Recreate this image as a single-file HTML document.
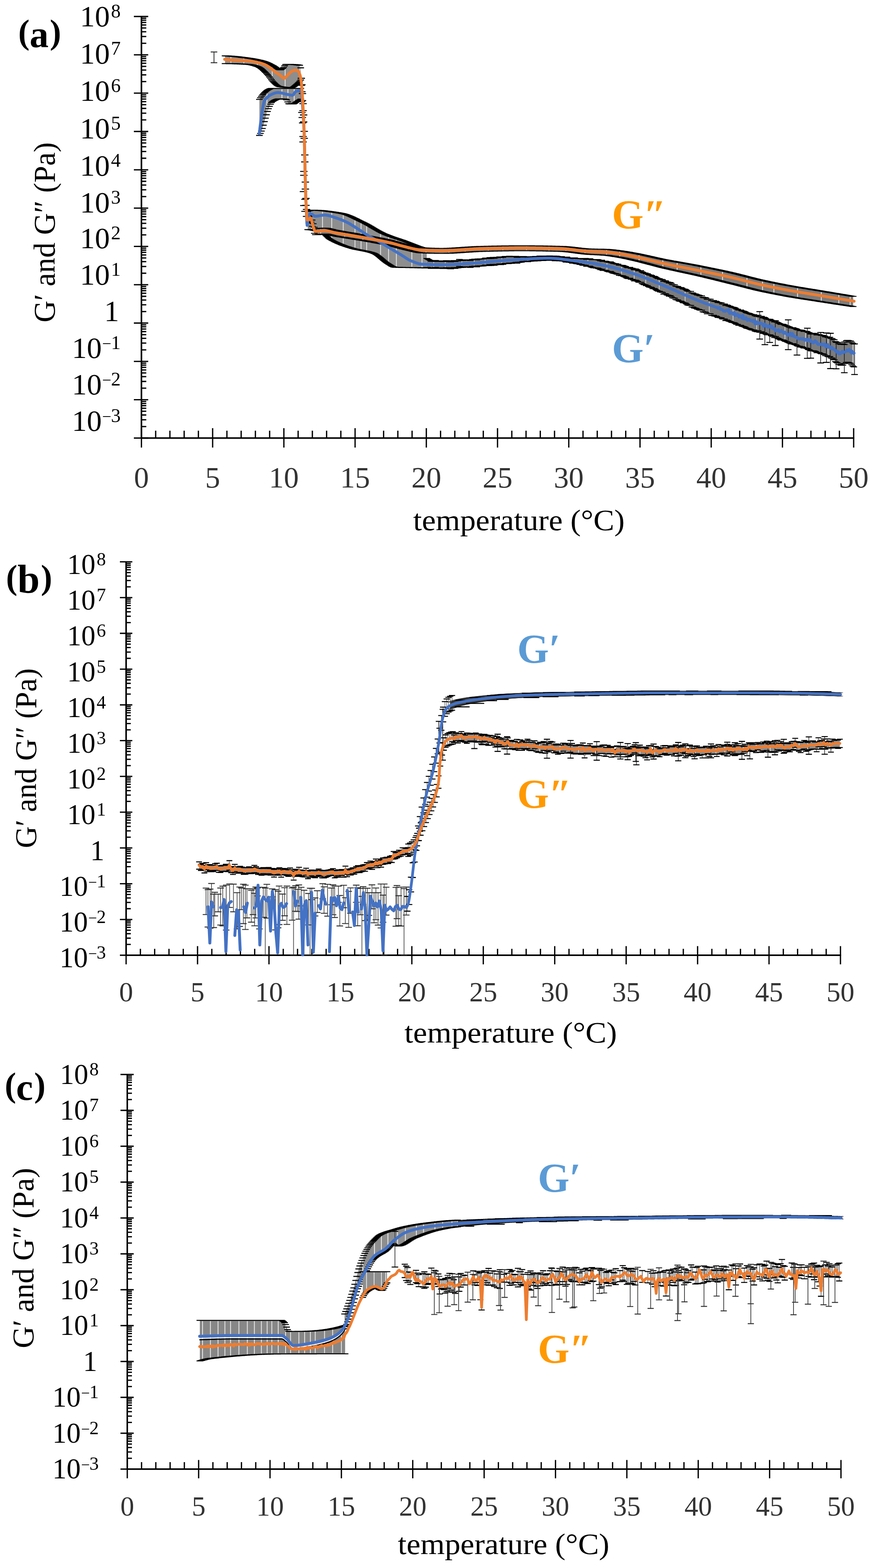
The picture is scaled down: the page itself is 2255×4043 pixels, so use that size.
<!DOCTYPE html>
<html><head><meta charset="utf-8"><title>G' and G'' vs temperature</title>
<style>
html,body{margin:0;padding:0;background:#fff;}
body{width:2255px;height:4043px;overflow:hidden;}
svg{display:block;}
text{font-family:'Liberation Serif', 'DejaVu Serif', serif;}
</style></head><body>
<svg width="2255" height="4043" viewBox="0 0 2255 4043">
<rect width="2255" height="4043" fill="#fff"/>
<path d="M364.5 41V1131 M363 1129.5H2201.5" stroke="#000" stroke-width="4.0" fill="none"/>
<path d="M345 42.5H382M364.5 111.6H377M364.5 94.2H377M364.5 81.8H377M364.5 72.2H377M364.5 64.4H377M364.5 57.8H377M364.5 52.1H377M364.5 47H377M345 141.3H382M364.5 210.4H377M364.5 193H377M364.5 180.6H377M364.5 171.1H377M364.5 163.2H377M364.5 156.6H377M364.5 150.9H377M364.5 145.8H377M345 240.1H382M364.5 309.2H377M364.5 291.8H377M364.5 279.5H377M364.5 269.9H377M364.5 262.1H377M364.5 255.4H377M364.5 249.7H377M364.5 244.7H377M345 339H382M364.5 408H377M364.5 390.6H377M364.5 378.3H377M364.5 368.7H377M364.5 360.9H377M364.5 354.3H377M364.5 348.5H377M364.5 343.5H377M345 437.8H382M364.5 506.8H377M364.5 489.4H377M364.5 477.1H377M364.5 467.5H377M364.5 459.7H377M364.5 453.1H377M364.5 447.3H377M364.5 442.3H377M345 536.6H382M364.5 605.7H377M364.5 588.3H377M364.5 575.9H377M364.5 566.3H377M364.5 558.5H377M364.5 551.9H377M364.5 546.2H377M364.5 541.1H377M345 635.4H382M364.5 704.5H377M364.5 687.1H377M364.5 674.7H377M364.5 665.2H377M364.5 657.3H377M364.5 650.7H377M364.5 645H377M364.5 639.9H377M345 734.2H382M364.5 803.3H377M364.5 785.9H377M364.5 773.6H377M364.5 764H377M364.5 756.1H377M364.5 749.5H377M364.5 743.8H377M364.5 738.7H377M345 833H382M364.5 902.1H377M364.5 884.7H377M364.5 872.4H377M364.5 862.8H377M364.5 855H377M364.5 848.4H377M364.5 842.6H377M364.5 837.6H377M345 931.9H382M364.5 1000.9H377M364.5 983.5H377M364.5 971.2H377M364.5 961.6H377M364.5 953.8H377M364.5 947.2H377M364.5 941.4H377M364.5 936.4H377M345 1030.7H382M364.5 1099.8H377M364.5 1082.4H377M364.5 1070H377M364.5 1060.4H377M364.5 1052.6H377M364.5 1046H377M364.5 1040.3H377M364.5 1035.2H377M345 1129.5H382M364.5 1104V1154M401.2 1110.5V1129.5M437.9 1110.5V1129.5M474.6 1110.5V1129.5M511.3 1110.5V1129.5M548 1104V1154M584.8 1110.5V1129.5M621.5 1110.5V1129.5M658.2 1110.5V1129.5M694.9 1110.5V1129.5M731.6 1104V1154M768.3 1110.5V1129.5M805 1110.5V1129.5M841.7 1110.5V1129.5M878.4 1110.5V1129.5M915.1 1104V1154M951.9 1110.5V1129.5M988.6 1110.5V1129.5M1025.3 1110.5V1129.5M1062 1110.5V1129.5M1098.7 1104V1154M1135.4 1110.5V1129.5M1172.1 1110.5V1129.5M1208.8 1110.5V1129.5M1245.5 1110.5V1129.5M1282.2 1104V1154M1319 1110.5V1129.5M1355.7 1110.5V1129.5M1392.4 1110.5V1129.5M1429.1 1110.5V1129.5M1465.8 1104V1154M1502.5 1110.5V1129.5M1539.2 1110.5V1129.5M1575.9 1110.5V1129.5M1612.6 1110.5V1129.5M1649.4 1104V1154M1686.1 1110.5V1129.5M1722.8 1110.5V1129.5M1759.5 1110.5V1129.5M1796.2 1110.5V1129.5M1832.9 1104V1154M1869.6 1110.5V1129.5M1906.3 1110.5V1129.5M1943 1110.5V1129.5M1979.7 1110.5V1129.5M2016.5 1104V1154M2053.2 1110.5V1129.5M2089.9 1110.5V1129.5M2126.6 1110.5V1129.5M2163.3 1110.5V1129.5M2200 1104V1154" stroke="#000" stroke-width="3.3" fill="none"/>
<text x="311" y="67.8" font-size="77" text-anchor="end">10<tspan dx="3" dy="-23" font-size="50">8</tspan></text>
<text x="311" y="164.3" font-size="77" text-anchor="end">10<tspan dx="3" dy="-23" font-size="50">7</tspan></text>
<text x="311" y="260.4" font-size="77" text-anchor="end">10<tspan dx="3" dy="-23" font-size="50">6</tspan></text>
<text x="311" y="357" font-size="77" text-anchor="end">10<tspan dx="3" dy="-23" font-size="50">5</tspan></text>
<text x="311" y="453.1" font-size="77" text-anchor="end">10<tspan dx="3" dy="-23" font-size="50">4</tspan></text>
<text x="311" y="547.8" font-size="77" text-anchor="end">10<tspan dx="3" dy="-23" font-size="50">3</tspan></text>
<text x="311" y="640" font-size="77" text-anchor="end">10<tspan dx="3" dy="-23" font-size="50">2</tspan></text>
<text x="311" y="734.3" font-size="77" text-anchor="end">10<tspan dx="3" dy="-23" font-size="50">1</tspan></text>
<text x="307" y="828.3" font-size="77" text-anchor="end">1</text>
<text x="311" y="922.6" font-size="77" text-anchor="end">10<tspan dx="1" dy="-23" font-size="42">−</tspan><tspan dx="-1" font-size="50">1</tspan></text>
<text x="311" y="1016.6" font-size="77" text-anchor="end">10<tspan dx="1" dy="-23" font-size="42">−</tspan><tspan dx="-1" font-size="50">2</tspan></text>
<text x="311" y="1110.6" font-size="77" text-anchor="end">10<tspan dx="1" dy="-23" font-size="42">−</tspan><tspan dx="-1" font-size="50">3</tspan></text>
<text x="364.5" y="1257" font-size="77" text-anchor="middle" fill="#333">0</text>
<text x="548" y="1257" font-size="77" text-anchor="middle" fill="#333">5</text>
<text x="731.6" y="1257" font-size="77" text-anchor="middle" fill="#333">10</text>
<text x="915.1" y="1257" font-size="77" text-anchor="middle" fill="#333">15</text>
<text x="1098.7" y="1257" font-size="77" text-anchor="middle" fill="#333">20</text>
<text x="1282.2" y="1257" font-size="77" text-anchor="middle" fill="#333">25</text>
<text x="1465.8" y="1257" font-size="77" text-anchor="middle" fill="#333">30</text>
<text x="1649.4" y="1257" font-size="77" text-anchor="middle" fill="#333">35</text>
<text x="1832.9" y="1257" font-size="77" text-anchor="middle" fill="#333">40</text>
<text x="2016.5" y="1257" font-size="77" text-anchor="middle" fill="#333">45</text>
<text x="2200" y="1257" font-size="77" text-anchor="middle" fill="#333">50</text>
<text x="1064.8" y="1366.7" font-size="76" textLength="545.1" lengthAdjust="spacingAndGlyphs">temperature (°C)</text>
<text transform="translate(141 831.6) rotate(-90)" x="0" y="0" font-size="78" textLength="464.8" lengthAdjust="spacingAndGlyphs">G′ and G″ (Pa)</text>
<text x="47" y="112" font-size="88" font-weight="bold">(<tspan font-size="98" dy="8.9">a</tspan><tspan dx="3" dy="-8.9">)</tspan></text>
<path d="M325 1447.1V2464.5 M323.5 2463H2167.5" stroke="#000" stroke-width="4.0" fill="none"/>
<path d="M309 1448.6H341M325 1513.1H337M325 1496.8H337M325 1485.3H337M325 1476.4H337M325 1469.1H337M325 1462.9H337M325 1457.5H337M325 1452.8H337M309 1540.8H341M325 1605.3H337M325 1589H337M325 1577.5H337M325 1568.6H337M325 1561.3H337M325 1555.1H337M325 1549.8H337M325 1545H337M309 1633H341M325 1697.5H337M325 1681.3H337M325 1669.7H337M325 1660.8H337M325 1653.5H337M325 1647.3H337M325 1642H337M325 1637.3H337M309 1725.3H341M325 1789.7H337M325 1773.5H337M325 1762H337M325 1753H337M325 1745.7H337M325 1739.5H337M325 1734.2H337M325 1729.5H337M309 1817.5H341M325 1881.9H337M325 1865.7H337M325 1854.2H337M325 1845.2H337M325 1837.9H337M325 1831.8H337M325 1826.4H337M325 1821.7H337M309 1909.7H341M325 1974.1H337M325 1957.9H337M325 1946.4H337M325 1937.5H337M325 1930.1H337M325 1924H337M325 1918.6H337M325 1913.9H337M309 2001.9H341M325 2066.4H337M325 2050.1H337M325 2038.6H337M325 2029.7H337M325 2022.4H337M325 2016.2H337M325 2010.8H337M325 2006.1H337M309 2094.1H341M325 2158.6H337M325 2142.3H337M325 2130.8H337M325 2121.9H337M325 2114.6H337M325 2108.4H337M325 2103.1H337M325 2098.3H337M309 2186.3H341M325 2250.8H337M325 2234.6H337M325 2223H337M325 2214.1H337M325 2206.8H337M325 2200.6H337M325 2195.3H337M325 2190.6H337M309 2278.6H341M325 2343H337M325 2326.8H337M325 2315.3H337M325 2306.3H337M325 2299H337M325 2292.8H337M325 2287.5H337M325 2282.8H337M309 2370.8H341M325 2435.2H337M325 2419H337M325 2407.5H337M325 2398.5H337M325 2391.2H337M325 2385.1H337M325 2379.7H337M325 2375H337M309 2463H341M325 2439.6V2486.6M361.8 2446.6V2463M398.6 2446.6V2463M435.5 2446.6V2463M472.3 2446.6V2463M509.1 2439.6V2486.6M545.9 2446.6V2463M582.7 2446.6V2463M619.6 2446.6V2463M656.4 2446.6V2463M693.2 2439.6V2486.6M730 2446.6V2463M766.8 2446.6V2463M803.7 2446.6V2463M840.5 2446.6V2463M877.3 2439.6V2486.6M914.1 2446.6V2463M950.9 2446.6V2463M987.8 2446.6V2463M1024.6 2446.6V2463M1061.4 2439.6V2486.6M1098.2 2446.6V2463M1135 2446.6V2463M1171.9 2446.6V2463M1208.7 2446.6V2463M1245.5 2439.6V2486.6M1282.3 2446.6V2463M1319.1 2446.6V2463M1356 2446.6V2463M1392.8 2446.6V2463M1429.6 2439.6V2486.6M1466.4 2446.6V2463M1503.2 2446.6V2463M1540.1 2446.6V2463M1576.9 2446.6V2463M1613.7 2439.6V2486.6M1650.5 2446.6V2463M1687.3 2446.6V2463M1724.2 2446.6V2463M1761 2446.6V2463M1797.8 2439.6V2486.6M1834.6 2446.6V2463M1871.4 2446.6V2463M1908.3 2446.6V2463M1945.1 2446.6V2463M1981.9 2439.6V2486.6M2018.7 2446.6V2463M2055.5 2446.6V2463M2092.4 2446.6V2463M2129.2 2446.6V2463M2166 2439.6V2486.6" stroke="#000" stroke-width="3.3" fill="none"/>
<text x="273" y="1479.9" font-size="73" text-anchor="end">10<tspan dx="3" dy="-22" font-size="48">8</tspan></text>
<text x="273" y="1572.1" font-size="73" text-anchor="end">10<tspan dx="3" dy="-22" font-size="48">7</tspan></text>
<text x="273" y="1664.3" font-size="73" text-anchor="end">10<tspan dx="3" dy="-22" font-size="48">6</tspan></text>
<text x="273" y="1756.5" font-size="73" text-anchor="end">10<tspan dx="3" dy="-22" font-size="48">5</tspan></text>
<text x="273" y="1848.7" font-size="73" text-anchor="end">10<tspan dx="3" dy="-22" font-size="48">4</tspan></text>
<text x="273" y="1941" font-size="73" text-anchor="end">10<tspan dx="3" dy="-22" font-size="48">3</tspan></text>
<text x="273" y="2033.2" font-size="73" text-anchor="end">10<tspan dx="3" dy="-22" font-size="48">2</tspan></text>
<text x="273" y="2125.4" font-size="73" text-anchor="end">10<tspan dx="3" dy="-22" font-size="48">1</tspan></text>
<text x="269" y="2217.6" font-size="73" text-anchor="end">1</text>
<text x="273" y="2309.8" font-size="73" text-anchor="end">10<tspan dx="1" dy="-22" font-size="40">−</tspan><tspan dx="-1" font-size="48">1</tspan></text>
<text x="273" y="2402.1" font-size="73" text-anchor="end">10<tspan dx="1" dy="-22" font-size="40">−</tspan><tspan dx="-1" font-size="48">2</tspan></text>
<text x="273" y="2494.3" font-size="73" text-anchor="end">10<tspan dx="1" dy="-22" font-size="40">−</tspan><tspan dx="-1" font-size="48">3</tspan></text>
<text x="325" y="2582" font-size="72" text-anchor="middle" fill="#333">0</text>
<text x="509.1" y="2582" font-size="72" text-anchor="middle" fill="#333">5</text>
<text x="693.2" y="2582" font-size="72" text-anchor="middle" fill="#333">10</text>
<text x="877.3" y="2582" font-size="72" text-anchor="middle" fill="#333">15</text>
<text x="1061.4" y="2582" font-size="72" text-anchor="middle" fill="#333">20</text>
<text x="1245.5" y="2582" font-size="72" text-anchor="middle" fill="#333">25</text>
<text x="1429.6" y="2582" font-size="72" text-anchor="middle" fill="#333">30</text>
<text x="1613.7" y="2582" font-size="72" text-anchor="middle" fill="#333">35</text>
<text x="1797.8" y="2582" font-size="72" text-anchor="middle" fill="#333">40</text>
<text x="1981.9" y="2582" font-size="72" text-anchor="middle" fill="#333">45</text>
<text x="2166" y="2582" font-size="72" text-anchor="middle" fill="#333">50</text>
<text x="1042.3" y="2687.5" font-size="76" textLength="547.6" lengthAdjust="spacingAndGlyphs">temperature (°C)</text>
<text transform="translate(93 2187) rotate(-90)" x="0" y="0" font-size="78" textLength="464" lengthAdjust="spacingAndGlyphs">G′ and G″ (Pa)</text>
<text x="15.6" y="1517.7" font-size="88" font-weight="bold">(<tspan font-size="103" dy="10.2">b</tspan><tspan dx="3" dy="-10.2">)</tspan></text>
<path d="M328 2769V3789.5 M326.5 3788H2168.8" stroke="#000" stroke-width="4.0" fill="none"/>
<path d="M310.5 2770.5H344.6M328 2835.2H340M328 2818.9H340M328 2807.3H340M328 2798.3H340M328 2791H340M328 2784.8H340M328 2779.5H340M328 2774.7H340M310.5 2863H344.6M328 2927.7H340M328 2911.4H340M328 2899.8H340M328 2890.8H340M328 2883.5H340M328 2877.3H340M328 2872H340M328 2867.2H340M310.5 2955.5H344.6M328 3020.2H340M328 3003.9H340M328 2992.3H340M328 2983.3H340M328 2976H340M328 2969.8H340M328 2964.5H340M328 2959.7H340M310.5 3048H344.6M328 3112.7H340M328 3096.4H340M328 3084.8H340M328 3075.8H340M328 3068.5H340M328 3062.3H340M328 3057H340M328 3052.2H340M310.5 3140.5H344.6M328 3205.2H340M328 3188.9H340M328 3177.3H340M328 3168.3H340M328 3161H340M328 3154.8H340M328 3149.5H340M328 3144.7H340M310.5 3233H344.6M328 3297.7H340M328 3281.4H340M328 3269.8H340M328 3260.8H340M328 3253.5H340M328 3247.3H340M328 3242H340M328 3237.2H340M310.5 3325.5H344.6M328 3390.2H340M328 3373.9H340M328 3362.3H340M328 3353.3H340M328 3346H340M328 3339.8H340M328 3334.5H340M328 3329.7H340M310.5 3418H344.6M328 3482.7H340M328 3466.4H340M328 3454.8H340M328 3445.8H340M328 3438.5H340M328 3432.3H340M328 3427H340M328 3422.2H340M310.5 3510.5H344.6M328 3575.2H340M328 3558.9H340M328 3547.3H340M328 3538.3H340M328 3531H340M328 3524.8H340M328 3519.5H340M328 3514.7H340M310.5 3603H344.6M328 3667.7H340M328 3651.4H340M328 3639.8H340M328 3630.8H340M328 3623.5H340M328 3617.3H340M328 3612H340M328 3607.2H340M310.5 3695.5H344.6M328 3760.2H340M328 3743.9H340M328 3732.3H340M328 3723.3H340M328 3716H340M328 3709.8H340M328 3704.5H340M328 3699.7H340M310.5 3788H344.6M328 3764.4V3811.8M364.8 3770V3788M401.6 3770V3788M438.4 3770V3788M475.1 3770V3788M511.9 3764.4V3811.8M548.7 3770V3788M585.5 3770V3788M622.3 3770V3788M659.1 3770V3788M695.9 3764.4V3811.8M732.6 3770V3788M769.4 3770V3788M806.2 3770V3788M843 3770V3788M879.8 3764.4V3811.8M916.6 3770V3788M953.4 3770V3788M990.1 3770V3788M1026.9 3770V3788M1063.7 3764.4V3811.8M1100.5 3770V3788M1137.3 3770V3788M1174.1 3770V3788M1210.9 3770V3788M1247.7 3764.4V3811.8M1284.4 3770V3788M1321.2 3770V3788M1358 3770V3788M1394.8 3770V3788M1431.6 3764.4V3811.8M1468.4 3770V3788M1505.2 3770V3788M1541.9 3770V3788M1578.7 3770V3788M1615.5 3764.4V3811.8M1652.3 3770V3788M1689.1 3770V3788M1725.9 3770V3788M1762.7 3770V3788M1799.4 3764.4V3811.8M1836.2 3770V3788M1873 3770V3788M1909.8 3770V3788M1946.6 3770V3788M1983.4 3764.4V3811.8M2020.2 3770V3788M2056.9 3770V3788M2093.7 3770V3788M2130.5 3770V3788M2167.3 3764.4V3811.8" stroke="#000" stroke-width="3.3" fill="none"/>
<text x="254.5" y="2794.8" font-size="73" text-anchor="end">10<tspan dx="3" dy="-22" font-size="48">8</tspan></text>
<text x="254.5" y="2887.3" font-size="73" text-anchor="end">10<tspan dx="3" dy="-22" font-size="48">7</tspan></text>
<text x="254.5" y="2979.8" font-size="73" text-anchor="end">10<tspan dx="3" dy="-22" font-size="48">6</tspan></text>
<text x="254.5" y="3072.3" font-size="73" text-anchor="end">10<tspan dx="3" dy="-22" font-size="48">5</tspan></text>
<text x="254.5" y="3164.8" font-size="73" text-anchor="end">10<tspan dx="3" dy="-22" font-size="48">4</tspan></text>
<text x="254.5" y="3257.3" font-size="73" text-anchor="end">10<tspan dx="3" dy="-22" font-size="48">3</tspan></text>
<text x="254.5" y="3349.8" font-size="73" text-anchor="end">10<tspan dx="3" dy="-22" font-size="48">2</tspan></text>
<text x="254.5" y="3442.3" font-size="73" text-anchor="end">10<tspan dx="3" dy="-22" font-size="48">1</tspan></text>
<text x="250.5" y="3534.8" font-size="73" text-anchor="end">1</text>
<text x="254.5" y="3627.3" font-size="73" text-anchor="end">10<tspan dx="1" dy="-22" font-size="40">−</tspan><tspan dx="-1" font-size="48">1</tspan></text>
<text x="254.5" y="3719.8" font-size="73" text-anchor="end">10<tspan dx="1" dy="-22" font-size="40">−</tspan><tspan dx="-1" font-size="48">2</tspan></text>
<text x="254.5" y="3812.3" font-size="73" text-anchor="end">10<tspan dx="1" dy="-22" font-size="40">−</tspan><tspan dx="-1" font-size="48">3</tspan></text>
<text x="328" y="3908" font-size="71" text-anchor="middle" fill="#333">0</text>
<text x="511.9" y="3908" font-size="71" text-anchor="middle" fill="#333">5</text>
<text x="695.9" y="3908" font-size="71" text-anchor="middle" fill="#333">10</text>
<text x="879.8" y="3908" font-size="71" text-anchor="middle" fill="#333">15</text>
<text x="1063.7" y="3908" font-size="71" text-anchor="middle" fill="#333">20</text>
<text x="1247.7" y="3908" font-size="71" text-anchor="middle" fill="#333">25</text>
<text x="1431.6" y="3908" font-size="71" text-anchor="middle" fill="#333">30</text>
<text x="1615.5" y="3908" font-size="71" text-anchor="middle" fill="#333">35</text>
<text x="1799.4" y="3908" font-size="71" text-anchor="middle" fill="#333">40</text>
<text x="1983.4" y="3908" font-size="71" text-anchor="middle" fill="#333">45</text>
<text x="2167.3" y="3908" font-size="71" text-anchor="middle" fill="#333">50</text>
<text x="1025.3" y="4007" font-size="76" textLength="545.1" lengthAdjust="spacingAndGlyphs">temperature (°C)</text>
<text transform="translate(86 3476.5) rotate(-90)" x="0" y="0" font-size="78" textLength="465" lengthAdjust="spacingAndGlyphs">G′ and G″ (Pa)</text>
<text x="12.2" y="2826.5" font-size="88" font-weight="bold">(<tspan font-size="98" dy="9.6">c</tspan><tspan dx="3" dy="-9.6">)</tspan></text>
<polygon points="668.5,256.2 671.1,252 673.7,248.2 676.3,244.8 678.9,241.9 681.5,239 684.1,236.5 686.7,234.2 689.3,232.4 691.9,230.9 694.5,229.6 697.1,228.5 699.7,228 702.3,228 704.9,228 707.5,228 710.1,228 712.7,228 715.3,228 717.9,228 720.5,228 723.1,228 725.7,228 728.3,228 730.9,228 733.5,228 736.1,228 738.7,228 741.3,228 743.9,228 746.5,228 749.1,228 751.7,228 754.3,228 756.9,228 759.5,228 762.1,228 764.7,228 767.3,228 769.9,228 772.5,228 775.1,228 775.1,255.6 772.5,257.3 769.9,258.9 767.3,260.6 764.7,262.2 762.1,264.1 759.5,266.1 756.9,267.6 754.3,268 751.7,268 749.1,268 746.5,268 743.9,267.4 741.3,262.8 738.7,257.5 736.1,255.9 733.5,255.6 730.9,255.4 728.3,255.2 725.7,255.1 723.1,255 720.5,255 717.9,255.1 715.3,255.6 712.7,256.3 710.1,257.4 707.5,258.6 704.9,260.1 702.3,261.8 699.7,264.4 697.1,268.8 694.5,274.3 691.9,280.2 689.3,287.4 686.7,295.9 684.1,304.7 681.5,313.6 678.9,322.9 676.3,331.2 673.7,338 671.1,344 668.5,349.1" fill="#8e8e8e"/>
<path d="M687.9 236.2V293.9M726.6 230V253.1M742 230V260.8M758.2 230V264.1" stroke="#fff" stroke-opacity="0.85" stroke-width="2.1" fill="none"/>
<path d="M660 256.2h17M660 349.1h17M662.6 252h17M662.6 344h17M665.2 248.2h17M665.2 338h17M667.8 244.8h17M667.8 331.2h17M670.4 241.9h17M670.4 322.9h17M673 239h17M673 313.6h17M675.6 236.5h17M675.6 304.7h17M678.2 234.2h17M678.2 295.9h17M680.8 232.4h17M680.8 287.4h17M683.4 230.9h17M683.4 280.2h17M686 229.6h17M686 274.3h17M688.6 228.5h17M688.6 268.8h17M691.2 228h17M691.2 264.4h17M693.8 228h17M693.8 261.8h17M696.4 228h17M696.4 260.1h17M699 228h17M699 258.6h17M701.6 228h17M701.6 257.4h17M704.2 228h17M704.2 256.3h17M706.8 228h17M706.8 255.6h17M709.4 228h17M709.4 255.1h17M712 228h17M712 255h17M714.6 228h17M714.6 255h17M717.2 228h17M717.2 255.1h17M719.8 228h17M719.8 255.2h17M722.4 228h17M722.4 255.4h17M725 228h17M725 255.6h17M727.6 228h17M727.6 255.9h17M730.2 228h17M730.2 257.5h17M732.8 228h17M732.8 262.8h17M735.4 228h17M735.4 267.4h17M738 228h17M738 268h17M740.6 228h17M740.6 268h17M743.2 228h17M743.2 268h17M745.8 228h17M745.8 268h17M748.4 228h17M748.4 267.6h17M751 228h17M751 266.1h17M753.6 228h17M753.6 264.1h17M756.2 228h17M756.2 262.2h17M758.8 228h17M758.8 260.6h17M761.4 228h17M761.4 258.9h17M764 228h17M764 257.3h17M766.6 228h17M766.6 255.6h17" stroke="#000" stroke-width="2.6" fill="none"/>
<polygon points="793,545 795.6,544.1 798.2,543.2 800.8,542.4 803.4,542 806,542 808.6,542 811.2,542.1 813.8,542.2 816.4,542.3 819,542.4 821.6,542.6 824.2,542.7 826.8,542.9 829.4,543.1 832,543.4 834.6,543.6 837.2,543.9 839.8,544.2 842.4,544.5 845,544.8 847.6,545.1 850.2,545.5 852.8,545.8 855.4,546.2 858,546.6 860.6,547 863.2,547.4 865.8,547.8 868.4,548.2 871,548.6 873.6,549.1 876.2,549.5 878.8,550 881.4,550.5 884,551 886.6,551.7 889.2,552.5 891.8,553.3 894.4,554.2 897,555.2 899.6,556.2 902.2,557.3 904.8,558.5 907.4,559.6 910,560.8 912.6,562.1 915.2,563.3 917.8,564.6 920.4,565.9 923,567.2 925.6,568.5 928.2,569.7 930.8,571 933.4,572.2 936,573.5 938.6,574.7 941.2,576.1 943.8,577.5 946.4,578.9 949,580.3 951.6,581.8 954.2,583.3 956.8,584.9 959.4,586.4 962,588 964.6,589.5 967.2,591 969.8,592.5 972.4,594 975,595.5 977.6,596.9 980.2,598.3 982.8,599.6 985.4,600.9 988,602.1 990.6,603.3 993.2,604.4 995.8,605.4 998.4,606.4 1001,607.4 1003.6,608.4 1006.2,609.4 1008.8,610.3 1011.4,611.2 1014,612.1 1016.6,613 1019.2,613.8 1021.8,614.7 1024.4,615.6 1027,616.4 1029.6,617.3 1032.2,618.2 1034.8,619 1037.4,619.9 1040,620.8 1042.6,621.8 1045.2,622.7 1047.8,623.7 1050.4,624.7 1053,625.7 1055.6,626.7 1058.2,627.7 1060.8,628.8 1063.4,629.8 1066,630.8 1068.6,631.9 1071.2,632.9 1073.8,633.8 1076.4,634.8 1079,635.7 1081.6,636.5 1084.2,637.4 1086.8,638.2 1089.4,639 1092,639.8 1094.6,640.5 1097.2,641.2 1099.8,641.9 1099.8,691 1097.2,690.9 1094.6,690.9 1092,690.8 1089.4,690.7 1086.8,690.7 1084.2,690.6 1081.6,690.5 1079,690.5 1076.4,690.4 1073.8,690.3 1071.2,690.3 1068.6,690.2 1066,690.1 1063.4,690.1 1060.8,690 1058.2,690 1055.6,689.9 1053,689.9 1050.4,689.8 1047.8,689.8 1045.2,689.7 1042.6,689.7 1040,689.7 1037.4,689.6 1034.8,689.6 1032.2,689.5 1029.6,689.4 1027,689.4 1024.4,689.3 1021.8,689.2 1019.2,689.1 1016.6,688.8 1014,688.1 1011.4,687 1008.8,685.6 1006.2,683.9 1003.6,682.2 1001,680.6 998.4,679 995.8,677.3 993.2,675.3 990.6,673.3 988,671.1 985.4,668.9 982.8,666.6 980.2,664.4 977.6,662.2 975,660.2 972.4,658.2 969.8,656.5 967.2,654.9 964.6,653.6 962,652.6 959.4,651.8 956.8,650.9 954.2,650.2 951.6,649.5 949,648.9 946.4,648.3 943.8,647.7 941.2,647.2 938.6,646.7 936,646.2 933.4,645.7 930.8,645.3 928.2,644.8 925.6,644.3 923,643.8 920.4,643.3 917.8,642.7 915.2,642.2 912.6,641.5 910,640.8 907.4,640.1 904.8,639.3 902.2,638.5 899.6,637.7 897,636.9 894.4,636 891.8,635.2 889.2,634.3 886.6,633.3 884,632.4 881.4,631.4 878.8,630.4 876.2,629.3 873.6,628.2 871,627.1 868.4,625.9 865.8,624.7 863.2,623.5 860.6,622.2 858,620.8 855.4,619.5 852.8,618 850.2,616.5 847.6,614.6 845,612.3 842.4,609.8 839.8,607.3 837.2,604.8 834.6,602.6 832,600.9 829.4,599.8 826.8,598.9 824.2,598 821.6,597.1 819,596.3 816.4,595.6 813.8,594.9 811.2,594.3 808.6,593.7 806,593.2 803.4,592.8 800.8,592.4 798.2,592.2 795.6,592.1 793,592" fill="#8e8e8e"/>
<path d="M803.1 544V590.8M831.2 545.4V598.9M854.9 548.2V617.5M884.6 553V630.4M914.8 565.3V640.2M930.5 573V643.3M944.9 579.5V645.7M980.7 600.3V662.4M1001.4 609.4V678.6M1021.5 616.7V687.2M1061.4 630.8V688M1087.6 640.2V688.7" stroke="#fff" stroke-opacity="0.85" stroke-width="1.9" fill="none"/>
<path d="M784.5 545h17M784.5 592h17M787.1 544.1h17M787.1 592.1h17M789.7 543.2h17M789.7 592.2h17M792.3 542.4h17M792.3 592.4h17M794.9 542h17M794.9 592.8h17M797.5 542h17M797.5 593.2h17M800.1 542h17M800.1 593.7h17M802.7 542.1h17M802.7 594.3h17M805.3 542.2h17M805.3 594.9h17M807.9 542.3h17M807.9 595.6h17M810.5 542.4h17M810.5 596.3h17M813.1 542.6h17M813.1 597.1h17M815.7 542.7h17M815.7 598h17M818.3 542.9h17M818.3 598.9h17M820.9 543.1h17M820.9 599.8h17M823.5 543.4h17M823.5 600.9h17M826.1 543.6h17M826.1 602.6h17M828.7 543.9h17M828.7 604.8h17M831.3 544.2h17M831.3 607.3h17M833.9 544.5h17M833.9 609.8h17M836.5 544.8h17M836.5 612.3h17M839.1 545.1h17M839.1 614.6h17M841.7 545.5h17M841.7 616.5h17M844.3 545.8h17M844.3 618h17M846.9 546.2h17M846.9 619.5h17M849.5 546.6h17M849.5 620.8h17M852.1 547h17M852.1 622.2h17M854.7 547.4h17M854.7 623.5h17M857.3 547.8h17M857.3 624.7h17M859.9 548.2h17M859.9 625.9h17M862.5 548.6h17M862.5 627.1h17M865.1 549.1h17M865.1 628.2h17M867.7 549.5h17M867.7 629.3h17M870.3 550h17M870.3 630.4h17M872.9 550.5h17M872.9 631.4h17M875.5 551h17M875.5 632.4h17M878.1 551.7h17M878.1 633.3h17M880.7 552.5h17M880.7 634.3h17M883.3 553.3h17M883.3 635.2h17M885.9 554.2h17M885.9 636h17M888.5 555.2h17M888.5 636.9h17M891.1 556.2h17M891.1 637.7h17M893.7 557.3h17M893.7 638.5h17M896.3 558.5h17M896.3 639.3h17M898.9 559.6h17M898.9 640.1h17M901.5 560.8h17M901.5 640.8h17M904.1 562.1h17M904.1 641.5h17M906.7 563.3h17M906.7 642.2h17M909.3 564.6h17M909.3 642.7h17M911.9 565.9h17M911.9 643.3h17M914.5 567.2h17M914.5 643.8h17M917.1 568.5h17M917.1 644.3h17M919.7 569.7h17M919.7 644.8h17M922.3 571h17M922.3 645.3h17M924.9 572.2h17M924.9 645.7h17M927.5 573.5h17M927.5 646.2h17M930.1 574.7h17M930.1 646.7h17M932.7 576.1h17M932.7 647.2h17M935.3 577.5h17M935.3 647.7h17M937.9 578.9h17M937.9 648.3h17M940.5 580.3h17M940.5 648.9h17M943.1 581.8h17M943.1 649.5h17M945.7 583.3h17M945.7 650.2h17M948.3 584.9h17M948.3 650.9h17M950.9 586.4h17M950.9 651.8h17M953.5 588h17M953.5 652.6h17M956.1 589.5h17M956.1 653.6h17M958.7 591h17M958.7 654.9h17M961.3 592.5h17M961.3 656.5h17M963.9 594h17M963.9 658.2h17M966.5 595.5h17M966.5 660.2h17M969.1 596.9h17M969.1 662.2h17M971.7 598.3h17M971.7 664.4h17M974.3 599.6h17M974.3 666.6h17M976.9 600.9h17M976.9 668.9h17M979.5 602.1h17M979.5 671.1h17M982.1 603.3h17M982.1 673.3h17M984.7 604.4h17M984.7 675.3h17M987.3 605.4h17M987.3 677.3h17M989.9 606.4h17M989.9 679h17M992.5 607.4h17M992.5 680.6h17M995.1 608.4h17M995.1 682.2h17M997.7 609.4h17M997.7 683.9h17M1000.3 610.3h17M1000.3 685.6h17M1002.9 611.2h17M1002.9 687h17M1005.5 612.1h17M1005.5 688.1h17M1008.1 613h17M1008.1 688.8h17M1010.7 613.8h17M1010.7 689.1h17M1013.3 614.7h17M1013.3 689.2h17M1015.9 615.6h17M1015.9 689.3h17M1018.5 616.4h17M1018.5 689.4h17M1021.1 617.3h17M1021.1 689.4h17M1023.7 618.2h17M1023.7 689.5h17M1026.3 619h17M1026.3 689.6h17M1028.9 619.9h17M1028.9 689.6h17M1031.5 620.8h17M1031.5 689.7h17M1034.1 621.8h17M1034.1 689.7h17M1036.7 622.7h17M1036.7 689.7h17M1039.3 623.7h17M1039.3 689.8h17M1041.9 624.7h17M1041.9 689.8h17M1044.5 625.7h17M1044.5 689.9h17M1047.1 626.7h17M1047.1 689.9h17M1049.7 627.7h17M1049.7 690h17M1052.3 628.8h17M1052.3 690h17M1054.9 629.8h17M1054.9 690.1h17M1057.5 630.8h17M1057.5 690.1h17M1060.1 631.9h17M1060.1 690.2h17M1062.7 632.9h17M1062.7 690.3h17M1065.3 633.8h17M1065.3 690.3h17M1067.9 634.8h17M1067.9 690.4h17M1070.5 635.7h17M1070.5 690.5h17M1073.1 636.5h17M1073.1 690.5h17M1075.7 637.4h17M1075.7 690.6h17M1078.3 638.2h17M1078.3 690.7h17M1080.9 639h17M1080.9 690.7h17M1083.5 639.8h17M1083.5 690.8h17M1086.1 640.5h17M1086.1 690.9h17M1088.7 641.2h17M1088.7 690.9h17M1091.3 641.9h17M1091.3 691h17" stroke="#000" stroke-width="2.6" fill="none"/>
<polygon points="1100,666.5 1102.8,668.1 1105.6,669.7 1108.4,671.4 1111.2,673.5 1114,673.8 1116.8,673.6 1119.6,674.1 1122.4,671.6 1125.2,673 1128,673.1 1130.8,672.7 1133.6,674 1136.4,673.1 1139.2,672.7 1142,674.4 1144.8,673 1147.6,673.3 1150.4,672.2 1153.2,674.2 1156,673.4 1158.8,674.5 1161.6,675 1164.4,673.6 1167.2,672.5 1170,672 1172.8,674 1175.6,672.2 1178.4,672.8 1181.2,672.3 1184,669 1186.8,671.8 1189.6,671.7 1192.4,671.5 1195.2,671.1 1198,671.2 1200.8,670 1203.6,671.2 1206.4,670.1 1209.2,670.5 1212,671.5 1214.8,670.1 1217.6,668.9 1220.4,669.9 1223.2,668.1 1226,669.2 1228.8,670.1 1231.6,667.7 1234.4,668.3 1237.2,667.4 1240,668.1 1242.8,667.9 1245.6,667.6 1248.4,666.9 1251.2,665.3 1254,665.9 1256.8,666 1259.6,666.8 1262.4,664.1 1265.2,666.5 1268,664.7 1270.8,663.6 1273.6,666 1276.4,664.8 1279.2,663.5 1282,664.3 1284.8,664.3 1287.6,662.4 1290.4,664.4 1293.2,662.4 1296,663.6 1298.8,662.2 1301.6,661.2 1304.4,661.8 1307.2,661.8 1310,662.2 1312.8,660.6 1315.6,661.1 1318.4,662.2 1321.2,661.6 1324,661.4 1326.8,662.2 1329.6,660.8 1332.4,663.6 1335.2,661.3 1338,662.2 1340.8,661.8 1343.6,662.8 1346.4,661.6 1349.2,661.3 1352,662.2 1354.8,662.5 1357.6,661.9 1360.4,663.7 1363.2,662.6 1366,663.1 1368.8,663 1371.6,662.7 1374.4,661.6 1377.2,663 1380,661.2 1382.8,661.5 1385.6,662.5 1388.4,662 1391.2,660.2 1394,660.8 1396.8,660.2 1399.6,661.8 1402.4,660.5 1405.2,660.8 1408,660.2 1410.8,660.3 1413.6,661.3 1416.4,659.9 1419.2,660.9 1422,660.5 1424.8,660.7 1427.6,660.1 1430.4,662.4 1433.2,660.3 1436,660.8 1438.8,661.8 1441.6,662.5 1444.4,662.1 1447.2,661.7 1450,663 1452.8,662.9 1455.6,663.5 1458.4,665.7 1461.2,663 1464,664.9 1466.8,665.5 1469.6,665.1 1472.4,665.4 1475.2,666.8 1478,665.9 1480.8,664.8 1483.6,666.1 1486.4,666.8 1489.2,666.4 1492,666.3 1494.8,667.1 1497.6,666.7 1500.4,667.3 1503.2,667.9 1506,667 1508.8,666.4 1511.6,668.9 1514.4,668.3 1517.2,667.6 1520,667.2 1522.8,668.7 1525.6,669.1 1528.4,669.6 1531.2,669.7 1534,669.4 1536.8,669.7 1539.6,669.2 1542.4,670.2 1545.2,670.8 1548,672.5 1550.8,671 1553.6,674.2 1556.4,673.9 1559.2,673.3 1562,673.8 1564.8,675 1567.6,675.7 1570.4,676.6 1573.2,675.2 1576,677 1578.8,678.4 1581.6,679.4 1584.4,679.7 1587.2,680 1590,681.1 1592.8,681.1 1595.6,683.7 1598.4,683.8 1601.2,684.2 1604,684.2 1606.8,685.4 1609.6,686.5 1612.4,687.1 1615.2,689.2 1618,690.4 1620.8,690.4 1623.6,689.5 1626.4,691.9 1629.2,691.7 1632,693 1634.8,695.5 1637.6,693.4 1640.4,694.6 1643.2,696.2 1646,698.3 1648.8,698.3 1651.6,698 1654.4,701 1657.2,702.3 1660,703.8 1662.8,704 1665.6,705.9 1668.4,705.6 1671.2,707.9 1674,709.3 1676.8,709.2 1679.6,710.3 1682.4,712.7 1685.2,712.3 1688,713.3 1690.8,715.3 1693.6,716.9 1696.4,718.3 1699.2,718.3 1702,720.3 1704.8,720.4 1707.6,721.3 1710.4,725.4 1713.2,724 1716,724.5 1718.8,727.1 1721.6,727.4 1724.4,729.8 1727.2,728.3 1730,730.6 1732.8,733.6 1735.6,734.2 1738.4,734.4 1741.2,737.6 1744,738.5 1746.8,738.6 1749.6,741 1752.4,741.8 1755.2,741.5 1758,743.1 1760.8,745.1 1763.6,745.3 1766.4,746.1 1769.2,748.2 1772,750.4 1774.8,751.2 1777.6,751.4 1780.4,751.4 1783.2,755.2 1786,755.6 1788.8,757.6 1791.6,758 1794.4,758.8 1797.2,760.5 1800,760.8 1802.8,762 1805.6,762.8 1808.4,762.8 1811.2,766.4 1814,767.5 1816.8,767.2 1819.6,768.3 1822.4,771.5 1825.2,771.1 1828,771.3 1830.8,771.6 1833.6,775 1836.4,775.6 1839.2,774.8 1842,777 1844.8,776.6 1847.6,778.1 1850.4,780.2 1853.2,780 1856,780.6 1858.8,780.9 1861.6,783.6 1864.4,783.9 1867.2,784 1870,787.6 1872.8,786.4 1875.6,787.5 1878.4,789.2 1881.2,789.6 1884,790.9 1886.8,792.2 1889.6,792.5 1892.4,793.2 1895.2,794.7 1898,796.9 1900.8,797.1 1903.6,799.4 1906.4,799.3 1909.2,799.5 1912,801.5 1914.8,802.2 1917.6,802.9 1920.4,804.2 1923.2,806.1 1926,807.1 1928.8,807.6 1931.6,808.5 1934.4,809.8 1937.2,810.7 1940,811.4 1942.8,811.3 1945.6,813.8 1948.4,814.6 1951.2,815.6 1954,812.9 1956.8,816.6 1959.6,817.2 1962.4,815.6 1965.2,819.7 1968,818 1970.8,820 1973.6,821.4 1976.4,823.1 1979.2,822.9 1982,823.5 1984.8,823.4 1987.6,825.7 1990.4,827.4 1993.2,826.8 1996,830.2 1998.8,827.7 2001.6,830.6 2004.4,831.8 2007.2,833.3 2010,834.6 2012.8,836.3 2015.6,836 2018.4,836.3 2021.2,837.7 2024,839.4 2026.8,839.9 2029.6,841.4 2032.4,842.5 2035.2,843.5 2038,845.1 2040.8,845.6 2043.6,845 2046.4,846.3 2049.2,847.2 2052,848 2054.8,849.8 2057.6,850.7 2060.4,850.9 2063.2,852.6 2066,851.3 2068.8,852.8 2071.6,854.5 2074.4,854.2 2077.2,854.4 2080,855 2082.8,857.2 2085.6,857.8 2088.4,859.5 2091.2,860.2 2094,859.5 2096.8,859.6 2099.6,860 2102.4,860.9 2105.2,863.5 2108,862.5 2110.8,862.7 2113.6,863.8 2116.4,864.9 2119.2,864.7 2122,865.4 2124.8,866.3 2127.6,868.7 2130.4,868.4 2133.2,869.8 2136,870.7 2138.8,869.7 2141.6,872.7 2144.4,872.8 2147.2,875.3 2150,876.2 2152.8,880.6 2155.6,882.3 2158.4,883.2 2161.2,886.6 2164,885.9 2166.8,888.2 2169.6,886.4 2172.4,887.1 2175.2,882.3 2178,881.8 2180.8,878.7 2183.6,877.6 2186.4,878 2189.2,878.8 2192,879.2 2194.8,882.1 2197.6,885.2 2200.4,887.1 2200.4,946 2197.6,943.7 2194.8,940.2 2192,936.8 2189.2,936 2186.4,934.7 2183.6,933.9 2180.8,934.5 2178,937.2 2175.2,937.3 2172.4,941.6 2169.6,940.6 2166.8,941.9 2164,939.3 2161.2,939.6 2158.4,935.8 2155.6,934.4 2152.8,932.4 2150,927.6 2147.2,926.3 2144.4,923.5 2141.6,922.9 2138.8,919.5 2136,920.2 2133.2,918.9 2130.4,917.2 2127.6,917.2 2124.8,914.4 2122,913.2 2119.2,912.2 2116.4,912.1 2113.6,910.6 2110.8,909.2 2108,908.7 2105.2,909.4 2102.4,906.6 2099.6,905.3 2096.8,904.7 2094,904.3 2091.2,904.8 2088.4,903.7 2085.6,901.8 2082.8,901 2080,898.5 2077.2,897.7 2074.4,897.3 2071.6,897.3 2068.8,895.5 2066,893.8 2063.2,894.9 2060.4,893 2057.6,892.6 2054.8,891.6 2052,889.6 2049.2,888.7 2046.4,887.6 2043.6,886.2 2040.8,886.8 2038,886.2 2035.2,884.5 2032.4,883.3 2029.6,882.2 2026.8,880.7 2024,880.1 2021.2,878.3 2018.4,876.8 2015.6,876.5 2012.8,876.8 2010,875 2007.2,873.6 2004.4,872.1 2001.6,870.8 1998.8,867.8 1996,870.3 1993.2,866.9 1990.4,867.4 1987.6,865.7 1984.8,863.4 1982,863.4 1979.2,862.8 1976.4,863 1973.6,861.3 1970.8,859.9 1968,857.8 1965.2,859.5 1962.4,855.4 1959.6,856.9 1956.8,856.4 1954,852.6 1951.2,855.3 1948.4,854.3 1945.6,853.5 1942.8,851 1940,851 1937.2,850.3 1934.4,849.4 1931.6,848 1928.8,847.2 1926,846.6 1923.2,845.7 1920.4,843.7 1917.6,842.4 1914.8,841.6 1912,840.9 1909.2,838.9 1906.4,838.6 1903.6,838.8 1900.8,836.4 1898,836.2 1895.2,834 1892.4,832.4 1889.6,831.7 1886.8,831.4 1884,830 1881.2,828.7 1878.4,828.2 1875.6,826.4 1872.8,825.2 1870,826.5 1867.2,822.7 1864.4,822.5 1861.6,822.2 1858.8,819.5 1856,819.1 1853.2,818.4 1850.4,818.5 1847.6,816.3 1844.8,814.8 1842,815.1 1839.2,812.8 1836.4,813.6 1833.6,812.9 1830.8,809.4 1828,809 1825.2,808.8 1822.4,809.1 1819.6,805.8 1816.8,804.6 1814,804.8 1811.2,803.7 1808.4,799.9 1805.6,799.8 1802.8,799 1800,797.6 1797.2,797.2 1794.4,795.4 1791.6,794.5 1788.8,794 1786,791.9 1783.2,791.5 1780.4,787.6 1777.6,787.5 1774.8,787.1 1772,786.3 1769.2,783.9 1766.4,781.7 1763.6,780.8 1760.8,780.5 1758,778.4 1755.2,776.6 1752.4,776.8 1749.6,775.9 1746.8,773.3 1744,773.1 1741.2,772.1 1738.4,768.8 1735.6,768.4 1732.8,767.7 1730,764.6 1727.2,762.2 1724.4,763.5 1721.6,761 1718.8,760.6 1716,757.8 1713.2,757.1 1710.4,758.4 1707.6,754.2 1704.8,753.1 1702,752.9 1699.2,750.8 1696.4,750.6 1693.6,749 1690.8,747.3 1688,745.2 1685.2,744 1682.4,744.3 1679.6,741.7 1676.8,740.5 1674,740.4 1671.2,738.8 1668.4,736.4 1665.6,736.5 1662.8,734.4 1660,734.1 1657.2,732.4 1654.4,731 1651.6,727.8 1648.8,727.9 1646,727.7 1643.2,725.4 1640.4,723.7 1637.6,722.3 1634.8,724.3 1632,721.6 1629.2,720.1 1626.4,720.1 1623.6,717.5 1620.8,718.3 1618,718.1 1615.2,716.8 1612.4,714.5 1609.6,713.7 1606.8,712.4 1604,710.9 1601.2,710.8 1598.4,710.2 1595.6,709.9 1592.8,707.1 1590,706.9 1587.2,705.7 1584.4,705.2 1581.6,704.7 1578.8,703.5 1576,701.9 1573.2,699.9 1570.4,701.1 1567.6,700 1564.8,699.1 1562,697.6 1559.2,696.9 1556.4,697.4 1553.6,697.4 1550.8,694.1 1548,695.4 1545.2,693.4 1542.4,692.5 1539.6,691.2 1536.8,691.4 1534,690.7 1531.2,690.6 1528.4,690 1525.6,689.1 1522.8,688.2 1520,686.4 1517.2,686.2 1514.4,686.5 1511.6,686.6 1508.8,683.5 1506,683.6 1503.2,684 1500.4,683 1497.6,681.8 1494.8,681.8 1492,680.5 1489.2,680.1 1486.4,680.1 1483.6,679 1480.8,677.3 1478,678 1475.2,678.5 1472.4,676.8 1469.6,676.2 1466.8,676.3 1464,675.5 1461.2,673.3 1458.4,675.9 1455.6,673.6 1452.8,672.9 1450,673 1447.2,671.7 1444.4,672.1 1441.6,672.5 1438.8,671.8 1436,670.8 1433.2,670.3 1430.4,672.4 1427.6,670.1 1424.8,670.7 1422,670.5 1419.2,670.9 1416.4,669.9 1413.6,671.3 1410.8,670.3 1408,670.2 1405.2,670.8 1402.4,670.5 1399.6,671.8 1396.8,670.2 1394,670.8 1391.2,670.2 1388.4,672 1385.6,672.5 1382.8,671.5 1380,671.2 1377.2,673 1374.4,671.7 1371.6,672.9 1368.8,673.4 1366,673.7 1363.2,673.5 1360.4,674.9 1357.6,673.4 1354.8,674.4 1352,674.4 1349.2,674 1346.4,674.6 1343.6,676.2 1340.8,675.7 1338,676.5 1335.2,676 1332.4,678.7 1329.6,676.3 1326.8,678.2 1324,677.7 1321.2,678.2 1318.4,679.1 1315.6,678.3 1312.8,678.1 1310,679.9 1307.2,679.6 1304.4,679.8 1301.6,679.2 1298.8,680.2 1296,681.6 1293.2,680.4 1290.4,682.4 1287.6,680.4 1284.8,682.3 1282,682.3 1279.2,681.5 1276.4,682.8 1273.6,684 1270.8,681.6 1268,682.7 1265.2,684.5 1262.4,682.1 1259.6,684.8 1256.8,684 1254,683.9 1251.2,683.3 1248.4,684.9 1245.6,685.6 1242.8,685.9 1240,686.1 1237.2,685.4 1234.4,686.3 1231.6,685.7 1228.8,688.1 1226,687.2 1223.2,686.1 1220.4,687.9 1217.6,686.9 1214.8,688.1 1212,689.5 1209.2,688.5 1206.4,688.1 1203.6,689.2 1200.8,688 1198,689.2 1195.2,689.1 1192.4,689.5 1189.6,689.7 1186.8,689.8 1184,687 1181.2,690.3 1178.4,690.8 1175.6,690.2 1172.8,692 1170,690 1167.2,690.5 1164.4,691.6 1161.6,693 1158.8,692.5 1156,691.4 1153.2,692.2 1150.4,690.2 1147.6,691.3 1144.8,691 1142,692.4 1139.2,690.7 1136.4,691.1 1133.6,692 1130.8,690.7 1128,691.1 1125.2,691 1122.4,689.6 1119.6,692.1 1116.8,691.6 1114,691.8 1111.2,692 1108.4,690.9 1105.6,690.3 1102.8,689.9 1100,689.5" fill="#7c7c7c"/>
<path d="M1117.8 675.6V689.6M1147.5 675.3V689.3M1190.3 673.7V687.7M1222.2 670.1V684.1M1250.2 667.3V681.3M1293.3 664.4V678.4M1359.6 665.7V672.9M1420.6 662.5V668.5M1480.1 666.8V675.3M1515.1 670.3V684.5M1564.2 677V697.1M1601.7 686.2V708.8M1634.4 697.5V722.3M1664.2 707.9V734.5M1698.9 720.3V748.8M1765.6 748.1V779.7M1827.9 773.3V807M1889.2 794.5V829.7M1950.2 817.6V853.3M1983.9 825.4V861.4M2022.9 841.4V878.1M2076.1 856.4V895.7M2134 871.8V916.9M2197.5 887.2V941.7" stroke="#fff" stroke-opacity="0.85" stroke-width="1.5" fill="none"/>
<path d="M1091.5 666.5h17M1091.5 689.5h17M1094.3 668.1h17M1094.3 689.9h17M1097.1 669.7h17M1097.1 690.3h17M1099.9 671.4h17M1099.9 690.9h17M1102.7 673.5h17M1102.7 692h17M1105.5 673.8h17M1105.5 691.8h17M1108.3 673.6h17M1108.3 691.6h17M1111.1 674.1h17M1111.1 692.1h17M1113.9 671.6h17M1113.9 689.6h17M1116.7 673h17M1116.7 691h17M1119.5 673.1h17M1119.5 691.1h17M1122.3 672.7h17M1122.3 690.7h17M1125.1 674h17M1125.1 692h17M1127.9 673.1h17M1127.9 691.1h17M1130.7 672.7h17M1130.7 690.7h17M1133.5 674.4h17M1133.5 692.4h17M1136.3 673h17M1136.3 691h17M1139.1 673.3h17M1139.1 691.3h17M1141.9 672.2h17M1141.9 690.2h17M1144.7 674.2h17M1144.7 692.2h17M1147.5 673.4h17M1147.5 691.4h17M1150.3 674.5h17M1150.3 692.5h17M1153.1 675h17M1153.1 693h17M1155.9 673.6h17M1155.9 691.6h17M1158.7 672.5h17M1158.7 690.5h17M1161.5 672h17M1161.5 690h17M1164.3 674h17M1164.3 692h17M1167.1 672.2h17M1167.1 690.2h17M1169.9 672.8h17M1169.9 690.8h17M1172.7 672.3h17M1172.7 690.3h17M1175.5 669h17M1175.5 687h17M1178.3 671.8h17M1178.3 689.8h17M1181.1 671.7h17M1181.1 689.7h17M1183.9 671.5h17M1183.9 689.5h17M1186.7 671.1h17M1186.7 689.1h17M1189.5 671.2h17M1189.5 689.2h17M1192.3 670h17M1192.3 688h17M1195.1 671.2h17M1195.1 689.2h17M1197.9 670.1h17M1197.9 688.1h17M1200.7 670.5h17M1200.7 688.5h17M1203.5 671.5h17M1203.5 689.5h17M1206.3 670.1h17M1206.3 688.1h17M1209.1 668.9h17M1209.1 686.9h17M1211.9 669.9h17M1211.9 687.9h17M1214.7 668.1h17M1214.7 686.1h17M1217.5 669.2h17M1217.5 687.2h17M1220.3 670.1h17M1220.3 688.1h17M1223.1 667.7h17M1223.1 685.7h17M1225.9 668.3h17M1225.9 686.3h17M1228.7 667.4h17M1228.7 685.4h17M1231.5 668.1h17M1231.5 686.1h17M1234.3 667.9h17M1234.3 685.9h17M1237.1 667.6h17M1237.1 685.6h17M1239.9 666.9h17M1239.9 684.9h17M1242.7 665.3h17M1242.7 683.3h17M1245.5 665.9h17M1245.5 683.9h17M1248.3 666h17M1248.3 684h17M1251.1 666.8h17M1251.1 684.8h17M1253.9 664.1h17M1253.9 682.1h17M1256.7 666.5h17M1256.7 684.5h17M1259.5 664.7h17M1259.5 682.7h17M1262.3 663.6h17M1262.3 681.6h17M1265.1 666h17M1265.1 684h17M1267.9 664.8h17M1267.9 682.8h17M1270.7 663.5h17M1270.7 681.5h17M1273.5 664.3h17M1273.5 682.3h17M1276.3 664.3h17M1276.3 682.3h17M1279.1 662.4h17M1279.1 680.4h17M1281.9 664.4h17M1281.9 682.4h17M1284.7 662.4h17M1284.7 680.4h17M1287.5 663.6h17M1287.5 681.6h17M1290.3 662.2h17M1290.3 680.2h17M1293.1 661.2h17M1293.1 679.2h17M1295.9 661.8h17M1295.9 679.8h17M1298.7 661.8h17M1298.7 679.6h17M1301.5 662.2h17M1301.5 679.9h17M1304.3 660.6h17M1304.3 678.1h17M1307.1 661.1h17M1307.1 678.3h17M1309.9 662.2h17M1309.9 679.1h17M1312.7 661.6h17M1312.7 678.2h17M1315.5 661.4h17M1315.5 677.7h17M1318.3 662.2h17M1318.3 678.2h17M1321.1 660.8h17M1321.1 676.3h17M1323.9 663.6h17M1323.9 678.7h17M1326.7 661.3h17M1326.7 676h17M1329.5 662.2h17M1329.5 676.5h17M1332.3 661.8h17M1332.3 675.7h17M1335.1 662.8h17M1335.1 676.2h17M1337.9 661.6h17M1337.9 674.6h17M1340.7 661.3h17M1340.7 674h17M1343.5 662.2h17M1343.5 674.4h17M1346.3 662.5h17M1346.3 674.4h17M1349.1 661.9h17M1349.1 673.4h17M1351.9 663.7h17M1351.9 674.9h17M1354.7 662.6h17M1354.7 673.5h17M1357.5 663.1h17M1357.5 673.7h17M1360.3 663h17M1360.3 673.4h17M1363.1 662.7h17M1363.1 672.9h17M1365.9 661.6h17M1365.9 671.7h17M1368.7 663h17M1368.7 673h17M1371.5 661.2h17M1371.5 671.2h17M1374.3 661.5h17M1374.3 671.5h17M1377.1 662.5h17M1377.1 672.5h17M1379.9 662h17M1379.9 672h17M1382.7 660.2h17M1382.7 670.2h17M1385.5 660.8h17M1385.5 670.8h17M1388.3 660.2h17M1388.3 670.2h17M1391.1 661.8h17M1391.1 671.8h17M1393.9 660.5h17M1393.9 670.5h17M1396.7 660.8h17M1396.7 670.8h17M1399.5 660.2h17M1399.5 670.2h17M1402.3 660.3h17M1402.3 670.3h17M1405.1 661.3h17M1405.1 671.3h17M1407.9 659.9h17M1407.9 669.9h17M1410.7 660.9h17M1410.7 670.9h17M1413.5 660.5h17M1413.5 670.5h17M1416.3 660.7h17M1416.3 670.7h17M1419.1 660.1h17M1419.1 670.1h17M1421.9 662.4h17M1421.9 672.4h17M1424.7 660.3h17M1424.7 670.3h17M1427.5 660.8h17M1427.5 670.8h17M1430.3 661.8h17M1430.3 671.8h17M1433.1 662.5h17M1433.1 672.5h17M1435.9 662.1h17M1435.9 672.1h17M1438.7 661.7h17M1438.7 671.7h17M1441.5 663h17M1441.5 673h17M1444.3 662.9h17M1444.3 672.9h17M1447.1 663.5h17M1447.1 673.6h17M1449.9 665.7h17M1449.9 675.9h17M1452.7 663h17M1452.7 673.3h17M1455.5 664.9h17M1455.5 675.5h17M1458.3 665.5h17M1458.3 676.3h17M1461.1 665.1h17M1461.1 676.2h17M1463.9 665.4h17M1463.9 676.8h17M1466.7 666.8h17M1466.7 678.5h17M1469.5 665.9h17M1469.5 678h17M1472.3 664.8h17M1472.3 677.3h17M1475.1 666.1h17M1475.1 679h17M1477.9 666.8h17M1477.9 680.1h17M1480.7 666.4h17M1480.7 680.1h17M1483.5 666.3h17M1483.5 680.5h17M1486.3 667.1h17M1486.3 681.8h17M1489.1 666.7h17M1489.1 681.8h17M1491.9 667.3h17M1491.9 683h17M1494.7 667.9h17M1494.7 684h17M1497.5 667h17M1497.5 683.6h17M1500.3 666.4h17M1500.3 683.5h17M1503.1 668.9h17M1503.1 686.6h17M1505.9 668.3h17M1505.9 686.5h17M1508.7 667.6h17M1508.7 686.2h17M1511.5 667.2h17M1511.5 686.4h17M1514.3 668.7h17M1514.3 688.2h17M1517.1 669.1h17M1517.1 689.1h17M1519.9 669.6h17M1519.9 690h17M1522.7 669.7h17M1522.7 690.6h17M1525.5 669.4h17M1525.5 690.7h17M1528.3 669.7h17M1528.3 691.4h17M1531.1 669.2h17M1531.1 691.2h17M1533.9 670.2h17M1533.9 692.5h17M1536.7 670.8h17M1536.7 693.4h17M1539.5 672.5h17M1539.5 695.4h17M1542.3 671h17M1542.3 694.1h17M1545.1 674.2h17M1545.1 697.4h17M1547.9 673.9h17M1547.9 697.4h17M1550.7 673.3h17M1550.7 696.9h17M1553.5 673.8h17M1553.5 697.6h17M1556.3 675h17M1556.3 699.1h17M1559.1 675.7h17M1559.1 700h17M1561.9 676.6h17M1561.9 701.1h17M1564.7 675.2h17M1564.7 699.9h17M1567.5 677h17M1567.5 701.9h17M1570.3 678.4h17M1570.3 703.5h17M1573.1 679.4h17M1573.1 704.7h17M1575.9 679.7h17M1575.9 705.2h17M1578.7 680h17M1578.7 705.7h17M1581.5 681.1h17M1581.5 706.9h17M1584.3 681.1h17M1584.3 707.1h17M1587.1 683.7h17M1587.1 709.9h17M1589.9 683.8h17M1589.9 710.2h17M1592.7 684.2h17M1592.7 710.8h17M1595.5 684.2h17M1595.5 710.9h17M1598.3 685.4h17M1598.3 712.4h17M1601.1 686.5h17M1601.1 713.7h17M1603.9 687.1h17M1603.9 714.5h17M1606.7 689.2h17M1606.7 716.8h17M1609.5 690.4h17M1609.5 718.1h17M1612.3 690.4h17M1612.3 718.3h17M1615.1 689.5h17M1615.1 717.5h17M1617.9 691.9h17M1617.9 720.1h17M1620.7 691.7h17M1620.7 720.1h17M1623.5 693h17M1623.5 721.6h17M1626.3 695.5h17M1626.3 724.3h17M1629.1 693.4h17M1629.1 722.3h17M1631.9 694.6h17M1631.9 723.7h17M1634.7 696.2h17M1634.7 725.4h17M1637.5 698.3h17M1637.5 727.7h17M1640.3 698.3h17M1640.3 727.9h17M1643.1 698h17M1643.1 727.8h17M1645.9 701h17M1645.9 731h17M1648.7 702.3h17M1648.7 732.4h17M1651.5 703.8h17M1651.5 734.1h17M1654.3 704h17M1654.3 734.4h17M1657.1 705.9h17M1657.1 736.5h17M1659.9 705.6h17M1659.9 736.4h17M1662.7 707.9h17M1662.7 738.8h17M1665.5 709.3h17M1665.5 740.4h17M1668.3 709.2h17M1668.3 740.5h17M1671.1 710.3h17M1671.1 741.7h17M1673.9 712.7h17M1673.9 744.3h17M1676.7 712.3h17M1676.7 744h17M1679.5 713.3h17M1679.5 745.2h17M1682.3 715.3h17M1682.3 747.3h17M1685.1 716.9h17M1685.1 749h17M1687.9 718.3h17M1687.9 750.6h17M1690.7 718.3h17M1690.7 750.8h17M1693.5 720.3h17M1693.5 752.9h17M1696.3 720.4h17M1696.3 753.1h17M1699.1 721.3h17M1699.1 754.2h17M1701.9 725.4h17M1701.9 758.4h17M1704.7 724h17M1704.7 757.1h17M1707.5 724.5h17M1707.5 757.8h17M1710.3 727.1h17M1710.3 760.6h17M1713.1 727.4h17M1713.1 761h17M1715.9 729.8h17M1715.9 763.5h17M1718.7 728.3h17M1718.7 762.2h17M1721.5 730.6h17M1721.5 764.6h17M1724.3 733.6h17M1724.3 767.7h17M1727.1 734.2h17M1727.1 768.4h17M1729.9 734.4h17M1729.9 768.8h17M1732.7 737.6h17M1732.7 772.1h17M1735.5 738.5h17M1735.5 773.1h17M1738.3 738.6h17M1738.3 773.3h17M1741.1 741h17M1741.1 775.9h17M1743.9 741.8h17M1743.9 776.8h17M1746.7 741.5h17M1746.7 776.6h17M1749.5 743.1h17M1749.5 778.4h17M1752.3 745.1h17M1752.3 780.5h17M1755.1 745.3h17M1755.1 780.8h17M1757.9 746.1h17M1757.9 781.7h17M1760.7 748.2h17M1760.7 783.9h17M1763.5 750.4h17M1763.5 786.3h17M1766.3 751.2h17M1766.3 787.1h17M1769.1 751.4h17M1769.1 787.5h17M1771.9 751.4h17M1771.9 787.6h17M1774.7 755.2h17M1774.7 791.5h17M1777.5 755.6h17M1777.5 791.9h17M1780.3 757.6h17M1780.3 794h17M1783.1 758h17M1783.1 794.5h17M1785.9 758.8h17M1785.9 795.4h17M1788.7 760.5h17M1788.7 797.2h17M1791.5 760.8h17M1791.5 797.6h17M1794.3 762h17M1794.3 799h17M1797.1 762.8h17M1797.1 799.8h17M1799.9 762.8h17M1799.9 799.9h17M1802.7 766.4h17M1802.7 803.7h17M1805.5 767.5h17M1805.5 804.8h17M1808.3 767.2h17M1808.3 804.6h17M1811.1 768.3h17M1811.1 805.8h17M1813.9 771.5h17M1813.9 809.1h17M1816.7 771.1h17M1816.7 808.8h17M1819.5 771.3h17M1819.5 809h17M1822.3 771.6h17M1822.3 809.4h17M1825.1 775h17M1825.1 812.9h17M1827.9 775.6h17M1827.9 813.6h17M1830.7 774.8h17M1830.7 812.8h17M1833.5 777h17M1833.5 815.1h17M1836.3 776.6h17M1836.3 814.8h17M1839.1 778.1h17M1839.1 816.3h17M1841.9 780.2h17M1841.9 818.5h17M1844.7 780h17M1844.7 818.4h17M1847.5 780.6h17M1847.5 819.1h17M1850.3 780.9h17M1850.3 819.5h17M1853.1 783.6h17M1853.1 822.2h17M1855.9 783.9h17M1855.9 822.5h17M1858.7 784h17M1858.7 822.7h17M1861.5 787.6h17M1861.5 826.5h17M1864.3 786.4h17M1864.3 825.2h17M1867.1 787.5h17M1867.1 826.4h17M1869.9 789.2h17M1869.9 828.2h17M1872.7 789.6h17M1872.7 828.7h17M1875.5 790.9h17M1875.5 830h17M1878.3 792.2h17M1878.3 831.4h17M1881.1 792.5h17M1881.1 831.7h17M1883.9 793.2h17M1883.9 832.4h17M1886.7 794.7h17M1886.7 834h17M1889.5 796.9h17M1889.5 836.2h17M1892.3 797.1h17M1892.3 836.4h17M1895.1 799.4h17M1895.1 838.8h17M1897.9 799.3h17M1897.9 838.6h17M1900.7 799.5h17M1900.7 838.9h17M1903.5 801.5h17M1903.5 840.9h17M1906.3 802.2h17M1906.3 841.6h17M1909.1 802.9h17M1909.1 842.4h17M1911.9 804.2h17M1911.9 843.7h17M1914.7 806.1h17M1914.7 845.7h17M1917.5 807.1h17M1917.5 846.6h17M1920.3 807.6h17M1920.3 847.2h17M1923.1 808.5h17M1923.1 848h17M1925.9 809.8h17M1925.9 849.4h17M1928.7 810.7h17M1928.7 850.3h17M1931.5 811.4h17M1931.5 851h17M1934.3 811.3h17M1934.3 851h17M1937.1 813.8h17M1937.1 853.5h17M1939.9 814.6h17M1939.9 854.3h17M1942.7 815.6h17M1942.7 855.3h17M1945.5 812.9h17M1945.5 852.6h17M1948.3 816.6h17M1948.3 856.4h17M1951.1 817.2h17M1951.1 856.9h17M1953.9 815.6h17M1953.9 855.4h17M1956.7 819.7h17M1956.7 859.5h17M1959.5 818h17M1959.5 857.8h17M1962.3 820h17M1962.3 859.9h17M1965.1 821.4h17M1965.1 861.3h17M1967.9 823.1h17M1967.9 863h17M1970.7 822.9h17M1970.7 862.8h17M1973.5 823.5h17M1973.5 863.4h17M1976.3 823.4h17M1976.3 863.4h17M1979.1 825.7h17M1979.1 865.7h17M1981.9 827.4h17M1981.9 867.4h17M1984.7 826.8h17M1984.7 866.9h17M1987.5 830.2h17M1987.5 870.3h17M1990.3 827.7h17M1990.3 867.8h17M1993.1 830.6h17M1993.1 870.8h17M1995.9 831.8h17M1995.9 872.1h17M1998.7 833.3h17M1998.7 873.6h17M2001.5 834.6h17M2001.5 875h17M2004.3 836.3h17M2004.3 876.8h17M2007.1 836h17M2007.1 876.5h17M2009.9 836.3h17M2009.9 876.8h17M2012.7 837.7h17M2012.7 878.3h17M2015.5 839.4h17M2015.5 880.1h17M2018.3 839.9h17M2018.3 880.7h17M2021.1 841.4h17M2021.1 882.2h17M2023.9 842.5h17M2023.9 883.3h17M2026.7 843.5h17M2026.7 884.5h17M2029.5 845.1h17M2029.5 886.2h17M2032.3 845.6h17M2032.3 886.8h17M2035.1 845h17M2035.1 886.2h17M2037.9 846.3h17M2037.9 887.6h17M2040.7 847.2h17M2040.7 888.7h17M2043.5 848h17M2043.5 889.6h17M2046.3 849.8h17M2046.3 891.6h17M2049.1 850.7h17M2049.1 892.6h17M2051.9 850.9h17M2051.9 893h17M2054.7 852.6h17M2054.7 894.9h17M2057.5 851.3h17M2057.5 893.8h17M2060.3 852.8h17M2060.3 895.5h17M2063.1 854.5h17M2063.1 897.3h17M2065.9 854.2h17M2065.9 897.3h17M2068.7 854.4h17M2068.7 897.7h17M2071.5 855h17M2071.5 898.5h17M2074.3 857.2h17M2074.3 901h17M2077.1 857.8h17M2077.1 901.8h17M2079.9 859.5h17M2079.9 903.7h17M2082.7 860.2h17M2082.7 904.8h17M2085.5 859.5h17M2085.5 904.3h17M2088.3 859.6h17M2088.3 904.7h17M2091.1 860h17M2091.1 905.3h17M2093.9 860.9h17M2093.9 906.6h17M2096.7 863.5h17M2096.7 909.4h17M2099.5 862.5h17M2099.5 908.7h17M2102.3 862.7h17M2102.3 909.2h17M2105.1 863.8h17M2105.1 910.6h17M2107.9 864.9h17M2107.9 912.1h17M2110.7 864.7h17M2110.7 912.2h17M2113.5 865.4h17M2113.5 913.2h17M2116.3 866.3h17M2116.3 914.4h17M2119.1 868.7h17M2119.1 917.2h17M2121.9 868.4h17M2121.9 917.2h17M2124.7 869.8h17M2124.7 918.9h17M2127.5 870.7h17M2127.5 920.2h17M2130.3 869.7h17M2130.3 919.5h17M2133.1 872.7h17M2133.1 922.9h17M2135.9 872.8h17M2135.9 923.5h17M2138.7 875.3h17M2138.7 926.3h17M2141.5 876.2h17M2141.5 927.6h17M2144.3 880.6h17M2144.3 932.4h17M2147.1 882.3h17M2147.1 934.4h17M2149.9 883.2h17M2149.9 935.8h17M2152.7 886.6h17M2152.7 939.6h17M2155.5 885.9h17M2155.5 939.3h17M2158.3 888.2h17M2158.3 941.9h17M2161.1 886.4h17M2161.1 940.6h17M2163.9 887.1h17M2163.9 941.6h17M2166.7 882.3h17M2166.7 937.3h17M2169.5 881.8h17M2169.5 937.2h17M2172.3 878.7h17M2172.3 934.5h17M2175.1 877.6h17M2175.1 933.9h17M2177.9 878h17M2177.9 934.7h17M2180.7 878.8h17M2180.7 936h17M2183.5 879.2h17M2183.5 936.8h17M2186.3 882.1h17M2186.3 940.2h17M2189.1 885.2h17M2189.1 943.7h17M2191.9 887.1h17M2191.9 946h17" stroke="#000" stroke-width="2.3" fill="none"/>
<path d="M1957.9 803.5V874.2M1971.2 819.4V888.7M1983.6 823.5V883M1998 827.1V890.9M2031.4 824.8V901.5M2053.9 849.8V915.5M2080.5 846.2V924M2089.4 861.3V923.5M2114.9 857.3V935.9M2129.8 858.6V934.4M2140.2 859.4V950.4M2154.9 882.5V950.9M2175.9 888.2V961M2202.3 886.7V965.7" stroke="#222" stroke-width="1.8" fill="none"/>
<path d="M1949.4 803.5h17M1949.4 874.2h17M1962.7 819.4h17M1962.7 888.7h17M1975.1 823.5h17M1975.1 883h17M1989.5 827.1h17M1989.5 890.9h17M2022.9 824.8h17M2022.9 901.5h17M2045.4 849.8h17M2045.4 915.5h17M2072 846.2h17M2072 924h17M2080.9 861.3h17M2080.9 923.5h17M2106.4 857.3h17M2106.4 935.9h17M2121.3 858.6h17M2121.3 934.4h17M2131.7 859.4h17M2131.7 950.4h17M2146.4 882.5h17M2146.4 950.9h17M2167.4 888.2h17M2167.4 961h17M2193.8 886.7h17M2193.8 965.7h17" stroke="#000" stroke-width="2.6" fill="none"/>
<polygon points="580,144 582.6,144.1 585.2,144.2 587.8,144.4 590.4,144.5 593,144.7 595.6,144.9 598.2,145.1 600.8,145.3 603.4,145.6 606,145.8 608.6,146.1 611.2,146.4 613.8,146.6 616.4,146.9 619,147.3 621.6,147.6 624.2,147.9 626.8,148.2 629.4,148.6 632,148.9 634.6,149.3 637.2,149.6 639.8,150 642.4,150.3 645,150.7 647.6,151.1 650.2,151.6 652.8,152 655.4,152.5 658,153 660.6,153.5 663.2,154.1 665.8,154.7 668.4,155.3 671,155.9 673.6,156.6 676.2,157.3 678.8,158 681.4,158.8 684,159.7 686.6,160.7 689.2,161.8 691.8,163 694.4,164.3 697,165.7 699.6,167.1 702.2,168.5 704.8,169.9 707.4,171.5 710,173.4 712.6,175.4 715.2,177.3 717.8,178.9 720.4,179.8 723,179.9 725.6,178.6 728.2,176.6 730.8,174.1 733.4,169.9 736,166.4 738.6,166 741.2,166 743.8,166 746.4,166.1 749,166.1 751.6,166.2 754.2,166.3 756.8,166.5 759.4,166.6 762,166.8 764.6,167.1 767.2,167.4 769.8,167.7 772.4,168.2 775,174.9 775,206.3 772.4,209.4 769.8,212.3 767.2,214.7 764.6,217.1 762,219.4 759.4,221.6 756.8,223.5 754.2,225 751.6,225.8 749,226 746.4,226 743.8,225.9 741.2,225.7 738.6,225.5 736,225.3 733.4,225 730.8,224.7 728.2,224.4 725.6,224 723,223.6 720.4,223.1 717.8,222.3 715.2,220.9 712.6,219 710,216.7 707.4,214.3 704.8,211.8 702.2,209 699.6,205.6 697,202 694.4,198.4 691.8,195 689.2,192.2 686.6,189.5 684,186.8 681.4,184.2 678.8,181.7 676.2,179.3 673.6,177.1 671,175.2 668.4,173.6 665.8,172.3 663.2,171.3 660.6,170.4 658,169.6 655.4,168.8 652.8,168.1 650.2,167.5 647.6,167 645,166.5 642.4,166.2 639.8,166 637.2,165.8 634.6,165.7 632,165.5 629.4,165.4 626.8,165.2 624.2,165.1 621.6,165 619,164.9 616.4,164.8 613.8,164.7 611.2,164.6 608.6,164.5 606,164.4 603.4,164.3 600.8,164.3 598.2,164.2 595.6,164.2 593,164.1 590.4,164.1 587.8,164 585.2,164 582.6,164 580,164" fill="#8e8e8e"/>
<path d="M595.1 146.9V162.2M628.4 150.6V163.4M663.1 156.1V169.3M701.6 170.5V207M734.8 168.4V223.3M772.8 170.2V207.4" stroke="#fff" stroke-opacity="0.85" stroke-width="1.9" fill="none"/>
<path d="M571.5 144h17M571.5 164h17M574.1 144.1h17M574.1 164h17M576.7 144.2h17M576.7 164h17M579.3 144.4h17M579.3 164h17M581.9 144.5h17M581.9 164.1h17M584.5 144.7h17M584.5 164.1h17M587.1 144.9h17M587.1 164.2h17M589.7 145.1h17M589.7 164.2h17M592.3 145.3h17M592.3 164.3h17M594.9 145.6h17M594.9 164.3h17M597.5 145.8h17M597.5 164.4h17M600.1 146.1h17M600.1 164.5h17M602.7 146.4h17M602.7 164.6h17M605.3 146.6h17M605.3 164.7h17M607.9 146.9h17M607.9 164.8h17M610.5 147.3h17M610.5 164.9h17M613.1 147.6h17M613.1 165h17M615.7 147.9h17M615.7 165.1h17M618.3 148.2h17M618.3 165.2h17M620.9 148.6h17M620.9 165.4h17M623.5 148.9h17M623.5 165.5h17M626.1 149.3h17M626.1 165.7h17M628.7 149.6h17M628.7 165.8h17M631.3 150h17M631.3 166h17M633.9 150.3h17M633.9 166.2h17M636.5 150.7h17M636.5 166.5h17M639.1 151.1h17M639.1 167h17M641.7 151.6h17M641.7 167.5h17M644.3 152h17M644.3 168.1h17M646.9 152.5h17M646.9 168.8h17M649.5 153h17M649.5 169.6h17M652.1 153.5h17M652.1 170.4h17M654.7 154.1h17M654.7 171.3h17M657.3 154.7h17M657.3 172.3h17M659.9 155.3h17M659.9 173.6h17M662.5 155.9h17M662.5 175.2h17M665.1 156.6h17M665.1 177.1h17M667.7 157.3h17M667.7 179.3h17M670.3 158h17M670.3 181.7h17M672.9 158.8h17M672.9 184.2h17M675.5 159.7h17M675.5 186.8h17M678.1 160.7h17M678.1 189.5h17M680.7 161.8h17M680.7 192.2h17M683.3 163h17M683.3 195h17M685.9 164.3h17M685.9 198.4h17M688.5 165.7h17M688.5 202h17M691.1 167.1h17M691.1 205.6h17M693.7 168.5h17M693.7 209h17M696.3 169.9h17M696.3 211.8h17M698.9 171.5h17M698.9 214.3h17M701.5 173.4h17M701.5 216.7h17M704.1 175.4h17M704.1 219h17M706.7 177.3h17M706.7 220.9h17M709.3 178.9h17M709.3 222.3h17M711.9 179.8h17M711.9 223.1h17M714.5 179.9h17M714.5 223.6h17M717.1 178.6h17M717.1 224h17M719.7 176.6h17M719.7 224.4h17M722.3 174.1h17M722.3 224.7h17M724.9 169.9h17M724.9 225h17M727.5 166.4h17M727.5 225.3h17M730.1 166h17M730.1 225.5h17M732.7 166h17M732.7 225.7h17M735.3 166h17M735.3 225.9h17M737.9 166.1h17M737.9 226h17M740.5 166.1h17M740.5 226h17M743.1 166.2h17M743.1 225.8h17M745.7 166.3h17M745.7 225h17M748.3 166.5h17M748.3 223.5h17M750.9 166.6h17M750.9 221.6h17M753.5 166.8h17M753.5 219.4h17M756.1 167.1h17M756.1 217.1h17M758.7 167.4h17M758.7 214.7h17M761.3 167.7h17M761.3 212.3h17M763.9 168.2h17M763.9 209.4h17M766.5 174.9h17M766.5 206.3h17" stroke="#000" stroke-width="2.6" fill="none"/>
<polygon points="796,559 798.8,555.5 801.6,557 804.4,567.4 807.2,576.8 810,585.9 812.8,589.5 815.6,589.4 818.4,589.3 821.2,589.1 824,588.9 826.8,588.7 829.6,588.5 832.4,588.3 835.2,588.2 838,588.2 840.8,588.4 843.6,588.7 846.4,589.2 849.2,589.9 852,590.6 854.8,591.3 857.6,592 860.4,592.8 863.2,593.4 866,594 868.8,594.5 871.6,595 874.4,595.5 877.2,596 880,596.5 882.8,596.9 885.6,597.4 888.4,597.9 891.2,598.3 894,598.8 896.8,599.3 899.6,599.8 902.4,600.2 905.2,600.7 908,601.2 910.8,601.7 913.6,602.2 916.4,602.7 919.2,603.1 922,603.6 924.8,604.1 927.6,604.6 930.4,605.1 933.2,605.6 936,606.1 938.8,606.6 941.6,607.1 944.4,607.6 947.2,608.1 950,608.6 952.8,609.1 955.6,609.6 958.4,610.1 961.2,610.7 964,611.2 966.8,611.7 969.6,612.3 972.4,612.8 975.2,613.3 978,613.9 980.8,614.4 983.6,615 986.4,615.6 989.2,616.1 992,616.7 994.8,617.3 997.6,617.9 1000.4,618.6 1003.2,619.2 1006,619.8 1008.8,620.5 1011.6,621.3 1014.4,622 1017.2,622.8 1020,623.6 1022.8,624.4 1025.6,625.2 1028.4,626 1031.2,626.8 1034,627.5 1036.8,628.3 1039.6,629 1042.4,629.7 1045.2,630.4 1048,631.1 1050.8,631.7 1053.6,632.4 1056.4,633.1 1059.2,633.8 1062,634.5 1064.8,635.2 1067.6,635.9 1070.4,636.5 1073.2,637.1 1076,637.6 1078.8,638 1081.6,638.4 1084.4,638.7 1087.2,639 1090,639.1 1092.8,639.2 1095.6,639.4 1098.4,639.5 1101.2,639.6 1104,639.7 1106.8,639.8 1109.6,639.9 1112.4,640 1115.2,640.1 1118,640.1 1120.8,640.2 1123.6,640.2 1126.4,640.3 1129.2,640.3 1132,640.4 1134.8,640.4 1137.6,640.4 1140.4,640.4 1143.2,640.4 1146,640.4 1148.8,640.3 1151.6,640.2 1154.4,640.2 1157.2,640.1 1160,640 1162.8,639.8 1165.6,639.7 1168.4,639.6 1171.2,639.4 1174,639.2 1176.8,639.1 1179.6,638.9 1182.4,638.7 1185.2,638.5 1188,638.3 1190.8,638.1 1193.6,637.9 1196.4,637.7 1199.2,637.5 1202,637.3 1204.8,637.2 1207.6,637 1210.4,636.8 1213.2,636.6 1216,636.4 1218.8,636.3 1221.6,636.1 1224.4,636 1227.2,635.8 1230,635.7 1232.8,635.6 1235.6,635.5 1238.4,635.4 1241.2,635.3 1244,635.3 1246.8,635.2 1249.6,635.1 1252.4,635.1 1255.2,635 1258,634.9 1260.8,634.8 1263.6,634.8 1266.4,634.7 1269.2,634.6 1272,634.6 1274.8,634.5 1277.6,634.4 1280.4,634.4 1283.2,634.3 1286,634.3 1288.8,634.2 1291.6,634.2 1294.4,634.1 1297.2,634.1 1300,634 1302.8,634 1305.6,633.9 1308.4,633.9 1311.2,633.8 1314,633.8 1316.8,633.8 1319.6,633.7 1322.4,633.7 1325.2,633.7 1328,633.7 1330.8,633.6 1333.6,633.6 1336.4,633.6 1339.2,633.6 1342,633.6 1344.8,633.6 1347.6,633.6 1350.4,633.6 1353.2,633.6 1356,633.6 1358.8,633.6 1361.6,633.7 1364.4,633.7 1367.2,633.7 1370,633.7 1372.8,633.8 1375.6,633.8 1378.4,633.8 1381.2,633.9 1384,633.9 1386.8,633.9 1389.6,634 1392.4,634 1395.2,634.1 1398,634.1 1400.8,634.2 1403.6,634.2 1406.4,634.3 1409.2,634.4 1412,634.4 1414.8,634.5 1417.6,634.6 1420.4,634.6 1423.2,634.7 1426,634.8 1428.8,634.8 1431.6,634.9 1434.4,635 1437.2,635.1 1440,635.2 1442.8,635.2 1445.6,635.3 1448.4,635.4 1451.2,635.5 1454,635.7 1456.8,635.9 1459.6,636.1 1462.4,636.3 1465.2,636.6 1468,636.8 1470.8,637.1 1473.6,637.4 1476.4,637.8 1479.2,638.1 1482,638.4 1484.8,638.8 1487.6,639.1 1490.4,639.4 1493.2,639.8 1496,640.1 1498.8,640.4 1501.6,640.7 1504.4,640.9 1507.2,641.2 1510,641.4 1512.8,641.6 1515.6,641.7 1518.4,641.9 1521.2,642 1524,642 1526.8,642.1 1529.6,642.2 1532.4,642.2 1535.2,642.3 1538,642.3 1540.8,642.4 1543.6,642.4 1546.4,642.5 1549.2,642.5 1552,642.6 1554.8,642.7 1557.6,642.8 1560.4,642.9 1563.2,643 1566,643.2 1568.8,643.4 1571.6,643.6 1574.4,643.9 1577.2,644.2 1580,644.5 1582.8,644.8 1585.6,645.2 1588.4,645.5 1591.2,645.9 1594,646.3 1596.8,646.6 1599.6,647 1602.4,647.4 1605.2,647.8 1608,648.2 1610.8,648.6 1613.6,649.1 1616.4,649.6 1619.2,650.1 1622,650.5 1624.8,651.1 1627.6,651.6 1630.4,652.1 1633.2,652.6 1636,653.1 1638.8,653.6 1641.6,654.2 1644.4,654.7 1647.2,655.3 1650,655.9 1652.8,656.5 1655.6,657.1 1658.4,657.7 1661.2,658.3 1664,658.9 1666.8,659.5 1669.6,660.1 1672.4,660.8 1675.2,661.4 1678,662 1680.8,662.7 1683.6,663.3 1686.4,663.9 1689.2,664.6 1692,665.2 1694.8,665.8 1697.6,666.4 1700.4,667 1703.2,667.6 1706,668.2 1708.8,668.8 1711.6,669.4 1714.4,669.9 1717.2,670.5 1720,671 1722.8,671.5 1725.6,672 1728.4,672.5 1731.2,673.1 1734,673.5 1736.8,674 1739.6,674.5 1742.4,675 1745.2,675.5 1748,676 1750.8,676.5 1753.6,676.9 1756.4,677.4 1759.2,677.9 1762,678.4 1764.8,678.9 1767.6,679.4 1770.4,679.8 1773.2,680.3 1776,680.8 1778.8,681.3 1781.6,681.8 1784.4,682.4 1787.2,682.9 1790,683.4 1792.8,684 1795.6,684.5 1798.4,685.1 1801.2,685.6 1804,686.2 1806.8,686.8 1809.6,687.4 1812.4,687.9 1815.2,688.5 1818,689.1 1820.8,689.6 1823.6,690.2 1826.4,690.8 1829.2,691.3 1832,691.9 1834.8,692.5 1837.6,693.1 1840.4,693.6 1843.2,694.2 1846,694.8 1848.8,695.4 1851.6,695.9 1854.4,696.5 1857.2,697.1 1860,697.7 1862.8,698.3 1865.6,698.9 1868.4,699.5 1871.2,700.1 1874,700.8 1876.8,701.4 1879.6,702 1882.4,702.6 1885.2,703.3 1888,703.9 1890.8,704.6 1893.6,705.3 1896.4,706 1899.2,706.6 1902,707.4 1904.8,708.1 1907.6,708.8 1910.4,709.5 1913.2,710.2 1916,711 1918.8,711.7 1921.6,712.4 1924.4,713.1 1927.2,713.9 1930,714.6 1932.8,715.3 1935.6,716 1938.4,716.7 1941.2,717.4 1944,718.1 1946.8,718.8 1949.6,719.5 1952.4,720.2 1955.2,720.8 1958,721.4 1960.8,722.1 1963.6,722.7 1966.4,723.3 1969.2,723.9 1972,724.5 1974.8,725.1 1977.6,725.7 1980.4,726.3 1983.2,726.8 1986,727.4 1988.8,728 1991.6,728.6 1994.4,729.1 1997.2,729.7 2000,730.3 2002.8,730.8 2005.6,731.4 2008.4,731.9 2011.2,732.4 2014,733 2016.8,733.5 2019.6,734.1 2022.4,734.6 2025.2,735.1 2028,735.6 2030.8,736.1 2033.6,736.7 2036.4,737.2 2039.2,737.7 2042,738.2 2044.8,738.7 2047.6,739.2 2050.4,739.6 2053.2,740.1 2056,740.6 2058.8,741.1 2061.6,741.5 2064.4,742 2067.2,742.5 2070,742.9 2072.8,743.4 2075.6,743.8 2078.4,744.3 2081.2,744.7 2084,745.2 2086.8,745.6 2089.6,746.1 2092.4,746.5 2095.2,747 2098,747.4 2100.8,747.9 2103.6,748.3 2106.4,748.8 2109.2,749.3 2112,749.7 2114.8,750.2 2117.6,750.6 2120.4,751.1 2123.2,751.6 2126,752.1 2128.8,752.5 2131.6,753 2134.4,753.5 2137.2,753.9 2140,754.4 2142.8,754.9 2145.6,755.3 2148.4,755.8 2151.2,756.3 2154,756.7 2156.8,757.2 2159.6,757.7 2162.4,758.1 2165.2,758.6 2168,759.1 2170.8,759.5 2173.6,760 2176.4,760.5 2179.2,760.9 2182,761.4 2184.8,761.9 2187.6,762.4 2190.4,762.8 2193.2,763.3 2196,763.8 2198.8,764.2 2198.8,790.3 2196,789.9 2193.2,789.4 2190.4,789 2187.6,788.6 2184.8,788.2 2182,787.8 2179.2,787.3 2176.4,786.9 2173.6,786.5 2170.8,786.1 2168,785.7 2165.2,785.2 2162.4,784.8 2159.6,784.4 2156.8,784 2154,783.5 2151.2,783.1 2148.4,782.7 2145.6,782.2 2142.8,781.8 2140,781.4 2137.2,780.9 2134.4,780.5 2131.6,780.1 2128.8,779.6 2126,779.2 2123.2,778.8 2120.4,778.3 2117.6,777.9 2114.8,777.5 2112,777 2109.2,776.6 2106.4,776.2 2103.6,775.7 2100.8,775.3 2098,774.9 2095.2,774.4 2092.4,774 2089.6,773.6 2086.8,773.2 2084,772.7 2081.2,772.3 2078.4,771.9 2075.6,771.4 2072.8,771 2070,770.6 2067.2,770.1 2064.4,769.7 2061.6,769.2 2058.8,768.8 2056,768.3 2053.2,767.9 2050.4,767.4 2047.6,766.9 2044.8,766.4 2042,766 2039.2,765.5 2036.4,765 2033.6,764.5 2030.8,764 2028,763.5 2025.2,763 2022.4,762.4 2019.6,761.9 2016.8,761.4 2014,760.9 2011.2,760.3 2008.4,759.8 2005.6,759.3 2002.8,758.7 2000,758.2 1997.2,757.6 1994.4,757.1 1991.6,756.5 1988.8,755.9 1986,755.4 1983.2,754.8 1980.4,754.2 1977.6,753.6 1974.8,753.1 1972,752.5 1969.2,751.9 1966.4,751.3 1963.6,750.7 1960.8,750 1958,749.4 1955.2,748.8 1952.4,748.1 1949.6,747.5 1946.8,746.8 1944,746.1 1941.2,745.4 1938.4,744.7 1935.6,744 1932.8,743.3 1930,742.6 1927.2,741.9 1924.4,741.1 1921.6,740.4 1918.8,739.7 1916,739 1913.2,738.2 1910.4,737.5 1907.6,736.8 1904.8,736.1 1902,735.4 1899.2,734.6 1896.4,733.9 1893.6,733.2 1890.8,732.5 1888,731.8 1885.2,731.1 1882.4,730.5 1879.6,729.8 1876.8,729.1 1874,728.4 1871.2,727.7 1868.4,727 1865.6,726.3 1862.8,725.6 1860,724.9 1857.2,724.2 1854.4,723.5 1851.6,722.8 1848.8,722.1 1846,721.4 1843.2,720.7 1840.4,720 1837.6,719.4 1834.8,718.7 1832,718 1829.2,717.3 1826.4,716.6 1823.6,716 1820.8,715.3 1818,714.6 1815.2,713.9 1812.4,713.3 1809.6,712.6 1806.8,712 1804,711.3 1801.2,710.7 1798.4,710 1795.6,709.4 1792.8,708.8 1790,708.1 1787.2,707.5 1784.4,706.9 1781.6,706.3 1778.8,705.7 1776,705.1 1773.2,704.5 1770.4,703.9 1767.6,703.3 1764.8,702.7 1762,702.1 1759.2,701.5 1756.4,700.9 1753.6,700.3 1750.8,699.6 1748,699 1745.2,698.4 1742.4,697.8 1739.6,697.2 1736.8,696.6 1734,696 1731.2,695.4 1728.4,694.7 1725.6,694.1 1722.8,693.4 1720,692.8 1717.2,692.2 1714.4,691.5 1711.6,690.8 1708.8,690.1 1706,689.5 1703.2,688.8 1700.4,688 1697.6,687.3 1694.8,686.6 1692,685.9 1689.2,685.2 1686.4,684.4 1683.6,683.7 1680.8,682.9 1678,682.2 1675.2,681.5 1672.4,680.7 1669.6,680 1666.8,679.2 1664,678.5 1661.2,677.8 1658.4,677 1655.6,676.3 1652.8,675.6 1650,674.9 1647.2,674.2 1644.4,673.5 1641.6,672.8 1638.8,672.2 1636,671.5 1633.2,670.9 1630.4,670.3 1627.6,669.6 1624.8,669 1622,668.4 1619.2,667.7 1616.4,667.1 1613.6,666.6 1610.8,666 1608,665.4 1605.2,664.9 1602.4,664.4 1599.6,663.9 1596.8,663.4 1594,662.9 1591.2,662.4 1588.4,661.9 1585.6,661.5 1582.8,661 1580,660.6 1577.2,660.2 1574.4,659.8 1571.6,659.4 1568.8,659 1566,658.7 1563.2,658.4 1560.4,658.2 1557.6,658 1554.8,657.8 1552,657.6 1549.2,657.4 1546.4,657.3 1543.6,657.1 1540.8,657 1538,656.9 1535.2,656.7 1532.4,656.6 1529.6,656.5 1526.8,656.3 1524,656.2 1521.2,656 1518.4,655.8 1515.6,655.6 1512.8,655.4 1510,655.2 1507.2,654.9 1504.4,654.6 1501.6,654.2 1498.8,653.9 1496,653.5 1493.2,653.2 1490.4,652.8 1487.6,652.4 1484.8,652 1482,651.7 1479.2,651.3 1476.4,650.9 1473.6,650.6 1470.8,650.2 1468,649.9 1465.2,649.6 1462.4,649.3 1459.6,649.1 1456.8,648.9 1454,648.7 1451.2,648.5 1448.4,648.4 1445.6,648.3 1442.8,648.2 1440,648.2 1437.2,648.1 1434.4,648 1431.6,647.9 1428.8,647.8 1426,647.8 1423.2,647.7 1420.4,647.6 1417.6,647.6 1414.8,647.5 1412,647.4 1409.2,647.4 1406.4,647.3 1403.6,647.2 1400.8,647.2 1398,647.1 1395.2,647.1 1392.4,647 1389.6,647 1386.8,646.9 1384,646.9 1381.2,646.9 1378.4,646.8 1375.6,646.8 1372.8,646.8 1370,646.7 1367.2,646.7 1364.4,646.7 1361.6,646.7 1358.8,646.6 1356,646.6 1353.2,646.6 1350.4,646.6 1347.6,646.6 1344.8,646.6 1342,646.6 1339.2,646.6 1336.4,646.6 1333.6,646.6 1330.8,646.6 1328,646.7 1325.2,646.7 1322.4,646.7 1319.6,646.7 1316.8,646.8 1314,646.8 1311.2,646.8 1308.4,646.9 1305.6,646.9 1302.8,647 1300,647 1297.2,647.1 1294.4,647.1 1291.6,647.2 1288.8,647.2 1286,647.3 1283.2,647.3 1280.4,647.4 1277.6,647.4 1274.8,647.5 1272,647.6 1269.2,647.6 1266.4,647.7 1263.6,647.8 1260.8,647.8 1258,647.9 1255.2,648 1252.4,648.1 1249.6,648.1 1246.8,648.2 1244,648.3 1241.2,648.3 1238.4,648.4 1235.6,648.5 1232.8,648.6 1230,648.7 1227.2,648.8 1224.4,649 1221.6,649.1 1218.8,649.3 1216,649.4 1213.2,649.6 1210.4,649.8 1207.6,650 1204.8,650.2 1202,650.3 1199.2,650.5 1196.4,650.7 1193.6,650.9 1190.8,651.1 1188,651.3 1185.2,651.5 1182.4,651.7 1179.6,651.9 1176.8,652.1 1174,652.2 1171.2,652.4 1168.4,652.6 1165.6,652.7 1162.8,652.8 1160,653 1157.2,653.1 1154.4,653.2 1151.6,653.2 1148.8,653.3 1146,653.4 1143.2,653.4 1140.4,653.4 1137.6,653.4 1134.8,653.4 1132,653.4 1129.2,653.3 1126.4,653.3 1123.6,653.2 1120.8,653.2 1118,653.1 1115.2,653.1 1112.4,653 1109.6,652.9 1106.8,652.8 1104,652.7 1101.2,652.6 1098.4,652.5 1095.6,652.4 1092.8,652.2 1090,652.1 1087.2,652 1084.4,651.8 1081.6,651.5 1078.8,651.1 1076,650.6 1073.2,650.1 1070.4,649.5 1067.6,648.9 1064.8,648.3 1062,647.6 1059.2,646.9 1056.4,646.2 1053.6,645.5 1050.8,644.9 1048,644.2 1045.2,643.6 1042.4,642.9 1039.6,642.2 1036.8,641.5 1034,640.7 1031.2,640 1028.4,639.2 1025.6,638.4 1022.8,637.6 1020,636.8 1017.2,636.1 1014.4,635.3 1011.6,634.6 1008.8,633.9 1006,633.2 1003.2,632.6 1000.4,632 997.6,631.4 994.8,630.8 992,630.2 989.2,629.7 986.4,629.1 983.6,628.6 980.8,628 978,627.5 975.2,627 972.4,626.5 969.6,626 966.8,625.5 964,625 961.2,624.4 958.4,623.9 955.6,623.5 952.8,623 950,622.5 947.2,622 944.4,621.5 941.6,621.1 938.8,620.6 936,620.1 933.2,619.7 930.4,619.2 927.6,618.8 924.8,618.3 922,617.9 919.2,617.4 916.4,617 913.6,616.5 910.8,616.1 908,615.6 905.2,615.2 902.4,614.7 899.6,614.3 896.8,613.8 894,613.4 891.2,613 888.4,612.5 885.6,612.1 882.8,611.7 880,611.2 877.2,610.8 874.4,610.3 871.6,609.9 868.8,609.4 866,608.9 863.2,608.4 860.4,607.8 857.6,607.1 854.8,606.4 852,605.7 849.2,605.1 846.4,604.5 843.6,604 840.8,603.7 838,603.6 835.2,603.6 832.4,603.8 829.6,604 826.8,604.2 824,604.5 821.2,604.7 818.4,605 815.6,605.1 812.8,605.2 810,601.6 807.2,592.6 804.4,583.3 801.6,572.9 798.8,571.4 796,575" fill="#7c7c7c"/>
<path d="M826.4 590.7V602.2M888.3 599.9V610.5M935.2 608.1V618.1M971.9 614.8V624.5M997 619.9V629.4M1051.8 633.7V642.9M1097.9 641.5V650.5M1157.1 642.1V651.1M1198.9 639.5V648.5M1258.6 636.9V645.9M1295.9 636.1V645.1M1356.9 635.6V644.6M1414.8 636.5V645.5M1458.4 638.1V647.1M1507.6 643.2V652.9M1563.3 645V656.4M1597 648.6V661.4M1646.9 657.3V672.2M1708.2 670.8V688.1M1745.1 677.5V696.4M1806.3 688.8V710M1862.1 700.3V723.6M1925.1 715.1V739.1M1965.2 725.3V749.3M1994.4 731.1V755.1M2055.4 742.6V766.3M2116.6 752.6V775.9M2161.7 760.1V782.8M2190.9 764.8V787" stroke="#fff" stroke-opacity="0.85" stroke-width="2" fill="none"/>
<path d="M787.5 559h17M787.5 575h17M790.3 555.5h17M790.3 571.4h17M793.1 557h17M793.1 572.9h17M795.9 567.4h17M795.9 583.3h17M798.7 576.8h17M798.7 592.6h17M801.5 585.9h17M801.5 601.6h17M804.3 589.5h17M804.3 605.2h17M807.1 589.4h17M807.1 605.1h17M809.9 589.3h17M809.9 605h17M812.7 589.1h17M812.7 604.7h17M815.5 588.9h17M815.5 604.5h17M818.3 588.7h17M818.3 604.2h17M821.1 588.5h17M821.1 604h17M823.9 588.3h17M823.9 603.8h17M826.7 588.2h17M826.7 603.6h17M829.5 588.2h17M829.5 603.6h17M832.3 588.4h17M832.3 603.7h17M835.1 588.7h17M835.1 604h17M837.9 589.2h17M837.9 604.5h17M840.7 589.9h17M840.7 605.1h17M843.5 590.6h17M843.5 605.7h17M846.3 591.3h17M846.3 606.4h17M849.1 592h17M849.1 607.1h17M851.9 592.8h17M851.9 607.8h17M854.7 593.4h17M854.7 608.4h17M857.5 594h17M857.5 608.9h17M860.3 594.5h17M860.3 609.4h17M863.1 595h17M863.1 609.9h17M865.9 595.5h17M865.9 610.3h17M868.7 596h17M868.7 610.8h17M871.5 596.5h17M871.5 611.2h17M874.3 596.9h17M874.3 611.7h17M877.1 597.4h17M877.1 612.1h17M879.9 597.9h17M879.9 612.5h17M882.7 598.3h17M882.7 613h17M885.5 598.8h17M885.5 613.4h17M888.3 599.3h17M888.3 613.8h17M891.1 599.8h17M891.1 614.3h17M893.9 600.2h17M893.9 614.7h17M896.7 600.7h17M896.7 615.2h17M899.5 601.2h17M899.5 615.6h17M902.3 601.7h17M902.3 616.1h17M905.1 602.2h17M905.1 616.5h17M907.9 602.7h17M907.9 617h17M910.7 603.1h17M910.7 617.4h17M913.5 603.6h17M913.5 617.9h17M916.3 604.1h17M916.3 618.3h17M919.1 604.6h17M919.1 618.8h17M921.9 605.1h17M921.9 619.2h17M924.7 605.6h17M924.7 619.7h17M927.5 606.1h17M927.5 620.1h17M930.3 606.6h17M930.3 620.6h17M933.1 607.1h17M933.1 621.1h17M935.9 607.6h17M935.9 621.5h17M938.7 608.1h17M938.7 622h17M941.5 608.6h17M941.5 622.5h17M944.3 609.1h17M944.3 623h17M947.1 609.6h17M947.1 623.5h17M949.9 610.1h17M949.9 623.9h17M952.7 610.7h17M952.7 624.4h17M955.5 611.2h17M955.5 625h17M958.3 611.7h17M958.3 625.5h17M961.1 612.3h17M961.1 626h17M963.9 612.8h17M963.9 626.5h17M966.7 613.3h17M966.7 627h17M969.5 613.9h17M969.5 627.5h17M972.3 614.4h17M972.3 628h17M975.1 615h17M975.1 628.6h17M977.9 615.6h17M977.9 629.1h17M980.7 616.1h17M980.7 629.7h17M983.5 616.7h17M983.5 630.2h17M986.3 617.3h17M986.3 630.8h17M989.1 617.9h17M989.1 631.4h17M991.9 618.6h17M991.9 632h17M994.7 619.2h17M994.7 632.6h17M997.5 619.8h17M997.5 633.2h17M1000.3 620.5h17M1000.3 633.9h17M1003.1 621.3h17M1003.1 634.6h17M1005.9 622h17M1005.9 635.3h17M1008.7 622.8h17M1008.7 636.1h17M1011.5 623.6h17M1011.5 636.8h17M1014.3 624.4h17M1014.3 637.6h17M1017.1 625.2h17M1017.1 638.4h17M1019.9 626h17M1019.9 639.2h17M1022.7 626.8h17M1022.7 640h17M1025.5 627.5h17M1025.5 640.7h17M1028.3 628.3h17M1028.3 641.5h17M1031.1 629h17M1031.1 642.2h17M1033.9 629.7h17M1033.9 642.9h17M1036.7 630.4h17M1036.7 643.6h17M1039.5 631.1h17M1039.5 644.2h17M1042.3 631.7h17M1042.3 644.9h17M1045.1 632.4h17M1045.1 645.5h17M1047.9 633.1h17M1047.9 646.2h17M1050.7 633.8h17M1050.7 646.9h17M1053.5 634.5h17M1053.5 647.6h17M1056.3 635.2h17M1056.3 648.3h17M1059.1 635.9h17M1059.1 648.9h17M1061.9 636.5h17M1061.9 649.5h17M1064.7 637.1h17M1064.7 650.1h17M1067.5 637.6h17M1067.5 650.6h17M1070.3 638h17M1070.3 651.1h17M1073.1 638.4h17M1073.1 651.5h17M1075.9 638.7h17M1075.9 651.8h17M1078.7 639h17M1078.7 652h17M1081.5 639.1h17M1081.5 652.1h17M1084.3 639.2h17M1084.3 652.2h17M1087.1 639.4h17M1087.1 652.4h17M1089.9 639.5h17M1089.9 652.5h17M1092.7 639.6h17M1092.7 652.6h17M1095.5 639.7h17M1095.5 652.7h17M1098.3 639.8h17M1098.3 652.8h17M1101.1 639.9h17M1101.1 652.9h17M1103.9 640h17M1103.9 653h17M1106.7 640.1h17M1106.7 653.1h17M1109.5 640.1h17M1109.5 653.1h17M1112.3 640.2h17M1112.3 653.2h17M1115.1 640.2h17M1115.1 653.2h17M1117.9 640.3h17M1117.9 653.3h17M1120.7 640.3h17M1120.7 653.3h17M1123.5 640.4h17M1123.5 653.4h17M1126.3 640.4h17M1126.3 653.4h17M1129.1 640.4h17M1129.1 653.4h17M1131.9 640.4h17M1131.9 653.4h17M1134.7 640.4h17M1134.7 653.4h17M1137.5 640.4h17M1137.5 653.4h17M1140.3 640.3h17M1140.3 653.3h17M1143.1 640.2h17M1143.1 653.2h17M1145.9 640.2h17M1145.9 653.2h17M1148.7 640.1h17M1148.7 653.1h17M1151.5 640h17M1151.5 653h17M1154.3 639.8h17M1154.3 652.8h17M1157.1 639.7h17M1157.1 652.7h17M1159.9 639.6h17M1159.9 652.6h17M1162.7 639.4h17M1162.7 652.4h17M1165.5 639.2h17M1165.5 652.2h17M1168.3 639.1h17M1168.3 652.1h17M1171.1 638.9h17M1171.1 651.9h17M1173.9 638.7h17M1173.9 651.7h17M1176.7 638.5h17M1176.7 651.5h17M1179.5 638.3h17M1179.5 651.3h17M1182.3 638.1h17M1182.3 651.1h17M1185.1 637.9h17M1185.1 650.9h17M1187.9 637.7h17M1187.9 650.7h17M1190.7 637.5h17M1190.7 650.5h17M1193.5 637.3h17M1193.5 650.3h17M1196.3 637.2h17M1196.3 650.2h17M1199.1 637h17M1199.1 650h17M1201.9 636.8h17M1201.9 649.8h17M1204.7 636.6h17M1204.7 649.6h17M1207.5 636.4h17M1207.5 649.4h17M1210.3 636.3h17M1210.3 649.3h17M1213.1 636.1h17M1213.1 649.1h17M1215.9 636h17M1215.9 649h17M1218.7 635.8h17M1218.7 648.8h17M1221.5 635.7h17M1221.5 648.7h17M1224.3 635.6h17M1224.3 648.6h17M1227.1 635.5h17M1227.1 648.5h17M1229.9 635.4h17M1229.9 648.4h17M1232.7 635.3h17M1232.7 648.3h17M1235.5 635.3h17M1235.5 648.3h17M1238.3 635.2h17M1238.3 648.2h17M1241.1 635.1h17M1241.1 648.1h17M1243.9 635.1h17M1243.9 648.1h17M1246.7 635h17M1246.7 648h17M1249.5 634.9h17M1249.5 647.9h17M1252.3 634.8h17M1252.3 647.8h17M1255.1 634.8h17M1255.1 647.8h17M1257.9 634.7h17M1257.9 647.7h17M1260.7 634.6h17M1260.7 647.6h17M1263.5 634.6h17M1263.5 647.6h17M1266.3 634.5h17M1266.3 647.5h17M1269.1 634.4h17M1269.1 647.4h17M1271.9 634.4h17M1271.9 647.4h17M1274.7 634.3h17M1274.7 647.3h17M1277.5 634.3h17M1277.5 647.3h17M1280.3 634.2h17M1280.3 647.2h17M1283.1 634.2h17M1283.1 647.2h17M1285.9 634.1h17M1285.9 647.1h17M1288.7 634.1h17M1288.7 647.1h17M1291.5 634h17M1291.5 647h17M1294.3 634h17M1294.3 647h17M1297.1 633.9h17M1297.1 646.9h17M1299.9 633.9h17M1299.9 646.9h17M1302.7 633.8h17M1302.7 646.8h17M1305.5 633.8h17M1305.5 646.8h17M1308.3 633.8h17M1308.3 646.8h17M1311.1 633.7h17M1311.1 646.7h17M1313.9 633.7h17M1313.9 646.7h17M1316.7 633.7h17M1316.7 646.7h17M1319.5 633.7h17M1319.5 646.7h17M1322.3 633.6h17M1322.3 646.6h17M1325.1 633.6h17M1325.1 646.6h17M1327.9 633.6h17M1327.9 646.6h17M1330.7 633.6h17M1330.7 646.6h17M1333.5 633.6h17M1333.5 646.6h17M1336.3 633.6h17M1336.3 646.6h17M1339.1 633.6h17M1339.1 646.6h17M1341.9 633.6h17M1341.9 646.6h17M1344.7 633.6h17M1344.7 646.6h17M1347.5 633.6h17M1347.5 646.6h17M1350.3 633.6h17M1350.3 646.6h17M1353.1 633.7h17M1353.1 646.7h17M1355.9 633.7h17M1355.9 646.7h17M1358.7 633.7h17M1358.7 646.7h17M1361.5 633.7h17M1361.5 646.7h17M1364.3 633.8h17M1364.3 646.8h17M1367.1 633.8h17M1367.1 646.8h17M1369.9 633.8h17M1369.9 646.8h17M1372.7 633.9h17M1372.7 646.9h17M1375.5 633.9h17M1375.5 646.9h17M1378.3 633.9h17M1378.3 646.9h17M1381.1 634h17M1381.1 647h17M1383.9 634h17M1383.9 647h17M1386.7 634.1h17M1386.7 647.1h17M1389.5 634.1h17M1389.5 647.1h17M1392.3 634.2h17M1392.3 647.2h17M1395.1 634.2h17M1395.1 647.2h17M1397.9 634.3h17M1397.9 647.3h17M1400.7 634.4h17M1400.7 647.4h17M1403.5 634.4h17M1403.5 647.4h17M1406.3 634.5h17M1406.3 647.5h17M1409.1 634.6h17M1409.1 647.6h17M1411.9 634.6h17M1411.9 647.6h17M1414.7 634.7h17M1414.7 647.7h17M1417.5 634.8h17M1417.5 647.8h17M1420.3 634.8h17M1420.3 647.8h17M1423.1 634.9h17M1423.1 647.9h17M1425.9 635h17M1425.9 648h17M1428.7 635.1h17M1428.7 648.1h17M1431.5 635.2h17M1431.5 648.2h17M1434.3 635.2h17M1434.3 648.2h17M1437.1 635.3h17M1437.1 648.3h17M1439.9 635.4h17M1439.9 648.4h17M1442.7 635.5h17M1442.7 648.5h17M1445.5 635.7h17M1445.5 648.7h17M1448.3 635.9h17M1448.3 648.9h17M1451.1 636.1h17M1451.1 649.1h17M1453.9 636.3h17M1453.9 649.3h17M1456.7 636.6h17M1456.7 649.6h17M1459.5 636.8h17M1459.5 649.9h17M1462.3 637.1h17M1462.3 650.2h17M1465.1 637.4h17M1465.1 650.6h17M1467.9 637.8h17M1467.9 650.9h17M1470.7 638.1h17M1470.7 651.3h17M1473.5 638.4h17M1473.5 651.7h17M1476.3 638.8h17M1476.3 652h17M1479.1 639.1h17M1479.1 652.4h17M1481.9 639.4h17M1481.9 652.8h17M1484.7 639.8h17M1484.7 653.2h17M1487.5 640.1h17M1487.5 653.5h17M1490.3 640.4h17M1490.3 653.9h17M1493.1 640.7h17M1493.1 654.2h17M1495.9 640.9h17M1495.9 654.6h17M1498.7 641.2h17M1498.7 654.9h17M1501.5 641.4h17M1501.5 655.2h17M1504.3 641.6h17M1504.3 655.4h17M1507.1 641.7h17M1507.1 655.6h17M1509.9 641.9h17M1509.9 655.8h17M1512.7 642h17M1512.7 656h17M1515.5 642h17M1515.5 656.2h17M1518.3 642.1h17M1518.3 656.3h17M1521.1 642.2h17M1521.1 656.5h17M1523.9 642.2h17M1523.9 656.6h17M1526.7 642.3h17M1526.7 656.7h17M1529.5 642.3h17M1529.5 656.9h17M1532.3 642.4h17M1532.3 657h17M1535.1 642.4h17M1535.1 657.1h17M1537.9 642.5h17M1537.9 657.3h17M1540.7 642.5h17M1540.7 657.4h17M1543.5 642.6h17M1543.5 657.6h17M1546.3 642.7h17M1546.3 657.8h17M1549.1 642.8h17M1549.1 658h17M1551.9 642.9h17M1551.9 658.2h17M1554.7 643h17M1554.7 658.4h17M1557.5 643.2h17M1557.5 658.7h17M1560.3 643.4h17M1560.3 659h17M1563.1 643.6h17M1563.1 659.4h17M1565.9 643.9h17M1565.9 659.8h17M1568.7 644.2h17M1568.7 660.2h17M1571.5 644.5h17M1571.5 660.6h17M1574.3 644.8h17M1574.3 661h17M1577.1 645.2h17M1577.1 661.5h17M1579.9 645.5h17M1579.9 661.9h17M1582.7 645.9h17M1582.7 662.4h17M1585.5 646.3h17M1585.5 662.9h17M1588.3 646.6h17M1588.3 663.4h17M1591.1 647h17M1591.1 663.9h17M1593.9 647.4h17M1593.9 664.4h17M1596.7 647.8h17M1596.7 664.9h17M1599.5 648.2h17M1599.5 665.4h17M1602.3 648.6h17M1602.3 666h17M1605.1 649.1h17M1605.1 666.6h17M1607.9 649.6h17M1607.9 667.1h17M1610.7 650.1h17M1610.7 667.7h17M1613.5 650.5h17M1613.5 668.4h17M1616.3 651.1h17M1616.3 669h17M1619.1 651.6h17M1619.1 669.6h17M1621.9 652.1h17M1621.9 670.3h17M1624.7 652.6h17M1624.7 670.9h17M1627.5 653.1h17M1627.5 671.5h17M1630.3 653.6h17M1630.3 672.2h17M1633.1 654.2h17M1633.1 672.8h17M1635.9 654.7h17M1635.9 673.5h17M1638.7 655.3h17M1638.7 674.2h17M1641.5 655.9h17M1641.5 674.9h17M1644.3 656.5h17M1644.3 675.6h17M1647.1 657.1h17M1647.1 676.3h17M1649.9 657.7h17M1649.9 677h17M1652.7 658.3h17M1652.7 677.8h17M1655.5 658.9h17M1655.5 678.5h17M1658.3 659.5h17M1658.3 679.2h17M1661.1 660.1h17M1661.1 680h17M1663.9 660.8h17M1663.9 680.7h17M1666.7 661.4h17M1666.7 681.5h17M1669.5 662h17M1669.5 682.2h17M1672.3 662.7h17M1672.3 682.9h17M1675.1 663.3h17M1675.1 683.7h17M1677.9 663.9h17M1677.9 684.4h17M1680.7 664.6h17M1680.7 685.2h17M1683.5 665.2h17M1683.5 685.9h17M1686.3 665.8h17M1686.3 686.6h17M1689.1 666.4h17M1689.1 687.3h17M1691.9 667h17M1691.9 688h17M1694.7 667.6h17M1694.7 688.8h17M1697.5 668.2h17M1697.5 689.5h17M1700.3 668.8h17M1700.3 690.1h17M1703.1 669.4h17M1703.1 690.8h17M1705.9 669.9h17M1705.9 691.5h17M1708.7 670.5h17M1708.7 692.2h17M1711.5 671h17M1711.5 692.8h17M1714.3 671.5h17M1714.3 693.4h17M1717.1 672h17M1717.1 694.1h17M1719.9 672.5h17M1719.9 694.7h17M1722.7 673.1h17M1722.7 695.4h17M1725.5 673.5h17M1725.5 696h17M1728.3 674h17M1728.3 696.6h17M1731.1 674.5h17M1731.1 697.2h17M1733.9 675h17M1733.9 697.8h17M1736.7 675.5h17M1736.7 698.4h17M1739.5 676h17M1739.5 699h17M1742.3 676.5h17M1742.3 699.6h17M1745.1 676.9h17M1745.1 700.3h17M1747.9 677.4h17M1747.9 700.9h17M1750.7 677.9h17M1750.7 701.5h17M1753.5 678.4h17M1753.5 702.1h17M1756.3 678.9h17M1756.3 702.7h17M1759.1 679.4h17M1759.1 703.3h17M1761.9 679.8h17M1761.9 703.9h17M1764.7 680.3h17M1764.7 704.5h17M1767.5 680.8h17M1767.5 705.1h17M1770.3 681.3h17M1770.3 705.7h17M1773.1 681.8h17M1773.1 706.3h17M1775.9 682.4h17M1775.9 706.9h17M1778.7 682.9h17M1778.7 707.5h17M1781.5 683.4h17M1781.5 708.1h17M1784.3 684h17M1784.3 708.8h17M1787.1 684.5h17M1787.1 709.4h17M1789.9 685.1h17M1789.9 710h17M1792.7 685.6h17M1792.7 710.7h17M1795.5 686.2h17M1795.5 711.3h17M1798.3 686.8h17M1798.3 712h17M1801.1 687.4h17M1801.1 712.6h17M1803.9 687.9h17M1803.9 713.3h17M1806.7 688.5h17M1806.7 713.9h17M1809.5 689.1h17M1809.5 714.6h17M1812.3 689.6h17M1812.3 715.3h17M1815.1 690.2h17M1815.1 716h17M1817.9 690.8h17M1817.9 716.6h17M1820.7 691.3h17M1820.7 717.3h17M1823.5 691.9h17M1823.5 718h17M1826.3 692.5h17M1826.3 718.7h17M1829.1 693.1h17M1829.1 719.4h17M1831.9 693.6h17M1831.9 720h17M1834.7 694.2h17M1834.7 720.7h17M1837.5 694.8h17M1837.5 721.4h17M1840.3 695.4h17M1840.3 722.1h17M1843.1 695.9h17M1843.1 722.8h17M1845.9 696.5h17M1845.9 723.5h17M1848.7 697.1h17M1848.7 724.2h17M1851.5 697.7h17M1851.5 724.9h17M1854.3 698.3h17M1854.3 725.6h17M1857.1 698.9h17M1857.1 726.3h17M1859.9 699.5h17M1859.9 727h17M1862.7 700.1h17M1862.7 727.7h17M1865.5 700.8h17M1865.5 728.4h17M1868.3 701.4h17M1868.3 729.1h17M1871.1 702h17M1871.1 729.8h17M1873.9 702.6h17M1873.9 730.5h17M1876.7 703.3h17M1876.7 731.1h17M1879.5 703.9h17M1879.5 731.8h17M1882.3 704.6h17M1882.3 732.5h17M1885.1 705.3h17M1885.1 733.2h17M1887.9 706h17M1887.9 733.9h17M1890.7 706.6h17M1890.7 734.6h17M1893.5 707.4h17M1893.5 735.4h17M1896.3 708.1h17M1896.3 736.1h17M1899.1 708.8h17M1899.1 736.8h17M1901.9 709.5h17M1901.9 737.5h17M1904.7 710.2h17M1904.7 738.2h17M1907.5 711h17M1907.5 739h17M1910.3 711.7h17M1910.3 739.7h17M1913.1 712.4h17M1913.1 740.4h17M1915.9 713.1h17M1915.9 741.1h17M1918.7 713.9h17M1918.7 741.9h17M1921.5 714.6h17M1921.5 742.6h17M1924.3 715.3h17M1924.3 743.3h17M1927.1 716h17M1927.1 744h17M1929.9 716.7h17M1929.9 744.7h17M1932.7 717.4h17M1932.7 745.4h17M1935.5 718.1h17M1935.5 746.1h17M1938.3 718.8h17M1938.3 746.8h17M1941.1 719.5h17M1941.1 747.5h17M1943.9 720.2h17M1943.9 748.1h17M1946.7 720.8h17M1946.7 748.8h17M1949.5 721.4h17M1949.5 749.4h17M1952.3 722.1h17M1952.3 750h17M1955.1 722.7h17M1955.1 750.7h17M1957.9 723.3h17M1957.9 751.3h17M1960.7 723.9h17M1960.7 751.9h17M1963.5 724.5h17M1963.5 752.5h17M1966.3 725.1h17M1966.3 753.1h17M1969.1 725.7h17M1969.1 753.6h17M1971.9 726.3h17M1971.9 754.2h17M1974.7 726.8h17M1974.7 754.8h17M1977.5 727.4h17M1977.5 755.4h17M1980.3 728h17M1980.3 755.9h17M1983.1 728.6h17M1983.1 756.5h17M1985.9 729.1h17M1985.9 757.1h17M1988.7 729.7h17M1988.7 757.6h17M1991.5 730.3h17M1991.5 758.2h17M1994.3 730.8h17M1994.3 758.7h17M1997.1 731.4h17M1997.1 759.3h17M1999.9 731.9h17M1999.9 759.8h17M2002.7 732.4h17M2002.7 760.3h17M2005.5 733h17M2005.5 760.9h17M2008.3 733.5h17M2008.3 761.4h17M2011.1 734.1h17M2011.1 761.9h17M2013.9 734.6h17M2013.9 762.4h17M2016.7 735.1h17M2016.7 763h17M2019.5 735.6h17M2019.5 763.5h17M2022.3 736.1h17M2022.3 764h17M2025.1 736.7h17M2025.1 764.5h17M2027.9 737.2h17M2027.9 765h17M2030.7 737.7h17M2030.7 765.5h17M2033.5 738.2h17M2033.5 766h17M2036.3 738.7h17M2036.3 766.4h17M2039.1 739.2h17M2039.1 766.9h17M2041.9 739.6h17M2041.9 767.4h17M2044.7 740.1h17M2044.7 767.9h17M2047.5 740.6h17M2047.5 768.3h17M2050.3 741.1h17M2050.3 768.8h17M2053.1 741.5h17M2053.1 769.2h17M2055.9 742h17M2055.9 769.7h17M2058.7 742.5h17M2058.7 770.1h17M2061.5 742.9h17M2061.5 770.6h17M2064.3 743.4h17M2064.3 771h17M2067.1 743.8h17M2067.1 771.4h17M2069.9 744.3h17M2069.9 771.9h17M2072.7 744.7h17M2072.7 772.3h17M2075.5 745.2h17M2075.5 772.7h17M2078.3 745.6h17M2078.3 773.2h17M2081.1 746.1h17M2081.1 773.6h17M2083.9 746.5h17M2083.9 774h17M2086.7 747h17M2086.7 774.4h17M2089.5 747.4h17M2089.5 774.9h17M2092.3 747.9h17M2092.3 775.3h17M2095.1 748.3h17M2095.1 775.7h17M2097.9 748.8h17M2097.9 776.2h17M2100.7 749.3h17M2100.7 776.6h17M2103.5 749.7h17M2103.5 777h17M2106.3 750.2h17M2106.3 777.5h17M2109.1 750.6h17M2109.1 777.9h17M2111.9 751.1h17M2111.9 778.3h17M2114.7 751.6h17M2114.7 778.8h17M2117.5 752.1h17M2117.5 779.2h17M2120.3 752.5h17M2120.3 779.6h17M2123.1 753h17M2123.1 780.1h17M2125.9 753.5h17M2125.9 780.5h17M2128.7 753.9h17M2128.7 780.9h17M2131.5 754.4h17M2131.5 781.4h17M2134.3 754.9h17M2134.3 781.8h17M2137.1 755.3h17M2137.1 782.2h17M2139.9 755.8h17M2139.9 782.7h17M2142.7 756.3h17M2142.7 783.1h17M2145.5 756.7h17M2145.5 783.5h17M2148.3 757.2h17M2148.3 784h17M2151.1 757.7h17M2151.1 784.4h17M2153.9 758.1h17M2153.9 784.8h17M2156.7 758.6h17M2156.7 785.2h17M2159.5 759.1h17M2159.5 785.7h17M2162.3 759.5h17M2162.3 786.1h17M2165.1 760h17M2165.1 786.5h17M2167.9 760.5h17M2167.9 786.9h17M2170.7 760.9h17M2170.7 787.3h17M2173.5 761.4h17M2173.5 787.8h17M2176.3 761.9h17M2176.3 788.2h17M2179.1 762.4h17M2179.1 788.6h17M2181.9 762.8h17M2181.9 789h17M2184.7 763.3h17M2184.7 789.4h17M2187.5 763.8h17M2187.5 789.9h17M2190.3 764.2h17M2190.3 790.3h17" stroke="#000" stroke-width="2.3" fill="none"/>
<path d="M776.5 201.9V219.9M778 218.5V236.5M779.5 241.3V259.3M781 267.2V285.2M782.5 296.4V314.4M784 338.7V356.7M785.5 399.5V417.5M787 469.5V487.5M788.5 511.5V529.5M790 540V558" stroke="#3a3a3a" stroke-width="1.3" fill="none"/>
<path d="M767 201.9h19M767 219.9h19M768.5 218.5h19M768.5 236.5h19M770 241.3h19M770 259.3h19M771.5 267.2h19M771.5 285.2h19M773 296.4h19M773 314.4h19M774.5 338.7h19M774.5 356.7h19M776 399.5h19M776 417.5h19M777.5 469.5h19M777.5 487.5h19M779 511.5h19M779 529.5h19M780.5 540h19M780.5 558h19" stroke="#000" stroke-width="2.6" fill="none"/>
<path d="M769.5 303h19M770.5 317h19M771.5 352h19M771.5 366h19M773.5 442h19M773.5 452h19M772.5 494h19M776.5 514h19M773.5 530h19M776.5 545h19M767.5 262h19M768.5 290h19" stroke="#000" stroke-width="2.6"/>
<path d="M551.5 134V161.8" stroke="#333" stroke-width="2.2" fill="none"/>
<path d="M543 134h17M543 161.8h17" stroke="#333" stroke-width="2.6" fill="none"/>
<path d="M668.4 345 L670 330 L670.4 326.7 L672.4 311.7 L674 300 L674.4 296.8 L676.2 283 L676.4 281.9 L678.4 271.3 L680.4 263.1 L681.8 259.4 L682.4 258.3 L684.4 255.6 L686.4 253.5 L688 252 L688.4 251.6 L690.4 249.6 L692.4 247.8 L694.4 246.3 L695.7 245.5 L696.4 245.1 L698.4 244.1 L700.4 243.2 L702.4 242.2 L704.4 241.4 L706.4 240.6 L708.4 239.9 L710.4 239.4 L712.4 239 L714.4 238.7 L716.4 238.6 L716.5 238.6 L718.4 238.7 L720.4 238.9 L722.4 239.2 L724.4 239.6 L726.4 240 L728.4 240.5 L730.4 241.1 L732.4 241.6 L734.4 242.1 L736.4 242.5 L737.4 242.7 L738.4 242.9 L740.4 243.3 L742.4 243.7 L744.4 244.2 L746.4 244.6 L748.4 245 L750.4 245.3 L752.4 245.4 L754.1 245.5 L754.4 245.5 L756.4 243.9 L758.4 240.9 L760.4 237.8 L762.4 235.8 L762.5 235.8 L764.4 235.1 L766.4 234.6 L768.4 234.2 L770.4 233.8 L772.4 233.4 L773.6 233 L774.4 232.6 L776 232 L776.4 232.8 L777.5 240 L778.4 252.3 L779 262 L780.4 281.2 L781 290 L782.4 311.9 L783.3 330 L784.4 364.8 L785.3 400 L786.4 451 L787.3 489 L788.4 520.2 L789.5 545 L790.4 566 L791.5 581 L792.4 578.1 L794.4 562.9 L795 560 L796.4 556 L798.4 551.7 L800 550.4 L800.4 550.4 L802.4 551.1 L804.4 552.4 L806.4 554.1 L808.4 555.7 L810.4 556.9 L812.4 557.4 L814.4 557.3 L816.4 557.2 L818.4 557 L820.4 556.7 L822.4 556.4 L824.4 556.1 L826.4 555.7 L828.4 555.4 L830.4 555.1 L832.4 554.9 L834.4 554.7 L836.4 554.6 L837.4 554.6 L838.4 554.6 L840.4 554.7 L842.4 555 L844.4 555.3 L846.4 555.7 L848.4 556.2 L850.4 556.7 L852.4 557.3 L854.4 558 L856.4 558.6 L858.4 559.3 L860.4 560 L862.4 560.7 L864.4 561.3 L865.3 561.6 L866.4 561.9 L868.4 562.6 L870.4 563.3 L872.4 564 L874.4 564.7 L876.4 565.5 L878.4 566.2 L880.4 567 L882.4 567.9 L884.4 568.7 L886.4 569.6 L888.4 570.5 L890.4 571.4 L892.4 572.4 L893.1 572.7 L894.4 573.3 L896.4 574.4 L898.4 575.4 L900.4 576.6 L902.4 577.7 L904.4 578.9 L906.4 580.1 L908.4 581.4 L910.4 582.7 L912.4 583.9 L914.4 585.2 L916.4 586.5 L918.4 587.8 L920.4 589 L921 589.4 L922.4 590.3 L924.4 591.6 L926.4 592.9 L928.4 594.2 L930.4 595.5 L932.4 596.9 L934.4 598.2 L936.4 599.6 L938.4 600.9 L940.4 602.2 L942.4 603.5 L944.4 604.8 L946.4 606 L948.4 607.3 L948.8 607.5 L950.4 608.4 L952.4 609.6 L954.4 610.7 L956.4 611.8 L958.4 612.9 L960.4 614 L962.4 615.1 L964.4 616.1 L966.4 617.2 L968.4 618.3 L970.4 619.3 L972.4 620.4 L974.4 621.6 L976.4 622.7 L976.6 622.8 L978.4 623.8 L980.4 625 L982.4 626.2 L984.4 627.4 L986.4 628.6 L988.4 629.8 L990.4 631 L992.4 632.2 L994.4 633.4 L996.4 634.7 L998.4 635.9 L1000.4 637.1 L1002.4 638.3 L1004.4 639.5 L1006.4 640.7 L1008.4 641.9 L1010.4 643.1 L1012.4 644.3 L1014.4 645.5 L1016.4 646.7 L1018.4 647.9 L1020.4 649.1 L1022.4 650.3 L1024.4 651.5 L1026.4 652.7 L1028.4 653.9 L1030.4 655.1 L1032.3 656.2 L1032.4 656.3 L1034.4 657.5 L1036.4 658.8 L1038.4 660.1 L1040.4 661.4 L1042.4 662.7 L1044.4 664.1 L1046.4 665.4 L1048.4 666.7 L1050.4 667.9 L1052.4 669.1 L1054.4 670.2 L1056.4 671.2 L1058.4 672.2 L1060.1 672.9 L1060.4 673 L1062.4 673.8 L1064.4 674.6 L1066.4 675.4 L1068.4 676.2 L1070.4 677 L1072.4 677.7 L1074.4 678.4 L1076.4 679 L1078.4 679.6 L1080.4 680.1 L1082.4 680.5 L1084.4 680.8 L1086.4 681.1 L1088 681.2 L1088.4 681.2 L1090.4 681.3 L1092.4 681.4 L1094.4 681.5 L1096.4 681.6 L1098.4 681.7 L1100.4 681.8 L1102.4 681.9 L1104.4 681.9 L1106.4 682 L1108.4 682.1 L1110.4 682.1 L1112.4 682.2 L1114.4 682.3 L1116.4 682.3 L1118.4 682.4 L1120.4 682.4 L1122.4 682.4 L1124.4 682.5 L1126.4 682.5 L1128.4 682.5 L1130.4 682.6 L1132.4 682.6 L1134.4 682.6 L1136.4 682.6 L1138.4 682.6 L1140 682.6 L1140.4 682.6 L1142.4 682.6 L1144.4 682.6 L1146.4 682.6 L1148.4 682.5 L1150.4 682.5 L1152.4 682.4 L1154.4 682.4 L1156.4 682.3 L1158.4 682.2 L1160.4 682.1 L1162.4 682.1 L1164.4 682 L1166.4 681.9 L1168.4 681.8 L1170.4 681.7 L1172.4 681.6 L1174.4 681.4 L1176.4 681.3 L1178.4 681.2 L1180.4 681.1 L1182.4 681 L1184.4 680.8 L1186.4 680.7 L1188.4 680.6 L1190.4 680.5 L1192.4 680.3 L1194.4 680.2 L1196.4 680.1 L1198.4 680 L1200.4 679.8 L1202.4 679.7 L1204.4 679.6 L1206.4 679.5 L1208.4 679.4 L1210.4 679.2 L1212.4 679.1 L1214.4 679 L1216.4 678.8 L1218.4 678.7 L1220.4 678.5 L1222.4 678.4 L1224.4 678.2 L1226.4 678 L1228.4 677.9 L1230.4 677.7 L1232.4 677.5 L1234.4 677.4 L1236.4 677.2 L1238.4 677 L1240.4 676.8 L1242.4 676.7 L1244.4 676.5 L1246.4 676.3 L1248.4 676.1 L1250.4 675.9 L1252.4 675.8 L1254.4 675.6 L1256.4 675.4 L1258.4 675.2 L1260.4 675 L1262.4 674.8 L1264.4 674.6 L1266.4 674.4 L1268.4 674.3 L1270.4 674.1 L1272.4 673.9 L1274.4 673.7 L1276.4 673.5 L1278.4 673.4 L1280.4 673.2 L1282.4 673 L1284.4 672.8 L1286.4 672.7 L1288.4 672.5 L1290.4 672.3 L1292.4 672.2 L1294.4 672 L1296.4 671.9 L1298.4 671.7 L1300.4 671.6 L1302.4 671.4 L1304.4 671.3 L1306.4 671.2 L1308.4 671 L1308.8 671 L1310.4 670.9 L1312.4 670.8 L1314.4 670.6 L1316.4 670.5 L1318.4 670.4 L1320.4 670.2 L1322.4 670.1 L1324.4 670 L1326.4 669.8 L1328.4 669.7 L1330.4 669.6 L1332.4 669.4 L1334.4 669.3 L1336.4 669.1 L1338.4 669 L1340.4 668.9 L1342.4 668.7 L1344.4 668.6 L1346.4 668.5 L1348.4 668.3 L1350.4 668.2 L1352.4 668.1 L1354.4 667.9 L1356.4 667.8 L1358.4 667.7 L1360.4 667.6 L1362.4 667.4 L1364.4 667.3 L1366.4 667.2 L1368.4 667.1 L1370.4 667 L1372.4 666.9 L1374.4 666.8 L1376.4 666.7 L1378.4 666.6 L1380.4 666.5 L1382.4 666.4 L1384.4 666.3 L1386.4 666.2 L1388.4 666.2 L1390.4 666.1 L1392.4 666 L1394.4 666 L1396.4 665.9 L1398.4 665.9 L1400.4 665.8 L1402.4 665.8 L1404.4 665.8 L1406.4 665.7 L1408.4 665.7 L1410.4 665.7 L1412.4 665.7 L1413.2 665.7 L1414.4 665.7 L1416.4 665.7 L1418.4 665.8 L1420.4 665.8 L1422.4 665.9 L1424.4 666 L1426.4 666.1 L1428.4 666.2 L1430.4 666.4 L1432.4 666.5 L1434.4 666.7 L1436.4 666.9 L1438.4 667.1 L1440.4 667.3 L1442.4 667.5 L1444.4 667.7 L1446.4 668 L1448.4 668.2 L1450.4 668.4 L1452.4 668.7 L1454.4 669 L1456.4 669.2 L1458.4 669.5 L1460.4 669.7 L1462.4 670 L1464.4 670.3 L1466.4 670.6 L1468.4 670.8 L1470.4 671.1 L1472.4 671.4 L1474.4 671.6 L1476.4 671.9 L1478.4 672.2 L1480.4 672.4 L1482.4 672.7 L1482.7 672.7 L1484.4 672.9 L1486.4 673.2 L1488.4 673.4 L1490.4 673.7 L1492.4 673.9 L1494.4 674.2 L1496.4 674.4 L1498.4 674.7 L1500.4 675 L1502.4 675.2 L1504.4 675.5 L1506.4 675.8 L1508.4 676.1 L1510.4 676.4 L1512.4 676.7 L1514.4 676.9 L1516.4 677.2 L1518.4 677.5 L1520.4 677.9 L1522.4 678.2 L1524.4 678.5 L1526.4 678.8 L1528.4 679.1 L1530.4 679.5 L1532.4 679.8 L1534.4 680.1 L1536.4 680.5 L1538.4 680.8 L1540.4 681.2 L1542.4 681.6 L1544.4 681.9 L1546.4 682.3 L1548.4 682.7 L1550 683 L1550.4 683.1 L1552.4 683.5 L1554.4 683.9 L1556.4 684.3 L1558.4 684.7 L1560.4 685.2 L1562.4 685.6 L1564.4 686.1 L1566.4 686.5 L1568.4 687 L1570.4 687.5 L1572.4 688 L1574.4 688.5 L1576.4 689 L1578.4 689.5 L1580.4 690 L1582.4 690.5 L1584.4 691.1 L1586.4 691.6 L1588.4 692.1 L1590.4 692.7 L1592.4 693.3 L1594.4 693.8 L1596.4 694.4 L1598.4 695 L1600.4 695.6 L1602.4 696.2 L1604.4 696.8 L1606.4 697.4 L1608.4 698 L1610.4 698.6 L1612.4 699.2 L1614.4 699.8 L1616.4 700.4 L1618.4 701.1 L1620.4 701.7 L1622.4 702.3 L1624.4 703 L1626.4 703.6 L1628.4 704.2 L1630.4 704.9 L1632.4 705.5 L1633.5 705.9 L1634.4 706.2 L1636.4 706.9 L1638.4 707.5 L1640.4 708.2 L1642.4 708.9 L1644.4 709.6 L1646.4 710.3 L1648.4 711.1 L1650.4 711.8 L1652.4 712.6 L1654.4 713.3 L1656.4 714.1 L1658.4 714.9 L1660.4 715.6 L1662.4 716.4 L1664.4 717.2 L1666.4 718 L1668.4 718.8 L1670.4 719.7 L1672.4 720.5 L1674.4 721.3 L1676.4 722.1 L1678.4 723 L1680.4 723.8 L1682.4 724.6 L1684.4 725.5 L1686.4 726.3 L1688.4 727.2 L1690.4 728 L1692.4 728.9 L1694.4 729.7 L1696.4 730.6 L1698.4 731.4 L1700.4 732.3 L1702.4 733.1 L1704.4 734 L1706.4 734.8 L1708.4 735.7 L1710.4 736.5 L1712.4 737.4 L1714.4 738.2 L1716.4 739.1 L1717 739.3 L1718.4 739.9 L1720.4 740.7 L1722.4 741.6 L1724.4 742.4 L1726.4 743.3 L1728.4 744.1 L1730.4 745 L1732.4 745.9 L1734.4 746.8 L1736.4 747.6 L1738.4 748.5 L1740.4 749.4 L1742.4 750.3 L1744.4 751.2 L1746.4 752.1 L1748.4 753 L1750.4 753.9 L1752.4 754.8 L1754.4 755.7 L1756.4 756.6 L1758.4 757.4 L1760.4 758.3 L1762.4 759.2 L1764.4 760.1 L1766.4 761 L1768.4 761.9 L1770.4 762.8 L1772.4 763.7 L1774.4 764.5 L1776.4 765.4 L1778.4 766.3 L1780.4 767.2 L1782.4 768 L1784.4 768.9 L1786.4 769.7 L1788.4 770.6 L1790.4 771.4 L1792.4 772.2 L1794.4 773 L1796.4 773.9 L1798.4 774.7 L1800.4 775.5 L1800.5 775.5 L1802.4 776.3 L1804.4 777 L1806.4 777.8 L1808.4 778.6 L1810.4 779.3 L1812.4 780.1 L1814.4 780.9 L1816.4 781.6 L1818.4 782.3 L1820.4 783.1 L1822.4 783.8 L1824.4 784.5 L1826.4 785.3 L1828.4 786 L1830.4 786.7 L1832.4 787.4 L1834.4 788.1 L1836.4 788.9 L1838.4 789.6 L1840.4 790.3 L1842.4 791 L1844.4 791.7 L1846.4 792.4 L1848.4 793.1 L1850.4 794.8 L1852.4 794.6 L1854.4 792.9 L1856.4 797.8 L1858.4 797.3 L1860.4 798.1 L1862.4 798.5 L1864.4 802.1 L1866.4 801.5 L1868.4 802.9 L1870.4 800.4 L1872.4 800.8 L1874.4 800.3 L1876.4 802.7 L1878.4 798.2 L1880.4 808.1 L1882.4 805.7 L1884 806.2 L1884.4 808 L1886.4 806.2 L1888.4 808.3 L1890.4 810.2 L1892.4 806 L1894.4 813.8 L1896.4 811.2 L1898.4 813 L1900.4 810.3 L1902.4 811.9 L1904.4 817.7 L1906.4 813.7 L1908.4 814.8 L1910.4 817.5 L1912.4 820.3 L1914.4 812.9 L1916.4 822 L1918.4 820.2 L1920.4 822.3 L1922.4 819 L1924.4 822.6 L1926.4 826.2 L1928.4 823.3 L1930.4 822.9 L1932 823.9 L1932.4 823.9 L1934.4 827.4 L1936.4 826.9 L1938.4 826.1 L1940.4 829.5 L1942.4 826.2 L1944.4 826.2 L1946.4 835.2 L1948.4 829.3 L1950.4 834.8 L1952.4 831.8 L1954.4 832.2 L1956.4 834.4 L1958.4 832.1 L1960.4 832.8 L1962.4 834.9 L1964.4 835.2 L1966.4 838.2 L1968.4 841.5 L1970.4 835.5 L1972.4 836.9 L1974.4 841.1 L1976.4 841.2 L1978.4 843.3 L1980.4 840 L1982.4 843.6 L1984.4 842.9 L1986.4 840.3 L1988.4 845.5 L1990.4 842 L1992.4 847.3 L1994.4 846 L1996.4 847.4 L1998.4 853.2 L2000.4 852.7 L2002.4 851.2 L2004.4 852 L2006.4 850.3 L2008.4 855.5 L2010.4 855 L2012.4 852.7 L2014.4 851.8 L2016.4 856.2 L2018.4 856.7 L2020.4 859.7 L2022.4 856.5 L2024.4 857.6 L2026.4 861.2 L2028.4 861.2 L2030.4 863.9 L2032.4 865 L2034.4 861.3 L2036.4 858.9 L2036.6 864.2 L2038.4 863.1 L2040.4 865.8 L2042.4 860.2 L2044.4 866.4 L2046.4 867.5 L2048.4 866.7 L2050.4 869.6 L2052.4 869.3 L2054.4 870.2 L2056.4 873.1 L2058.4 873.7 L2060.4 874 L2062.4 872.8 L2064.4 872.9 L2066.4 874.4 L2068.4 874.4 L2070.4 872.8 L2072.4 875.7 L2074.4 877.4 L2076.4 875.2 L2078.4 874.3 L2080.4 878.4 L2082.4 876.1 L2084.4 875.2 L2086.4 878.4 L2088.4 876.4 L2088.8 880.4 L2090.4 879 L2092.4 880.9 L2094.4 883.7 L2096.4 884.2 L2098.4 882.2 L2100.4 878.1 L2102.4 882.4 L2104.4 881.5 L2106.4 886.4 L2108.4 888.3 L2110.4 887 L2112.4 887.4 L2114.4 887.8 L2116.4 888.6 L2118.4 886.9 L2120.4 890.2 L2122.4 888.2 L2124.4 887 L2126.4 890.2 L2128.4 894.1 L2130.4 891 L2132.4 888.3 L2134.4 895.4 L2136.4 894 L2138.4 895.5 L2140.4 894.1 L2141 896.4 L2142.4 899.5 L2144.4 895.8 L2146.4 900 L2148.4 900.8 L2150.4 899.8 L2152.4 903.6 L2154.4 906.1 L2156.4 904.6 L2158.4 910.3 L2160.4 906.7 L2162.4 912.5 L2164.4 912 L2166.4 911.6 L2167 909.4 L2168.4 909.2 L2170.4 905.6 L2172.4 909.3 L2174.4 907.8 L2176.4 908 L2178.4 907.7 L2180.4 904.8 L2182.4 902.8 L2184.4 905.2 L2185 903 L2186.4 903.1 L2188.4 901 L2190.4 906.4 L2192.4 903.7 L2194.4 910.5 L2196.4 906 L2198.4 908.5 L2200.4 911.6 L2201 910.6" stroke="#4472C4" stroke-width="7.5" fill="none" stroke-linejoin="round" stroke-linecap="round"/>
<path d="M579 153 L581 153.2 L583 153.4 L585 153.7 L587 153.9 L589 154.1 L591 154.3 L593 154.4 L595 154.6 L597 154.8 L599 154.9 L600 155 L601 155.1 L603 155.2 L605 155.3 L607 155.4 L609 155.5 L611 155.6 L613 155.7 L615 155.8 L617 155.8 L619 155.9 L621 156 L623 156.1 L625 156.2 L627 156.3 L629 156.4 L631 156.5 L633 156.6 L635 156.7 L637 156.8 L639 157 L641 157.2 L643 157.4 L645 157.6 L647 157.9 L649 158.2 L651 158.5 L653 158.9 L655 159.2 L657 159.6 L659 160 L661 160.4 L663 160.9 L665 161.3 L667 161.8 L668 162 L669 162.2 L671 162.7 L673 163.3 L675 163.9 L677 164.5 L679 165.2 L681 166 L683 166.8 L685 167.8 L687 168.9 L689 170 L691 171.3 L693 172.6 L695 174.1 L697 175.7 L699 177.2 L700 178 L701 178.8 L703 180.4 L705 182 L707 183.7 L709 185.3 L710 186 L711 186.7 L713 188.1 L715 189.4 L717 190.7 L719 192 L721 193.3 L722 194 L723 194.8 L725 196.7 L727 198.7 L729 200.5 L731 201.5 L732 201.7 L733 201.5 L735 200.2 L737 198.2 L739 196 L740 195 L741 194 L743 191.7 L745 189.4 L746 188.5 L747 187.7 L749 186 L751 184.6 L753 183.4 L754 183 L755 182.6 L757 181.8 L759 181.2 L761 181 L763 181.2 L765 181.7 L767 182.5 L768 183 L769 183.9 L771 187.5 L773 193.1 L773.6 195 L775 201 L777 215 L778.5 235 L779 242.4 L780.6 269 L781 276.2 L783 317.2 L783.3 325 L785 387.7 L785.3 400 L787 478.5 L787.3 489 L789 530.9 L789.5 540 L791 564.4 L791.5 567 L793 566.9 L795 566.4 L796 566 L797 565.1 L799 562.2 L800 561.6 L801 562.6 L803 568.7 L805 576.7 L806 580 L807 583.1 L809 589.8 L811 595.1 L812.4 596.4 L813 596.4 L815 596.4 L817 596.3 L819 596.2 L821 596 L823 595.9 L825 595.7 L827 595.5 L829 595.4 L831 595.2 L833 595.1 L835 595 L837 595 L837.4 595 L839 595 L841 595.2 L843 595.4 L845 595.7 L847 596.1 L849 596.5 L851 597 L853 597.5 L855 598.1 L857 598.6 L859 599.1 L861 599.6 L863 600 L865 600.4 L865.3 600.5 L867 600.8 L869 601.2 L871 601.5 L873 601.9 L875 602.2 L877 602.5 L879 602.9 L881 603.2 L883 603.5 L885 603.9 L887 604.2 L889 604.5 L891 604.9 L893 605.2 L895 605.5 L897 605.8 L899 606.2 L901 606.5 L903 606.8 L905 607.2 L907 607.5 L909 607.8 L911 608.2 L913 608.5 L915 608.9 L917 609.2 L919 609.5 L921 609.9 L923 610.2 L925 610.6 L927 610.9 L929 611.2 L931 611.6 L933 611.9 L935 612.3 L937 612.6 L939 612.9 L941 613.3 L943 613.6 L945 614 L947 614.3 L949 614.7 L951 615.1 L953 615.4 L955 615.8 L957 616.1 L959 616.5 L961 616.9 L962.7 617.2 L963 617.3 L965 617.6 L967 618 L969 618.4 L971 618.8 L973 619.1 L975 619.5 L977 619.9 L979 620.3 L981 620.7 L983 621.1 L985 621.5 L987 621.9 L989 622.3 L991 622.7 L993 623.1 L995 623.5 L997 624 L999 624.4 L1001 624.8 L1003 625.3 L1004.4 625.6 L1005 625.7 L1007 626.2 L1009 626.7 L1011 627.2 L1013 627.7 L1015 628.3 L1017 628.8 L1019 629.4 L1021 629.9 L1023 630.5 L1025 631.1 L1027 631.6 L1029 632.2 L1031 632.8 L1033 633.3 L1035 633.9 L1037 634.4 L1039 634.9 L1041 635.5 L1043 635.9 L1045 636.4 L1046.2 636.7 L1047 636.9 L1049 637.4 L1051 637.8 L1053 638.3 L1055 638.8 L1057 639.3 L1059 639.8 L1061 640.3 L1063 640.8 L1065 641.3 L1067 641.8 L1069 642.2 L1071 642.6 L1073 643 L1075 643.4 L1077 643.8 L1079 644.1 L1081 644.4 L1083 644.6 L1085 644.8 L1087 644.9 L1088 645 L1089 645 L1091 645.1 L1093 645.2 L1095 645.3 L1097 645.4 L1099 645.5 L1101 645.6 L1103 645.7 L1105 645.7 L1107 645.8 L1109 645.9 L1111 645.9 L1113 646 L1115 646 L1117 646.1 L1119 646.1 L1121 646.2 L1123 646.2 L1125 646.3 L1127 646.3 L1129 646.3 L1131 646.4 L1133 646.4 L1135 646.4 L1137 646.4 L1139 646.4 L1140 646.4 L1141 646.4 L1143 646.4 L1145 646.4 L1147 646.3 L1149 646.3 L1151 646.3 L1153 646.2 L1155 646.1 L1157 646.1 L1159 646 L1161 645.9 L1163 645.8 L1165 645.7 L1167 645.6 L1169 645.5 L1171 645.4 L1173 645.3 L1175 645.2 L1177 645.1 L1179 644.9 L1181 644.8 L1183 644.7 L1185 644.5 L1187 644.4 L1189 644.3 L1191 644.1 L1193 644 L1195 643.8 L1197 643.7 L1199 643.6 L1201 643.4 L1203 643.3 L1205 643.1 L1207 643 L1209 642.9 L1211 642.7 L1213 642.6 L1215 642.5 L1217 642.4 L1219 642.3 L1221 642.1 L1223 642 L1225 641.9 L1227 641.8 L1229 641.8 L1231 641.7 L1233 641.6 L1235 641.5 L1237 641.5 L1239 641.4 L1241 641.3 L1243 641.3 L1245 641.2 L1247 641.2 L1249 641.1 L1251 641.1 L1253 641 L1255 641 L1257 640.9 L1259 640.9 L1261 640.8 L1263 640.8 L1265 640.7 L1267 640.7 L1269 640.6 L1271 640.6 L1273 640.6 L1275 640.5 L1277 640.5 L1279 640.4 L1281 640.4 L1283 640.3 L1285 640.3 L1287 640.2 L1289 640.2 L1291 640.2 L1293 640.1 L1295 640.1 L1297 640.1 L1299 640 L1301 640 L1303 640 L1305 639.9 L1307 639.9 L1309 639.9 L1311 639.8 L1313 639.8 L1315 639.8 L1317 639.8 L1319 639.7 L1321 639.7 L1323 639.7 L1325 639.7 L1327 639.7 L1329 639.7 L1331 639.6 L1333 639.6 L1335 639.6 L1337 639.6 L1339 639.6 L1341 639.6 L1343 639.6 L1343.6 639.6 L1345 639.6 L1347 639.6 L1349 639.6 L1351 639.6 L1353 639.6 L1355 639.6 L1357 639.6 L1359 639.6 L1361 639.7 L1363 639.7 L1365 639.7 L1367 639.7 L1369 639.7 L1371 639.7 L1373 639.8 L1375 639.8 L1377 639.8 L1379 639.8 L1381 639.9 L1383 639.9 L1385 639.9 L1387 639.9 L1389 640 L1391 640 L1393 640 L1395 640.1 L1397 640.1 L1399 640.2 L1401 640.2 L1403 640.2 L1405 640.3 L1407 640.3 L1409 640.4 L1411 640.4 L1413 640.5 L1415 640.5 L1417 640.5 L1419 640.6 L1421 640.6 L1423 640.7 L1425 640.7 L1427 640.8 L1429 640.9 L1431 640.9 L1433 641 L1435 641 L1437 641.1 L1439 641.1 L1441 641.2 L1443 641.2 L1445 641.3 L1447 641.4 L1448 641.4 L1449 641.4 L1451 641.5 L1453 641.6 L1455 641.7 L1457 641.9 L1459 642 L1461 642.2 L1463 642.4 L1465 642.6 L1467 642.8 L1469 643 L1471 643.2 L1473 643.4 L1475 643.7 L1477 643.9 L1479 644.2 L1481 644.4 L1483 644.7 L1485 644.9 L1487 645.2 L1489 645.4 L1491 645.7 L1493 645.9 L1495 646.2 L1497 646.4 L1499 646.7 L1501 646.9 L1503 647.1 L1505 647.3 L1507 647.5 L1509 647.7 L1511 647.9 L1513 648 L1515 648.1 L1517 648.3 L1517.5 648.3 L1519 648.4 L1521 648.5 L1523 648.6 L1525 648.7 L1527 648.7 L1529 648.8 L1531 648.9 L1533 648.9 L1535 649 L1537 649.1 L1539 649.1 L1541 649.2 L1543 649.3 L1545 649.3 L1547 649.4 L1549 649.5 L1551 649.5 L1553 649.6 L1555 649.7 L1557 649.8 L1559 649.9 L1560 650 L1561 650.1 L1563 650.2 L1565 650.4 L1567 650.5 L1569 650.7 L1571 650.9 L1573 651.2 L1575 651.4 L1577 651.7 L1579 651.9 L1581 652.2 L1583 652.5 L1585 652.7 L1587 653 L1589 653.3 L1591 653.6 L1593 653.9 L1595 654.2 L1597 654.5 L1599 654.8 L1600 655 L1601 655.2 L1603 655.5 L1605 655.8 L1607 656.1 L1609 656.5 L1611 656.8 L1613 657.2 L1615 657.6 L1617 658 L1619 658.4 L1621 658.8 L1623 659.2 L1625 659.6 L1627 660 L1629 660.4 L1631 660.8 L1633 661.2 L1633.5 661.3 L1635 661.6 L1637 662 L1639 662.5 L1641 662.9 L1643 663.3 L1645 663.8 L1647 664.2 L1649 664.7 L1651 665.1 L1653 665.6 L1655 666.1 L1657 666.5 L1659 667 L1661 667.5 L1663 668 L1665 668.4 L1667 668.9 L1669 669.4 L1671 669.9 L1673 670.4 L1675 670.9 L1677 671.4 L1679 671.9 L1681 672.4 L1683 672.8 L1685 673.3 L1687 673.8 L1689 674.3 L1691 674.8 L1693 675.3 L1695 675.8 L1697 676.2 L1699 676.7 L1701 677.2 L1703 677.7 L1705 678.1 L1707 678.6 L1709 679 L1711 679.5 L1713 679.9 L1715 680.4 L1717 680.8 L1719 681.2 L1721 681.7 L1723 682.1 L1725 682.5 L1727 682.9 L1729 683.3 L1731 683.7 L1733 684.2 L1735 684.6 L1737 685 L1739 685.4 L1741 685.8 L1743 686.2 L1745 686.6 L1747 687 L1749 687.4 L1751 687.7 L1753 688.1 L1755 688.5 L1757 688.9 L1759 689.3 L1761 689.7 L1763 690.1 L1765 690.5 L1767 690.9 L1769 691.3 L1771 691.6 L1773 692 L1775 692.4 L1777 692.8 L1779 693.2 L1781 693.6 L1783 694 L1785 694.4 L1787 694.8 L1789 695.2 L1791 695.6 L1793 696 L1795 696.4 L1797 696.8 L1799 697.2 L1800.5 697.5 L1801 697.6 L1803 698 L1805 698.4 L1807 698.8 L1809 699.2 L1811 699.6 L1813 700 L1815 700.5 L1817 700.9 L1819 701.3 L1821 701.7 L1823 702.1 L1825 702.5 L1827 702.9 L1829 703.3 L1831 703.7 L1833 704.1 L1835 704.5 L1837 704.9 L1839 705.3 L1841 705.7 L1843 706.2 L1845 706.6 L1847 707 L1849 707.4 L1851 707.8 L1853 708.2 L1855 708.7 L1857 709.1 L1859 709.5 L1861 709.9 L1863 710.4 L1865 710.8 L1867 711.2 L1869 711.7 L1871 712.1 L1873 712.5 L1875 713 L1877 713.4 L1879 713.9 L1881 714.3 L1883 714.8 L1884 715 L1885 715.2 L1887 715.7 L1889 716.2 L1891 716.6 L1893 717.1 L1895 717.6 L1897 718.1 L1899 718.6 L1901 719.1 L1903 719.6 L1905 720.1 L1907 720.6 L1909 721.1 L1911 721.7 L1913 722.2 L1915 722.7 L1917 723.2 L1919 723.7 L1921 724.3 L1923 724.8 L1925 725.3 L1927 725.8 L1929 726.3 L1931 726.9 L1933 727.4 L1935 727.9 L1937 728.4 L1939 728.9 L1941 729.4 L1943 729.9 L1945 730.4 L1947 730.9 L1949 731.4 L1951 731.8 L1953 732.3 L1955 732.8 L1957 733.2 L1958.3 733.5 L1959 733.7 L1961 734.1 L1963 734.5 L1965 735 L1967 735.4 L1969 735.8 L1971 736.3 L1973 736.7 L1975 737.1 L1977 737.6 L1979 738 L1981 738.4 L1983 738.8 L1985 739.2 L1987 739.6 L1989 740 L1991 740.4 L1993 740.9 L1995 741.3 L1997 741.7 L1999 742.1 L2001 742.5 L2003 742.8 L2005 743.2 L2007 743.6 L2009 744 L2011 744.4 L2013 744.8 L2015 745.2 L2017 745.6 L2019 745.9 L2021 746.3 L2023 746.7 L2025 747.1 L2027 747.4 L2029 747.8 L2031 748.2 L2033 748.5 L2035 748.9 L2036.6 749.2 L2037 749.3 L2039 749.6 L2041 750 L2043 750.3 L2045 750.7 L2047 751 L2049 751.4 L2051 751.7 L2053 752.1 L2055 752.4 L2057 752.8 L2059 753.1 L2061 753.4 L2063 753.8 L2065 754.1 L2067 754.4 L2069 754.7 L2071 755.1 L2073 755.4 L2075 755.7 L2077 756 L2079 756.4 L2081 756.7 L2083 757 L2085 757.3 L2087 757.7 L2089 758 L2091 758.3 L2093 758.6 L2095 758.9 L2097 759.3 L2099 759.6 L2101 759.9 L2103 760.2 L2105 760.6 L2107 760.9 L2109 761.2 L2111 761.6 L2113 761.9 L2114.9 762.2 L2115 762.2 L2117 762.5 L2119 762.9 L2121 763.2 L2123 763.6 L2125 763.9 L2127 764.2 L2129 764.6 L2131 764.9 L2133 765.2 L2135 765.6 L2137 765.9 L2139 766.2 L2141 766.6 L2143 766.9 L2145 767.2 L2147 767.6 L2149 767.9 L2151 768.2 L2153 768.6 L2155 768.9 L2157 769.2 L2159 769.6 L2161 769.9 L2163 770.2 L2165 770.6 L2167 770.9 L2169 771.2 L2171 771.6 L2173 771.9 L2175 772.2 L2177 772.6 L2179 772.9 L2181 773.2 L2183 773.6 L2185 773.9 L2187 774.3 L2189 774.6 L2191 774.9 L2193 775.3 L2195 775.6 L2197 775.9 L2199 776.3 L2201 776.6" stroke="#ED7D31" stroke-width="7.5" fill="none" stroke-linejoin="round" stroke-linecap="round"/>
<text x="1577" y="589.3" font-size="105" font-weight="bold" fill="#FF9900">G″</text>
<text x="1577" y="934.4" font-size="105" font-weight="bold" fill="#5B9BD5">G′</text>
<polygon points="513,2222.3 517.6,2228.6 522.2,2226.1 526.8,2231.2 531.4,2224.3 536,2230.4 540.6,2229.4 545.2,2230.9 549.8,2230.8 554.4,2226.7 559,2225.9 563.6,2232.2 568.2,2232.6 572.8,2231.2 577.4,2231.1 582,2228.5 586.6,2231.3 591.2,2219.1 595.8,2234.3 600.4,2236 605,2228.8 609.6,2235 614.2,2235.4 618.8,2233.8 623.4,2235.8 628,2237 632.6,2237.1 637.2,2236.7 641.8,2235 646.4,2237.1 651,2236.8 655.6,2231.2 660.2,2234.9 664.8,2238.3 669.4,2238.2 674,2239.2 678.6,2237.1 683.2,2239.1 687.8,2239.1 692.4,2236.8 697,2239.7 701.6,2239.3 706.2,2241.7 710.8,2239.9 715.4,2240.4 720,2237.5 724.6,2242.6 729.2,2239.2 733.8,2239.6 738.4,2241.7 743,2242.7 747.6,2238.1 752.2,2242.8 756.8,2246.5 761.4,2241.2 766,2243.6 770.6,2236.3 775.2,2243.3 779.8,2244 784.4,2244.2 789,2238.8 793.6,2245.7 798.2,2244.6 802.8,2243.2 807.4,2244.1 812,2244.9 816.6,2243.9 821.2,2240.7 825.8,2243.7 830.4,2244.9 835,2245 839.6,2244.4 844.2,2243.7 848.8,2243 853.4,2242 858,2239.7 862.6,2244.8 867.2,2243.9 871.8,2242.8 876.4,2244 881,2242.1 885.6,2243.8 890.2,2233.3 894.8,2243 899.4,2241.1 904,2240.2 908.6,2237.8 913.2,2237.6 917.8,2234.2 922.4,2232 927,2233.5 931.6,2231.8 936.2,2230.1 940.8,2229.3 945.4,2224.1 950,2224.9 954.6,2220.3 959.2,2223.8 963.8,2221.4 968.4,2215 973,2219.5 977.6,2215 982.2,2217.4 986.8,2212.2 991.4,2211.9 996,2210.3 1000.6,2210.5 1005.2,2207.9 1009.8,2206.4 1014.4,2195.5 1019,2198.5 1023.6,2196.1 1028.2,2192.2 1032.8,2192.8 1037.4,2186 1042,2186.3 1046.6,2187.7 1051.2,2185.6 1051.2,2200.6 1046.6,2203.3 1042,2203.2 1037.4,2204.3 1032.8,2207.8 1028.2,2208.9 1023.6,2211.8 1019,2214.3 1014.4,2215.1 1009.8,2223.9 1005.2,2223.3 1000.6,2226.6 996,2226.2 991.4,2227.7 986.8,2228.7 982.2,2236 977.6,2231.3 973,2237.2 968.4,2233 963.8,2237.3 959.2,2241.7 954.6,2237.6 950,2240.1 945.4,2240.8 940.8,2246.5 936.2,2245.9 931.6,2247.8 927,2249.9 922.4,2248.5 917.8,2250.2 913.2,2253.9 908.6,2253.2 904,2256.1 899.4,2256.3 894.8,2260.5 890.2,2254.2 885.6,2261.7 881,2257.4 876.4,2261.6 871.8,2258 867.2,2261 862.6,2263.5 858,2256.9 853.4,2257.7 848.8,2258.1 844.2,2260.1 839.6,2262.1 835,2263.8 830.4,2263.4 825.8,2259.6 821.2,2257.4 816.6,2260.3 812,2263.1 807.4,2260.9 802.8,2258.3 798.2,2262.3 793.6,2265.6 789,2256.8 784.4,2261.1 779.8,2260.5 775.2,2258.5 770.6,2255.9 766,2259.8 761.4,2257.3 756.8,2269.2 752.2,2258.8 747.6,2255.7 743,2259.7 738.4,2257.3 733.8,2255.6 729.2,2255.3 724.6,2261.8 720,2254.3 715.4,2256.6 710.8,2255.4 706.2,2261.5 701.6,2254.7 697,2256.4 692.4,2253 687.8,2255.2 683.2,2255.6 678.6,2252.8 674,2256.6 669.4,2254 664.8,2254.7 660.2,2251.6 655.6,2250.2 651,2252 646.4,2252.8 641.8,2251 637.2,2252.5 632.6,2254.2 628,2254.4 623.4,2251.4 618.8,2249.7 614.2,2251.4 609.6,2250.7 605,2247.5 600.4,2254.8 595.8,2250.3 591.2,2243.6 586.6,2247.5 582,2246.3 577.4,2246.9 572.8,2246.7 568.2,2249.6 563.6,2249.2 559,2244.3 554.4,2244.3 549.8,2246.9 545.2,2247.7 540.6,2244.6 536,2247.5 531.4,2242.5 526.8,2250.9 522.2,2242.7 517.6,2244.4 513,2241.1" fill="#8e8e8e"/>
<path d="M505.5 2222.3h15M505.5 2241.1h15M510.1 2228.6h15M510.1 2244.4h15M514.7 2226.1h15M514.7 2242.7h15M519.3 2231.2h15M519.3 2250.9h15M523.9 2224.3h15M523.9 2242.5h15M528.5 2230.4h15M528.5 2247.5h15M533.1 2229.4h15M533.1 2244.6h15M537.7 2230.9h15M537.7 2247.7h15M542.3 2230.8h15M542.3 2246.9h15M546.9 2226.7h15M546.9 2244.3h15M551.5 2225.9h15M551.5 2244.3h15M556.1 2232.2h15M556.1 2249.2h15M560.7 2232.6h15M560.7 2249.6h15M565.3 2231.2h15M565.3 2246.7h15M569.9 2231.1h15M569.9 2246.9h15M574.5 2228.5h15M574.5 2246.3h15M579.1 2231.3h15M579.1 2247.5h15M583.7 2219.1h15M583.7 2243.6h15M588.3 2234.3h15M588.3 2250.3h15M592.9 2236h15M592.9 2254.8h15M597.5 2228.8h15M597.5 2247.5h15M602.1 2235h15M602.1 2250.7h15M606.7 2235.4h15M606.7 2251.4h15M611.3 2233.8h15M611.3 2249.7h15M615.9 2235.8h15M615.9 2251.4h15M620.5 2237h15M620.5 2254.4h15M625.1 2237.1h15M625.1 2254.2h15M629.7 2236.7h15M629.7 2252.5h15M634.3 2235h15M634.3 2251h15M638.9 2237.1h15M638.9 2252.8h15M643.5 2236.8h15M643.5 2252h15M648.1 2231.2h15M648.1 2250.2h15M652.7 2234.9h15M652.7 2251.6h15M657.3 2238.3h15M657.3 2254.7h15M661.9 2238.2h15M661.9 2254h15M666.5 2239.2h15M666.5 2256.6h15M671.1 2237.1h15M671.1 2252.8h15M675.7 2239.1h15M675.7 2255.6h15M680.3 2239.1h15M680.3 2255.2h15M684.9 2236.8h15M684.9 2253h15M689.5 2239.7h15M689.5 2256.4h15M694.1 2239.3h15M694.1 2254.7h15M698.7 2241.7h15M698.7 2261.5h15M703.3 2239.9h15M703.3 2255.4h15M707.9 2240.4h15M707.9 2256.6h15M712.5 2237.5h15M712.5 2254.3h15M717.1 2242.6h15M717.1 2261.8h15M721.7 2239.2h15M721.7 2255.3h15M726.3 2239.6h15M726.3 2255.6h15M730.9 2241.7h15M730.9 2257.3h15M735.5 2242.7h15M735.5 2259.7h15M740.1 2238.1h15M740.1 2255.7h15M744.7 2242.8h15M744.7 2258.8h15M749.3 2246.5h15M749.3 2269.2h15M753.9 2241.2h15M753.9 2257.3h15M758.5 2243.6h15M758.5 2259.8h15M763.1 2236.3h15M763.1 2255.9h15M767.7 2243.3h15M767.7 2258.5h15M772.3 2244h15M772.3 2260.5h15M776.9 2244.2h15M776.9 2261.1h15M781.5 2238.8h15M781.5 2256.8h15M786.1 2245.7h15M786.1 2265.6h15M790.7 2244.6h15M790.7 2262.3h15M795.3 2243.2h15M795.3 2258.3h15M799.9 2244.1h15M799.9 2260.9h15M804.5 2244.9h15M804.5 2263.1h15M809.1 2243.9h15M809.1 2260.3h15M813.7 2240.7h15M813.7 2257.4h15M818.3 2243.7h15M818.3 2259.6h15M822.9 2244.9h15M822.9 2263.4h15M827.5 2245h15M827.5 2263.8h15M832.1 2244.4h15M832.1 2262.1h15M836.7 2243.7h15M836.7 2260.1h15M841.3 2243h15M841.3 2258.1h15M845.9 2242h15M845.9 2257.7h15M850.5 2239.7h15M850.5 2256.9h15M855.1 2244.8h15M855.1 2263.5h15M859.7 2243.9h15M859.7 2261h15M864.3 2242.8h15M864.3 2258h15M868.9 2244h15M868.9 2261.6h15M873.5 2242.1h15M873.5 2257.4h15M878.1 2243.8h15M878.1 2261.7h15M882.7 2233.3h15M882.7 2254.2h15M887.3 2243h15M887.3 2260.5h15M891.9 2241.1h15M891.9 2256.3h15M896.5 2240.2h15M896.5 2256.1h15M901.1 2237.8h15M901.1 2253.2h15M905.7 2237.6h15M905.7 2253.9h15M910.3 2234.2h15M910.3 2250.2h15M914.9 2232h15M914.9 2248.5h15M919.5 2233.5h15M919.5 2249.9h15M924.1 2231.8h15M924.1 2247.8h15M928.7 2230.1h15M928.7 2245.9h15M933.3 2229.3h15M933.3 2246.5h15M937.9 2224.1h15M937.9 2240.8h15M942.5 2224.9h15M942.5 2240.1h15M947.1 2220.3h15M947.1 2237.6h15M951.7 2223.8h15M951.7 2241.7h15M956.3 2221.4h15M956.3 2237.3h15M960.9 2215h15M960.9 2233h15M965.5 2219.5h15M965.5 2237.2h15M970.1 2215h15M970.1 2231.3h15M974.7 2217.4h15M974.7 2236h15M979.3 2212.2h15M979.3 2228.7h15M983.9 2211.9h15M983.9 2227.7h15M988.5 2210.3h15M988.5 2226.2h15M993.1 2210.5h15M993.1 2226.6h15M997.7 2207.9h15M997.7 2223.3h15M1002.3 2206.4h15M1002.3 2223.9h15M1006.9 2195.5h15M1006.9 2215.1h15M1011.5 2198.5h15M1011.5 2214.3h15M1016.1 2196.1h15M1016.1 2211.8h15M1020.7 2192.2h15M1020.7 2208.9h15M1025.3 2192.8h15M1025.3 2207.8h15M1029.9 2186h15M1029.9 2204.3h15M1034.5 2186.3h15M1034.5 2203.2h15M1039.1 2187.7h15M1039.1 2203.3h15M1043.7 2185.6h15M1043.7 2200.6h15" stroke="#000" stroke-width="2.6" fill="none"/>
<polygon points="1166.2,1891.5 1170.8,1895.3 1175.4,1889.5 1180,1891 1184.6,1891.1 1189.2,1886.2 1193.8,1892.6 1198.4,1895.3 1203,1890.1 1207.6,1890.5 1212.2,1892.8 1216.8,1891 1221.4,1891.9 1226,1890.1 1230.6,1892.7 1235.2,1892.5 1239.8,1896.7 1244.4,1894.5 1249,1893.5 1253.6,1895.4 1258.2,1897.6 1262.8,1896 1267.4,1901 1272,1897 1276.6,1904.6 1281.2,1899.2 1285.8,1901.9 1290.4,1906.2 1295,1903.2 1299.6,1911.7 1304.2,1907.3 1308.8,1902.8 1313.4,1911.5 1318,1909.1 1322.6,1911 1327.2,1912.2 1331.8,1906.5 1336.4,1915.1 1341,1907.7 1345.6,1911.7 1350.2,1910 1354.8,1914.1 1359.4,1906.1 1364,1909.2 1368.6,1913.6 1373.2,1914.3 1377.8,1910.1 1382.4,1918.1 1387,1916.5 1391.6,1913.8 1396.2,1914.9 1400.8,1912.1 1405.4,1920.3 1410,1915.3 1414.6,1916.9 1419.2,1911.9 1423.8,1913.4 1428.4,1921.1 1433,1918.3 1437.6,1918.9 1442.2,1921 1446.8,1921 1451.4,1916.3 1456,1917.9 1460.6,1916.8 1465.2,1920.4 1469.8,1921.7 1474.4,1917.1 1479,1921.8 1483.6,1923.3 1488.2,1921 1492.8,1920.4 1497.4,1921.8 1502,1915.9 1506.6,1922.4 1511.2,1922.9 1515.8,1922.3 1520.4,1917.8 1525,1923.9 1529.6,1927 1534.2,1924.1 1538.8,1923.9 1543.4,1925.5 1548,1924.3 1552.6,1921.4 1557.2,1920.7 1561.8,1927.2 1566.4,1921.9 1571,1924.7 1575.6,1927.3 1580.2,1925 1584.8,1932.8 1589.4,1923.2 1594,1924.2 1598.6,1925.6 1603.2,1925.2 1607.8,1924.6 1612.4,1930.3 1617,1928.1 1621.6,1930.9 1626.2,1926.3 1630.8,1924.2 1635.4,1920.4 1640,1926.6 1644.6,1928.8 1649.2,1921.4 1653.8,1926.1 1658.4,1927.8 1663,1927.3 1667.6,1930 1672.2,1922.6 1676.8,1922.4 1681.4,1933.4 1686,1924.5 1690.6,1924.7 1695.2,1926.8 1699.8,1930.5 1704.4,1928.2 1709,1923.2 1713.6,1922.3 1718.2,1928.3 1722.8,1923.1 1727.4,1925.5 1732,1925.8 1736.6,1923.3 1741.2,1920.5 1745.8,1926.7 1750.4,1922.9 1755,1925.8 1759.6,1921.4 1764.2,1922.5 1768.8,1922.7 1773.4,1930.7 1778,1921.1 1782.6,1923.9 1787.2,1929.2 1791.8,1924.2 1796.4,1923.3 1801,1928 1805.6,1926.6 1810.2,1927.6 1814.8,1926.2 1819.4,1924 1824,1924.3 1828.6,1928.5 1833.2,1925.8 1837.8,1923.4 1842.4,1922.8 1847,1927.4 1851.6,1919.8 1856.2,1925.7 1860.8,1921.1 1865.4,1922.1 1870,1923.6 1874.6,1919.3 1879.2,1923.9 1883.8,1920.9 1888.4,1925.4 1893,1920.3 1897.6,1923.2 1902.2,1917.3 1906.8,1922.6 1911.4,1922.6 1916,1924.5 1920.6,1919.1 1925.2,1923.6 1929.8,1915 1934.4,1917.6 1939,1919.3 1943.6,1915 1948.2,1918.6 1952.8,1914.5 1957.4,1917.2 1962,1917.9 1966.6,1913.3 1971.2,1915.3 1975.8,1911 1980.4,1918.2 1985,1912.2 1989.6,1917.1 1994.2,1913.2 1998.8,1917.8 2003.4,1909 2008,1916.6 2012.6,1912 2017.2,1915.5 2021.8,1917.3 2026.4,1916.3 2031,1915.3 2035.6,1917.4 2040.2,1912.2 2044.8,1911.6 2049.4,1903.8 2054,1912.3 2058.6,1913.9 2063.2,1914.4 2067.8,1913 2072.4,1909.2 2077,1911.8 2081.6,1914.2 2086.2,1910.9 2090.8,1910.9 2095.4,1910.3 2100,1913.1 2104.6,1913 2109.2,1902.3 2113.8,1910.6 2118.4,1909.3 2123,1905.5 2127.6,1912.7 2132.2,1905.2 2136.8,1910.8 2141.4,1912.7 2146,1905.7 2150.6,1908.9 2155.2,1907.3 2159.8,1908.1 2164.4,1906 2164.4,1927.5 2159.8,1929.7 2155.2,1927.1 2150.6,1928.6 2146,1927.5 2141.4,1939.3 2136.8,1928.7 2132.2,1928.3 2127.6,1931.6 2123,1925.2 2118.4,1930.4 2113.8,1931.6 2109.2,1925.8 2104.6,1938.3 2100,1931.5 2095.4,1931.3 2090.8,1932.3 2086.2,1933.3 2081.6,1935.1 2077,1937.3 2072.4,1931.2 2067.8,1933.6 2063.2,1940.5 2058.6,1937.3 2054,1934.5 2049.4,1926.9 2044.8,1932.5 2040.2,1934.4 2035.6,1938.4 2031,1936.9 2026.4,1934 2021.8,1940.4 2017.2,1934.9 2012.6,1933.8 2008,1936.4 2003.4,1933.2 1998.8,1939.7 1994.2,1938 1989.6,1940 1985,1938.3 1980.4,1939.3 1975.8,1935.1 1971.2,1938.7 1966.6,1936.1 1962,1939.9 1957.4,1939.6 1952.8,1933.5 1948.2,1940.5 1943.6,1936.4 1939,1937.7 1934.4,1936.8 1929.8,1935 1925.2,1948.5 1920.6,1938 1916,1942.3 1911.4,1945.1 1906.8,1943.9 1902.2,1944.2 1897.6,1946 1893,1943.5 1888.4,1946.5 1883.8,1939.1 1879.2,1943.7 1874.6,1942.3 1870,1942.3 1865.4,1946.1 1860.8,1941.7 1856.2,1943.8 1851.6,1944.5 1847,1950.5 1842.4,1944.2 1837.8,1944.7 1833.2,1945.3 1828.6,1950.6 1824,1943.2 1819.4,1954.3 1814.8,1945.2 1810.2,1954.3 1805.6,1946.3 1801,1948.2 1796.4,1943.9 1791.8,1946.9 1787.2,1950.8 1782.6,1946.3 1778,1944.1 1773.4,1948.2 1768.8,1949.9 1764.2,1943.4 1759.6,1940.4 1755,1947.2 1750.4,1948.8 1745.8,1949.8 1741.2,1942.6 1736.6,1949 1732,1945.2 1727.4,1945.3 1722.8,1945.6 1718.2,1947.3 1713.6,1942.8 1709,1945.4 1704.4,1945.9 1699.8,1951.1 1695.2,1949.7 1690.6,1949.4 1686,1948.5 1681.4,1951.6 1676.8,1944.9 1672.2,1947.6 1667.6,1959.3 1663,1946.6 1658.4,1950 1653.8,1945.9 1649.2,1948.3 1644.6,1948.8 1640,1944.7 1635.4,1941.2 1630.8,1945 1626.2,1947.8 1621.6,1950.4 1617,1951 1612.4,1951.5 1607.8,1944.7 1603.2,1945.3 1598.6,1951.5 1594,1946.2 1589.4,1944.4 1584.8,1951 1580.2,1943.7 1575.6,1952.2 1571,1943.2 1566.4,1944 1561.8,1950.3 1557.2,1949.3 1552.6,1942.8 1548,1942.9 1543.4,1948.2 1538.8,1947.9 1534.2,1944.8 1529.6,1948.1 1525,1942.1 1520.4,1942.2 1515.8,1944.3 1511.2,1942.1 1506.6,1954.1 1502,1943.1 1497.4,1944.9 1492.8,1943.5 1488.2,1942.5 1483.6,1944.1 1479,1943.4 1474.4,1942.2 1469.8,1939.8 1465.2,1942 1460.6,1941.8 1456,1941.3 1451.4,1937 1446.8,1942.8 1442.2,1941.9 1437.6,1944.7 1433,1938.9 1428.4,1941.1 1423.8,1935.3 1419.2,1935.3 1414.6,1938.7 1410,1936.3 1405.4,1942.1 1400.8,1935.1 1396.2,1941.1 1391.6,1939.4 1387,1939.9 1382.4,1937.9 1377.8,1930.3 1373.2,1934.5 1368.6,1935.4 1364,1934.5 1359.4,1930.1 1354.8,1931.8 1350.2,1930.5 1345.6,1934.6 1341,1930.1 1336.4,1934.7 1331.8,1929.8 1327.2,1933 1322.6,1931.6 1318,1930.2 1313.4,1931.4 1308.8,1923.7 1304.2,1931.3 1299.6,1930.8 1295,1924.1 1290.4,1925.9 1285.8,1920.3 1281.2,1924 1276.6,1926.3 1272,1918.1 1267.4,1921.5 1262.8,1914 1258.2,1921.9 1253.6,1918.9 1249,1911.4 1244.4,1913.8 1239.8,1918 1235.2,1912.4 1230.6,1913.6 1226,1913.3 1221.4,1910.5 1216.8,1913 1212.2,1910.5 1207.6,1912.9 1203,1916.6 1198.4,1913.6 1193.8,1912.2 1189.2,1909.4 1184.6,1911.6 1180,1915.6 1175.4,1910.1 1170.8,1914.7 1166.2,1912.4" fill="#8e8e8e"/>
<path d="M1185.7 1893.1V1909.6M1232 1894.7V1911.6M1278.6 1906.6V1924.3M1304.4 1909.3V1929.3M1324.8 1913V1929.6M1359.8 1908.1V1928.1M1390.7 1915.8V1937.4M1443.2 1923V1939.9M1490.8 1922.4V1941.5M1534.8 1926.1V1942.8M1577.2 1929.3V1950.2M1623.6 1932.9V1948.4M1649.4 1923.4V1946.3M1687 1926.5V1946.5M1713.5 1924.3V1940.8M1769.8 1924.7V1947.9M1792.1 1926.2V1944.9M1844.9 1929.4V1948.5M1867.8 1925.6V1940.3M1915.3 1926.5V1940.3M1948.8 1920.6V1938.5M1985 1914.2V1936.3M2038.7 1914.2V1932.4M2059.4 1915.9V1935.3M2081.9 1916.2V1933.1M2138.5 1912.8V1926.7" stroke="#fff" stroke-opacity="0.85" stroke-width="1.5" fill="none"/>
<path d="M1158.7 1891.5h15M1158.7 1912.4h15M1163.3 1895.3h15M1163.3 1914.7h15M1167.9 1889.5h15M1167.9 1910.1h15M1172.5 1891h15M1172.5 1915.6h15M1177.1 1891.1h15M1177.1 1911.6h15M1181.7 1886.2h15M1181.7 1909.4h15M1186.3 1892.6h15M1186.3 1912.2h15M1190.9 1895.3h15M1190.9 1913.6h15M1195.5 1890.1h15M1195.5 1916.6h15M1200.1 1890.5h15M1200.1 1912.9h15M1204.7 1892.8h15M1204.7 1910.5h15M1209.3 1891h15M1209.3 1913h15M1213.9 1891.9h15M1213.9 1910.5h15M1218.5 1890.1h15M1218.5 1913.3h15M1223.1 1892.7h15M1223.1 1913.6h15M1227.7 1892.5h15M1227.7 1912.4h15M1232.3 1896.7h15M1232.3 1918h15M1236.9 1894.5h15M1236.9 1913.8h15M1241.5 1893.5h15M1241.5 1911.4h15M1246.1 1895.4h15M1246.1 1918.9h15M1250.7 1897.6h15M1250.7 1921.9h15M1255.3 1896h15M1255.3 1914h15M1259.9 1901h15M1259.9 1921.5h15M1264.5 1897h15M1264.5 1918.1h15M1269.1 1904.6h15M1269.1 1926.3h15M1273.7 1899.2h15M1273.7 1924h15M1278.3 1901.9h15M1278.3 1920.3h15M1282.9 1906.2h15M1282.9 1925.9h15M1287.5 1903.2h15M1287.5 1924.1h15M1292.1 1911.7h15M1292.1 1930.8h15M1296.7 1907.3h15M1296.7 1931.3h15M1301.3 1902.8h15M1301.3 1923.7h15M1305.9 1911.5h15M1305.9 1931.4h15M1310.5 1909.1h15M1310.5 1930.2h15M1315.1 1911h15M1315.1 1931.6h15M1319.7 1912.2h15M1319.7 1933h15M1324.3 1906.5h15M1324.3 1929.8h15M1328.9 1915.1h15M1328.9 1934.7h15M1333.5 1907.7h15M1333.5 1930.1h15M1338.1 1911.7h15M1338.1 1934.6h15M1342.7 1910h15M1342.7 1930.5h15M1347.3 1914.1h15M1347.3 1931.8h15M1351.9 1906.1h15M1351.9 1930.1h15M1356.5 1909.2h15M1356.5 1934.5h15M1361.1 1913.6h15M1361.1 1935.4h15M1365.7 1914.3h15M1365.7 1934.5h15M1370.3 1910.1h15M1370.3 1930.3h15M1374.9 1918.1h15M1374.9 1937.9h15M1379.5 1916.5h15M1379.5 1939.9h15M1384.1 1913.8h15M1384.1 1939.4h15M1388.7 1914.9h15M1388.7 1941.1h15M1393.3 1912.1h15M1393.3 1935.1h15M1397.9 1920.3h15M1397.9 1942.1h15M1402.5 1915.3h15M1402.5 1936.3h15M1407.1 1916.9h15M1407.1 1938.7h15M1411.7 1911.9h15M1411.7 1935.3h15M1416.3 1913.4h15M1416.3 1935.3h15M1420.9 1921.1h15M1420.9 1941.1h15M1425.5 1918.3h15M1425.5 1938.9h15M1430.1 1918.9h15M1430.1 1944.7h15M1434.7 1921h15M1434.7 1941.9h15M1439.3 1921h15M1439.3 1942.8h15M1443.9 1916.3h15M1443.9 1937h15M1448.5 1917.9h15M1448.5 1941.3h15M1453.1 1916.8h15M1453.1 1941.8h15M1457.7 1920.4h15M1457.7 1942h15M1462.3 1921.7h15M1462.3 1939.8h15M1466.9 1917.1h15M1466.9 1942.2h15M1471.5 1921.8h15M1471.5 1943.4h15M1476.1 1923.3h15M1476.1 1944.1h15M1480.7 1921h15M1480.7 1942.5h15M1485.3 1920.4h15M1485.3 1943.5h15M1489.9 1921.8h15M1489.9 1944.9h15M1494.5 1915.9h15M1494.5 1943.1h15M1499.1 1922.4h15M1499.1 1954.1h15M1503.7 1922.9h15M1503.7 1942.1h15M1508.3 1922.3h15M1508.3 1944.3h15M1512.9 1917.8h15M1512.9 1942.2h15M1517.5 1923.9h15M1517.5 1942.1h15M1522.1 1927h15M1522.1 1948.1h15M1526.7 1924.1h15M1526.7 1944.8h15M1531.3 1923.9h15M1531.3 1947.9h15M1535.9 1925.5h15M1535.9 1948.2h15M1540.5 1924.3h15M1540.5 1942.9h15M1545.1 1921.4h15M1545.1 1942.8h15M1549.7 1920.7h15M1549.7 1949.3h15M1554.3 1927.2h15M1554.3 1950.3h15M1558.9 1921.9h15M1558.9 1944h15M1563.5 1924.7h15M1563.5 1943.2h15M1568.1 1927.3h15M1568.1 1952.2h15M1572.7 1925h15M1572.7 1943.7h15M1577.3 1932.8h15M1577.3 1951h15M1581.9 1923.2h15M1581.9 1944.4h15M1586.5 1924.2h15M1586.5 1946.2h15M1591.1 1925.6h15M1591.1 1951.5h15M1595.7 1925.2h15M1595.7 1945.3h15M1600.3 1924.6h15M1600.3 1944.7h15M1604.9 1930.3h15M1604.9 1951.5h15M1609.5 1928.1h15M1609.5 1951h15M1614.1 1930.9h15M1614.1 1950.4h15M1618.7 1926.3h15M1618.7 1947.8h15M1623.3 1924.2h15M1623.3 1945h15M1627.9 1920.4h15M1627.9 1941.2h15M1632.5 1926.6h15M1632.5 1944.7h15M1637.1 1928.8h15M1637.1 1948.8h15M1641.7 1921.4h15M1641.7 1948.3h15M1646.3 1926.1h15M1646.3 1945.9h15M1650.9 1927.8h15M1650.9 1950h15M1655.5 1927.3h15M1655.5 1946.6h15M1660.1 1930h15M1660.1 1959.3h15M1664.7 1922.6h15M1664.7 1947.6h15M1669.3 1922.4h15M1669.3 1944.9h15M1673.9 1933.4h15M1673.9 1951.6h15M1678.5 1924.5h15M1678.5 1948.5h15M1683.1 1924.7h15M1683.1 1949.4h15M1687.7 1926.8h15M1687.7 1949.7h15M1692.3 1930.5h15M1692.3 1951.1h15M1696.9 1928.2h15M1696.9 1945.9h15M1701.5 1923.2h15M1701.5 1945.4h15M1706.1 1922.3h15M1706.1 1942.8h15M1710.7 1928.3h15M1710.7 1947.3h15M1715.3 1923.1h15M1715.3 1945.6h15M1719.9 1925.5h15M1719.9 1945.3h15M1724.5 1925.8h15M1724.5 1945.2h15M1729.1 1923.3h15M1729.1 1949h15M1733.7 1920.5h15M1733.7 1942.6h15M1738.3 1926.7h15M1738.3 1949.8h15M1742.9 1922.9h15M1742.9 1948.8h15M1747.5 1925.8h15M1747.5 1947.2h15M1752.1 1921.4h15M1752.1 1940.4h15M1756.7 1922.5h15M1756.7 1943.4h15M1761.3 1922.7h15M1761.3 1949.9h15M1765.9 1930.7h15M1765.9 1948.2h15M1770.5 1921.1h15M1770.5 1944.1h15M1775.1 1923.9h15M1775.1 1946.3h15M1779.7 1929.2h15M1779.7 1950.8h15M1784.3 1924.2h15M1784.3 1946.9h15M1788.9 1923.3h15M1788.9 1943.9h15M1793.5 1928h15M1793.5 1948.2h15M1798.1 1926.6h15M1798.1 1946.3h15M1802.7 1927.6h15M1802.7 1954.3h15M1807.3 1926.2h15M1807.3 1945.2h15M1811.9 1924h15M1811.9 1954.3h15M1816.5 1924.3h15M1816.5 1943.2h15M1821.1 1928.5h15M1821.1 1950.6h15M1825.7 1925.8h15M1825.7 1945.3h15M1830.3 1923.4h15M1830.3 1944.7h15M1834.9 1922.8h15M1834.9 1944.2h15M1839.5 1927.4h15M1839.5 1950.5h15M1844.1 1919.8h15M1844.1 1944.5h15M1848.7 1925.7h15M1848.7 1943.8h15M1853.3 1921.1h15M1853.3 1941.7h15M1857.9 1922.1h15M1857.9 1946.1h15M1862.5 1923.6h15M1862.5 1942.3h15M1867.1 1919.3h15M1867.1 1942.3h15M1871.7 1923.9h15M1871.7 1943.7h15M1876.3 1920.9h15M1876.3 1939.1h15M1880.9 1925.4h15M1880.9 1946.5h15M1885.5 1920.3h15M1885.5 1943.5h15M1890.1 1923.2h15M1890.1 1946h15M1894.7 1917.3h15M1894.7 1944.2h15M1899.3 1922.6h15M1899.3 1943.9h15M1903.9 1922.6h15M1903.9 1945.1h15M1908.5 1924.5h15M1908.5 1942.3h15M1913.1 1919.1h15M1913.1 1938h15M1917.7 1923.6h15M1917.7 1948.5h15M1922.3 1915h15M1922.3 1935h15M1926.9 1917.6h15M1926.9 1936.8h15M1931.5 1919.3h15M1931.5 1937.7h15M1936.1 1915h15M1936.1 1936.4h15M1940.7 1918.6h15M1940.7 1940.5h15M1945.3 1914.5h15M1945.3 1933.5h15M1949.9 1917.2h15M1949.9 1939.6h15M1954.5 1917.9h15M1954.5 1939.9h15M1959.1 1913.3h15M1959.1 1936.1h15M1963.7 1915.3h15M1963.7 1938.7h15M1968.3 1911h15M1968.3 1935.1h15M1972.9 1918.2h15M1972.9 1939.3h15M1977.5 1912.2h15M1977.5 1938.3h15M1982.1 1917.1h15M1982.1 1940h15M1986.7 1913.2h15M1986.7 1938h15M1991.3 1917.8h15M1991.3 1939.7h15M1995.9 1909h15M1995.9 1933.2h15M2000.5 1916.6h15M2000.5 1936.4h15M2005.1 1912h15M2005.1 1933.8h15M2009.7 1915.5h15M2009.7 1934.9h15M2014.3 1917.3h15M2014.3 1940.4h15M2018.9 1916.3h15M2018.9 1934h15M2023.5 1915.3h15M2023.5 1936.9h15M2028.1 1917.4h15M2028.1 1938.4h15M2032.7 1912.2h15M2032.7 1934.4h15M2037.3 1911.6h15M2037.3 1932.5h15M2041.9 1903.8h15M2041.9 1926.9h15M2046.5 1912.3h15M2046.5 1934.5h15M2051.1 1913.9h15M2051.1 1937.3h15M2055.7 1914.4h15M2055.7 1940.5h15M2060.3 1913h15M2060.3 1933.6h15M2064.9 1909.2h15M2064.9 1931.2h15M2069.5 1911.8h15M2069.5 1937.3h15M2074.1 1914.2h15M2074.1 1935.1h15M2078.7 1910.9h15M2078.7 1933.3h15M2083.3 1910.9h15M2083.3 1932.3h15M2087.9 1910.3h15M2087.9 1931.3h15M2092.5 1913.1h15M2092.5 1931.5h15M2097.1 1913h15M2097.1 1938.3h15M2101.7 1902.3h15M2101.7 1925.8h15M2106.3 1910.6h15M2106.3 1931.6h15M2110.9 1909.3h15M2110.9 1930.4h15M2115.5 1905.5h15M2115.5 1925.2h15M2120.1 1912.7h15M2120.1 1931.6h15M2124.7 1905.2h15M2124.7 1928.3h15M2129.3 1910.8h15M2129.3 1928.7h15M2133.9 1912.7h15M2133.9 1939.3h15M2138.5 1905.7h15M2138.5 1927.5h15M2143.1 1908.9h15M2143.1 1928.6h15M2147.7 1907.3h15M2147.7 1927.1h15M2152.3 1908.1h15M2152.3 1929.7h15M2156.9 1906h15M2156.9 1927.5h15" stroke="#000" stroke-width="2.6" fill="none"/>
<path d="M1052 2176.3V2208.3M1056.6 2173.8V2205.8M1061.2 2170.3V2202.3M1065.8 2165.5V2197.5M1070.4 2159.3V2191.3M1075 2148.9V2180.9M1079.6 2135.4V2167.4M1084.2 2121.6V2153.6M1088.8 2110V2142M1093.4 2099.3V2131.3M1098 2089V2121M1102.6 2078.8V2110.8M1107.2 2068.3V2100.3M1111.8 2058.7V2090.7M1116.4 2048.8V2080.8M1121 2037V2069M1125.6 2022.7V2054.7M1130.2 2000.5V2032.5M1134.8 1943.3V1975.3M1139.4 1914.9V1946.9M1144 1902.4V1934.4M1148.6 1894.9V1926.9M1153.2 1891.4V1923.4M1157.8 1889.1V1921.1M1162.4 1887.6V1919.6M1167 1886.6V1918.6" stroke="#3a3a3a" stroke-width="1.3" fill="none"/>
<path d="M1044.5 2176.3h15M1044.5 2208.3h15M1049.1 2173.8h15M1049.1 2205.8h15M1053.7 2170.3h15M1053.7 2202.3h15M1058.3 2165.5h15M1058.3 2197.5h15M1062.9 2159.3h15M1062.9 2191.3h15M1067.5 2148.9h15M1067.5 2180.9h15M1072.1 2135.4h15M1072.1 2167.4h15M1076.7 2121.6h15M1076.7 2153.6h15M1081.3 2110h15M1081.3 2142h15M1085.9 2099.3h15M1085.9 2131.3h15M1090.5 2089h15M1090.5 2121h15M1095.1 2078.8h15M1095.1 2110.8h15M1099.7 2068.3h15M1099.7 2100.3h15M1104.3 2058.7h15M1104.3 2090.7h15M1108.9 2048.8h15M1108.9 2080.8h15M1113.5 2037h15M1113.5 2069h15M1118.1 2022.7h15M1118.1 2054.7h15M1122.7 2000.5h15M1122.7 2032.5h15M1127.3 1943.3h15M1127.3 1975.3h15M1131.9 1914.9h15M1131.9 1946.9h15M1136.5 1902.4h15M1136.5 1934.4h15M1141.1 1894.9h15M1141.1 1926.9h15M1145.7 1891.4h15M1145.7 1923.4h15M1150.3 1889.1h15M1150.3 1921.1h15M1154.9 1887.6h15M1154.9 1919.6h15M1159.5 1886.6h15M1159.5 1918.6h15" stroke="#000" stroke-width="2.6" fill="none"/>
<path d="M1222.5 1891.8V1930.1M1242.6 1893.3V1920.1M1282.5 1893.1V1937.4M1306.8 1899.6V1944.4M1409.6 1906.1V1955M1470.4 1909.2V1954.7M1537.8 1912.2V1960.1M1598.8 1914.4V1957M1617.6 1917.2V1958.9M1638.5 1914.9V1963.3M1663.7 1926.4V1953.7M1684.3 1918.5V1957.1M1747.9 1914.4V1961.7M1766.2 1918.1V1953.7M1790.1 1924.4V1956.5M1832.3 1918.3V1954M1874.3 1913.7V1949.2M1893.8 1915.1V1948.3M1912.1 1911.6V1957.9M1932.5 1917.8V1956.8M1979.1 1914.6V1952.4M1997.1 1909.9V1946.1M2019.9 1906.2V1942.1M2084.5 1900V1944.9M2125.3 1899.2V1944.8M1640 1925V1972" stroke="#222" stroke-width="1.6" fill="none"/>
<path d="M1214.5 1891.8h16M1214.5 1930.1h16M1234.6 1893.3h16M1234.6 1920.1h16M1274.5 1893.1h16M1274.5 1937.4h16M1298.8 1899.6h16M1298.8 1944.4h16M1401.6 1906.1h16M1401.6 1955h16M1462.4 1909.2h16M1462.4 1954.7h16M1529.8 1912.2h16M1529.8 1960.1h16M1590.8 1914.4h16M1590.8 1957h16M1609.6 1917.2h16M1609.6 1958.9h16M1630.5 1914.9h16M1630.5 1963.3h16M1655.7 1926.4h16M1655.7 1953.7h16M1676.3 1918.5h16M1676.3 1957.1h16M1739.9 1914.4h16M1739.9 1961.7h16M1758.2 1918.1h16M1758.2 1953.7h16M1782.1 1924.4h16M1782.1 1956.5h16M1824.3 1918.3h16M1824.3 1954h16M1866.3 1913.7h16M1866.3 1949.2h16M1885.8 1915.1h16M1885.8 1948.3h16M1904.1 1911.6h16M1904.1 1957.9h16M1924.5 1917.8h16M1924.5 1956.8h16M1971.1 1914.6h16M1971.1 1952.4h16M1989.1 1909.9h16M1989.1 1946.1h16M2011.9 1906.2h16M2011.9 1942.1h16M2076.5 1900h16M2076.5 1944.9h16M2117.3 1899.2h16M2117.3 1944.8h16M1632 1925h16M1632 1972h16" stroke="#000" stroke-width="2.6" fill="none"/>
<path d="M530.9 2289.9V2358.1M535.8 2293.9V2390.3M541.6 2292.5V2393.4M545.1 2278V2361.6M550.8 2305.5V2391.8M553.5 2300.8V2361.5M562.3 2305.5V2351M568.4 2289.8V2385.1M574.1 2285V2387.2M582.9 2282.1V2398.1M591.7 2279.1V2339.9M601.6 2279.8V2351M611 2301.6V2395.1M617.7 2287.1V2388.8M622.3 2289.7V2345.4M627.2 2279.9V2381.5M632.3 2282.4V2396.6M636.4 2291.5V2366.7M647.7 2295.5V2377.8M652 2291.8V2358.3M656.2 2303.3V2387.1M659.1 2287.2V2366.9M663.5 2289.6V2310.1M668.5 2287.7V2395.1M678.5 2287.9V2365.1M683.6 2289.7V2462M687.6 2280.1V2367.3M701.2 2291.9V2312.4M710 2294V2397.8M716.6 2298V2392.2M719.4 2284.6V2384M728.2 2305.3V2373M733.4 2288.9V2361.2M739.4 2284.7V2383.6M752.8 2289.2V2372.6M756.5 2287.8V2462M761.7 2283.8V2349.6M766.5 2292.9V2350.2M770.1 2281.7V2370M776.2 2287.9V2335.7M783.6 2295.5V2462M794.9 2303.7V2384.9M799.2 2290.3V2462M803.4 2290.5V2319.7M811.9 2315.2V2361.8M817.6 2296.7V2352.8M831.7 2278.5V2317.5M835.1 2286.6V2354.9M844.2 2280.1V2362.2M854.2 2289.8V2332.9M858.3 2281.5V2358.6M862.4 2284.6V2365.7M872.1 2284.8V2326.8M875.7 2309V2387.5M885.8 2282.6V2340.5M889.9 2314.6V2381.4M898.6 2298.4V2391.1M903.4 2289.4V2354.8M918.1 2282.3V2326.6M921.7 2288.9V2387M928.5 2290.9V2358.6M932.7 2311.2V2462M935.8 2286.3V2332.5M941.7 2290.2V2373.8M946.6 2290.2V2371.2M950.8 2301.7V2360.2M958.6 2281.5V2343.3M963.9 2301.7V2379.4M968.7 2289.6V2371.4M974.3 2301.8V2385.3M981.7 2279.4V2392.6M987.1 2308V2378M990.2 2279.4V2462M995.2 2287.6V2359.5M1020.2 2288.1V2388.3M1023 2283.2V2368.7M1027.4 2309.5V2386.5M1033.5 2287.4V2387.7M1041.3 2291.1V2462M1046.9 2287.2V2359.4" stroke="#4a4a4a" stroke-width="1.8" fill="none"/>
<path d="M522.4 2289.9h17M522.4 2358.1h17M527.3 2293.9h17M527.3 2390.3h17M533.1 2292.5h17M533.1 2393.4h17M536.6 2278h17M536.6 2361.6h17M542.3 2305.5h17M542.3 2391.8h17M545 2300.8h17M545 2361.5h17M553.8 2305.5h17M553.8 2351h17M559.9 2289.8h17M559.9 2385.1h17M565.6 2285h17M565.6 2387.2h17M574.4 2282.1h17M574.4 2398.1h17M583.2 2279.1h17M583.2 2339.9h17M593.1 2279.8h17M593.1 2351h17M602.5 2301.6h17M602.5 2395.1h17M609.2 2287.1h17M609.2 2388.8h17M613.8 2289.7h17M613.8 2345.4h17M618.7 2279.9h17M618.7 2381.5h17M623.8 2282.4h17M623.8 2396.6h17M627.9 2291.5h17M627.9 2366.7h17M639.2 2295.5h17M639.2 2377.8h17M643.5 2291.8h17M643.5 2358.3h17M647.7 2303.3h17M647.7 2387.1h17M650.6 2287.2h17M650.6 2366.9h17M655 2289.6h17M655 2310.1h17M660 2287.7h17M660 2395.1h17M670 2287.9h17M670 2365.1h17M675.1 2289.7h17M675.1 2462h17M679.1 2280.1h17M679.1 2367.3h17M692.7 2291.9h17M692.7 2312.4h17M701.5 2294h17M701.5 2397.8h17M708.1 2298h17M708.1 2392.2h17M710.9 2284.6h17M710.9 2384h17M719.7 2305.3h17M719.7 2373h17M724.9 2288.9h17M724.9 2361.2h17M730.9 2284.7h17M730.9 2383.6h17M744.3 2289.2h17M744.3 2372.6h17M748 2287.8h17M748 2462h17M753.2 2283.8h17M753.2 2349.6h17M758 2292.9h17M758 2350.2h17M761.6 2281.7h17M761.6 2370h17M767.7 2287.9h17M767.7 2335.7h17M775.1 2295.5h17M775.1 2462h17M786.4 2303.7h17M786.4 2384.9h17M790.7 2290.3h17M790.7 2462h17M794.9 2290.5h17M794.9 2319.7h17M803.4 2315.2h17M803.4 2361.8h17M809.1 2296.7h17M809.1 2352.8h17M823.2 2278.5h17M823.2 2317.5h17M826.6 2286.6h17M826.6 2354.9h17M835.7 2280.1h17M835.7 2362.2h17M845.7 2289.8h17M845.7 2332.9h17M849.8 2281.5h17M849.8 2358.6h17M853.9 2284.6h17M853.9 2365.7h17M863.6 2284.8h17M863.6 2326.8h17M867.2 2309h17M867.2 2387.5h17M877.3 2282.6h17M877.3 2340.5h17M881.4 2314.6h17M881.4 2381.4h17M890.1 2298.4h17M890.1 2391.1h17M894.9 2289.4h17M894.9 2354.8h17M909.6 2282.3h17M909.6 2326.6h17M913.2 2288.9h17M913.2 2387h17M920 2290.9h17M920 2358.6h17M924.2 2311.2h17M924.2 2462h17M927.3 2286.3h17M927.3 2332.5h17M933.2 2290.2h17M933.2 2373.8h17M938.1 2290.2h17M938.1 2371.2h17M942.3 2301.7h17M942.3 2360.2h17M950.1 2281.5h17M950.1 2343.3h17M955.4 2301.7h17M955.4 2379.4h17M960.2 2289.6h17M960.2 2371.4h17M965.8 2301.8h17M965.8 2385.3h17M973.2 2279.4h17M973.2 2392.6h17M978.6 2308h17M978.6 2378h17M981.7 2279.4h17M981.7 2462h17M986.7 2287.6h17M986.7 2359.5h17M1011.7 2288.1h17M1011.7 2388.3h17M1014.5 2283.2h17M1014.5 2368.7h17M1018.9 2309.5h17M1018.9 2386.5h17M1025 2287.4h17M1025 2387.7h17M1032.8 2291.1h17M1032.8 2462h17M1038.4 2287.2h17M1038.4 2359.4h17" stroke="#333" stroke-width="2.4" fill="none"/>
<path d="M536.2 2338.1 L540.8 2431.6 L545.4 2325.5 L550 2338.3" stroke="#4472C4" stroke-width="7.5" fill="none" stroke-linejoin="round" stroke-linecap="round"/>
<path d="M568.4 2340.1 L573 2340 L577.6 2319.4 L582.2 2453.4 L586.8 2336.3 L591.4 2327.9 L596 2324.7" stroke="#4472C4" stroke-width="7.5" fill="none" stroke-linejoin="round" stroke-linecap="round"/>
<path d="M605.2 2412.1 L609.8 2345.7 L614.4 2349.6 L619 2449.5" stroke="#4472C4" stroke-width="7.5" fill="none" stroke-linejoin="round" stroke-linecap="round"/>
<path d="M628.2 2338.2 L632.8 2352.9 L637.4 2328.6" stroke="#4472C4" stroke-width="7.5" fill="none" stroke-linejoin="round" stroke-linecap="round"/>
<path d="M655.8 2341.2 L660.4 2336 L665 2282.5 L669.6 2436.5 L674.2 2323.1 L678.8 2312.6 L683.4 2319.1 L688 2323 L692.6 2313.4 L697.2 2400.8 L701.8 2298 L706.4 2327.6 L711 2405.4 L715.6 2456.8 L720.2 2337.2 L724.8 2329.3 L729.4 2339.6 L734 2338 L738.6 2330" stroke="#4472C4" stroke-width="7.5" fill="none" stroke-linejoin="round" stroke-linecap="round"/>
<path d="M757 2299 L761.6 2336 L766.2 2323.2" stroke="#4472C4" stroke-width="7.5" fill="none" stroke-linejoin="round" stroke-linecap="round"/>
<path d="M775.4 2313.5 L780 2462 L784.6 2332.8 L789.2 2322.1 L793.8 2436.5" stroke="#4472C4" stroke-width="7.5" fill="none" stroke-linejoin="round" stroke-linecap="round"/>
<path d="M803 2300.7 L807.6 2455.2 L812.2 2354.8" stroke="#4472C4" stroke-width="7.5" fill="none" stroke-linejoin="round" stroke-linecap="round"/>
<path d="M821.4 2335 L826 2343.7 L830.6 2295.1 L835.2 2317.4 L839.8 2331.5" stroke="#4472C4" stroke-width="7.5" fill="none" stroke-linejoin="round" stroke-linecap="round"/>
<path d="M849 2453.6 L853.6 2314.5 L858.2 2322.5 L862.8 2314.1 L867.4 2335.4 L872 2311.7 L876.6 2341.5 L881.2 2345.5 L885.8 2327.9" stroke="#4472C4" stroke-width="7.5" fill="none" stroke-linejoin="round" stroke-linecap="round"/>
<path d="M895 2295.5 L899.6 2351.1" stroke="#4472C4" stroke-width="7.5" fill="none" stroke-linejoin="round" stroke-linecap="round"/>
<path d="M908.8 2351.4 L913.4 2386.4 L918 2291.3 L922.6 2352.3" stroke="#4472C4" stroke-width="7.5" fill="none" stroke-linejoin="round" stroke-linecap="round"/>
<path d="M931.8 2343.7 L936.4 2301.4 L941 2338.9 L945.6 2462 L950.2 2389.8 L954.8 2310.7 L959.4 2324.7 L964 2336.8 L968.6 2328.2 L973.2 2338.3 L977.8 2323.2 L982.4 2346.2 L987 2451.7 L991.6 2333.9 L996.2 2347.6 L1000.8 2344.3 L1005.4 2338.4 L1010 2344.6 L1014.6 2348.4 L1019.2 2337.4 L1023.8 2334.5 L1028.4 2345 L1033 2345.2 L1037.6 2337 L1042.2 2338.8 L1046.8 2336.8" stroke="#4472C4" stroke-width="7.5" fill="none" stroke-linejoin="round" stroke-linecap="round"/>
<path d="M1050 2311.4V2349.4M1054.6 2294.2V2332.2M1059.2 2261.8V2299.8M1063.8 2224.6V2262.6M1068.4 2184.7V2222.7M1073 2154.8V2192.8M1077.6 2129.8V2167.8M1082.2 2105.5V2143.5M1086.8 2081V2119M1091.4 2057.5V2095.5M1096 2036V2074M1100.6 2017.5V2055.5M1105.2 2001.8V2039.8M1109.8 1986.8V2024.8M1114.4 1970.7V2008.7M1119 1951.7V1989.7M1123.6 1929.8V1967.8M1128.2 1905.5V1943.5M1132.8 1877.7V1915.7M1137.4 1845V1883M1142 1823.3V1861.3M1146.6 1809V1847M1151.2 1802.3V1840.3M1155.8 1798V1836M1160.4 1795.3V1833.3M1165 1793.3V1831.3" stroke="#3a3a3a" stroke-width="1.2" fill="none"/>
<path d="M1042 2311.4h16M1042 2349.4h16M1046.6 2294.2h16M1046.6 2332.2h16M1051.2 2261.8h16M1051.2 2299.8h16M1055.8 2224.6h16M1055.8 2262.6h16M1060.4 2184.7h16M1060.4 2222.7h16M1065 2154.8h16M1065 2192.8h16M1069.6 2129.8h16M1069.6 2167.8h16M1074.2 2105.5h16M1074.2 2143.5h16M1078.8 2081h16M1078.8 2119h16M1083.4 2057.5h16M1083.4 2095.5h16M1088 2036h16M1088 2074h16M1092.6 2017.5h16M1092.6 2055.5h16M1097.2 2001.8h16M1097.2 2039.8h16M1101.8 1986.8h16M1101.8 2024.8h16M1106.4 1970.7h16M1106.4 2008.7h16M1111 1951.7h16M1111 1989.7h16M1115.6 1929.8h16M1115.6 1967.8h16M1120.2 1905.5h16M1120.2 1943.5h16M1124.8 1877.7h16M1124.8 1915.7h16M1129.4 1845h16M1129.4 1883h16M1134 1823.3h16M1134 1861.3h16M1138.6 1809h16M1138.6 1847h16M1143.2 1802.3h16M1143.2 1840.3h16M1147.8 1798h16M1147.8 1836h16M1152.4 1795.3h16M1152.4 1833.3h16M1157 1793.3h16M1157 1831.3h16" stroke="#000" stroke-width="2.6" fill="none"/>
<polygon points="1160,1810.5 1163,1809.2 1166,1808 1169,1806.9 1172,1806 1175,1805.1 1178,1804.4 1181,1803.7 1184,1803 1187,1802.4 1190,1801.9 1193,1801.3 1196,1800.8 1199,1800.3 1202,1799.8 1205,1799.3 1208,1798.8 1211,1798.4 1214,1798 1217,1797.6 1220,1797.2 1223,1796.9 1226,1796.5 1229,1796.2 1232,1795.9 1235,1795.5 1238,1795.2 1241,1794.9 1244,1794.6 1247,1794.3 1250,1794 1253,1793.7 1256,1793.4 1259,1793.1 1262,1792.9 1265,1792.6 1268,1792.3 1271,1792 1274,1791.7 1277,1791.4 1280,1791.2 1283,1790.9 1286,1790.7 1289,1790.4 1292,1790.2 1295,1790 1298,1789.8 1301,1789.6 1304,1789.4 1307,1789.2 1310,1789 1313,1788.9 1316,1788.7 1319,1788.6 1322,1788.4 1325,1788.3 1328,1788.1 1331,1788 1334,1787.9 1337,1787.7 1340,1787.6 1343,1787.5 1346,1787.3 1349,1787.2 1352,1787.1 1355,1787 1358,1786.9 1361,1786.8 1364,1786.7 1367,1786.6 1370,1786.5 1373,1786.4 1376,1786.3 1379,1786.2 1382,1786.1 1385,1786 1388,1786 1391,1785.9 1394,1785.8 1397,1785.7 1400,1785.7 1403,1785.6 1406,1785.5 1409,1785.5 1412,1785.4 1415,1785.4 1418,1785.3 1421,1785.3 1424,1785.2 1427,1785.2 1430,1785.1 1433,1785.1 1436,1785 1439,1785 1442,1784.9 1445,1784.9 1448,1784.8 1451,1784.8 1454,1784.7 1457,1784.7 1460,1784.6 1463,1784.6 1466,1784.6 1469,1784.5 1472,1784.5 1475,1784.4 1478,1784.4 1481,1784.4 1484,1784.3 1487,1784.3 1490,1784.2 1493,1784.2 1496,1784.2 1499,1784.1 1502,1784.1 1505,1784 1508,1784 1511,1784 1514,1783.9 1517,1783.9 1520,1783.8 1523,1783.8 1526,1783.8 1529,1783.7 1532,1783.7 1535,1783.6 1538,1783.6 1541,1783.5 1544,1783.5 1547,1783.5 1550,1783.4 1553,1783.4 1556,1783.3 1559,1783.3 1562,1783.2 1565,1783.2 1568,1783.1 1571,1783.1 1574,1783 1577,1783 1580,1782.9 1583,1782.9 1586,1782.8 1589,1782.8 1592,1782.7 1595,1782.7 1598,1782.6 1601,1782.6 1604,1782.6 1607,1782.5 1610,1782.5 1613,1782.4 1616,1782.4 1619,1782.3 1622,1782.3 1625,1782.2 1628,1782.2 1631,1782.2 1634,1782.1 1637,1782.1 1640,1782.1 1643,1782 1646,1782 1649,1782 1652,1781.9 1655,1781.9 1658,1781.9 1661,1781.8 1664,1781.8 1667,1781.8 1670,1781.8 1673,1781.8 1676,1781.7 1679,1781.7 1682,1781.7 1685,1781.7 1688,1781.7 1691,1781.7 1694,1781.7 1697,1781.7 1700,1781.7 1703,1781.7 1706,1781.7 1709,1781.7 1712,1781.7 1715,1781.7 1718,1781.7 1721,1781.7 1724,1781.7 1727,1781.7 1730,1781.7 1733,1781.7 1736,1781.7 1739,1781.7 1742,1781.7 1745,1781.7 1748,1781.7 1751,1781.7 1754,1781.7 1757,1781.7 1760,1781.7 1763,1781.7 1766,1781.7 1769,1781.7 1772,1781.7 1775,1781.7 1778,1781.7 1781,1781.7 1784,1781.7 1787,1781.7 1790,1781.7 1793,1781.7 1796,1781.7 1799,1781.7 1802,1781.8 1805,1781.8 1808,1781.8 1811,1781.8 1814,1781.8 1817,1781.8 1820,1781.8 1823,1781.8 1826,1781.8 1829,1781.8 1832,1781.8 1835,1781.8 1838,1781.8 1841,1781.8 1844,1781.8 1847,1781.8 1850,1781.8 1853,1781.8 1856,1781.8 1859,1781.8 1862,1781.8 1865,1781.8 1868,1781.8 1871,1781.8 1874,1781.8 1877,1781.8 1880,1781.8 1883,1781.8 1886,1781.8 1889,1781.8 1892,1781.8 1895,1781.8 1898,1781.8 1901,1781.8 1904,1781.8 1907,1781.9 1910,1781.9 1913,1781.9 1916,1781.9 1919,1781.9 1922,1781.9 1925,1781.9 1928,1781.9 1931,1781.9 1934,1782 1937,1782 1940,1782 1943,1782 1946,1782 1949,1782 1952,1782.1 1955,1782.1 1958,1782.1 1961,1782.1 1964,1782.2 1967,1782.2 1970,1782.2 1973,1782.2 1976,1782.2 1979,1782.3 1982,1782.3 1985,1782.3 1988,1782.3 1991,1782.4 1994,1782.4 1997,1782.4 2000,1782.5 2003,1782.5 2006,1782.5 2009,1782.5 2012,1782.6 2015,1782.6 2018,1782.6 2021,1782.7 2024,1782.7 2027,1782.7 2030,1782.8 2033,1782.8 2036,1782.8 2039,1782.9 2042,1782.9 2045,1782.9 2048,1783 2051,1783 2054,1783 2057,1783.1 2060,1783.1 2063,1783.1 2066,1783.2 2069,1783.2 2072,1783.3 2075,1783.3 2078,1783.4 2081,1783.4 2084,1783.5 2087,1783.6 2090,1783.6 2093,1783.7 2096,1783.8 2099,1783.8 2102,1783.9 2105,1784 2108,1784.1 2111,1784.2 2114,1784.3 2117,1784.4 2120,1784.4 2123,1784.5 2126,1784.6 2129,1784.7 2132,1784.8 2135,1784.9 2138,1785 2141,1785.1 2144,1785.2 2147,1785.3 2150,1785.4 2153,1785.5 2156,1785.6 2159,1785.7 2162,1785.8 2165,1786 2165,1795 2162,1794.8 2159,1794.7 2156,1794.6 2153,1794.5 2150,1794.4 2147,1794.3 2144,1794.2 2141,1794.1 2138,1794 2135,1793.9 2132,1793.8 2129,1793.7 2126,1793.6 2123,1793.5 2120,1793.4 2117,1793.4 2114,1793.3 2111,1793.2 2108,1793.1 2105,1793 2102,1792.9 2099,1792.9 2096,1792.8 2093,1792.7 2090,1792.6 2087,1792.6 2084,1792.5 2081,1792.4 2078,1792.4 2075,1792.3 2072,1792.3 2069,1792.2 2066,1792.2 2063,1792.2 2060,1792.1 2057,1792.1 2054,1792 2051,1792 2048,1792 2045,1792 2042,1791.9 2039,1791.9 2036,1791.9 2033,1791.8 2030,1791.8 2027,1791.8 2024,1791.7 2021,1791.7 2018,1791.7 2015,1791.6 2012,1791.6 2009,1791.6 2006,1791.6 2003,1791.5 2000,1791.5 1997,1791.5 1994,1791.5 1991,1791.4 1988,1791.4 1985,1791.4 1982,1791.4 1979,1791.3 1976,1791.3 1973,1791.3 1970,1791.3 1967,1791.3 1964,1791.2 1961,1791.2 1958,1791.2 1955,1791.2 1952,1791.2 1949,1791.2 1946,1791.1 1943,1791.1 1940,1791.1 1937,1791.1 1934,1791.1 1931,1791.1 1928,1791.1 1925,1791.1 1922,1791 1919,1791 1916,1791 1913,1791 1910,1791 1907,1791 1904,1791 1901,1791 1898,1791 1895,1791 1892,1791 1889,1791 1886,1791 1883,1791 1880,1791 1877,1791 1874,1791 1871,1791 1868,1791 1865,1791 1862,1791 1859,1791 1856,1791 1853,1791 1850,1791 1847,1791 1844,1791 1841,1791 1838,1791 1835,1791 1832,1791 1829,1791 1826,1791 1823,1791 1820,1791 1817,1791 1814,1791 1811,1791 1808,1791 1805,1791 1802,1791 1799,1791.1 1796,1791.1 1793,1791.1 1790,1791.1 1787,1791.1 1784,1791.1 1781,1791.1 1778,1791.1 1775,1791.1 1772,1791.1 1769,1791.1 1766,1791.1 1763,1791.1 1760,1791.1 1757,1791.1 1754,1791.1 1751,1791.1 1748,1791.1 1745,1791.1 1742,1791.1 1739,1791.1 1736,1791.1 1733,1791.1 1730,1791.1 1727,1791.1 1724,1791.1 1721,1791.1 1718,1791.1 1715,1791.1 1712,1791.1 1709,1791.1 1706,1791.1 1703,1791.1 1700,1791.1 1697,1791.2 1694,1791.2 1691,1791.2 1688,1791.2 1685,1791.2 1682,1791.2 1679,1791.3 1676,1791.3 1673,1791.3 1670,1791.3 1667,1791.4 1664,1791.4 1661,1791.4 1658,1791.4 1655,1791.5 1652,1791.5 1649,1791.6 1646,1791.6 1643,1791.6 1640,1791.7 1637,1791.7 1634,1791.8 1631,1791.8 1628,1791.9 1625,1791.9 1622,1792 1619,1792 1616,1792.1 1613,1792.1 1610,1792.2 1607,1792.2 1604,1792.3 1601,1792.3 1598,1792.4 1595,1792.4 1592,1792.5 1589,1792.5 1586,1792.6 1583,1792.7 1580,1792.7 1577,1792.8 1574,1792.8 1571,1792.9 1568,1792.9 1565,1793 1562,1793 1559,1793.1 1556,1793.2 1553,1793.2 1550,1793.3 1547,1793.3 1544,1793.4 1541,1793.4 1538,1793.5 1535,1793.5 1532,1793.6 1529,1793.6 1526,1793.7 1523,1793.7 1520,1793.8 1517,1793.8 1514,1793.9 1511,1793.9 1508,1794 1505,1794 1502,1794.1 1499,1794.1 1496,1794.2 1493,1794.2 1490,1794.3 1487,1794.3 1484,1794.4 1481,1794.4 1478,1794.5 1475,1794.5 1472,1794.6 1469,1794.7 1466,1794.7 1463,1794.8 1460,1794.8 1457,1794.9 1454,1794.9 1451,1795 1448,1795.1 1445,1795.1 1442,1795.2 1439,1795.3 1436,1795.3 1433,1795.4 1430,1795.5 1427,1795.6 1424,1795.6 1421,1795.7 1418,1795.8 1415,1795.9 1412,1796 1409,1796.1 1406,1796.1 1403,1796.2 1400,1796.3 1397,1796.4 1394,1796.5 1391,1796.6 1388,1796.7 1385,1796.8 1382,1797 1379,1797.1 1376,1797.2 1373,1797.3 1370,1797.5 1367,1797.6 1364,1797.7 1361,1797.9 1358,1798 1355,1798.2 1352,1798.3 1349,1798.5 1346,1798.6 1343,1798.8 1340,1799 1337,1799.1 1334,1799.3 1331,1799.5 1328,1799.7 1325,1799.9 1322,1800.1 1319,1800.3 1316,1800.5 1313,1800.7 1310,1800.9 1307,1801.1 1304,1801.3 1301,1801.5 1298,1801.8 1295,1802.1 1292,1802.3 1289,1802.6 1286,1803 1283,1803.3 1280,1803.6 1277,1804 1274,1804.3 1271,1804.7 1268,1805.1 1265,1805.5 1262,1805.9 1259,1806.3 1256,1806.7 1253,1807.1 1250,1807.5 1247,1807.9 1244,1808.3 1241,1808.8 1238,1809.2 1235,1809.6 1232,1810.1 1229,1810.5 1226,1811 1223,1811.5 1220,1812 1217,1812.5 1214,1813.1 1211,1813.6 1208,1814.2 1205,1814.8 1202,1815.5 1199,1816.1 1196,1816.8 1193,1817.5 1190,1818.2 1187,1818.9 1184,1819.7 1181,1820.5 1178,1821.3 1175,1822.3 1172,1823.3 1169,1824.4 1166,1825.7 1163,1827 1160,1828.5" fill="#444"/>
<path d="M1152.5 1810.5h15M1152.5 1828.5h15M1155.5 1809.2h15M1155.5 1827h15M1158.5 1808h15M1158.5 1825.7h15M1161.5 1806.9h15M1161.5 1824.4h15M1164.5 1806h15M1164.5 1823.3h15M1167.5 1805.1h15M1167.5 1822.3h15M1170.5 1804.4h15M1170.5 1821.3h15M1173.5 1803.7h15M1173.5 1820.5h15M1176.5 1803h15M1176.5 1819.7h15M1179.5 1802.4h15M1179.5 1818.9h15M1182.5 1801.9h15M1182.5 1818.2h15M1185.5 1801.3h15M1185.5 1817.5h15M1188.5 1800.8h15M1188.5 1816.8h15M1191.5 1800.3h15M1191.5 1816.1h15M1194.5 1799.8h15M1194.5 1815.5h15M1197.5 1799.3h15M1197.5 1814.8h15M1200.5 1798.8h15M1200.5 1814.2h15M1203.5 1798.4h15M1203.5 1813.6h15M1206.5 1798h15M1206.5 1813.1h15M1209.5 1797.6h15M1209.5 1812.5h15M1212.5 1797.2h15M1212.5 1812h15M1215.5 1796.9h15M1215.5 1811.5h15M1218.5 1796.5h15M1218.5 1811h15M1221.5 1796.2h15M1221.5 1810.5h15M1224.5 1795.9h15M1224.5 1810.1h15M1227.5 1795.5h15M1227.5 1809.6h15M1230.5 1795.2h15M1230.5 1809.2h15M1233.5 1794.9h15M1233.5 1808.8h15M1236.5 1794.6h15M1236.5 1808.3h15M1239.5 1794.3h15M1239.5 1807.9h15M1242.5 1794h15M1242.5 1807.5h15M1245.5 1793.7h15M1245.5 1807.1h15M1248.5 1793.4h15M1248.5 1806.7h15M1251.5 1793.1h15M1251.5 1806.3h15M1254.5 1792.9h15M1254.5 1805.9h15M1257.5 1792.6h15M1257.5 1805.5h15M1260.5 1792.3h15M1260.5 1805.1h15M1263.5 1792h15M1263.5 1804.7h15M1266.5 1791.7h15M1266.5 1804.3h15M1269.5 1791.4h15M1269.5 1804h15M1272.5 1791.2h15M1272.5 1803.6h15M1275.5 1790.9h15M1275.5 1803.3h15M1278.5 1790.7h15M1278.5 1803h15M1281.5 1790.4h15M1281.5 1802.6h15M1284.5 1790.2h15M1284.5 1802.3h15M1287.5 1790h15M1287.5 1802.1h15M1290.5 1789.8h15M1290.5 1801.8h15M1293.5 1789.6h15M1293.5 1801.5h15M1296.5 1789.4h15M1296.5 1801.3h15M1299.5 1789.2h15M1299.5 1801.1h15M1302.5 1789h15M1302.5 1800.9h15M1305.5 1788.9h15M1305.5 1800.7h15M1308.5 1788.7h15M1308.5 1800.5h15M1311.5 1788.6h15M1311.5 1800.3h15M1314.5 1788.4h15M1314.5 1800.1h15M1317.5 1788.3h15M1317.5 1799.9h15M1320.5 1788.1h15M1320.5 1799.7h15M1323.5 1788h15M1323.5 1799.5h15M1326.5 1787.9h15M1326.5 1799.3h15M1329.5 1787.7h15M1329.5 1799.1h15M1332.5 1787.6h15M1332.5 1799h15M1335.5 1787.5h15M1335.5 1798.8h15M1338.5 1787.3h15M1338.5 1798.6h15M1341.5 1787.2h15M1341.5 1798.5h15M1344.5 1787.1h15M1344.5 1798.3h15M1347.5 1787h15M1347.5 1798.2h15M1350.5 1786.9h15M1350.5 1798h15M1353.5 1786.8h15M1353.5 1797.9h15M1356.5 1786.7h15M1356.5 1797.7h15M1359.5 1786.6h15M1359.5 1797.6h15M1362.5 1786.5h15M1362.5 1797.5h15M1365.5 1786.4h15M1365.5 1797.3h15M1368.5 1786.3h15M1368.5 1797.2h15M1371.5 1786.2h15M1371.5 1797.1h15M1374.5 1786.1h15M1374.5 1797h15M1377.5 1786h15M1377.5 1796.8h15M1380.5 1786h15M1380.5 1796.7h15M1383.5 1785.9h15M1383.5 1796.6h15M1386.5 1785.8h15M1386.5 1796.5h15M1389.5 1785.7h15M1389.5 1796.4h15M1392.5 1785.7h15M1392.5 1796.3h15M1395.5 1785.6h15M1395.5 1796.2h15M1398.5 1785.5h15M1398.5 1796.1h15M1401.5 1785.5h15M1401.5 1796.1h15M1404.5 1785.4h15M1404.5 1796h15M1407.5 1785.4h15M1407.5 1795.9h15M1410.5 1785.3h15M1410.5 1795.8h15M1413.5 1785.3h15M1413.5 1795.7h15M1416.5 1785.2h15M1416.5 1795.6h15M1419.5 1785.2h15M1419.5 1795.6h15M1422.5 1785.1h15M1422.5 1795.5h15M1425.5 1785.1h15M1425.5 1795.4h15M1428.5 1785h15M1428.5 1795.3h15M1431.5 1785h15M1431.5 1795.3h15M1434.5 1784.9h15M1434.5 1795.2h15M1437.5 1784.9h15M1437.5 1795.1h15M1440.5 1784.8h15M1440.5 1795.1h15M1443.5 1784.8h15M1443.5 1795h15M1446.5 1784.7h15M1446.5 1794.9h15M1449.5 1784.7h15M1449.5 1794.9h15M1452.5 1784.6h15M1452.5 1794.8h15M1455.5 1784.6h15M1455.5 1794.8h15M1458.5 1784.6h15M1458.5 1794.7h15M1461.5 1784.5h15M1461.5 1794.7h15M1464.5 1784.5h15M1464.5 1794.6h15M1467.5 1784.4h15M1467.5 1794.5h15M1470.5 1784.4h15M1470.5 1794.5h15M1473.5 1784.4h15M1473.5 1794.4h15M1476.5 1784.3h15M1476.5 1794.4h15M1479.5 1784.3h15M1479.5 1794.3h15M1482.5 1784.2h15M1482.5 1794.3h15M1485.5 1784.2h15M1485.5 1794.2h15M1488.5 1784.2h15M1488.5 1794.2h15M1491.5 1784.1h15M1491.5 1794.1h15M1494.5 1784.1h15M1494.5 1794.1h15M1497.5 1784h15M1497.5 1794h15M1500.5 1784h15M1500.5 1794h15M1503.5 1784h15M1503.5 1793.9h15M1506.5 1783.9h15M1506.5 1793.9h15M1509.5 1783.9h15M1509.5 1793.8h15M1512.5 1783.8h15M1512.5 1793.8h15M1515.5 1783.8h15M1515.5 1793.7h15M1518.5 1783.8h15M1518.5 1793.7h15M1521.5 1783.7h15M1521.5 1793.6h15M1524.5 1783.7h15M1524.5 1793.6h15M1527.5 1783.6h15M1527.5 1793.5h15M1530.5 1783.6h15M1530.5 1793.5h15M1533.5 1783.5h15M1533.5 1793.4h15M1536.5 1783.5h15M1536.5 1793.4h15M1539.5 1783.5h15M1539.5 1793.3h15M1542.5 1783.4h15M1542.5 1793.3h15M1545.5 1783.4h15M1545.5 1793.2h15M1548.5 1783.3h15M1548.5 1793.2h15M1551.5 1783.3h15M1551.5 1793.1h15M1554.5 1783.2h15M1554.5 1793h15M1557.5 1783.2h15M1557.5 1793h15M1560.5 1783.1h15M1560.5 1792.9h15M1563.5 1783.1h15M1563.5 1792.9h15M1566.5 1783h15M1566.5 1792.8h15M1569.5 1783h15M1569.5 1792.8h15M1572.5 1782.9h15M1572.5 1792.7h15M1575.5 1782.9h15M1575.5 1792.7h15M1578.5 1782.8h15M1578.5 1792.6h15M1581.5 1782.8h15M1581.5 1792.5h15M1584.5 1782.7h15M1584.5 1792.5h15M1587.5 1782.7h15M1587.5 1792.4h15M1590.5 1782.6h15M1590.5 1792.4h15M1593.5 1782.6h15M1593.5 1792.3h15M1596.5 1782.6h15M1596.5 1792.3h15M1599.5 1782.5h15M1599.5 1792.2h15M1602.5 1782.5h15M1602.5 1792.2h15M1605.5 1782.4h15M1605.5 1792.1h15M1608.5 1782.4h15M1608.5 1792.1h15M1611.5 1782.3h15M1611.5 1792h15M1614.5 1782.3h15M1614.5 1792h15M1617.5 1782.2h15M1617.5 1791.9h15M1620.5 1782.2h15M1620.5 1791.9h15M1623.5 1782.2h15M1623.5 1791.8h15M1626.5 1782.1h15M1626.5 1791.8h15M1629.5 1782.1h15M1629.5 1791.7h15M1632.5 1782.1h15M1632.5 1791.7h15M1635.5 1782h15M1635.5 1791.6h15M1638.5 1782h15M1638.5 1791.6h15M1641.5 1782h15M1641.5 1791.6h15M1644.5 1781.9h15M1644.5 1791.5h15M1647.5 1781.9h15M1647.5 1791.5h15M1650.5 1781.9h15M1650.5 1791.4h15M1653.5 1781.8h15M1653.5 1791.4h15M1656.5 1781.8h15M1656.5 1791.4h15M1659.5 1781.8h15M1659.5 1791.4h15M1662.5 1781.8h15M1662.5 1791.3h15M1665.5 1781.8h15M1665.5 1791.3h15M1668.5 1781.7h15M1668.5 1791.3h15M1671.5 1781.7h15M1671.5 1791.3h15M1674.5 1781.7h15M1674.5 1791.2h15M1677.5 1781.7h15M1677.5 1791.2h15M1680.5 1781.7h15M1680.5 1791.2h15M1683.5 1781.7h15M1683.5 1791.2h15M1686.5 1781.7h15M1686.5 1791.2h15M1689.5 1781.7h15M1689.5 1791.2h15M1692.5 1781.7h15M1692.5 1791.1h15M1695.5 1781.7h15M1695.5 1791.1h15M1698.5 1781.7h15M1698.5 1791.1h15M1701.5 1781.7h15M1701.5 1791.1h15M1704.5 1781.7h15M1704.5 1791.1h15M1707.5 1781.7h15M1707.5 1791.1h15M1710.5 1781.7h15M1710.5 1791.1h15M1713.5 1781.7h15M1713.5 1791.1h15M1716.5 1781.7h15M1716.5 1791.1h15M1719.5 1781.7h15M1719.5 1791.1h15M1722.5 1781.7h15M1722.5 1791.1h15M1725.5 1781.7h15M1725.5 1791.1h15M1728.5 1781.7h15M1728.5 1791.1h15M1731.5 1781.7h15M1731.5 1791.1h15M1734.5 1781.7h15M1734.5 1791.1h15M1737.5 1781.7h15M1737.5 1791.1h15M1740.5 1781.7h15M1740.5 1791.1h15M1743.5 1781.7h15M1743.5 1791.1h15M1746.5 1781.7h15M1746.5 1791.1h15M1749.5 1781.7h15M1749.5 1791.1h15M1752.5 1781.7h15M1752.5 1791.1h15M1755.5 1781.7h15M1755.5 1791.1h15M1758.5 1781.7h15M1758.5 1791.1h15M1761.5 1781.7h15M1761.5 1791.1h15M1764.5 1781.7h15M1764.5 1791.1h15M1767.5 1781.7h15M1767.5 1791.1h15M1770.5 1781.7h15M1770.5 1791.1h15M1773.5 1781.7h15M1773.5 1791.1h15M1776.5 1781.7h15M1776.5 1791.1h15M1779.5 1781.7h15M1779.5 1791.1h15M1782.5 1781.7h15M1782.5 1791.1h15M1785.5 1781.7h15M1785.5 1791.1h15M1788.5 1781.7h15M1788.5 1791.1h15M1791.5 1781.7h15M1791.5 1791.1h15M1794.5 1781.8h15M1794.5 1791h15M1797.5 1781.8h15M1797.5 1791h15M1800.5 1781.8h15M1800.5 1791h15M1803.5 1781.8h15M1803.5 1791h15M1806.5 1781.8h15M1806.5 1791h15M1809.5 1781.8h15M1809.5 1791h15M1812.5 1781.8h15M1812.5 1791h15M1815.5 1781.8h15M1815.5 1791h15M1818.5 1781.8h15M1818.5 1791h15M1821.5 1781.8h15M1821.5 1791h15M1824.5 1781.8h15M1824.5 1791h15M1827.5 1781.8h15M1827.5 1791h15M1830.5 1781.8h15M1830.5 1791h15M1833.5 1781.8h15M1833.5 1791h15M1836.5 1781.8h15M1836.5 1791h15M1839.5 1781.8h15M1839.5 1791h15M1842.5 1781.8h15M1842.5 1791h15M1845.5 1781.8h15M1845.5 1791h15M1848.5 1781.8h15M1848.5 1791h15M1851.5 1781.8h15M1851.5 1791h15M1854.5 1781.8h15M1854.5 1791h15M1857.5 1781.8h15M1857.5 1791h15M1860.5 1781.8h15M1860.5 1791h15M1863.5 1781.8h15M1863.5 1791h15M1866.5 1781.8h15M1866.5 1791h15M1869.5 1781.8h15M1869.5 1791h15M1872.5 1781.8h15M1872.5 1791h15M1875.5 1781.8h15M1875.5 1791h15M1878.5 1781.8h15M1878.5 1791h15M1881.5 1781.8h15M1881.5 1791h15M1884.5 1781.8h15M1884.5 1791h15M1887.5 1781.8h15M1887.5 1791h15M1890.5 1781.8h15M1890.5 1791h15M1893.5 1781.8h15M1893.5 1791h15M1896.5 1781.8h15M1896.5 1791h15M1899.5 1781.9h15M1899.5 1791h15M1902.5 1781.9h15M1902.5 1791h15M1905.5 1781.9h15M1905.5 1791h15M1908.5 1781.9h15M1908.5 1791h15M1911.5 1781.9h15M1911.5 1791h15M1914.5 1781.9h15M1914.5 1791h15M1917.5 1781.9h15M1917.5 1791.1h15M1920.5 1781.9h15M1920.5 1791.1h15M1923.5 1781.9h15M1923.5 1791.1h15M1926.5 1782h15M1926.5 1791.1h15M1929.5 1782h15M1929.5 1791.1h15M1932.5 1782h15M1932.5 1791.1h15M1935.5 1782h15M1935.5 1791.1h15M1938.5 1782h15M1938.5 1791.1h15M1941.5 1782h15M1941.5 1791.2h15M1944.5 1782.1h15M1944.5 1791.2h15M1947.5 1782.1h15M1947.5 1791.2h15M1950.5 1782.1h15M1950.5 1791.2h15M1953.5 1782.1h15M1953.5 1791.2h15M1956.5 1782.2h15M1956.5 1791.2h15M1959.5 1782.2h15M1959.5 1791.3h15M1962.5 1782.2h15M1962.5 1791.3h15M1965.5 1782.2h15M1965.5 1791.3h15M1968.5 1782.2h15M1968.5 1791.3h15M1971.5 1782.3h15M1971.5 1791.3h15M1974.5 1782.3h15M1974.5 1791.4h15M1977.5 1782.3h15M1977.5 1791.4h15M1980.5 1782.3h15M1980.5 1791.4h15M1983.5 1782.4h15M1983.5 1791.4h15M1986.5 1782.4h15M1986.5 1791.5h15M1989.5 1782.4h15M1989.5 1791.5h15M1992.5 1782.5h15M1992.5 1791.5h15M1995.5 1782.5h15M1995.5 1791.5h15M1998.5 1782.5h15M1998.5 1791.6h15M2001.5 1782.5h15M2001.5 1791.6h15M2004.5 1782.6h15M2004.5 1791.6h15M2007.5 1782.6h15M2007.5 1791.6h15M2010.5 1782.6h15M2010.5 1791.7h15M2013.5 1782.7h15M2013.5 1791.7h15M2016.5 1782.7h15M2016.5 1791.7h15M2019.5 1782.7h15M2019.5 1791.8h15M2022.5 1782.8h15M2022.5 1791.8h15M2025.5 1782.8h15M2025.5 1791.8h15M2028.5 1782.8h15M2028.5 1791.9h15M2031.5 1782.9h15M2031.5 1791.9h15M2034.5 1782.9h15M2034.5 1791.9h15M2037.5 1782.9h15M2037.5 1792h15M2040.5 1783h15M2040.5 1792h15M2043.5 1783h15M2043.5 1792h15M2046.5 1783h15M2046.5 1792h15M2049.5 1783.1h15M2049.5 1792.1h15M2052.5 1783.1h15M2052.5 1792.1h15M2055.5 1783.1h15M2055.5 1792.2h15M2058.5 1783.2h15M2058.5 1792.2h15M2061.5 1783.2h15M2061.5 1792.2h15M2064.5 1783.3h15M2064.5 1792.3h15M2067.5 1783.3h15M2067.5 1792.3h15M2070.5 1783.4h15M2070.5 1792.4h15M2073.5 1783.4h15M2073.5 1792.4h15M2076.5 1783.5h15M2076.5 1792.5h15M2079.5 1783.6h15M2079.5 1792.6h15M2082.5 1783.6h15M2082.5 1792.6h15M2085.5 1783.7h15M2085.5 1792.7h15M2088.5 1783.8h15M2088.5 1792.8h15M2091.5 1783.8h15M2091.5 1792.9h15M2094.5 1783.9h15M2094.5 1792.9h15M2097.5 1784h15M2097.5 1793h15M2100.5 1784.1h15M2100.5 1793.1h15M2103.5 1784.2h15M2103.5 1793.2h15M2106.5 1784.3h15M2106.5 1793.3h15M2109.5 1784.4h15M2109.5 1793.4h15M2112.5 1784.4h15M2112.5 1793.4h15M2115.5 1784.5h15M2115.5 1793.5h15M2118.5 1784.6h15M2118.5 1793.6h15M2121.5 1784.7h15M2121.5 1793.7h15M2124.5 1784.8h15M2124.5 1793.8h15M2127.5 1784.9h15M2127.5 1793.9h15M2130.5 1785h15M2130.5 1794h15M2133.5 1785.1h15M2133.5 1794.1h15M2136.5 1785.2h15M2136.5 1794.2h15M2139.5 1785.3h15M2139.5 1794.3h15M2142.5 1785.4h15M2142.5 1794.4h15M2145.5 1785.5h15M2145.5 1794.5h15M2148.5 1785.6h15M2148.5 1794.6h15M2151.5 1785.7h15M2151.5 1794.7h15M2154.5 1785.8h15M2154.5 1794.8h15M2157.5 1786h15M2157.5 1795h15" stroke="#222" stroke-width="1" fill="none"/>
<path d="M1174 1805.4h55M1171.8 1822.6h38.5M1210 1798.6h67.1M1200.9 1813.8h47M1255 1793.5h38.6M1254 1806.8h27M1264 1792.7h57.7M1282 1791h45.2M1279.2 1803.4h31.6M1345 1787.4h58.6M1348.9 1798.7h41M1399 1785.7h58.7M1398.4 1796.4h41.1M1480 1784.4h39.1M1479.8 1794.4h27.3M1507 1784h66.7M1525 1783.8h41.4M1516.1 1793.7h29M1534 1783.6h56.3M1543 1783.5h39.4M1570 1783.1h46.1M1579 1782.9h52.4M1576.3 1792.7h36.7M1588 1782.8h62.6M1597 1782.7h41.3M1606.2 1792.4h28.9M1615 1782.4h47.7M1624 1782.3h55M1625.1 1791.9h38.5M1642 1782h55M1635.7 1791.7h38.5M1651 1781.9h44M1660 1781.9h65.4M1668.7 1791.4h45.8M1669 1781.8h54.2M1714 1781.7h30.1M1723 1781.7h29.1M1722.9 1791.1h20.4M1768 1781.7h31.8M1764 1791.1h22.3M1822 1781.8h25.8M1831 1781.8h28.4M1831.2 1791h19.9M1903 1781.8h42.7M1898.3 1791h29.9M1921 1781.9h68.2M1923 1791h47.7M1930 1781.9h63.9M1932.6 1791.1h44.7M1948 1782h61.7M1975 1782.2h44.3M1976.2 1791.3h31M1993 1782.4h30.2M2011 1782.6h30.2M2056 1783h30.6M2061.2 1792.1h21.4M2065 1783.2h46.5M2074 1783.3h59.4M2083 1783.5h59.9" stroke="#000" stroke-width="2.6" fill="none"/>
<path d="M1141 1829V1960M1131 1860V1940" stroke="#222" stroke-width="1.8" fill="none"/>
<path d="M1133 1829h16M1133 1960h16M1123 1860h16M1123 1940h16" stroke="#000" stroke-width="2.6" fill="none"/>
<path d="M1047 2340 L1049 2337.6 L1051 2332.8 L1052 2330 L1053 2326.4 L1055 2315.8 L1057 2302.1 L1059 2287.3 L1060 2280 L1061 2272.5 L1063 2255.7 L1065 2237.8 L1067 2220.1 L1069 2204.2 L1069.6 2200 L1071 2190.9 L1073 2178.8 L1075 2167.6 L1077 2156.9 L1079 2146.4 L1080.7 2137.5 L1081 2135.9 L1083 2125.2 L1085 2114.6 L1087 2104 L1089 2093.6 L1091 2083.5 L1093 2073.8 L1095 2064.4 L1097 2055.7 L1097.4 2054 L1099 2047.6 L1101 2040.1 L1103 2033.1 L1105 2026.4 L1107 2019.9 L1109 2013.5 L1111 2006.8 L1113 1999.9 L1115 1992.5 L1117 1984.4 L1119 1975.7 L1121 1966.5 L1123 1956.8 L1125 1946.7 L1127 1936.1 L1129 1925.1 L1130.8 1914.8 L1131 1913.6 L1133 1900.3 L1135 1885.6 L1137 1871.5 L1139 1860.1 L1139.2 1859.2 L1141 1851.4 L1143 1843.5 L1145 1836.9 L1147 1832.2 L1147.5 1831.3 L1149 1829.1 L1151 1826.5 L1153 1824.4 L1155 1822.6 L1157 1821.2 L1158.7 1820.2 L1159 1820 L1161 1819.1 L1163 1818.1 L1165 1817.3 L1167 1816.4 L1169 1815.7 L1171 1815 L1173 1814.3 L1175 1813.7 L1177 1813.1 L1179 1812.6 L1181 1812.1 L1183 1811.6 L1185 1811.1 L1187 1810.7 L1189 1810.2 L1191 1809.8 L1193 1809.4 L1194.9 1809 L1195 1809 L1197 1808.6 L1199 1808.2 L1201 1807.8 L1203 1807.4 L1205 1807.1 L1207 1806.7 L1209 1806.4 L1211 1806 L1213 1805.7 L1215 1805.4 L1217 1805.1 L1219 1804.8 L1221 1804.5 L1223 1804.2 L1225 1803.9 L1227 1803.6 L1229 1803.4 L1231 1803.1 L1233 1802.8 L1235 1802.6 L1237 1802.3 L1239 1802.1 L1241 1801.8 L1243 1801.6 L1245 1801.4 L1247 1801.1 L1249 1800.9 L1250.5 1800.7 L1251 1800.6 L1253 1800.4 L1255 1800.2 L1257 1799.9 L1259 1799.7 L1261 1799.5 L1263 1799.2 L1265 1799 L1267 1798.8 L1269 1798.6 L1271 1798.3 L1273 1798.1 L1275 1797.9 L1277 1797.7 L1279 1797.5 L1281 1797.3 L1283 1797.1 L1285 1796.9 L1287 1796.7 L1289 1796.5 L1291 1796.4 L1293 1796.2 L1295 1796 L1297 1795.9 L1299 1795.7 L1301 1795.6 L1303 1795.4 L1305 1795.3 L1306.2 1795.2 L1307 1795.1 L1309 1795 L1311 1794.9 L1313 1794.8 L1315 1794.7 L1317 1794.5 L1319 1794.4 L1321 1794.3 L1323 1794.2 L1325 1794.1 L1327 1794 L1329 1793.9 L1331 1793.7 L1333 1793.6 L1335 1793.5 L1337 1793.4 L1339 1793.3 L1341 1793.2 L1343 1793.1 L1345 1793 L1347 1792.9 L1349 1792.8 L1351 1792.8 L1353 1792.7 L1355 1792.6 L1357 1792.5 L1359 1792.4 L1361 1792.3 L1363 1792.2 L1365 1792.2 L1367 1792.1 L1369 1792 L1371 1791.9 L1373 1791.9 L1375 1791.8 L1377 1791.7 L1379 1791.6 L1381 1791.6 L1383 1791.5 L1385 1791.4 L1387 1791.4 L1389 1791.3 L1391 1791.3 L1393 1791.2 L1395 1791.1 L1397 1791.1 L1399 1791 L1400 1791 L1401 1791 L1403 1790.9 L1405 1790.9 L1407 1790.8 L1409 1790.8 L1411 1790.7 L1413 1790.7 L1415 1790.6 L1417 1790.6 L1419 1790.5 L1421 1790.5 L1423 1790.4 L1425 1790.4 L1427 1790.4 L1429 1790.3 L1431 1790.3 L1433 1790.2 L1435 1790.2 L1437 1790.2 L1439 1790.1 L1441 1790.1 L1443 1790 L1445 1790 L1447 1790 L1449 1789.9 L1451 1789.9 L1453 1789.9 L1455 1789.8 L1457 1789.8 L1459 1789.8 L1461 1789.7 L1463 1789.7 L1465 1789.7 L1467 1789.6 L1469 1789.6 L1471 1789.6 L1473 1789.5 L1475 1789.5 L1477 1789.5 L1479 1789.4 L1481 1789.4 L1483 1789.4 L1485 1789.3 L1487 1789.3 L1489 1789.3 L1491 1789.2 L1493 1789.2 L1495 1789.2 L1497 1789.2 L1499 1789.1 L1501 1789.1 L1503 1789.1 L1505 1789 L1507 1789 L1509 1789 L1511 1788.9 L1513 1788.9 L1515 1788.9 L1517 1788.9 L1519 1788.8 L1521 1788.8 L1523 1788.8 L1525 1788.7 L1527 1788.7 L1527.5 1788.7 L1529 1788.7 L1531 1788.6 L1533 1788.6 L1535 1788.6 L1537 1788.6 L1539 1788.5 L1541 1788.5 L1543 1788.5 L1545 1788.4 L1547 1788.4 L1549 1788.4 L1551 1788.3 L1553 1788.3 L1555 1788.3 L1557 1788.2 L1559 1788.2 L1561 1788.1 L1563 1788.1 L1565 1788.1 L1567 1788 L1569 1788 L1571 1788 L1573 1787.9 L1575 1787.9 L1577 1787.9 L1579 1787.8 L1581 1787.8 L1583 1787.8 L1585 1787.7 L1587 1787.7 L1589 1787.7 L1591 1787.6 L1593 1787.6 L1595 1787.6 L1597 1787.5 L1599 1787.5 L1601 1787.5 L1603 1787.4 L1605 1787.4 L1607 1787.4 L1609 1787.3 L1611 1787.3 L1613 1787.3 L1615 1787.2 L1617 1787.2 L1619 1787.2 L1621 1787.1 L1623 1787.1 L1625 1787.1 L1627 1787 L1629 1787 L1631 1787 L1633 1787 L1635 1786.9 L1637 1786.9 L1639 1786.9 L1641 1786.9 L1643 1786.8 L1645 1786.8 L1647 1786.8 L1649 1786.8 L1651 1786.7 L1653 1786.7 L1655 1786.7 L1657 1786.7 L1659 1786.6 L1661 1786.6 L1663 1786.6 L1665 1786.6 L1667 1786.6 L1669 1786.6 L1671 1786.5 L1673 1786.5 L1675 1786.5 L1677 1786.5 L1679 1786.5 L1681 1786.5 L1683 1786.5 L1685 1786.5 L1687 1786.4 L1689 1786.4 L1691 1786.4 L1693 1786.4 L1695 1786.4 L1697 1786.4 L1699 1786.4 L1701 1786.4 L1703 1786.4 L1705 1786.4 L1707 1786.4 L1709 1786.4 L1711 1786.4 L1713 1786.4 L1715 1786.4 L1717 1786.4 L1719 1786.4 L1721 1786.4 L1723 1786.4 L1725 1786.4 L1727 1786.4 L1729 1786.4 L1731 1786.4 L1733 1786.4 L1735 1786.4 L1737 1786.4 L1739 1786.4 L1741 1786.4 L1743 1786.4 L1745 1786.4 L1747 1786.4 L1749 1786.4 L1751 1786.4 L1753 1786.4 L1755 1786.4 L1757 1786.4 L1759 1786.4 L1761 1786.4 L1763 1786.4 L1765 1786.4 L1767 1786.4 L1769 1786.4 L1771 1786.4 L1773 1786.4 L1775 1786.4 L1777 1786.4 L1779 1786.4 L1781 1786.4 L1783 1786.4 L1785 1786.4 L1787 1786.4 L1789 1786.4 L1791 1786.4 L1793 1786.4 L1795 1786.4 L1797 1786.4 L1799 1786.4 L1801 1786.4 L1803 1786.4 L1805 1786.4 L1807 1786.4 L1809 1786.4 L1811 1786.4 L1813 1786.4 L1815 1786.4 L1817 1786.4 L1819 1786.4 L1821 1786.4 L1823 1786.4 L1825 1786.4 L1827 1786.4 L1829 1786.4 L1831 1786.4 L1833 1786.4 L1835 1786.4 L1837 1786.4 L1839 1786.4 L1841 1786.4 L1843 1786.4 L1845 1786.4 L1847 1786.4 L1849 1786.4 L1851 1786.4 L1853 1786.4 L1855 1786.4 L1857 1786.4 L1859 1786.4 L1861 1786.4 L1863 1786.4 L1865 1786.4 L1867 1786.4 L1869 1786.4 L1871 1786.4 L1873 1786.4 L1875 1786.4 L1877 1786.4 L1879 1786.4 L1881 1786.4 L1882.4 1786.4 L1883 1786.4 L1885 1786.4 L1887 1786.4 L1889 1786.4 L1891 1786.4 L1893 1786.4 L1895 1786.4 L1897 1786.4 L1899 1786.4 L1901 1786.4 L1903 1786.4 L1905 1786.4 L1907 1786.4 L1909 1786.4 L1911 1786.4 L1913 1786.4 L1915 1786.5 L1917 1786.5 L1919 1786.5 L1921 1786.5 L1923 1786.5 L1925 1786.5 L1927 1786.5 L1929 1786.5 L1931 1786.5 L1933 1786.5 L1935 1786.5 L1937 1786.5 L1939 1786.5 L1941 1786.6 L1943 1786.6 L1945 1786.6 L1947 1786.6 L1949 1786.6 L1951 1786.6 L1953 1786.6 L1955 1786.6 L1957 1786.7 L1959 1786.7 L1961 1786.7 L1963 1786.7 L1965 1786.7 L1967 1786.7 L1969 1786.7 L1971 1786.7 L1973 1786.8 L1975 1786.8 L1977 1786.8 L1979 1786.8 L1981 1786.8 L1983 1786.8 L1985 1786.9 L1987 1786.9 L1989 1786.9 L1991 1786.9 L1993 1786.9 L1995 1786.9 L1997 1787 L1999 1787 L2001 1787 L2003 1787 L2005 1787 L2007 1787 L2009 1787.1 L2011 1787.1 L2013 1787.1 L2015 1787.1 L2017 1787.1 L2019 1787.2 L2021 1787.2 L2023 1787.2 L2025 1787.2 L2027 1787.2 L2029 1787.3 L2031 1787.3 L2033 1787.3 L2035 1787.3 L2037 1787.3 L2039 1787.4 L2041 1787.4 L2043 1787.4 L2045 1787.4 L2047 1787.5 L2049 1787.5 L2051 1787.5 L2053 1787.5 L2055 1787.5 L2057 1787.6 L2059 1787.6 L2059.8 1787.6 L2061 1787.6 L2063 1787.6 L2065 1787.7 L2067 1787.7 L2069 1787.7 L2071 1787.8 L2073 1787.8 L2075 1787.8 L2077 1787.9 L2079 1787.9 L2081 1787.9 L2083 1788 L2085 1788 L2087 1788.1 L2089 1788.1 L2091 1788.2 L2093 1788.2 L2095 1788.2 L2097 1788.3 L2099 1788.3 L2101 1788.4 L2103 1788.5 L2105 1788.5 L2107 1788.6 L2109 1788.6 L2111 1788.7 L2113 1788.7 L2115 1788.8 L2117 1788.9 L2119 1788.9 L2121 1789 L2123 1789 L2125 1789.1 L2127 1789.2 L2129 1789.2 L2131 1789.3 L2133 1789.4 L2135 1789.4 L2137 1789.5 L2139 1789.6 L2141 1789.6 L2143 1789.7 L2145 1789.8 L2147 1789.8 L2149 1789.9 L2151 1790 L2153 1790 L2155 1790.1 L2157 1790.2 L2159 1790.2 L2161 1790.3 L2163 1790.4 L2165 1790.5 L2166.3 1790.5" stroke="#4472C4" stroke-width="7" fill="none" stroke-linejoin="round" stroke-linecap="round"/>
<path d="M513 2231.2 L517.6 2236 L522.2 2233.9 L526.8 2240.6 L531.4 2232.9 L536 2238.4 L540.6 2236.5 L545.2 2238.8 L549.8 2238.4 L554.4 2235 L559 2234.6 L563.6 2240.2 L568.2 2240.6 L572.8 2238.5 L577.4 2238.5 L582 2236.9 L586.6 2238.9 L591.2 2230.8 L595.8 2241.8 L600.4 2244.9 L605 2237.6 L609.6 2242.4 L614.2 2242.9 L618.8 2241.3 L623.4 2243.1 L628 2245.2 L632.6 2245.1 L637.2 2244.1 L641.8 2242.5 L646.4 2244.4 L651 2243.9 L655.6 2240.2 L660.2 2242.7 L664.8 2246 L669.4 2245.6 L674 2247.4 L678.6 2244.5 L683.2 2246.8 L687.8 2246.7 L692.4 2244.4 L697 2247.5 L701.6 2246.5 L706.2 2251.1 L710.8 2247.2 L715.4 2248 L720 2245.4 L724.6 2251.7 L729.2 2246.7 L733.8 2247.1 L738.4 2249 L743 2250.7 L747.6 2246.4 L752.2 2250.3 L756.8 2257.4 L761.4 2248.7 L766 2251.2 L770.6 2245.6 L775.2 2250.4 L779.8 2251.8 L784.4 2252.1 L789 2247.3 L793.6 2255.1 L798.2 2253 L802.8 2250.3 L807.4 2252 L812 2253.5 L816.6 2251.6 L821.2 2248.5 L825.8 2251.1 L830.4 2253.7 L835 2253.9 L839.6 2252.7 L844.2 2251.4 L848.8 2250 L853.4 2249.3 L858 2247.8 L862.6 2253.6 L867.2 2251.9 L871.8 2249.9 L876.4 2252.3 L881 2249.2 L885.6 2252.3 L890.2 2243.3 L894.8 2251.3 L899.4 2248.2 L904 2247.7 L908.6 2245 L913.2 2245.3 L917.8 2241.7 L922.4 2239.8 L927 2241.2 L931.6 2239.3 L936.2 2237.5 L940.8 2237.4 L945.4 2232 L950 2232 L954.6 2228.5 L959.2 2232.3 L963.8 2228.9 L968.4 2223.5 L973 2227.9 L977.6 2222.6 L982.2 2226.2 L986.8 2219.9 L991.4 2219.3 L996 2217.7 L1000.6 2218.1 L1005.2 2215.1 L1009.8 2214.7 L1014.4 2204.8 L1019 2205.9 L1023.6 2203.4 L1028.2 2200.1 L1032.8 2199.8 L1037.4 2194.7 L1042 2194.3 L1046.6 2195 L1055.7 2190.4 L1057.7 2189.6 L1059.7 2188.3 L1061.7 2186.5 L1063.7 2184.3 L1065.7 2181.9 L1067.7 2179.2 L1069.6 2176.5 L1069.7 2176.4 L1071.7 2172.8 L1073.7 2168.3 L1075.7 2163 L1077.7 2157.2 L1079.7 2151 L1081.7 2144.9 L1083.7 2139 L1085.7 2133.5 L1086.3 2132 L1087.7 2128.6 L1089.7 2123.8 L1091.7 2119.2 L1093.7 2114.6 L1095.7 2110.2 L1097.7 2105.7 L1099.7 2101.3 L1101.7 2096.8 L1103.7 2092.3 L1105.7 2087.7 L1105.8 2087.5 L1107.7 2083.3 L1109.7 2079 L1111.7 2074.9 L1113.7 2070.7 L1115.7 2066.4 L1117.7 2061.7 L1119.7 2056.6 L1121.7 2051 L1122.5 2048.5 L1123.7 2044.8 L1125.7 2038.3 L1127.7 2030.4 L1129.7 2019.8 L1130.8 2012.3 L1131.7 2001 L1133.6 1970.5 L1133.7 1969.5 L1135.7 1951.7 L1137.7 1938.2 L1139.2 1931.6 L1139.7 1930 L1141.7 1924.1 L1143.7 1919.1 L1145.7 1915.1 L1147.7 1912 L1149.7 1909.8 L1150.3 1909.3 L1151.7 1908.3 L1153.7 1907 L1155.7 1905.8 L1157.7 1904.8 L1159.7 1904 L1161.7 1903.4 L1163.7 1903.1 L1165 1903 L1170.8 1905.1 L1175.4 1898.9 L1180 1901.8 L1184.6 1899.6 L1189.2 1896.3 L1193.8 1902.5 L1198.4 1903.3 L1203 1901.5 L1207.6 1899.4 L1212.2 1901.3 L1216.8 1900.9 L1221.4 1900.4 L1226 1898.8 L1230.6 1902.8 L1235.2 1900.7 L1239.8 1905.4 L1244.4 1904 L1249 1902.1 L1253.6 1906.1 L1258.2 1907 L1262.8 1904.5 L1267.4 1909.8 L1272 1908.4 L1276.6 1914.6 L1281.2 1908.8 L1285.8 1910.5 L1290.4 1915.5 L1295 1913.6 L1299.6 1919.9 L1304.2 1916.9 L1308.8 1911.7 L1313.4 1921.4 L1318 1919.9 L1322.6 1920.9 L1327.2 1923.8 L1331.8 1918.3 L1336.4 1925.6 L1341 1918.8 L1345.6 1921.5 L1350.2 1919.2 L1354.8 1922.5 L1359.4 1920.2 L1364 1922.6 L1368.6 1924 L1373.2 1923.3 L1377.8 1921 L1382.4 1926.1 L1387 1925.3 L1391.6 1927.4 L1396.2 1926.7 L1400.8 1925.5 L1405.4 1930.2 L1410 1926.3 L1414.6 1927.5 L1419.2 1925.7 L1423.8 1924.8 L1428.4 1931.7 L1433 1929.7 L1437.6 1930.6 L1442.2 1929.5 L1446.8 1929.8 L1451.4 1926.5 L1456 1927.7 L1460.6 1928.9 L1465.2 1931.1 L1469.8 1930.8 L1474.4 1931 L1479 1932.9 L1483.6 1933.1 L1488.2 1929.4 L1492.8 1930.8 L1497.4 1933.3 L1502 1928 L1506.6 1935.3 L1511.2 1931.5 L1515.8 1933.6 L1520.4 1928.2 L1525 1933.1 L1529.6 1935.9 L1534.2 1932.3 L1538.8 1932.2 L1543.4 1934.4 L1548 1932.4 L1552.6 1932.9 L1557.2 1934.6 L1561.8 1935.4 L1566.4 1932.9 L1571 1932.9 L1575.6 1936.7 L1580.2 1933.4 L1584.8 1941.4 L1589.4 1935.2 L1594 1934.5 L1598.6 1935.6 L1603.2 1935.5 L1607.8 1933.7 L1612.4 1938.7 L1617 1936.2 L1621.6 1939.3 L1626.2 1935.4 L1630.8 1934.9 L1635.4 1931 L1640 1935.2 L1644.6 1936.9 L1649.2 1933.8 L1653.8 1934.7 L1658.4 1937 L1663 1936.6 L1667.6 1939.4 L1672.2 1936.1 L1676.8 1930.5 L1681.4 1941.6 L1686 1935.2 L1690.6 1934.1 L1695.2 1936.6 L1699.8 1939.6 L1704.4 1936.8 L1709 1934.8 L1713.6 1932.3 L1718.2 1936.9 L1722.8 1935.3 L1727.4 1934.6 L1732 1934.7 L1736.6 1936.3 L1741.2 1929.6 L1745.8 1935.6 L1750.4 1933.6 L1755 1936.7 L1759.6 1931.3 L1764.2 1933.7 L1768.8 1932.4 L1773.4 1938.9 L1778 1933.2 L1782.6 1936.6 L1787.2 1937.9 L1791.8 1934.9 L1796.4 1933.5 L1801 1936.5 L1805.6 1936.4 L1810.2 1935.6 L1814.8 1935.6 L1819.4 1938.3 L1824 1933.1 L1828.6 1936.8 L1833.2 1935.7 L1837.8 1933.5 L1842.4 1935.1 L1847 1936.5 L1851.6 1930.1 L1856.2 1934.7 L1860.8 1931.3 L1865.4 1933.1 L1870 1932.7 L1874.6 1928.8 L1879.2 1933.2 L1883.8 1929 L1888.4 1934.8 L1893 1931 L1897.6 1933.7 L1902.2 1927.9 L1906.8 1932 L1911.4 1931.7 L1916 1933.2 L1920.6 1928.9 L1925.2 1933.8 L1929.8 1925 L1934.4 1927.2 L1939 1927.9 L1943.6 1926.2 L1948.2 1928.9 L1952.8 1923.9 L1957.4 1927 L1962 1927.2 L1966.6 1925.6 L1971.2 1925.4 L1975.8 1923.7 L1980.4 1926.9 L1985 1923.6 L1989.6 1925.6 L1994.2 1923.7 L1998.8 1926.6 L2003.4 1921.1 L2008 1924.9 L2012.6 1921.4 L2017.2 1925.1 L2021.8 1929.1 L2026.4 1924.8 L2031 1924.9 L2035.6 1926.6 L2040.2 1920.9 L2044.8 1923.1 L2049.4 1917.2 L2054 1923.2 L2058.6 1926.1 L2063.2 1923.9 L2067.8 1924 L2072.4 1921.7 L2077 1922.9 L2081.6 1924.1 L2086.2 1920.5 L2090.8 1920.4 L2095.4 1921.7 L2100 1921.5 L2104.6 1921 L2109.2 1916.7 L2113.8 1920.3 L2118.4 1919.4 L2123 1914.5 L2127.6 1920.8 L2132.2 1916.4 L2136.8 1919.2 L2141.4 1921.7 L2146 1916.5 L2150.6 1917.5 L2155.2 1916.2 L2159.8 1917.2 L2164.4 1916.9" stroke="#ED7D31" stroke-width="7" fill="none" stroke-linejoin="round" stroke-linecap="round"/>
<text x="1333" y="1708.6" font-size="105" font-weight="bold" fill="#5B9BD5">G′</text>
<text x="1333" y="2082.7" font-size="105" font-weight="bold" fill="#FF9900">G″</text>
<polygon points="515,3404.5 517.6,3404.5 520.2,3404.5 522.8,3404.5 525.4,3404.5 528,3404.5 530.6,3404.5 533.2,3404.5 535.8,3404.5 538.4,3404.5 541,3404.5 543.6,3404.5 546.2,3404.5 548.8,3404.5 551.4,3404.5 554,3404.5 556.6,3404.5 559.2,3404.5 561.8,3404.5 564.4,3404.5 567,3404.5 569.6,3404.5 572.2,3404.5 574.8,3404.5 577.4,3404.5 580,3404.5 582.6,3404.5 585.2,3404.5 587.8,3404.5 590.4,3404.5 593,3404.5 595.6,3404.5 598.2,3404.5 600.8,3404.5 603.4,3404.5 606,3404.5 608.6,3404.5 611.2,3404.5 613.8,3404.5 616.4,3404.5 619,3404.5 621.6,3404.5 624.2,3404.5 626.8,3404.5 629.4,3404.5 632,3404.5 634.6,3404.5 637.2,3404.5 639.8,3404.5 642.4,3404.5 645,3404.5 647.6,3404.5 650.2,3404.5 652.8,3404.5 655.4,3404.5 658,3404.5 660.6,3404.5 663.2,3404.5 665.8,3404.5 668.4,3404.5 671,3404.5 673.6,3404.5 676.2,3404.5 678.8,3404.5 681.4,3404.5 684,3404.5 686.6,3404.5 689.2,3404.5 691.8,3404.5 694.4,3404.5 697,3404.5 699.6,3404.5 702.2,3404.5 704.8,3404.5 707.4,3404.5 710,3404.5 712.6,3404.5 715.2,3404.5 717.8,3404.5 720.4,3404.5 723,3404.5 725.6,3404.5 728.2,3405.7 730.8,3407.8 733.4,3410.4 736,3415.2 738.6,3421.9 741.2,3428.3 743.8,3432.5 746.4,3433 749,3433 751.6,3433 754.2,3433 756.8,3433 759.4,3433 762,3433 764.6,3433 767.2,3432.9 769.8,3432.9 772.4,3432.9 775,3432.9 777.6,3432.8 780.2,3432.8 782.8,3432.7 785.4,3432.7 788,3432.6 790.6,3432.5 793.2,3432.4 795.8,3432.3 798.4,3432.2 801,3432.1 803.6,3432 806.2,3431.8 808.8,3431.7 811.4,3431.5 814,3431.3 816.6,3431.1 819.2,3430.9 821.8,3430.7 824.4,3430.5 827,3430.2 829.6,3429.9 832.2,3429.6 834.8,3429.3 837.4,3429 840,3428.6 842.6,3428.3 845.2,3427.9 847.8,3427.5 850.4,3427 853,3426.6 855.6,3426.1 858.2,3425.6 860.8,3425.1 863.4,3424.6 866,3424 868.6,3423.4 871.2,3422.8 873.8,3422.1 876.4,3421.5 879,3420.8 881.6,3420 884.2,3419.3 886.8,3418.5 889.4,3417.7 889.4,3490.8 886.8,3490.8 884.2,3490.8 881.6,3490.8 879,3490.8 876.4,3490.8 873.8,3490.8 871.2,3490.8 868.6,3490.8 866,3490.8 863.4,3490.8 860.8,3490.8 858.2,3490.8 855.6,3490.8 853,3490.8 850.4,3490.8 847.8,3490.8 845.2,3490.8 842.6,3490.8 840,3490.8 837.4,3490.8 834.8,3490.8 832.2,3490.8 829.6,3490.8 827,3490.8 824.4,3490.8 821.8,3490.8 819.2,3490.8 816.6,3490.8 814,3490.8 811.4,3490.8 808.8,3490.9 806.2,3490.9 803.6,3490.9 801,3490.9 798.4,3490.9 795.8,3490.9 793.2,3490.9 790.6,3490.9 788,3490.9 785.4,3490.9 782.8,3490.9 780.2,3490.9 777.6,3490.9 775,3490.9 772.4,3490.9 769.8,3490.9 767.2,3490.9 764.6,3490.9 762,3490.9 759.4,3490.9 756.8,3490.9 754.2,3490.9 751.6,3490.9 749,3490.9 746.4,3491 743.8,3491 741.2,3491 738.6,3491 736,3491 733.4,3491 730.8,3491 728.2,3491 725.6,3491 723,3491 720.4,3491 717.8,3491 715.2,3491.1 712.6,3491.1 710,3491.1 707.4,3491.2 704.8,3491.2 702.2,3491.2 699.6,3491.3 697,3491.4 694.4,3491.4 691.8,3491.5 689.2,3491.6 686.6,3491.6 684,3491.7 681.4,3491.8 678.8,3491.9 676.2,3492 673.6,3492.1 671,3492.2 668.4,3492.3 665.8,3492.4 663.2,3492.5 660.6,3492.7 658,3492.8 655.4,3492.9 652.8,3493.1 650.2,3493.2 647.6,3493.4 645,3493.5 642.4,3493.7 639.8,3493.8 637.2,3494 634.6,3494.1 632,3494.3 629.4,3494.5 626.8,3494.7 624.2,3494.9 621.6,3495.1 619,3495.2 616.4,3495.4 613.8,3495.6 611.2,3495.9 608.6,3496.1 606,3496.3 603.4,3496.5 600.8,3496.7 598.2,3496.9 595.6,3497.2 593,3497.4 590.4,3497.6 587.8,3497.9 585.2,3498.1 582.6,3498.4 580,3498.6 577.4,3498.9 574.8,3499.2 572.2,3499.4 569.6,3499.7 567,3500 564.4,3500.2 561.8,3500.5 559.2,3500.8 556.6,3501.1 554,3501.4 551.4,3501.7 548.8,3502 546.2,3502.3 543.6,3502.6 541,3502.9 538.4,3503.2 535.8,3503.6 533.2,3504.2 530.6,3504.8 528,3505.4 525.4,3506.1 522.8,3506.8 520.2,3507.6 517.6,3508.3 515,3509" fill="#878787"/>
<path d="M522 3406.5V3504.8M542.3 3406.5V3500.9M561.9 3406.5V3498.5M579.6 3406.5V3496.6M594.2 3406.5V3495.4M615.7 3406.5V3493.4M637.4 3406.5V3492M655.6 3406.5V3490.9M673.6 3406.5V3490.1M688.5 3406.5V3489.6M700.5 3406.5V3489.3M717 3406.5V3489M736 3417.2V3489M748.8 3435V3488.9M770.3 3434.9V3488.9M785.1 3434.7V3488.9M799.9 3434.1V3488.9M812.4 3433.5V3488.8M836.4 3431V3488.8M857.3 3427.6V3488.8M879.8 3422.8V3488.8" stroke="#fff" stroke-opacity="0.85" stroke-width="2" fill="none"/>
<path d="M506.5 3404.5h17M506.5 3509h17M509.1 3404.5h17M509.1 3508.3h17M511.7 3404.5h17M511.7 3507.6h17M514.3 3404.5h17M514.3 3506.8h17M516.9 3404.5h17M516.9 3506.1h17M519.5 3404.5h17M519.5 3505.4h17M522.1 3404.5h17M522.1 3504.8h17M524.7 3404.5h17M524.7 3504.2h17M527.3 3404.5h17M527.3 3503.6h17M529.9 3404.5h17M529.9 3503.2h17M532.5 3404.5h17M532.5 3502.9h17M535.1 3404.5h17M535.1 3502.6h17M537.7 3404.5h17M537.7 3502.3h17M540.3 3404.5h17M540.3 3502h17M542.9 3404.5h17M542.9 3501.7h17M545.5 3404.5h17M545.5 3501.4h17M548.1 3404.5h17M548.1 3501.1h17M550.7 3404.5h17M550.7 3500.8h17M553.3 3404.5h17M553.3 3500.5h17M555.9 3404.5h17M555.9 3500.2h17M558.5 3404.5h17M558.5 3500h17M561.1 3404.5h17M561.1 3499.7h17M563.7 3404.5h17M563.7 3499.4h17M566.3 3404.5h17M566.3 3499.2h17M568.9 3404.5h17M568.9 3498.9h17M571.5 3404.5h17M571.5 3498.6h17M574.1 3404.5h17M574.1 3498.4h17M576.7 3404.5h17M576.7 3498.1h17M579.3 3404.5h17M579.3 3497.9h17M581.9 3404.5h17M581.9 3497.6h17M584.5 3404.5h17M584.5 3497.4h17M587.1 3404.5h17M587.1 3497.2h17M589.7 3404.5h17M589.7 3496.9h17M592.3 3404.5h17M592.3 3496.7h17M594.9 3404.5h17M594.9 3496.5h17M597.5 3404.5h17M597.5 3496.3h17M600.1 3404.5h17M600.1 3496.1h17M602.7 3404.5h17M602.7 3495.9h17M605.3 3404.5h17M605.3 3495.6h17M607.9 3404.5h17M607.9 3495.4h17M610.5 3404.5h17M610.5 3495.2h17M613.1 3404.5h17M613.1 3495.1h17M615.7 3404.5h17M615.7 3494.9h17M618.3 3404.5h17M618.3 3494.7h17M620.9 3404.5h17M620.9 3494.5h17M623.5 3404.5h17M623.5 3494.3h17M626.1 3404.5h17M626.1 3494.1h17M628.7 3404.5h17M628.7 3494h17M631.3 3404.5h17M631.3 3493.8h17M633.9 3404.5h17M633.9 3493.7h17M636.5 3404.5h17M636.5 3493.5h17M639.1 3404.5h17M639.1 3493.4h17M641.7 3404.5h17M641.7 3493.2h17M644.3 3404.5h17M644.3 3493.1h17M646.9 3404.5h17M646.9 3492.9h17M649.5 3404.5h17M649.5 3492.8h17M652.1 3404.5h17M652.1 3492.7h17M654.7 3404.5h17M654.7 3492.5h17M657.3 3404.5h17M657.3 3492.4h17M659.9 3404.5h17M659.9 3492.3h17M662.5 3404.5h17M662.5 3492.2h17M665.1 3404.5h17M665.1 3492.1h17M667.7 3404.5h17M667.7 3492h17M670.3 3404.5h17M670.3 3491.9h17M672.9 3404.5h17M672.9 3491.8h17M675.5 3404.5h17M675.5 3491.7h17M678.1 3404.5h17M678.1 3491.6h17M680.7 3404.5h17M680.7 3491.6h17M683.3 3404.5h17M683.3 3491.5h17M685.9 3404.5h17M685.9 3491.4h17M688.5 3404.5h17M688.5 3491.4h17M691.1 3404.5h17M691.1 3491.3h17M693.7 3404.5h17M693.7 3491.2h17M696.3 3404.5h17M696.3 3491.2h17M698.9 3404.5h17M698.9 3491.2h17M701.5 3404.5h17M701.5 3491.1h17M704.1 3404.5h17M704.1 3491.1h17M706.7 3404.5h17M706.7 3491.1h17M709.3 3404.5h17M709.3 3491h17M711.9 3404.5h17M711.9 3491h17M714.5 3404.5h17M714.5 3491h17M717.1 3404.5h17M717.1 3491h17M719.7 3405.7h17M719.7 3491h17M722.3 3407.8h17M722.3 3491h17M724.9 3410.4h17M724.9 3491h17M727.5 3415.2h17M727.5 3491h17M730.1 3421.9h17M730.1 3491h17M732.7 3428.3h17M732.7 3491h17M735.3 3432.5h17M735.3 3491h17M737.9 3433h17M737.9 3491h17M740.5 3433h17M740.5 3490.9h17M743.1 3433h17M743.1 3490.9h17M745.7 3433h17M745.7 3490.9h17M748.3 3433h17M748.3 3490.9h17M750.9 3433h17M750.9 3490.9h17M753.5 3433h17M753.5 3490.9h17M756.1 3433h17M756.1 3490.9h17M758.7 3432.9h17M758.7 3490.9h17M761.3 3432.9h17M761.3 3490.9h17M763.9 3432.9h17M763.9 3490.9h17M766.5 3432.9h17M766.5 3490.9h17M769.1 3432.8h17M769.1 3490.9h17M771.7 3432.8h17M771.7 3490.9h17M774.3 3432.7h17M774.3 3490.9h17M776.9 3432.7h17M776.9 3490.9h17M779.5 3432.6h17M779.5 3490.9h17M782.1 3432.5h17M782.1 3490.9h17M784.7 3432.4h17M784.7 3490.9h17M787.3 3432.3h17M787.3 3490.9h17M789.9 3432.2h17M789.9 3490.9h17M792.5 3432.1h17M792.5 3490.9h17M795.1 3432h17M795.1 3490.9h17M797.7 3431.8h17M797.7 3490.9h17M800.3 3431.7h17M800.3 3490.9h17M802.9 3431.5h17M802.9 3490.8h17M805.5 3431.3h17M805.5 3490.8h17M808.1 3431.1h17M808.1 3490.8h17M810.7 3430.9h17M810.7 3490.8h17M813.3 3430.7h17M813.3 3490.8h17M815.9 3430.5h17M815.9 3490.8h17M818.5 3430.2h17M818.5 3490.8h17M821.1 3429.9h17M821.1 3490.8h17M823.7 3429.6h17M823.7 3490.8h17M826.3 3429.3h17M826.3 3490.8h17M828.9 3429h17M828.9 3490.8h17M831.5 3428.6h17M831.5 3490.8h17M834.1 3428.3h17M834.1 3490.8h17M836.7 3427.9h17M836.7 3490.8h17M839.3 3427.5h17M839.3 3490.8h17M841.9 3427h17M841.9 3490.8h17M844.5 3426.6h17M844.5 3490.8h17M847.1 3426.1h17M847.1 3490.8h17M849.7 3425.6h17M849.7 3490.8h17M852.3 3425.1h17M852.3 3490.8h17M854.9 3424.6h17M854.9 3490.8h17M857.5 3424h17M857.5 3490.8h17M860.1 3423.4h17M860.1 3490.8h17M862.7 3422.8h17M862.7 3490.8h17M865.3 3422.1h17M865.3 3490.8h17M867.9 3421.5h17M867.9 3490.8h17M870.5 3420.8h17M870.5 3490.8h17M873.1 3420h17M873.1 3490.8h17M875.7 3419.3h17M875.7 3490.8h17M878.3 3418.5h17M878.3 3490.8h17M880.9 3417.7h17M880.9 3490.8h17" stroke="#000" stroke-width="2.6" fill="none"/>
<path d="M515 3454.5 L517.6 3454.4 L520.2 3454.3 L522.8 3454.2 L525.4 3454.1 L528 3454.1 L530.6 3454 L533.2 3453.9 L535.8 3453.8 L538.4 3453.7 L541 3453.7 L543.6 3453.6 L546.2 3453.5 L548.8 3453.4 L551.4 3453.4 L554 3453.3 L556.6 3453.2 L559.2 3453.1 L561.8 3453.1 L564.4 3453 L567 3452.9 L569.6 3452.9 L572.2 3452.8 L574.8 3452.8 L577.4 3452.7 L580 3452.7 L582.6 3452.6 L585.2 3452.6 L587.8 3452.6 L590.4 3452.5 L593 3452.5 L595.6 3452.5 L598.2 3452.4 L600.8 3452.4 L603.4 3452.4 L606 3452.4 L608.6 3452.4 L611.2 3452.4 L613.8 3452.4 L616.4 3452.4 L619 3452.4 L621.6 3452.4 L624.2 3452.4 L626.8 3452.4 L629.4 3452.4 L632 3452.4 L634.6 3452.4 L637.2 3452.4 L639.8 3452.4 L642.4 3452.4 L645 3452.4 L647.6 3452.4 L650.2 3452.4 L652.8 3452.4 L655.4 3452.4 L658 3452.4 L660.6 3452.4 L663.2 3452.4 L665.8 3452.4 L668.4 3452.4 L671 3452.4 L673.6 3452.4 L676.2 3452.4 L678.8 3452.4 L681.4 3452.4 L684 3452.4 L686.6 3452.4 L689.2 3452.4 L691.8 3452.4 L694.4 3452.4 L697 3452.4 L699.6 3452.4 L702.2 3452.4 L704.8 3452.4 L707.4 3452.4 L710 3452.4 L712.6 3452.4 L715.2 3452.4 L717.8 3452.4 L720.4 3452.4 L723 3452.4 L725.6 3452.4 L728.2 3452.9 L730.8 3454.3 L733.4 3456.3 L736 3458.6 L738.6 3460.8 L741.2 3463.3 L743.8 3466.5 L746.4 3469.9 L749 3473.2 L751.6 3476 L754.2 3477.8 L756.8 3478.2 L759.4 3478.1 L762 3478 L764.6 3477.9 L767.2 3477.7 L769.8 3477.4 L772.4 3477.1 L775 3476.8 L777.6 3476.4 L780.2 3476 L782.8 3475.6 L785.4 3475.1 L788 3474.7 L790.6 3474.2 L793.2 3473.7 L795.8 3473.2 L798.4 3472.7 L801 3472.3 L803.6 3471.8 L806.2 3471.3 L808.8 3470.9 L811.4 3470.3 L814 3469.8 L816.6 3469.3 L819.2 3468.7 L821.8 3468.1 L824.4 3467.5 L827 3466.9 L829.6 3466.2 L832.2 3465.5 L834.8 3464.8 L837.4 3464 L840 3463.2 L842.6 3462.4 L845.2 3461.5 L847.8 3460.6 L850.4 3459.6 L853 3458.5 L855.6 3457.4 L858.2 3456.1 L860.8 3454.7 L863.4 3453.2 L866 3451.7 L868.6 3450 L871.2 3448.1 L873.8 3446.1 L876.4 3443.8 L879 3441.3 L881.6 3438.4 L884.2 3435.1 L886.8 3431.2 L889.4 3426.3" stroke="#000" stroke-width="3" fill="none" stroke-linejoin="round" stroke-linecap="round"/>
<path d="M515 3451 L517.6 3450.9 L520.2 3450.8 L522.8 3450.7 L525.4 3450.6 L528 3450.6 L530.6 3450.5 L533.2 3450.4 L535.8 3450.3 L538.4 3450.2 L541 3450.2 L543.6 3450.1 L546.2 3450 L548.8 3449.9 L551.4 3449.9 L554 3449.8 L556.6 3449.7 L559.2 3449.6 L561.8 3449.6 L564.4 3449.5 L567 3449.4 L569.6 3449.4 L572.2 3449.3 L574.8 3449.3 L577.4 3449.2 L580 3449.2 L582.6 3449.1 L585.2 3449.1 L587.8 3449.1 L590.4 3449 L593 3449 L595.6 3449 L598.2 3448.9 L600.8 3448.9 L603.4 3448.9 L606 3448.9 L608.6 3448.9 L611.2 3448.9 L613.8 3448.9 L616.4 3448.9 L619 3448.9 L621.6 3448.9 L624.2 3448.9 L626.8 3448.9 L629.4 3448.9 L632 3448.9 L634.6 3448.9 L637.2 3448.9 L639.8 3448.9 L642.4 3448.9 L645 3448.9 L647.6 3448.9 L650.2 3448.9 L652.8 3448.9 L655.4 3448.9 L658 3448.9 L660.6 3448.9 L663.2 3448.9 L665.8 3448.9 L668.4 3448.9 L671 3448.9 L673.6 3448.9 L676.2 3448.9 L678.8 3448.9 L681.4 3448.9 L684 3448.9 L686.6 3448.9 L689.2 3448.9 L691.8 3448.9 L694.4 3448.9 L697 3448.9 L699.6 3448.9 L702.2 3448.9 L704.8 3448.9 L707.4 3448.9 L710 3448.9 L712.6 3448.9 L715.2 3448.9 L717.8 3448.9 L720.4 3448.9 L723 3448.9 L725.6 3448.9 L728.2 3449.4 L730.8 3450.8 L733.4 3452.8 L736 3455.1 L738.6 3457.3 L741.2 3459.8 L743.8 3463 L746.4 3466.4 L749 3469.7 L751.6 3472.5 L754.2 3474.3 L756.8 3474.7 L759.4 3474.6 L762 3474.5 L764.6 3474.4 L767.2 3474.2 L769.8 3473.9 L772.4 3473.6 L775 3473.3 L777.6 3472.9 L780.2 3472.5 L782.8 3472.1 L785.4 3471.6 L788 3471.2 L790.6 3470.7 L793.2 3470.2 L795.8 3469.7 L798.4 3469.2 L801 3468.8 L803.6 3468.3 L806.2 3467.8 L808.8 3467.4 L811.4 3466.8 L814 3466.3 L816.6 3465.8 L819.2 3465.2 L821.8 3464.6 L824.4 3464 L827 3463.4 L829.6 3462.7 L832.2 3462 L834.8 3461.3 L837.4 3460.5 L840 3459.7 L842.6 3458.9 L845.2 3458 L847.8 3457.1 L850.4 3456.1 L853 3455 L855.6 3453.9 L858.2 3452.6 L860.8 3451.2 L863.4 3449.7 L866 3448.2 L868.6 3446.5 L871.2 3444.6 L873.8 3442.6 L876.4 3440.3 L879 3437.8 L881.6 3434.9 L884.2 3431.6 L886.8 3427.7 L889.4 3422.8" stroke="#fff" stroke-width="2.2" fill="none" stroke-linejoin="round" stroke-linecap="round"/>
<polygon points="888,3388 890.6,3381.6 893.2,3374.9 895.8,3367.8 898.4,3360.5 901,3353 903.6,3345.2 906.2,3337.2 908.8,3329 911.4,3320.7 914,3311.5 916.6,3301.5 919.2,3291.1 921.8,3281.1 924.4,3271.9 927,3264.1 929.6,3256.9 932.2,3250 934.8,3243.5 937.4,3237.3 940,3231.6 942.6,3226.3 945.2,3221.6 947.8,3217.3 950.4,3213.5 953,3209.9 955.6,3206.7 958.2,3203.7 960.8,3200.8 963.4,3198.1 966,3195.4 968.6,3192.8 971.2,3190.3 973.8,3187.9 976.4,3185.8 979,3184.1 981.6,3182.7 984.2,3181.4 986.8,3180.3 989.4,3179.2 992,3178.2 994.6,3177.3 997.2,3176.4 999.8,3175.6 1002.4,3174.8 1005,3174 1007.6,3173.3 1010.2,3172.5 1012.8,3171.8 1015.4,3171 1018,3170.2 1020.6,3169.4 1023.2,3168.7 1025.8,3167.9 1028.4,3167.2 1031,3166.4 1033.6,3165.7 1036.2,3165.1 1038.8,3164.4 1041.4,3163.8 1044,3163.2 1046.6,3162.6 1049.2,3162 1051.8,3161.5 1054.4,3161 1057,3160.5 1059.6,3159.9 1062.2,3159.5 1064.8,3159 1067.4,3158.5 1070,3158.1 1072.6,3157.6 1075.2,3157.2 1077.8,3156.8 1080.4,3156.4 1083,3156 1085.6,3155.6 1088.2,3155.3 1090.8,3154.9 1093.4,3154.6 1096,3154.3 1098.6,3153.9 1101.2,3153.6 1103.8,3153.3 1106.4,3152.9 1109,3152.6 1111.6,3152.3 1114.2,3152 1116.8,3151.7 1119.4,3151.3 1122,3151 1124.6,3150.7 1127.2,3150.4 1129.8,3150.2 1132.4,3149.9 1135,3149.6 1137.6,3149.3 1140.2,3149.1 1142.8,3148.8 1145.4,3148.6 1148,3148.3 1150.6,3148.1 1153.2,3147.9 1155.8,3147.6 1158.4,3147.4 1161,3147.2 1163.6,3147 1166.2,3146.8 1168.8,3146.7 1171.4,3146.5 1174,3146.3 1176.6,3146.2 1179.2,3146 1179.2,3163.1 1176.6,3163.3 1174,3163.6 1171.4,3163.9 1168.8,3164.2 1166.2,3164.5 1163.6,3164.9 1161,3165.2 1158.4,3165.6 1155.8,3166 1153.2,3166.5 1150.6,3166.9 1148,3167.4 1145.4,3167.9 1142.8,3168.4 1140.2,3168.9 1137.6,3169.4 1135,3170 1132.4,3170.5 1129.8,3171.1 1127.2,3171.6 1124.6,3172.3 1122,3172.9 1119.4,3173.6 1116.8,3174.3 1114.2,3175.1 1111.6,3175.8 1109,3176.6 1106.4,3177.5 1103.8,3178.3 1101.2,3179.2 1098.6,3180.1 1096,3181 1093.4,3181.9 1090.8,3182.9 1088.2,3183.9 1085.6,3184.8 1083,3185.8 1080.4,3186.9 1077.8,3187.9 1075.2,3188.9 1072.6,3189.9 1070,3191 1067.4,3192 1064.8,3193.2 1062.2,3194.6 1059.6,3196.1 1057,3197.8 1054.4,3199.4 1051.8,3201.2 1049.2,3202.9 1046.6,3204.6 1044,3206.2 1041.4,3207.7 1038.8,3209.1 1036.2,3210.3 1033.6,3211.3 1031,3212 1028.4,3212.5 1025.8,3212.6 1023.2,3212.2 1020.6,3211.2 1018,3209.8 1015.4,3208 1012.8,3206.6 1010.2,3209.1 1007.6,3211.9 1005,3214.7 1002.4,3217.5 999.8,3220.3 997.2,3222.8 994.6,3225.1 992,3227 989.4,3228.8 986.8,3230.4 984.2,3231.9 981.6,3233.3 979,3234.7 976.4,3236.2 973.8,3237.8 971.2,3239.5 968.6,3241.4 966,3243.5 963.4,3245.9 960.8,3248.9 958.2,3252.6 955.6,3256.8 953,3261.4 950.4,3266.3 947.8,3271.4 945.2,3276.4 942.6,3281.3 940,3286 937.4,3290.7 934.8,3295.4 932.2,3300.2 929.6,3305.3 927,3310.7 924.4,3316.6 921.8,3323 919.2,3330.6 916.6,3339.4 914,3348.9 911.4,3358.2 908.8,3367 906.2,3376 903.6,3384.9 901,3393.5 898.4,3401.4 895.8,3408.3 893.2,3414.8 890.6,3420.8 888,3426.1" fill="#8e8e8e"/>
<path d="M902.7 3347.2V3382.9M919.8 3293.1V3328.6M935.1 3245.5V3293.4M965.1 3197.4V3241.5M982.9 3184.7V3231.3M999.7 3177.6V3218.3M1024.5 3170.7V3210.2M1044.7 3165.2V3204.2M1073 3159.6V3187.9M1091.5 3156.9V3180.9M1120.9 3153V3170.9M1140.7 3151.1V3166.9M1164.7 3149V3162.9" stroke="#fff" stroke-opacity="0.85" stroke-width="2.1" fill="none"/>
<path d="M879.5 3388h17M879.5 3426.1h17M882.1 3381.6h17M882.1 3420.8h17M884.7 3374.9h17M884.7 3414.8h17M887.3 3367.8h17M887.3 3408.3h17M889.9 3360.5h17M889.9 3401.4h17M892.5 3353h17M892.5 3393.5h17M895.1 3345.2h17M895.1 3384.9h17M897.7 3337.2h17M897.7 3376h17M900.3 3329h17M900.3 3367h17M902.9 3320.7h17M902.9 3358.2h17M905.5 3311.5h17M905.5 3348.9h17M908.1 3301.5h17M908.1 3339.4h17M910.7 3291.1h17M910.7 3330.6h17M913.3 3281.1h17M913.3 3323h17M915.9 3271.9h17M915.9 3316.6h17M918.5 3264.1h17M918.5 3310.7h17M921.1 3256.9h17M921.1 3305.3h17M923.7 3250h17M923.7 3300.2h17M926.3 3243.5h17M926.3 3295.4h17M928.9 3237.3h17M928.9 3290.7h17M931.5 3231.6h17M931.5 3286h17M934.1 3226.3h17M934.1 3281.3h17M936.7 3221.6h17M936.7 3276.4h17M939.3 3217.3h17M939.3 3271.4h17M941.9 3213.5h17M941.9 3266.3h17M944.5 3209.9h17M944.5 3261.4h17M947.1 3206.7h17M947.1 3256.8h17M949.7 3203.7h17M949.7 3252.6h17M952.3 3200.8h17M952.3 3248.9h17M954.9 3198.1h17M954.9 3245.9h17M957.5 3195.4h17M957.5 3243.5h17M960.1 3192.8h17M960.1 3241.4h17M962.7 3190.3h17M962.7 3239.5h17M965.3 3187.9h17M965.3 3237.8h17M967.9 3185.8h17M967.9 3236.2h17M970.5 3184.1h17M970.5 3234.7h17M973.1 3182.7h17M973.1 3233.3h17M975.7 3181.4h17M975.7 3231.9h17M978.3 3180.3h17M978.3 3230.4h17M980.9 3179.2h17M980.9 3228.8h17M983.5 3178.2h17M983.5 3227h17M986.1 3177.3h17M986.1 3225.1h17M988.7 3176.4h17M988.7 3222.8h17M991.3 3175.6h17M991.3 3220.3h17M993.9 3174.8h17M993.9 3217.5h17M996.5 3174h17M996.5 3214.7h17M999.1 3173.3h17M999.1 3211.9h17M1001.7 3172.5h17M1001.7 3209.1h17M1004.3 3171.8h17M1004.3 3206.6h17M1006.9 3171h17M1006.9 3208h17M1009.5 3170.2h17M1009.5 3209.8h17M1012.1 3169.4h17M1012.1 3211.2h17M1014.7 3168.7h17M1014.7 3212.2h17M1017.3 3167.9h17M1017.3 3212.6h17M1019.9 3167.2h17M1019.9 3212.5h17M1022.5 3166.4h17M1022.5 3212h17M1025.1 3165.7h17M1025.1 3211.3h17M1027.7 3165.1h17M1027.7 3210.3h17M1030.3 3164.4h17M1030.3 3209.1h17M1032.9 3163.8h17M1032.9 3207.7h17M1035.5 3163.2h17M1035.5 3206.2h17M1038.1 3162.6h17M1038.1 3204.6h17M1040.7 3162h17M1040.7 3202.9h17M1043.3 3161.5h17M1043.3 3201.2h17M1045.9 3161h17M1045.9 3199.4h17M1048.5 3160.5h17M1048.5 3197.8h17M1051.1 3159.9h17M1051.1 3196.1h17M1053.7 3159.5h17M1053.7 3194.6h17M1056.3 3159h17M1056.3 3193.2h17M1058.9 3158.5h17M1058.9 3192h17M1061.5 3158.1h17M1061.5 3191h17M1064.1 3157.6h17M1064.1 3189.9h17M1066.7 3157.2h17M1066.7 3188.9h17M1069.3 3156.8h17M1069.3 3187.9h17M1071.9 3156.4h17M1071.9 3186.9h17M1074.5 3156h17M1074.5 3185.8h17M1077.1 3155.6h17M1077.1 3184.8h17M1079.7 3155.3h17M1079.7 3183.9h17M1082.3 3154.9h17M1082.3 3182.9h17M1084.9 3154.6h17M1084.9 3181.9h17M1087.5 3154.3h17M1087.5 3181h17M1090.1 3153.9h17M1090.1 3180.1h17M1092.7 3153.6h17M1092.7 3179.2h17M1095.3 3153.3h17M1095.3 3178.3h17M1097.9 3152.9h17M1097.9 3177.5h17M1100.5 3152.6h17M1100.5 3176.6h17M1103.1 3152.3h17M1103.1 3175.8h17M1105.7 3152h17M1105.7 3175.1h17M1108.3 3151.7h17M1108.3 3174.3h17M1110.9 3151.3h17M1110.9 3173.6h17M1113.5 3151h17M1113.5 3172.9h17M1116.1 3150.7h17M1116.1 3172.3h17M1118.7 3150.4h17M1118.7 3171.6h17M1121.3 3150.2h17M1121.3 3171.1h17M1123.9 3149.9h17M1123.9 3170.5h17M1126.5 3149.6h17M1126.5 3170h17M1129.1 3149.3h17M1129.1 3169.4h17M1131.7 3149.1h17M1131.7 3168.9h17M1134.3 3148.8h17M1134.3 3168.4h17M1136.9 3148.6h17M1136.9 3167.9h17M1139.5 3148.3h17M1139.5 3167.4h17M1142.1 3148.1h17M1142.1 3166.9h17M1144.7 3147.9h17M1144.7 3166.5h17M1147.3 3147.6h17M1147.3 3166h17M1149.9 3147.4h17M1149.9 3165.6h17M1152.5 3147.2h17M1152.5 3165.2h17M1155.1 3147h17M1155.1 3164.9h17M1157.7 3146.8h17M1157.7 3164.5h17M1160.3 3146.7h17M1160.3 3164.2h17M1162.9 3146.5h17M1162.9 3163.9h17M1165.5 3146.3h17M1165.5 3163.6h17M1168.1 3146.2h17M1168.1 3163.3h17M1170.7 3146h17M1170.7 3163.1h17" stroke="#000" stroke-width="2.6" fill="none"/>
<path d="M1017.8 3175V3267" stroke="#444" stroke-width="2" fill="none"/>
<path d="M1009.3 3175h17M1009.3 3267h17" stroke="#000" stroke-width="2.6" fill="none"/>
<polygon points="935,3279 937.6,3279 940.2,3279 942.8,3279 945.4,3279 948,3279 950.6,3279 953.2,3279 955.8,3279 958.4,3279 961,3279 963.6,3279 966.2,3279 968.8,3279 971.4,3279 974,3279 976.6,3279 979.2,3279 981.8,3279 984.4,3279 987,3279 989.6,3279 992.2,3279 994.8,3279 997.4,3279 997.4,3307.9 994.8,3311.7 992.2,3316.7 989.6,3321.8 987,3325.7 984.4,3327.3 981.8,3326.9 979.2,3325.8 976.6,3324.5 974,3323 971.4,3321.8 968.8,3321.1 966.2,3321.1 963.6,3321.4 961,3322.1 958.4,3323 955.8,3324.2 953.2,3325.5 950.6,3327 948,3328.6 945.4,3330.4 942.8,3333.1 940.2,3336.5 937.6,3340.6 935,3345.2" fill="#8e8e8e"/>
<path d="M944.6 3281V3328.4M964.1 3281V3319.4M983 3281V3324.9M993.9 3281V3309.7" stroke="#fff" stroke-opacity="0.85" stroke-width="1.8" fill="none"/>
<path d="M926.5 3279h17M926.5 3345.2h17M929.1 3279h17M929.1 3340.6h17M931.7 3279h17M931.7 3336.5h17M934.3 3279h17M934.3 3333.1h17M936.9 3279h17M936.9 3330.4h17M939.5 3279h17M939.5 3328.6h17M942.1 3279h17M942.1 3327h17M944.7 3279h17M944.7 3325.5h17M947.3 3279h17M947.3 3324.2h17M949.9 3279h17M949.9 3323h17M952.5 3279h17M952.5 3322.1h17M955.1 3279h17M955.1 3321.4h17M957.7 3279h17M957.7 3321.1h17M960.3 3279h17M960.3 3321.1h17M962.9 3279h17M962.9 3321.8h17M965.5 3279h17M965.5 3323h17M968.1 3279h17M968.1 3324.5h17M970.7 3279h17M970.7 3325.8h17M973.3 3279h17M973.3 3326.9h17M975.9 3279h17M975.9 3327.3h17M978.5 3279h17M978.5 3325.7h17M981.1 3279h17M981.1 3321.8h17M983.7 3279h17M983.7 3316.7h17M986.3 3279h17M986.3 3311.7h17M988.9 3279h17M988.9 3307.9h17" stroke="#000" stroke-width="2.6" fill="none"/>
<polygon points="1180,3147.2 1182.8,3147 1185.6,3146.8 1188.4,3146.7 1191.2,3146.5 1194,3146.3 1196.8,3146.1 1199.6,3145.9 1202.4,3145.7 1205.2,3145.6 1208,3145.4 1210.8,3145.2 1213.6,3145.1 1216.4,3145 1219.2,3144.8 1222,3144.7 1224.8,3144.6 1227.6,3144.5 1230.4,3144.4 1233.2,3144.2 1236,3144.1 1238.8,3144 1241.6,3143.9 1244.4,3143.8 1247.2,3143.7 1250,3143.6 1252.8,3143.4 1255.6,3143.3 1258.4,3143.2 1261.2,3143.1 1264,3143 1266.8,3142.9 1269.6,3142.8 1272.4,3142.7 1275.2,3142.6 1278,3142.5 1280.8,3142.4 1283.6,3142.3 1286.4,3142.2 1289.2,3142.1 1292,3142 1294.8,3141.9 1297.6,3141.8 1300.4,3141.7 1303.2,3141.6 1306,3141.5 1308.8,3141.4 1311.6,3141.3 1314.4,3141.2 1317.2,3141.1 1320,3141 1322.8,3140.9 1325.6,3140.8 1328.4,3140.7 1331.2,3140.7 1334,3140.6 1336.8,3140.5 1339.6,3140.4 1342.4,3140.3 1345.2,3140.3 1348,3140.2 1350.8,3140.1 1353.6,3140 1356.4,3139.9 1359.2,3139.9 1362,3139.8 1364.8,3139.7 1367.6,3139.7 1370.4,3139.6 1373.2,3139.5 1376,3139.4 1378.8,3139.4 1381.6,3139.3 1384.4,3139.2 1387.2,3139.2 1390,3139.1 1392.8,3139 1395.6,3139 1398.4,3138.9 1401.2,3138.8 1404,3138.8 1406.8,3138.7 1409.6,3138.7 1412.4,3138.6 1415.2,3138.5 1418,3138.5 1420.8,3138.4 1423.6,3138.4 1426.4,3138.3 1429.2,3138.3 1432,3138.2 1434.8,3138.2 1437.6,3138.1 1440.4,3138.1 1443.2,3138 1446,3138 1448.8,3137.9 1451.6,3137.9 1454.4,3137.9 1457.2,3137.8 1460,3137.8 1462.8,3137.7 1465.6,3137.7 1468.4,3137.7 1471.2,3137.6 1474,3137.6 1476.8,3137.6 1479.6,3137.5 1482.4,3137.5 1485.2,3137.5 1488,3137.5 1490.8,3137.4 1493.6,3137.4 1496.4,3137.4 1499.2,3137.4 1502,3137.3 1504.8,3137.3 1507.6,3137.3 1510.4,3137.2 1513.2,3137.2 1516,3137.2 1518.8,3137.2 1521.6,3137.2 1524.4,3137.1 1527.2,3137.1 1530,3137.1 1532.8,3137.1 1535.6,3137 1538.4,3137 1541.2,3137 1544,3137 1546.8,3137 1549.6,3136.9 1552.4,3136.9 1555.2,3136.9 1558,3136.9 1560.8,3136.9 1563.6,3136.8 1566.4,3136.8 1569.2,3136.8 1572,3136.8 1574.8,3136.7 1577.6,3136.7 1580.4,3136.7 1583.2,3136.7 1586,3136.7 1588.8,3136.6 1591.6,3136.6 1594.4,3136.6 1597.2,3136.6 1600,3136.5 1602.8,3136.5 1605.6,3136.5 1608.4,3136.5 1611.2,3136.5 1614,3136.4 1616.8,3136.4 1619.6,3136.4 1622.4,3136.4 1625.2,3136.3 1628,3136.3 1630.8,3136.3 1633.6,3136.2 1636.4,3136.2 1639.2,3136.2 1642,3136.2 1644.8,3136.1 1647.6,3136.1 1650.4,3136.1 1653.2,3136 1656,3136 1658.8,3136 1661.6,3135.9 1664.4,3135.9 1667.2,3135.9 1670,3135.8 1672.8,3135.8 1675.6,3135.8 1678.4,3135.7 1681.2,3135.7 1684,3135.7 1686.8,3135.6 1689.6,3135.6 1692.4,3135.5 1695.2,3135.5 1698,3135.5 1700.8,3135.4 1703.6,3135.4 1706.4,3135.3 1709.2,3135.3 1712,3135.3 1714.8,3135.2 1717.6,3135.2 1720.4,3135.1 1723.2,3135.1 1726,3135.1 1728.8,3135 1731.6,3135 1734.4,3134.9 1737.2,3134.9 1740,3134.9 1742.8,3134.8 1745.6,3134.8 1748.4,3134.8 1751.2,3134.7 1754,3134.7 1756.8,3134.7 1759.6,3134.6 1762.4,3134.6 1765.2,3134.6 1768,3134.5 1770.8,3134.5 1773.6,3134.5 1776.4,3134.4 1779.2,3134.4 1782,3134.4 1784.8,3134.4 1787.6,3134.3 1790.4,3134.3 1793.2,3134.3 1796,3134.3 1798.8,3134.2 1801.6,3134.2 1804.4,3134.2 1807.2,3134.2 1810,3134.2 1812.8,3134.2 1815.6,3134.2 1818.4,3134.1 1821.2,3134.1 1824,3134.1 1826.8,3134.1 1829.6,3134.1 1832.4,3134.1 1835.2,3134.1 1838,3134 1840.8,3134 1843.6,3134 1846.4,3134 1849.2,3134 1852,3134 1854.8,3134 1857.6,3134 1860.4,3133.9 1863.2,3133.9 1866,3133.9 1868.8,3133.9 1871.6,3133.9 1874.4,3133.9 1877.2,3133.9 1880,3133.9 1882.8,3133.8 1885.6,3133.8 1888.4,3133.8 1891.2,3133.8 1894,3133.8 1896.8,3133.8 1899.6,3133.8 1902.4,3133.8 1905.2,3133.8 1908,3133.7 1910.8,3133.7 1913.6,3133.7 1916.4,3133.7 1919.2,3133.7 1922,3133.7 1924.8,3133.7 1927.6,3133.7 1930.4,3133.7 1933.2,3133.7 1936,3133.7 1938.8,3133.7 1941.6,3133.6 1944.4,3133.6 1947.2,3133.6 1950,3133.6 1952.8,3133.6 1955.6,3133.6 1958.4,3133.6 1961.2,3133.6 1964,3133.6 1966.8,3133.6 1969.6,3133.6 1972.4,3133.6 1975.2,3133.6 1978,3133.6 1980.8,3133.6 1983.6,3133.6 1986.4,3133.6 1989.2,3133.6 1992,3133.6 1994.8,3133.6 1997.6,3133.6 2000.4,3133.6 2003.2,3133.6 2006,3133.6 2008.8,3133.6 2011.6,3133.6 2014.4,3133.6 2017.2,3133.6 2020,3133.6 2022.8,3133.6 2025.6,3133.6 2028.4,3133.6 2031.2,3133.6 2034,3133.6 2036.8,3133.6 2039.6,3133.7 2042.4,3133.7 2045.2,3133.7 2048,3133.7 2050.8,3133.8 2053.6,3133.8 2056.4,3133.8 2059.2,3133.9 2062,3133.9 2064.8,3134 2067.6,3134 2070.4,3134.1 2073.2,3134.1 2076,3134.2 2078.8,3134.2 2081.6,3134.3 2084.4,3134.3 2087.2,3134.4 2090,3134.4 2092.8,3134.5 2095.6,3134.6 2098.4,3134.6 2101.2,3134.7 2104,3134.8 2106.8,3134.8 2109.6,3134.9 2112.4,3135 2115.2,3135 2118,3135.1 2120.8,3135.2 2123.6,3135.3 2126.4,3135.3 2129.2,3135.4 2132,3135.5 2134.8,3135.6 2137.6,3135.6 2140.4,3135.7 2143.2,3135.8 2146,3135.9 2148.8,3136 2151.6,3136 2154.4,3136.1 2157.2,3136.2 2160,3136.3 2162.8,3136.4 2165.6,3136.4 2165.6,3143.4 2162.8,3143.4 2160,3143.3 2157.2,3143.2 2154.4,3143.1 2151.6,3143 2148.8,3143 2146,3142.9 2143.2,3142.8 2140.4,3142.7 2137.6,3142.6 2134.8,3142.6 2132,3142.5 2129.2,3142.4 2126.4,3142.3 2123.6,3142.3 2120.8,3142.2 2118,3142.1 2115.2,3142 2112.4,3142 2109.6,3141.9 2106.8,3141.8 2104,3141.8 2101.2,3141.7 2098.4,3141.6 2095.6,3141.6 2092.8,3141.5 2090,3141.5 2087.2,3141.4 2084.4,3141.3 2081.6,3141.3 2078.8,3141.2 2076,3141.2 2073.2,3141.1 2070.4,3141.1 2067.6,3141 2064.8,3141 2062,3141 2059.2,3140.9 2056.4,3140.9 2053.6,3140.9 2050.8,3140.8 2048,3140.8 2045.2,3140.8 2042.4,3140.7 2039.6,3140.7 2036.8,3140.7 2034,3140.7 2031.2,3140.7 2028.4,3140.7 2025.6,3140.6 2022.8,3140.6 2020,3140.6 2017.2,3140.6 2014.4,3140.6 2011.6,3140.6 2008.8,3140.6 2006,3140.6 2003.2,3140.7 2000.4,3140.7 1997.6,3140.7 1994.8,3140.7 1992,3140.7 1989.2,3140.7 1986.4,3140.7 1983.6,3140.7 1980.8,3140.7 1978,3140.7 1975.2,3140.7 1972.4,3140.7 1969.6,3140.7 1966.8,3140.7 1964,3140.7 1961.2,3140.7 1958.4,3140.8 1955.6,3140.8 1952.8,3140.8 1950,3140.8 1947.2,3140.8 1944.4,3140.8 1941.6,3140.8 1938.8,3140.8 1936,3140.8 1933.2,3140.9 1930.4,3140.9 1927.6,3140.9 1924.8,3140.9 1922,3140.9 1919.2,3140.9 1916.4,3140.9 1913.6,3140.9 1910.8,3141 1908,3141 1905.2,3141 1902.4,3141 1899.6,3141 1896.8,3141 1894,3141.1 1891.2,3141.1 1888.4,3141.1 1885.6,3141.1 1882.8,3141.1 1880,3141.1 1877.2,3141.2 1874.4,3141.2 1871.6,3141.2 1868.8,3141.2 1866,3141.2 1863.2,3141.2 1860.4,3141.3 1857.6,3141.3 1854.8,3141.3 1852,3141.3 1849.2,3141.3 1846.4,3141.3 1843.6,3141.4 1840.8,3141.4 1838,3141.4 1835.2,3141.4 1832.4,3141.4 1829.6,3141.5 1826.8,3141.5 1824,3141.5 1821.2,3141.5 1818.4,3141.5 1815.6,3141.6 1812.8,3141.6 1810,3141.6 1807.2,3141.6 1804.4,3141.6 1801.6,3141.7 1798.8,3141.7 1796,3141.7 1793.2,3141.7 1790.4,3141.8 1787.6,3141.8 1784.8,3141.8 1782,3141.9 1779.2,3141.9 1776.4,3141.9 1773.6,3142 1770.8,3142 1768,3142 1765.2,3142.1 1762.4,3142.1 1759.6,3142.2 1756.8,3142.2 1754,3142.2 1751.2,3142.3 1748.4,3142.3 1745.6,3142.4 1742.8,3142.4 1740,3142.5 1737.2,3142.5 1734.4,3142.6 1731.6,3142.6 1728.8,3142.6 1726,3142.7 1723.2,3142.7 1720.4,3142.8 1717.6,3142.8 1714.8,3142.9 1712,3142.9 1709.2,3143 1706.4,3143 1703.6,3143.1 1700.8,3143.1 1698,3143.2 1695.2,3143.2 1692.4,3143.3 1689.6,3143.3 1686.8,3143.4 1684,3143.4 1681.2,3143.4 1678.4,3143.5 1675.6,3143.5 1672.8,3143.6 1670,3143.6 1667.2,3143.7 1664.4,3143.7 1661.6,3143.8 1658.8,3143.8 1656,3143.8 1653.2,3143.9 1650.4,3143.9 1647.6,3144 1644.8,3144 1642,3144 1639.2,3144.1 1636.4,3144.1 1633.6,3144.1 1630.8,3144.2 1628,3144.2 1625.2,3144.2 1622.4,3144.3 1619.6,3144.3 1616.8,3144.3 1614,3144.4 1611.2,3144.4 1608.4,3144.4 1605.6,3144.5 1602.8,3144.5 1600,3144.5 1597.2,3144.6 1594.4,3144.6 1591.6,3144.6 1588.8,3144.7 1586,3144.7 1583.2,3144.7 1580.4,3144.8 1577.6,3144.8 1574.8,3144.8 1572,3144.9 1569.2,3144.9 1566.4,3144.9 1563.6,3145 1560.8,3145 1558,3145 1555.2,3145.1 1552.4,3145.1 1549.6,3145.2 1546.8,3145.2 1544,3145.2 1541.2,3145.3 1538.4,3145.3 1535.6,3145.3 1532.8,3145.4 1530,3145.4 1527.2,3145.5 1524.4,3145.5 1521.6,3145.5 1518.8,3145.6 1516,3145.6 1513.2,3145.7 1510.4,3145.7 1507.6,3145.7 1504.8,3145.8 1502,3145.8 1499.2,3145.9 1496.4,3145.9 1493.6,3146 1490.8,3146 1488,3146.1 1485.2,3146.1 1482.4,3146.2 1479.6,3146.2 1476.8,3146.3 1474,3146.4 1471.2,3146.4 1468.4,3146.5 1465.6,3146.5 1462.8,3146.6 1460,3146.6 1457.2,3146.7 1454.4,3146.8 1451.6,3146.8 1448.8,3146.9 1446,3147 1443.2,3147.1 1440.4,3147.1 1437.6,3147.2 1434.8,3147.3 1432,3147.4 1429.2,3147.5 1426.4,3147.5 1423.6,3147.6 1420.8,3147.7 1418,3147.8 1415.2,3147.9 1412.4,3148 1409.6,3148.1 1406.8,3148.2 1404,3148.2 1401.2,3148.3 1398.4,3148.4 1395.6,3148.5 1392.8,3148.6 1390,3148.7 1387.2,3148.8 1384.4,3148.9 1381.6,3149.1 1378.8,3149.2 1376,3149.3 1373.2,3149.4 1370.4,3149.5 1367.6,3149.6 1364.8,3149.7 1362,3149.8 1359.2,3149.9 1356.4,3150 1353.6,3150.2 1350.8,3150.3 1348,3150.4 1345.2,3150.5 1342.4,3150.6 1339.6,3150.8 1336.8,3150.9 1334,3151 1331.2,3151.1 1328.4,3151.3 1325.6,3151.4 1322.8,3151.5 1320,3151.7 1317.2,3151.8 1314.4,3151.9 1311.6,3152.1 1308.8,3152.2 1306,3152.4 1303.2,3152.5 1300.4,3152.7 1297.6,3152.8 1294.8,3153 1292,3153.1 1289.2,3153.3 1286.4,3153.5 1283.6,3153.7 1280.8,3153.8 1278,3154 1275.2,3154.2 1272.4,3154.4 1269.6,3154.6 1266.8,3154.8 1264,3155 1261.2,3155.2 1258.4,3155.5 1255.6,3155.7 1252.8,3155.9 1250,3156.1 1247.2,3156.4 1244.4,3156.6 1241.6,3156.8 1238.8,3157.1 1236,3157.3 1233.2,3157.6 1230.4,3157.8 1227.6,3158.1 1224.8,3158.3 1222,3158.6 1219.2,3158.8 1216.4,3159.1 1213.6,3159.4 1210.8,3159.7 1208,3160 1205.2,3160.3 1202.4,3160.6 1199.6,3160.9 1196.8,3161.2 1194,3161.6 1191.2,3161.9 1188.4,3162.2 1185.6,3162.6 1182.8,3162.9 1180,3163.2" fill="#444"/>
<path d="M1172 3147.2h16M1172 3163.2h16M1174.8 3147h16M1174.8 3162.9h16M1177.6 3146.8h16M1177.6 3162.6h16M1180.4 3146.7h16M1180.4 3162.2h16M1183.2 3146.5h16M1183.2 3161.9h16M1186 3146.3h16M1186 3161.6h16M1188.8 3146.1h16M1188.8 3161.2h16M1191.6 3145.9h16M1191.6 3160.9h16M1194.4 3145.7h16M1194.4 3160.6h16M1197.2 3145.6h16M1197.2 3160.3h16M1200 3145.4h16M1200 3160h16M1202.8 3145.2h16M1202.8 3159.7h16M1205.6 3145.1h16M1205.6 3159.4h16M1208.4 3145h16M1208.4 3159.1h16M1211.2 3144.8h16M1211.2 3158.8h16M1214 3144.7h16M1214 3158.6h16M1216.8 3144.6h16M1216.8 3158.3h16M1219.6 3144.5h16M1219.6 3158.1h16M1222.4 3144.4h16M1222.4 3157.8h16M1225.2 3144.2h16M1225.2 3157.6h16M1228 3144.1h16M1228 3157.3h16M1230.8 3144h16M1230.8 3157.1h16M1233.6 3143.9h16M1233.6 3156.8h16M1236.4 3143.8h16M1236.4 3156.6h16M1239.2 3143.7h16M1239.2 3156.4h16M1242 3143.6h16M1242 3156.1h16M1244.8 3143.4h16M1244.8 3155.9h16M1247.6 3143.3h16M1247.6 3155.7h16M1250.4 3143.2h16M1250.4 3155.5h16M1253.2 3143.1h16M1253.2 3155.2h16M1256 3143h16M1256 3155h16M1258.8 3142.9h16M1258.8 3154.8h16M1261.6 3142.8h16M1261.6 3154.6h16M1264.4 3142.7h16M1264.4 3154.4h16M1267.2 3142.6h16M1267.2 3154.2h16M1270 3142.5h16M1270 3154h16M1272.8 3142.4h16M1272.8 3153.8h16M1275.6 3142.3h16M1275.6 3153.7h16M1278.4 3142.2h16M1278.4 3153.5h16M1281.2 3142.1h16M1281.2 3153.3h16M1284 3142h16M1284 3153.1h16M1286.8 3141.9h16M1286.8 3153h16M1289.6 3141.8h16M1289.6 3152.8h16M1292.4 3141.7h16M1292.4 3152.7h16M1295.2 3141.6h16M1295.2 3152.5h16M1298 3141.5h16M1298 3152.4h16M1300.8 3141.4h16M1300.8 3152.2h16M1303.6 3141.3h16M1303.6 3152.1h16M1306.4 3141.2h16M1306.4 3151.9h16M1309.2 3141.1h16M1309.2 3151.8h16M1312 3141h16M1312 3151.7h16M1314.8 3140.9h16M1314.8 3151.5h16M1317.6 3140.8h16M1317.6 3151.4h16M1320.4 3140.7h16M1320.4 3151.3h16M1323.2 3140.7h16M1323.2 3151.1h16M1326 3140.6h16M1326 3151h16M1328.8 3140.5h16M1328.8 3150.9h16M1331.6 3140.4h16M1331.6 3150.8h16M1334.4 3140.3h16M1334.4 3150.6h16M1337.2 3140.3h16M1337.2 3150.5h16M1340 3140.2h16M1340 3150.4h16M1342.8 3140.1h16M1342.8 3150.3h16M1345.6 3140h16M1345.6 3150.2h16M1348.4 3139.9h16M1348.4 3150h16M1351.2 3139.9h16M1351.2 3149.9h16M1354 3139.8h16M1354 3149.8h16M1356.8 3139.7h16M1356.8 3149.7h16M1359.6 3139.7h16M1359.6 3149.6h16M1362.4 3139.6h16M1362.4 3149.5h16M1365.2 3139.5h16M1365.2 3149.4h16M1368 3139.4h16M1368 3149.3h16M1370.8 3139.4h16M1370.8 3149.2h16M1373.6 3139.3h16M1373.6 3149.1h16M1376.4 3139.2h16M1376.4 3148.9h16M1379.2 3139.2h16M1379.2 3148.8h16M1382 3139.1h16M1382 3148.7h16M1384.8 3139h16M1384.8 3148.6h16M1387.6 3139h16M1387.6 3148.5h16M1390.4 3138.9h16M1390.4 3148.4h16M1393.2 3138.8h16M1393.2 3148.3h16M1396 3138.8h16M1396 3148.2h16M1398.8 3138.7h16M1398.8 3148.2h16M1401.6 3138.7h16M1401.6 3148.1h16M1404.4 3138.6h16M1404.4 3148h16M1407.2 3138.5h16M1407.2 3147.9h16M1410 3138.5h16M1410 3147.8h16M1412.8 3138.4h16M1412.8 3147.7h16M1415.6 3138.4h16M1415.6 3147.6h16M1418.4 3138.3h16M1418.4 3147.5h16M1421.2 3138.3h16M1421.2 3147.5h16M1424 3138.2h16M1424 3147.4h16M1426.8 3138.2h16M1426.8 3147.3h16M1429.6 3138.1h16M1429.6 3147.2h16M1432.4 3138.1h16M1432.4 3147.1h16M1435.2 3138h16M1435.2 3147.1h16M1438 3138h16M1438 3147h16M1440.8 3137.9h16M1440.8 3146.9h16M1443.6 3137.9h16M1443.6 3146.8h16M1446.4 3137.9h16M1446.4 3146.8h16M1449.2 3137.8h16M1449.2 3146.7h16M1452 3137.8h16M1452 3146.6h16M1454.8 3137.7h16M1454.8 3146.6h16M1457.6 3137.7h16M1457.6 3146.5h16M1460.4 3137.7h16M1460.4 3146.5h16M1463.2 3137.6h16M1463.2 3146.4h16M1466 3137.6h16M1466 3146.4h16M1468.8 3137.6h16M1468.8 3146.3h16M1471.6 3137.5h16M1471.6 3146.2h16M1474.4 3137.5h16M1474.4 3146.2h16M1477.2 3137.5h16M1477.2 3146.1h16M1480 3137.5h16M1480 3146.1h16M1482.8 3137.4h16M1482.8 3146h16M1485.6 3137.4h16M1485.6 3146h16M1488.4 3137.4h16M1488.4 3145.9h16M1491.2 3137.4h16M1491.2 3145.9h16M1494 3137.3h16M1494 3145.8h16M1496.8 3137.3h16M1496.8 3145.8h16M1499.6 3137.3h16M1499.6 3145.7h16M1502.4 3137.2h16M1502.4 3145.7h16M1505.2 3137.2h16M1505.2 3145.7h16M1508 3137.2h16M1508 3145.6h16M1510.8 3137.2h16M1510.8 3145.6h16M1513.6 3137.2h16M1513.6 3145.5h16M1516.4 3137.1h16M1516.4 3145.5h16M1519.2 3137.1h16M1519.2 3145.5h16M1522 3137.1h16M1522 3145.4h16M1524.8 3137.1h16M1524.8 3145.4h16M1527.6 3137h16M1527.6 3145.3h16M1530.4 3137h16M1530.4 3145.3h16M1533.2 3137h16M1533.2 3145.3h16M1536 3137h16M1536 3145.2h16M1538.8 3137h16M1538.8 3145.2h16M1541.6 3136.9h16M1541.6 3145.2h16M1544.4 3136.9h16M1544.4 3145.1h16M1547.2 3136.9h16M1547.2 3145.1h16M1550 3136.9h16M1550 3145h16M1552.8 3136.9h16M1552.8 3145h16M1555.6 3136.8h16M1555.6 3145h16M1558.4 3136.8h16M1558.4 3144.9h16M1561.2 3136.8h16M1561.2 3144.9h16M1564 3136.8h16M1564 3144.9h16M1566.8 3136.7h16M1566.8 3144.8h16M1569.6 3136.7h16M1569.6 3144.8h16M1572.4 3136.7h16M1572.4 3144.8h16M1575.2 3136.7h16M1575.2 3144.7h16M1578 3136.7h16M1578 3144.7h16M1580.8 3136.6h16M1580.8 3144.7h16M1583.6 3136.6h16M1583.6 3144.6h16M1586.4 3136.6h16M1586.4 3144.6h16M1589.2 3136.6h16M1589.2 3144.6h16M1592 3136.5h16M1592 3144.5h16M1594.8 3136.5h16M1594.8 3144.5h16M1597.6 3136.5h16M1597.6 3144.5h16M1600.4 3136.5h16M1600.4 3144.4h16M1603.2 3136.5h16M1603.2 3144.4h16M1606 3136.4h16M1606 3144.4h16M1608.8 3136.4h16M1608.8 3144.3h16M1611.6 3136.4h16M1611.6 3144.3h16M1614.4 3136.4h16M1614.4 3144.3h16M1617.2 3136.3h16M1617.2 3144.2h16M1620 3136.3h16M1620 3144.2h16M1622.8 3136.3h16M1622.8 3144.2h16M1625.6 3136.2h16M1625.6 3144.1h16M1628.4 3136.2h16M1628.4 3144.1h16M1631.2 3136.2h16M1631.2 3144.1h16M1634 3136.2h16M1634 3144h16M1636.8 3136.1h16M1636.8 3144h16M1639.6 3136.1h16M1639.6 3144h16M1642.4 3136.1h16M1642.4 3143.9h16M1645.2 3136h16M1645.2 3143.9h16M1648 3136h16M1648 3143.8h16M1650.8 3136h16M1650.8 3143.8h16M1653.6 3135.9h16M1653.6 3143.8h16M1656.4 3135.9h16M1656.4 3143.7h16M1659.2 3135.9h16M1659.2 3143.7h16M1662 3135.8h16M1662 3143.6h16M1664.8 3135.8h16M1664.8 3143.6h16M1667.6 3135.8h16M1667.6 3143.5h16M1670.4 3135.7h16M1670.4 3143.5h16M1673.2 3135.7h16M1673.2 3143.4h16M1676 3135.7h16M1676 3143.4h16M1678.8 3135.6h16M1678.8 3143.4h16M1681.6 3135.6h16M1681.6 3143.3h16M1684.4 3135.5h16M1684.4 3143.3h16M1687.2 3135.5h16M1687.2 3143.2h16M1690 3135.5h16M1690 3143.2h16M1692.8 3135.4h16M1692.8 3143.1h16M1695.6 3135.4h16M1695.6 3143.1h16M1698.4 3135.3h16M1698.4 3143h16M1701.2 3135.3h16M1701.2 3143h16M1704 3135.3h16M1704 3142.9h16M1706.8 3135.2h16M1706.8 3142.9h16M1709.6 3135.2h16M1709.6 3142.8h16M1712.4 3135.1h16M1712.4 3142.8h16M1715.2 3135.1h16M1715.2 3142.7h16M1718 3135.1h16M1718 3142.7h16M1720.8 3135h16M1720.8 3142.6h16M1723.6 3135h16M1723.6 3142.6h16M1726.4 3134.9h16M1726.4 3142.6h16M1729.2 3134.9h16M1729.2 3142.5h16M1732 3134.9h16M1732 3142.5h16M1734.8 3134.8h16M1734.8 3142.4h16M1737.6 3134.8h16M1737.6 3142.4h16M1740.4 3134.8h16M1740.4 3142.3h16M1743.2 3134.7h16M1743.2 3142.3h16M1746 3134.7h16M1746 3142.2h16M1748.8 3134.7h16M1748.8 3142.2h16M1751.6 3134.6h16M1751.6 3142.2h16M1754.4 3134.6h16M1754.4 3142.1h16M1757.2 3134.6h16M1757.2 3142.1h16M1760 3134.5h16M1760 3142h16M1762.8 3134.5h16M1762.8 3142h16M1765.6 3134.5h16M1765.6 3142h16M1768.4 3134.4h16M1768.4 3141.9h16M1771.2 3134.4h16M1771.2 3141.9h16M1774 3134.4h16M1774 3141.9h16M1776.8 3134.4h16M1776.8 3141.8h16M1779.6 3134.3h16M1779.6 3141.8h16M1782.4 3134.3h16M1782.4 3141.8h16M1785.2 3134.3h16M1785.2 3141.7h16M1788 3134.3h16M1788 3141.7h16M1790.8 3134.2h16M1790.8 3141.7h16M1793.6 3134.2h16M1793.6 3141.7h16M1796.4 3134.2h16M1796.4 3141.6h16M1799.2 3134.2h16M1799.2 3141.6h16M1802 3134.2h16M1802 3141.6h16M1804.8 3134.2h16M1804.8 3141.6h16M1807.6 3134.2h16M1807.6 3141.6h16M1810.4 3134.1h16M1810.4 3141.5h16M1813.2 3134.1h16M1813.2 3141.5h16M1816 3134.1h16M1816 3141.5h16M1818.8 3134.1h16M1818.8 3141.5h16M1821.6 3134.1h16M1821.6 3141.5h16M1824.4 3134.1h16M1824.4 3141.4h16M1827.2 3134.1h16M1827.2 3141.4h16M1830 3134h16M1830 3141.4h16M1832.8 3134h16M1832.8 3141.4h16M1835.6 3134h16M1835.6 3141.4h16M1838.4 3134h16M1838.4 3141.3h16M1841.2 3134h16M1841.2 3141.3h16M1844 3134h16M1844 3141.3h16M1846.8 3134h16M1846.8 3141.3h16M1849.6 3134h16M1849.6 3141.3h16M1852.4 3133.9h16M1852.4 3141.3h16M1855.2 3133.9h16M1855.2 3141.2h16M1858 3133.9h16M1858 3141.2h16M1860.8 3133.9h16M1860.8 3141.2h16M1863.6 3133.9h16M1863.6 3141.2h16M1866.4 3133.9h16M1866.4 3141.2h16M1869.2 3133.9h16M1869.2 3141.2h16M1872 3133.9h16M1872 3141.1h16M1874.8 3133.8h16M1874.8 3141.1h16M1877.6 3133.8h16M1877.6 3141.1h16M1880.4 3133.8h16M1880.4 3141.1h16M1883.2 3133.8h16M1883.2 3141.1h16M1886 3133.8h16M1886 3141.1h16M1888.8 3133.8h16M1888.8 3141h16M1891.6 3133.8h16M1891.6 3141h16M1894.4 3133.8h16M1894.4 3141h16M1897.2 3133.8h16M1897.2 3141h16M1900 3133.7h16M1900 3141h16M1902.8 3133.7h16M1902.8 3141h16M1905.6 3133.7h16M1905.6 3140.9h16M1908.4 3133.7h16M1908.4 3140.9h16M1911.2 3133.7h16M1911.2 3140.9h16M1914 3133.7h16M1914 3140.9h16M1916.8 3133.7h16M1916.8 3140.9h16M1919.6 3133.7h16M1919.6 3140.9h16M1922.4 3133.7h16M1922.4 3140.9h16M1925.2 3133.7h16M1925.2 3140.9h16M1928 3133.7h16M1928 3140.8h16M1930.8 3133.7h16M1930.8 3140.8h16M1933.6 3133.6h16M1933.6 3140.8h16M1936.4 3133.6h16M1936.4 3140.8h16M1939.2 3133.6h16M1939.2 3140.8h16M1942 3133.6h16M1942 3140.8h16M1944.8 3133.6h16M1944.8 3140.8h16M1947.6 3133.6h16M1947.6 3140.8h16M1950.4 3133.6h16M1950.4 3140.8h16M1953.2 3133.6h16M1953.2 3140.7h16M1956 3133.6h16M1956 3140.7h16M1958.8 3133.6h16M1958.8 3140.7h16M1961.6 3133.6h16M1961.6 3140.7h16M1964.4 3133.6h16M1964.4 3140.7h16M1967.2 3133.6h16M1967.2 3140.7h16M1970 3133.6h16M1970 3140.7h16M1972.8 3133.6h16M1972.8 3140.7h16M1975.6 3133.6h16M1975.6 3140.7h16M1978.4 3133.6h16M1978.4 3140.7h16M1981.2 3133.6h16M1981.2 3140.7h16M1984 3133.6h16M1984 3140.7h16M1986.8 3133.6h16M1986.8 3140.7h16M1989.6 3133.6h16M1989.6 3140.7h16M1992.4 3133.6h16M1992.4 3140.7h16M1995.2 3133.6h16M1995.2 3140.7h16M1998 3133.6h16M1998 3140.6h16M2000.8 3133.6h16M2000.8 3140.6h16M2003.6 3133.6h16M2003.6 3140.6h16M2006.4 3133.6h16M2006.4 3140.6h16M2009.2 3133.6h16M2009.2 3140.6h16M2012 3133.6h16M2012 3140.6h16M2014.8 3133.6h16M2014.8 3140.6h16M2017.6 3133.6h16M2017.6 3140.6h16M2020.4 3133.6h16M2020.4 3140.7h16M2023.2 3133.6h16M2023.2 3140.7h16M2026 3133.6h16M2026 3140.7h16M2028.8 3133.6h16M2028.8 3140.7h16M2031.6 3133.7h16M2031.6 3140.7h16M2034.4 3133.7h16M2034.4 3140.7h16M2037.2 3133.7h16M2037.2 3140.8h16M2040 3133.7h16M2040 3140.8h16M2042.8 3133.8h16M2042.8 3140.8h16M2045.6 3133.8h16M2045.6 3140.9h16M2048.4 3133.8h16M2048.4 3140.9h16M2051.2 3133.9h16M2051.2 3140.9h16M2054 3133.9h16M2054 3141h16M2056.8 3134h16M2056.8 3141h16M2059.6 3134h16M2059.6 3141h16M2062.4 3134.1h16M2062.4 3141.1h16M2065.2 3134.1h16M2065.2 3141.1h16M2068 3134.2h16M2068 3141.2h16M2070.8 3134.2h16M2070.8 3141.2h16M2073.6 3134.3h16M2073.6 3141.3h16M2076.4 3134.3h16M2076.4 3141.3h16M2079.2 3134.4h16M2079.2 3141.4h16M2082 3134.4h16M2082 3141.5h16M2084.8 3134.5h16M2084.8 3141.5h16M2087.6 3134.6h16M2087.6 3141.6h16M2090.4 3134.6h16M2090.4 3141.6h16M2093.2 3134.7h16M2093.2 3141.7h16M2096 3134.8h16M2096 3141.8h16M2098.8 3134.8h16M2098.8 3141.8h16M2101.6 3134.9h16M2101.6 3141.9h16M2104.4 3135h16M2104.4 3142h16M2107.2 3135h16M2107.2 3142h16M2110 3135.1h16M2110 3142.1h16M2112.8 3135.2h16M2112.8 3142.2h16M2115.6 3135.3h16M2115.6 3142.3h16M2118.4 3135.3h16M2118.4 3142.3h16M2121.2 3135.4h16M2121.2 3142.4h16M2124 3135.5h16M2124 3142.5h16M2126.8 3135.6h16M2126.8 3142.6h16M2129.6 3135.6h16M2129.6 3142.6h16M2132.4 3135.7h16M2132.4 3142.7h16M2135.2 3135.8h16M2135.2 3142.8h16M2138 3135.9h16M2138 3142.9h16M2140.8 3136h16M2140.8 3143h16M2143.6 3136h16M2143.6 3143h16M2146.4 3136.1h16M2146.4 3143.1h16M2149.2 3136.2h16M2149.2 3143.2h16M2152 3136.3h16M2152 3143.3h16M2154.8 3136.4h16M2154.8 3143.4h16M2157.6 3136.4h16M2157.6 3143.4h16" stroke="#000" stroke-width="1.3" fill="none"/>
<path d="M1194 3146.3h33M1199.2 3161.7h23.1M1203 3145.7h42.2M1257 3143.3h65.6M1254.8 3156.4h45.9M1275 3142.6h54.7M1284 3142.3h67.6M1320 3141h25.3M1329.8 3152.7h17.7M1383 3139.3h66.4M1388.8 3150h46.5M1428 3138.3h26M1434.4 3148.5h18.2M1437 3138.1h44.1M1433.2 3148.3h30.9M1446 3138h39.8M1455 3137.9h60.4M1449.2 3147.8h42.3M1464 3137.7h43.2M1500 3137.3h63.9M1536 3137h31.5M1529.6 3146.3h22M1545 3137h34.3M1581 3136.7h62M1572.4 3145.8h43.4M1590 3136.6h51.4M1584.3 3145.7h35.9M1644 3136.1h64.6M1680 3135.7h54.4M1689 3135.6h64.3M1698 3135.5h61.4M1707 3135.3h38.3M1716 3135.2h44.7M1725 3135.1h47.6M1770 3134.5h64.7M1773.2 3143h45.3M1788 3134.3h55.5M1842 3134h55M1860 3133.9h54.9M1862.8 3142.3h38.4M1896 3133.8h63.7M1894 3142h44.6M1905 3133.8h48.9M1901.2 3142h34.3M1932 3133.7h60.3M1926.1 3141.9h42.2M2013 3133.6h25.9M2009.2 3141.6h18.1M2085 3134.3h59" stroke="#000" stroke-width="2.6" fill="none"/>
<path d="M1043.2 3259.7V3294.1M1046.8 3264.6V3301.8M1050.4 3268.1V3307M1054 3279.5V3303M1057.6 3280.5V3312M1072 3275.5V3307.3M1075.6 3282.8V3309.9M1079.2 3286.5V3317.5M1090 3283.9V3318.4M1093.6 3279.4V3322M1097.2 3284.9V3318.9M1100.8 3285V3311.9M1104.4 3285.9V3309.3M1111.6 3269.7V3311.3M1118.8 3281.8V3310M1122.4 3277.1V3311.3M1129.6 3284.9V3317.1M1133.2 3298.5V3336.5M1136.8 3300V3323.6M1140.4 3298.8V3322.3M1144 3299.3V3325.2M1147.6 3296.2V3334.2M1151.2 3296V3330.3M1154.8 3293.8V3321.9M1158.4 3283.2V3331.1M1162 3295.8V3326.7M1165.6 3284.2V3331.6M1169.2 3299.6V3331.8M1172.8 3292.1V3334.9M1183.6 3292.4V3329.6M1187.2 3283.6V3318.6M1194.4 3287.7V3313.2M1198 3288.8V3313.3M1219.6 3276.7V3307.6M1223.2 3287V3313M1230.4 3278.4V3314.4M1234 3282.5V3307M1237.6 3280.9V3313.8M1241.2 3279V3377.7M1248.4 3276.3V3302.2M1252 3280.5V3312.7M1255.6 3276.5V3307.6M1259.2 3270.6V3314M1262.8 3282.6V3313.7M1270 3276.8V3313.1M1273.6 3277.7V3316.9M1280.8 3284.7V3320.2M1288 3273.7V3322.1M1298.8 3285.7V3306M1306 3283V3306.1M1313.2 3273.4V3314.3M1316.8 3278.9V3308.8M1320.4 3276V3313M1324 3285.7V3313.1M1327.6 3286.8V3306.4M1334.8 3270.3V3318.3M1338.4 3278.7V3307.3M1342 3279V3311.9M1345.6 3273.5V3314.9M1349.2 3285.7V3312.4M1360 3281.3V3316.8M1363.6 3286.2V3323.9M1367.2 3277.1V3326.4M1370.8 3286.5V3306.8M1374.4 3282.1V3313.9M1378 3282.9V3307.7M1381.6 3283.2V3316.5M1385.2 3284.3V3322.1M1392.4 3282V3315.4M1396 3286V3306.2M1399.6 3276.6V3310.2M1403.2 3285.9V3314.4M1406.8 3287.2V3309.8M1410.4 3284.4V3313.5M1417.6 3276.4V3307.2M1421.2 3269.2V3314.5M1432 3277V3311.6M1435.6 3278.6V3313.4M1439.2 3278.3V3304.6M1442.8 3271.3V3312.2M1450 3267V3311.9M1453.6 3279.2V3304.7M1457.2 3274.5V3316.2M1460.8 3269.6V3311.9M1468 3268.8V3299.1M1471.6 3273.6V3302.6M1475.2 3274.2V3304.7M1478.8 3270.3V3305M1482.4 3267.7V3305M1486 3269V3303.9M1493.2 3281.9V3313M1496.8 3273.1V3306.6M1500.4 3277.8V3312.9M1507.6 3272V3306M1511.2 3269.7V3308.6M1514.8 3274.9V3309.5M1522 3276.6V3302.3M1525.6 3268.4V3304.6M1529.2 3270.2V3303.4M1543.6 3270V3312.3M1547.2 3275.6V3321.5M1550.8 3271.5V3318M1561.6 3281V3306.6M1565.2 3278.6V3309.1M1568.8 3276.6V3315.3M1576 3275V3300.3M1579.6 3280.4V3309.8M1583.2 3281.9V3306.5M1586.8 3271.1V3312.1M1597.6 3276.1V3304.6M1604.8 3263.2V3300.9M1608.4 3268.8V3304.1M1615.6 3271V3311.8M1619.2 3272.9V3308.6M1626.4 3270.2V3308.8M1630 3278.2V3311M1633.6 3271.9V3304.3M1637.2 3272.3V3313.3M1655.2 3276.1V3306.5M1669.6 3278.5V3307.7M1680.4 3282.9V3311.1M1684 3276.5V3311.2M1687.6 3282.4V3317.8M1694.8 3281.6V3306.8M1702 3279.1V3314.8M1709.2 3280.5V3316.3M1712.8 3276.5V3306.2M1716.4 3275.7V3341.8M1723.6 3274.3V3313.2M1727.2 3282.5V3314.1M1730.8 3276.7V3301.4M1734.4 3272.4V3306.7M1738 3280V3315.1M1741.6 3271.6V3314.2M1745.2 3269.8V3302.7M1748.8 3275.9V3302.1M1752.4 3280.6V3299.2M1756 3267.4V3302.4M1763.2 3272.1V3312.8M1766.8 3273.4V3307.9M1770.4 3281.5V3305.8M1774 3276.6V3306.6M1781.2 3261.6V3300.7M1784.8 3267.1V3298M1792 3280V3310.8M1795.6 3268.1V3309.3M1799.2 3265V3310.3M1810 3274.1V3308.9M1813.6 3274.5V3307.5M1817.2 3266V3298.8M1820.8 3266.5V3304.2M1824.4 3267.3V3305M1828 3267.9V3303M1835.2 3267.2V3297.9M1838.8 3274.5V3303.1M1842.4 3276V3299.1M1846 3264V3303.4M1849.6 3270.8V3305.7M1853.2 3275.4V3297.8M1856.8 3271.2V3297.7M1860.4 3265.9V3302.7M1864 3276.7V3293.5M1867.6 3273.7V3302M1871.2 3266.9V3297.8M1878.4 3274.7V3325.6M1885.6 3261.5V3291M1889.2 3263.7V3301.4M1896.4 3271.2V3313.2M1903.6 3264.1V3291.7M1907.2 3259.1V3294.2M1918 3269.8V3306.7M1925.2 3263.2V3290.4M1928.8 3266.7V3297.3M1932.4 3266.9V3291.5M1939.6 3272.6V3303.1M1943.2 3268.9V3313.1M1950.4 3261.3V3292.1M1957.6 3259V3298.1M1964.8 3260.1V3302.7M1968.4 3264.2V3292.9M1972 3262.1V3287.5M1975.6 3251.8V3296.2M1979.2 3270.4V3301.3M1982.8 3270.3V3304M1990 3256.8V3286.8M1993.6 3257.7V3295.2M1997.2 3266V3292.3M2000.8 3258.8V3300.5M2004.4 3260.8V3307.8M2008 3267.6V3289.8M2011.6 3258.2V3291.5M2015.2 3247.5V3292.7M2018.8 3263.2V3293.5M2022.4 3265.3V3300.6M2040.4 3256.5V3295.9M2044 3267.8V3299M2047.6 3259.2V3294.9M2058.4 3268.3V3295.3M2062 3261.5V3287.2M2065.6 3261.2V3289.1M2072.8 3267.8V3297.3M2083.6 3266.8V3291.3M2090.8 3259.4V3292.9M2094.4 3258V3284.9M2098 3256.7V3299.6M2101.6 3266.9V3292.2M2105.2 3262.2V3293.1M2108.8 3264.6V3305M2112.4 3266.3V3316M2116 3264V3342.4M2126.8 3261.2V3292.4M2130.4 3255V3285.1M2134 3264.3V3289.3M2137.6 3258.8V3290.2M2141.2 3263.1V3291.5M2144.8 3266.9V3293M2155.6 3261.6V3291M2159.2 3258.4V3293.5M2162.8 3256.8V3302.9" stroke="#333" stroke-width="1.4" fill="none"/>
<path d="M1035.2 3259.7h16M1035.2 3294.1h16M1038.8 3264.6h16M1038.8 3301.8h16M1042.4 3268.1h16M1042.4 3307h16M1046 3279.5h16M1046 3303h16M1049.6 3280.5h16M1049.6 3312h16M1064 3275.5h16M1064 3307.3h16M1067.6 3282.8h16M1067.6 3309.9h16M1071.2 3286.5h16M1071.2 3317.5h16M1082 3283.9h16M1082 3318.4h16M1085.6 3279.4h16M1085.6 3322h16M1089.2 3284.9h16M1089.2 3318.9h16M1092.8 3285h16M1092.8 3311.9h16M1096.4 3285.9h16M1096.4 3309.3h16M1103.6 3269.7h16M1103.6 3311.3h16M1110.8 3281.8h16M1110.8 3310h16M1114.4 3277.1h16M1114.4 3311.3h16M1121.6 3284.9h16M1121.6 3317.1h16M1125.2 3298.5h16M1125.2 3336.5h16M1128.8 3300h16M1128.8 3323.6h16M1132.4 3298.8h16M1132.4 3322.3h16M1136 3299.3h16M1136 3325.2h16M1139.6 3296.2h16M1139.6 3334.2h16M1143.2 3296h16M1143.2 3330.3h16M1146.8 3293.8h16M1146.8 3321.9h16M1150.4 3283.2h16M1150.4 3331.1h16M1154 3295.8h16M1154 3326.7h16M1157.6 3284.2h16M1157.6 3331.6h16M1161.2 3299.6h16M1161.2 3331.8h16M1164.8 3292.1h16M1164.8 3334.9h16M1175.6 3292.4h16M1175.6 3329.6h16M1179.2 3283.6h16M1179.2 3318.6h16M1186.4 3287.7h16M1186.4 3313.2h16M1190 3288.8h16M1190 3313.3h16M1211.6 3276.7h16M1211.6 3307.6h16M1215.2 3287h16M1215.2 3313h16M1222.4 3278.4h16M1222.4 3314.4h16M1226 3282.5h16M1226 3307h16M1229.6 3280.9h16M1229.6 3313.8h16M1233.2 3279h16M1233.2 3377.7h16M1240.4 3276.3h16M1240.4 3302.2h16M1244 3280.5h16M1244 3312.7h16M1247.6 3276.5h16M1247.6 3307.6h16M1251.2 3270.6h16M1251.2 3314h16M1254.8 3282.6h16M1254.8 3313.7h16M1262 3276.8h16M1262 3313.1h16M1265.6 3277.7h16M1265.6 3316.9h16M1272.8 3284.7h16M1272.8 3320.2h16M1280 3273.7h16M1280 3322.1h16M1290.8 3285.7h16M1290.8 3306h16M1298 3283h16M1298 3306.1h16M1305.2 3273.4h16M1305.2 3314.3h16M1308.8 3278.9h16M1308.8 3308.8h16M1312.4 3276h16M1312.4 3313h16M1316 3285.7h16M1316 3313.1h16M1319.6 3286.8h16M1319.6 3306.4h16M1326.8 3270.3h16M1326.8 3318.3h16M1330.4 3278.7h16M1330.4 3307.3h16M1334 3279h16M1334 3311.9h16M1337.6 3273.5h16M1337.6 3314.9h16M1341.2 3285.7h16M1341.2 3312.4h16M1352 3281.3h16M1352 3316.8h16M1355.6 3286.2h16M1355.6 3323.9h16M1359.2 3277.1h16M1359.2 3326.4h16M1362.8 3286.5h16M1362.8 3306.8h16M1366.4 3282.1h16M1366.4 3313.9h16M1370 3282.9h16M1370 3307.7h16M1373.6 3283.2h16M1373.6 3316.5h16M1377.2 3284.3h16M1377.2 3322.1h16M1384.4 3282h16M1384.4 3315.4h16M1388 3286h16M1388 3306.2h16M1391.6 3276.6h16M1391.6 3310.2h16M1395.2 3285.9h16M1395.2 3314.4h16M1398.8 3287.2h16M1398.8 3309.8h16M1402.4 3284.4h16M1402.4 3313.5h16M1409.6 3276.4h16M1409.6 3307.2h16M1413.2 3269.2h16M1413.2 3314.5h16M1424 3277h16M1424 3311.6h16M1427.6 3278.6h16M1427.6 3313.4h16M1431.2 3278.3h16M1431.2 3304.6h16M1434.8 3271.3h16M1434.8 3312.2h16M1442 3267h16M1442 3311.9h16M1445.6 3279.2h16M1445.6 3304.7h16M1449.2 3274.5h16M1449.2 3316.2h16M1452.8 3269.6h16M1452.8 3311.9h16M1460 3268.8h16M1460 3299.1h16M1463.6 3273.6h16M1463.6 3302.6h16M1467.2 3274.2h16M1467.2 3304.7h16M1470.8 3270.3h16M1470.8 3305h16M1474.4 3267.7h16M1474.4 3305h16M1478 3269h16M1478 3303.9h16M1485.2 3281.9h16M1485.2 3313h16M1488.8 3273.1h16M1488.8 3306.6h16M1492.4 3277.8h16M1492.4 3312.9h16M1499.6 3272h16M1499.6 3306h16M1503.2 3269.7h16M1503.2 3308.6h16M1506.8 3274.9h16M1506.8 3309.5h16M1514 3276.6h16M1514 3302.3h16M1517.6 3268.4h16M1517.6 3304.6h16M1521.2 3270.2h16M1521.2 3303.4h16M1535.6 3270h16M1535.6 3312.3h16M1539.2 3275.6h16M1539.2 3321.5h16M1542.8 3271.5h16M1542.8 3318h16M1553.6 3281h16M1553.6 3306.6h16M1557.2 3278.6h16M1557.2 3309.1h16M1560.8 3276.6h16M1560.8 3315.3h16M1568 3275h16M1568 3300.3h16M1571.6 3280.4h16M1571.6 3309.8h16M1575.2 3281.9h16M1575.2 3306.5h16M1578.8 3271.1h16M1578.8 3312.1h16M1589.6 3276.1h16M1589.6 3304.6h16M1596.8 3263.2h16M1596.8 3300.9h16M1600.4 3268.8h16M1600.4 3304.1h16M1607.6 3271h16M1607.6 3311.8h16M1611.2 3272.9h16M1611.2 3308.6h16M1618.4 3270.2h16M1618.4 3308.8h16M1622 3278.2h16M1622 3311h16M1625.6 3271.9h16M1625.6 3304.3h16M1629.2 3272.3h16M1629.2 3313.3h16M1647.2 3276.1h16M1647.2 3306.5h16M1661.6 3278.5h16M1661.6 3307.7h16M1672.4 3282.9h16M1672.4 3311.1h16M1676 3276.5h16M1676 3311.2h16M1679.6 3282.4h16M1679.6 3317.8h16M1686.8 3281.6h16M1686.8 3306.8h16M1694 3279.1h16M1694 3314.8h16M1701.2 3280.5h16M1701.2 3316.3h16M1704.8 3276.5h16M1704.8 3306.2h16M1708.4 3275.7h16M1708.4 3341.8h16M1715.6 3274.3h16M1715.6 3313.2h16M1719.2 3282.5h16M1719.2 3314.1h16M1722.8 3276.7h16M1722.8 3301.4h16M1726.4 3272.4h16M1726.4 3306.7h16M1730 3280h16M1730 3315.1h16M1733.6 3271.6h16M1733.6 3314.2h16M1737.2 3269.8h16M1737.2 3302.7h16M1740.8 3275.9h16M1740.8 3302.1h16M1744.4 3280.6h16M1744.4 3299.2h16M1748 3267.4h16M1748 3302.4h16M1755.2 3272.1h16M1755.2 3312.8h16M1758.8 3273.4h16M1758.8 3307.9h16M1762.4 3281.5h16M1762.4 3305.8h16M1766 3276.6h16M1766 3306.6h16M1773.2 3261.6h16M1773.2 3300.7h16M1776.8 3267.1h16M1776.8 3298h16M1784 3280h16M1784 3310.8h16M1787.6 3268.1h16M1787.6 3309.3h16M1791.2 3265h16M1791.2 3310.3h16M1802 3274.1h16M1802 3308.9h16M1805.6 3274.5h16M1805.6 3307.5h16M1809.2 3266h16M1809.2 3298.8h16M1812.8 3266.5h16M1812.8 3304.2h16M1816.4 3267.3h16M1816.4 3305h16M1820 3267.9h16M1820 3303h16M1827.2 3267.2h16M1827.2 3297.9h16M1830.8 3274.5h16M1830.8 3303.1h16M1834.4 3276h16M1834.4 3299.1h16M1838 3264h16M1838 3303.4h16M1841.6 3270.8h16M1841.6 3305.7h16M1845.2 3275.4h16M1845.2 3297.8h16M1848.8 3271.2h16M1848.8 3297.7h16M1852.4 3265.9h16M1852.4 3302.7h16M1856 3276.7h16M1856 3293.5h16M1859.6 3273.7h16M1859.6 3302h16M1863.2 3266.9h16M1863.2 3297.8h16M1870.4 3274.7h16M1870.4 3325.6h16M1877.6 3261.5h16M1877.6 3291h16M1881.2 3263.7h16M1881.2 3301.4h16M1888.4 3271.2h16M1888.4 3313.2h16M1895.6 3264.1h16M1895.6 3291.7h16M1899.2 3259.1h16M1899.2 3294.2h16M1910 3269.8h16M1910 3306.7h16M1917.2 3263.2h16M1917.2 3290.4h16M1920.8 3266.7h16M1920.8 3297.3h16M1924.4 3266.9h16M1924.4 3291.5h16M1931.6 3272.6h16M1931.6 3303.1h16M1935.2 3268.9h16M1935.2 3313.1h16M1942.4 3261.3h16M1942.4 3292.1h16M1949.6 3259h16M1949.6 3298.1h16M1956.8 3260.1h16M1956.8 3302.7h16M1960.4 3264.2h16M1960.4 3292.9h16M1964 3262.1h16M1964 3287.5h16M1967.6 3251.8h16M1967.6 3296.2h16M1971.2 3270.4h16M1971.2 3301.3h16M1974.8 3270.3h16M1974.8 3304h16M1982 3256.8h16M1982 3286.8h16M1985.6 3257.7h16M1985.6 3295.2h16M1989.2 3266h16M1989.2 3292.3h16M1992.8 3258.8h16M1992.8 3300.5h16M1996.4 3260.8h16M1996.4 3307.8h16M2000 3267.6h16M2000 3289.8h16M2003.6 3258.2h16M2003.6 3291.5h16M2007.2 3247.5h16M2007.2 3292.7h16M2010.8 3263.2h16M2010.8 3293.5h16M2014.4 3265.3h16M2014.4 3300.6h16M2032.4 3256.5h16M2032.4 3295.9h16M2036 3267.8h16M2036 3299h16M2039.6 3259.2h16M2039.6 3294.9h16M2050.4 3268.3h16M2050.4 3295.3h16M2054 3261.5h16M2054 3287.2h16M2057.6 3261.2h16M2057.6 3289.1h16M2064.8 3267.8h16M2064.8 3297.3h16M2075.6 3266.8h16M2075.6 3291.3h16M2082.8 3259.4h16M2082.8 3292.9h16M2086.4 3258h16M2086.4 3284.9h16M2090 3256.7h16M2090 3299.6h16M2093.6 3266.9h16M2093.6 3292.2h16M2097.2 3262.2h16M2097.2 3293.1h16M2100.8 3264.6h16M2100.8 3305h16M2104.4 3266.3h16M2104.4 3316h16M2108 3264h16M2108 3342.4h16M2118.8 3261.2h16M2118.8 3292.4h16M2122.4 3255h16M2122.4 3285.1h16M2126 3264.3h16M2126 3289.3h16M2129.6 3258.8h16M2129.6 3290.2h16M2133.2 3263.1h16M2133.2 3291.5h16M2136.8 3266.9h16M2136.8 3293h16M2147.6 3261.6h16M2147.6 3291h16M2151.2 3258.4h16M2151.2 3293.5h16M2154.8 3256.8h16M2154.8 3302.9h16" stroke="#000" stroke-width="2.6" fill="none"/>
<path d="M1119.3 3275.1V3389.4M1131.9 3291V3384.9M1153.6 3288.5V3368M1170.5 3292V3364M1181.9 3285.7V3379.4M1205.4 3280.2V3357.5M1218.6 3285.9V3351.5M1238 3277.6V3351.2M1286.1 3278.2V3366.2M1300.5 3273.7V3345.2M1375.4 3284.5V3344.5M1386.9 3284.8V3366.7M1422.4 3271.1V3384.1M1441.6 3270.5V3350M1459.5 3274.6V3356.8M1475.8 3269.5V3372.2M1528.9 3272.5V3353.9M1544.8 3272.9V3335.1M1556.7 3272.6V3333.9M1624.1 3276.5V3368.9M1643.5 3267.6V3388.3M1676.8 3272.9V3373.7M1698.4 3269V3351.6M1725.9 3273.9V3352.3M1748.7 3265.9V3387.5M1764 3271.2V3356.7M1814.3 3263.7V3368.5M1846.8 3271V3341.9M1865.1 3264.5V3380M1895.4 3258.8V3342.5M1934.7 3265.9V3361.6M1986.6 3254.7V3323.7M2049.2 3260.3V3357.9M2082.2 3263.1V3362.7M2099.7 3263.3V3322.2M2122.4 3251.7V3364.3M2135.8 3262.5V3368.4M2151.8 3262.2V3358.2M1746 3262V3405M1935 3260V3413M2045 3258V3390M1290 3280V3378M1480 3275V3370" stroke="#444" stroke-width="2" fill="none"/>
<path d="M1111.3 3275.1h16M1111.3 3389.4h16M1123.9 3291h16M1123.9 3384.9h16M1145.6 3288.5h16M1145.6 3368h16M1162.5 3292h16M1162.5 3364h16M1173.9 3285.7h16M1173.9 3379.4h16M1197.4 3280.2h16M1197.4 3357.5h16M1210.6 3285.9h16M1210.6 3351.5h16M1230 3277.6h16M1230 3351.2h16M1278.1 3278.2h16M1278.1 3366.2h16M1292.5 3273.7h16M1292.5 3345.2h16M1367.4 3284.5h16M1367.4 3344.5h16M1378.9 3284.8h16M1378.9 3366.7h16M1414.4 3271.1h16M1414.4 3384.1h16M1433.6 3270.5h16M1433.6 3350h16M1451.5 3274.6h16M1451.5 3356.8h16M1467.8 3269.5h16M1467.8 3372.2h16M1520.9 3272.5h16M1520.9 3353.9h16M1536.8 3272.9h16M1536.8 3335.1h16M1548.7 3272.6h16M1548.7 3333.9h16M1616.1 3276.5h16M1616.1 3368.9h16M1635.5 3267.6h16M1635.5 3388.3h16M1668.8 3272.9h16M1668.8 3373.7h16M1690.4 3269h16M1690.4 3351.6h16M1717.9 3273.9h16M1717.9 3352.3h16M1740.7 3265.9h16M1740.7 3387.5h16M1756 3271.2h16M1756 3356.7h16M1806.3 3263.7h16M1806.3 3368.5h16M1838.8 3271h16M1838.8 3341.9h16M1857.1 3264.5h16M1857.1 3380h16M1887.4 3258.8h16M1887.4 3342.5h16M1926.7 3265.9h16M1926.7 3361.6h16M1978.6 3254.7h16M1978.6 3323.7h16M2041.2 3260.3h16M2041.2 3357.9h16M2074.2 3263.1h16M2074.2 3362.7h16M2091.7 3263.3h16M2091.7 3322.2h16M2114.4 3251.7h16M2114.4 3364.3h16M2127.8 3262.5h16M2127.8 3368.4h16M2143.8 3262.2h16M2143.8 3358.2h16M1738 3262h16M1738 3405h16M1927 3260h16M1927 3413h16M2037 3258h16M2037 3390h16M1282 3280h16M1282 3378h16M1472 3275h16M1472 3370h16" stroke="#333" stroke-width="2.4" fill="none"/>
<path d="M514.5 3445.5 L516.5 3445.4 L518.5 3445.4 L520.5 3445.3 L522.5 3445.2 L524.5 3445.2 L526.5 3445.1 L528.5 3445.1 L530.5 3445 L532.5 3444.9 L534.5 3444.9 L536.5 3444.8 L538.5 3444.7 L540.5 3444.7 L542.5 3444.6 L544.5 3444.6 L546.5 3444.5 L548.5 3444.4 L550.5 3444.4 L552.5 3444.3 L554.5 3444.3 L556.5 3444.2 L558.5 3444.2 L560.5 3444.1 L562.5 3444.1 L564.5 3444 L566.5 3444 L568.5 3443.9 L570.5 3443.9 L572.5 3443.8 L574.5 3443.8 L576.5 3443.7 L578.5 3443.7 L580.5 3443.7 L582.5 3443.6 L584.5 3443.6 L586.5 3443.6 L588.5 3443.5 L590.5 3443.5 L592.5 3443.5 L594.5 3443.5 L596.5 3443.5 L598.5 3443.4 L600.5 3443.4 L602.5 3443.4 L604.5 3443.4 L606.5 3443.4 L608.5 3443.4 L609.4 3443.4 L610.5 3443.4 L612.5 3443.4 L614.5 3443.4 L616.5 3443.4 L618.5 3443.4 L620.5 3443.4 L622.5 3443.4 L624.5 3443.4 L626.5 3443.4 L628.5 3443.4 L630.5 3443.4 L632.5 3443.4 L634.5 3443.4 L636.5 3443.4 L638.5 3443.4 L640.5 3443.4 L642.5 3443.4 L644.5 3443.4 L646.5 3443.4 L648.5 3443.4 L650.5 3443.4 L652.5 3443.4 L654.5 3443.4 L656.5 3443.4 L658.5 3443.4 L660.5 3443.4 L662.5 3443.4 L664.5 3443.4 L666.5 3443.4 L668.5 3443.4 L670.5 3443.4 L672.5 3443.4 L674.5 3443.4 L676.5 3443.4 L678.5 3443.4 L680.5 3443.4 L682.5 3443.4 L684.5 3443.4 L686.5 3443.4 L688.5 3443.4 L690.5 3443.4 L692.5 3443.4 L694.5 3443.4 L696.5 3443.4 L698.5 3443.4 L700.5 3443.4 L702.5 3443.4 L704.5 3443.4 L706.5 3443.4 L708.5 3443.4 L710.5 3443.4 L712.5 3443.4 L714.5 3443.4 L716.5 3443.4 L718.5 3443.4 L720.5 3443.4 L722.5 3443.4 L724.5 3443.4 L725.9 3443.4 L726.5 3443.4 L728.5 3444 L730.5 3445.1 L732.5 3446.5 L734.5 3448.3 L736.5 3450 L738.5 3451.8 L738.8 3452 L740.5 3453.6 L742.5 3455.8 L744.5 3458.4 L746.5 3461.1 L748.5 3463.6 L750.5 3465.9 L752.5 3467.7 L754.5 3468.9 L756.1 3469.2 L756.5 3469.2 L758.5 3469.2 L760.5 3469.1 L762.5 3469 L764.5 3468.9 L766.5 3468.7 L768.5 3468.5 L770.5 3468.3 L772.5 3468.1 L774.5 3467.8 L776.5 3467.6 L778.5 3467.3 L780.5 3466.9 L782.5 3466.6 L784.5 3466.3 L786.5 3465.9 L788.5 3465.6 L790.5 3465.2 L792.5 3464.8 L794.5 3464.5 L796.5 3464.1 L798.5 3463.7 L800.5 3463.4 L802.5 3463 L803.6 3462.8 L804.5 3462.6 L806.5 3462.3 L808.5 3461.9 L810.5 3461.5 L812.5 3461.1 L814.5 3460.7 L816.5 3460.3 L818.5 3459.9 L820.5 3459.4 L822.5 3459 L824.5 3458.5 L826.5 3458 L828.5 3457.5 L830.5 3457 L832.5 3456.4 L834.5 3455.9 L836.5 3455.3 L838.5 3454.7 L840.5 3454.1 L842.5 3453.4 L844.5 3452.8 L846.5 3452.1 L846.7 3452 L848.5 3451.4 L850.5 3450.6 L852.5 3449.8 L854.5 3448.9 L856.5 3447.9 L858.5 3446.9 L860.5 3445.9 L862.5 3444.8 L864.5 3443.6 L866.5 3442.3 L868.5 3441 L870 3440 L870.5 3439.6 L872.5 3438.2 L874.5 3436.5 L876.5 3434.7 L878.5 3432.8 L880.5 3430.6 L882.5 3428.3 L884.5 3425.7 L885 3425 L886.5 3422.7 L888.5 3419.1 L890.5 3415 L892.5 3410.4 L894.5 3405.6 L896.5 3400.5 L896.7 3400 L898.5 3395.1 L900.5 3389.1 L902.5 3382.6 L904.5 3375.8 L906.5 3368.9 L908.5 3362 L910 3357 L910.5 3355.3 L912.5 3348.3 L914.5 3341 L916.5 3333.8 L918.5 3326.9 L920.5 3320.6 L921.8 3317 L922.5 3315.2 L924.5 3310.4 L926.5 3305.8 L928.5 3301.6 L930.5 3297.5 L932.5 3293.7 L934.5 3289.9 L936.5 3286.3 L938.5 3282.7 L940.5 3279.1 L942.5 3275.5 L942.6 3275.3 L944.5 3271.7 L946.5 3267.9 L948.5 3264 L950.5 3260.1 L952.5 3256.3 L954.5 3252.7 L956.5 3249.3 L958.5 3246.1 L960.5 3243.3 L962.5 3240.8 L963.5 3239.8 L964.5 3238.8 L966.5 3237.1 L968.5 3235.4 L970.5 3234 L972.5 3232.6 L974.5 3231.3 L976.5 3230.2 L978.5 3229 L980.5 3227.9 L982.5 3226.8 L984.5 3225.7 L986.5 3224.6 L988.5 3223.4 L990.5 3222.1 L992.5 3220.7 L994.5 3219.1 L994.8 3218.9 L996.5 3217.4 L998.5 3215.6 L1000.5 3213.6 L1002.5 3211.4 L1004.5 3209.3 L1006.5 3207.1 L1008.5 3204.9 L1010.5 3202.8 L1012.5 3200.8 L1014.5 3199 L1015.7 3198 L1016.5 3197.4 L1018.5 3195.7 L1020.5 3194.1 L1022.5 3192.5 L1024.5 3191 L1026.5 3189.5 L1028.5 3188 L1030.5 3186.5 L1032.5 3185.1 L1034.5 3183.8 L1036.5 3182.5 L1038.5 3181.3 L1040.5 3180.2 L1042.5 3179.1 L1044.5 3178.2 L1046.5 3177.3 L1047 3177.1 L1048.5 3176.5 L1050.5 3175.8 L1052.5 3175 L1054.5 3174.3 L1056.5 3173.7 L1058.5 3173 L1060.5 3172.4 L1062.5 3171.8 L1064.5 3171.3 L1066.5 3170.7 L1068.5 3170.2 L1070.5 3169.7 L1072.5 3169.2 L1074.5 3168.7 L1076.5 3168.3 L1078.5 3167.8 L1080.5 3167.4 L1082.5 3167 L1084.5 3166.6 L1086.5 3166.2 L1088.5 3165.8 L1088.8 3165.7 L1090.5 3165.4 L1092.5 3165 L1094.5 3164.6 L1096.5 3164.3 L1098.5 3163.9 L1100.5 3163.6 L1102.5 3163.2 L1104.5 3162.9 L1106.5 3162.6 L1108.5 3162.3 L1110.5 3162 L1112.5 3161.7 L1114.5 3161.4 L1116.5 3161.1 L1118.5 3160.9 L1120.5 3160.6 L1122.5 3160.3 L1124.5 3160.1 L1126.5 3159.9 L1128.5 3159.6 L1130.5 3159.4 L1132.5 3159.2 L1134.5 3159 L1136.5 3158.8 L1138.5 3158.6 L1140.5 3158.4 L1142.5 3158.2 L1144.5 3158 L1146.5 3157.9 L1148.5 3157.7 L1150.5 3157.5 L1152.5 3157.4 L1154.5 3157.2 L1156.5 3157 L1158.5 3156.9 L1160.5 3156.7 L1162.5 3156.6 L1164.5 3156.4 L1166.5 3156.3 L1168.5 3156.1 L1170.5 3156 L1172.5 3155.8 L1174.5 3155.6 L1176.5 3155.5 L1178.5 3155.3 L1180 3155.2 L1180.5 3155.2 L1182.5 3155 L1184.5 3154.8 L1186.5 3154.6 L1188.5 3154.5 L1190.5 3154.3 L1192.5 3154.1 L1194.5 3154 L1196.5 3153.8 L1198.5 3153.6 L1200.5 3153.4 L1202.5 3153.3 L1204.5 3153.1 L1206.5 3153 L1208.5 3152.8 L1210.5 3152.7 L1212.5 3152.5 L1214.5 3152.4 L1216.5 3152.2 L1217 3152.2 L1218.5 3152.1 L1220.5 3152 L1222.5 3151.9 L1224.5 3151.7 L1226.5 3151.6 L1228.5 3151.5 L1230.5 3151.4 L1232.5 3151.2 L1234.5 3151.1 L1236.5 3151 L1238.5 3150.9 L1240.5 3150.8 L1242.5 3150.6 L1244.5 3150.5 L1246.5 3150.4 L1248.5 3150.3 L1250.5 3150.2 L1252.5 3150.1 L1254.5 3150 L1256.5 3149.8 L1258.5 3149.7 L1260.5 3149.6 L1262.5 3149.5 L1264.5 3149.4 L1266.5 3149.3 L1268.5 3149.2 L1270.5 3149.1 L1272.5 3149 L1274.5 3148.9 L1276.5 3148.8 L1278.5 3148.7 L1280.5 3148.6 L1282.5 3148.5 L1284.5 3148.4 L1286.5 3148.3 L1288.5 3148.2 L1290.5 3148.1 L1292.5 3148 L1294.5 3147.9 L1296.5 3147.8 L1298.5 3147.8 L1300.5 3147.7 L1302.5 3147.6 L1304.5 3147.5 L1306.5 3147.4 L1308.5 3147.3 L1310.5 3147.2 L1312.5 3147.1 L1314.5 3147.1 L1316.5 3147 L1318.5 3146.9 L1320.5 3146.8 L1322.5 3146.7 L1324.5 3146.7 L1326.5 3146.6 L1328.5 3146.5 L1330.5 3146.4 L1332.5 3146.4 L1334.5 3146.3 L1336.5 3146.2 L1338.5 3146.1 L1340.5 3146.1 L1342.3 3146 L1342.5 3146 L1344.5 3145.9 L1346.5 3145.9 L1348.5 3145.8 L1350.5 3145.7 L1352.5 3145.6 L1354.5 3145.6 L1356.5 3145.5 L1358.5 3145.4 L1360.5 3145.4 L1362.5 3145.3 L1364.5 3145.2 L1366.5 3145.2 L1368.5 3145.1 L1370.5 3145 L1372.5 3145 L1374.5 3144.9 L1376.5 3144.9 L1378.5 3144.8 L1380.5 3144.7 L1382.5 3144.7 L1384.5 3144.6 L1386.5 3144.5 L1388.5 3144.5 L1390.5 3144.4 L1392.5 3144.4 L1394.5 3144.3 L1396.5 3144.2 L1398.5 3144.2 L1400.5 3144.1 L1402.5 3144.1 L1404.5 3144 L1406.5 3144 L1408.5 3143.9 L1410.5 3143.9 L1412.5 3143.8 L1414.5 3143.8 L1416.5 3143.7 L1418.5 3143.6 L1420.5 3143.6 L1422.5 3143.5 L1424.5 3143.5 L1426.5 3143.4 L1428.5 3143.4 L1430.5 3143.3 L1432.5 3143.3 L1434.5 3143.3 L1436.5 3143.2 L1438.5 3143.2 L1440.5 3143.1 L1442.5 3143.1 L1444.5 3143 L1446.5 3143 L1448.5 3143 L1450.5 3142.9 L1452.5 3142.9 L1454.5 3142.8 L1456.5 3142.8 L1458.5 3142.8 L1460.5 3142.7 L1462.5 3142.7 L1464.5 3142.7 L1466.5 3142.6 L1467.5 3142.6 L1468.5 3142.6 L1470.5 3142.6 L1472.5 3142.5 L1474.5 3142.5 L1476.5 3142.5 L1478.5 3142.4 L1480.5 3142.4 L1482.5 3142.4 L1484.5 3142.3 L1486.5 3142.3 L1488.5 3142.3 L1490.5 3142.2 L1492.5 3142.2 L1494.5 3142.2 L1496.5 3142.2 L1498.5 3142.1 L1500.5 3142.1 L1502.5 3142.1 L1504.5 3142.1 L1506.5 3142 L1508.5 3142 L1510.5 3142 L1512.5 3142 L1514.5 3141.9 L1516.5 3141.9 L1518.5 3141.9 L1520.5 3141.9 L1522.5 3141.8 L1524.5 3141.8 L1526.5 3141.8 L1528.5 3141.8 L1530.5 3141.7 L1532.5 3141.7 L1534.5 3141.7 L1536.5 3141.7 L1538.5 3141.7 L1540.5 3141.6 L1542.5 3141.6 L1544.5 3141.6 L1546.5 3141.6 L1548.5 3141.6 L1550.5 3141.5 L1552.5 3141.5 L1554.5 3141.5 L1556.5 3141.5 L1558.5 3141.5 L1560.5 3141.4 L1562.5 3141.4 L1564.5 3141.4 L1566.5 3141.4 L1568.5 3141.4 L1570.5 3141.3 L1572.5 3141.3 L1574.5 3141.3 L1576.5 3141.3 L1578.5 3141.3 L1580.5 3141.2 L1582.5 3141.2 L1584.5 3141.2 L1586.5 3141.2 L1588.5 3141.2 L1590.5 3141.1 L1592.5 3141.1 L1594.5 3141.1 L1596.5 3141.1 L1598.5 3141.1 L1600.5 3141 L1602.5 3141 L1604.5 3141 L1606.5 3141 L1608.5 3141 L1610.5 3140.9 L1612.5 3140.9 L1614.5 3140.9 L1616.5 3140.9 L1618.5 3140.9 L1620.5 3140.8 L1622.5 3140.8 L1624.5 3140.8 L1626.5 3140.8 L1628.5 3140.7 L1630.5 3140.7 L1632.5 3140.7 L1634.5 3140.7 L1636.5 3140.7 L1638.5 3140.6 L1640.5 3140.6 L1642.5 3140.6 L1644.5 3140.6 L1646.5 3140.5 L1648.5 3140.5 L1650 3140.5 L1650.5 3140.5 L1652.5 3140.5 L1654.5 3140.4 L1656.5 3140.4 L1658.5 3140.4 L1660.5 3140.4 L1662.5 3140.3 L1664.5 3140.3 L1666.5 3140.3 L1668.5 3140.3 L1670.5 3140.2 L1672.5 3140.2 L1674.5 3140.2 L1676.5 3140.1 L1678.5 3140.1 L1680.5 3140.1 L1682.5 3140.1 L1684.5 3140 L1686.5 3140 L1688.5 3140 L1690.5 3139.9 L1692.5 3139.9 L1694.5 3139.9 L1696.5 3139.8 L1698.5 3139.8 L1700.5 3139.8 L1702.5 3139.7 L1704.5 3139.7 L1706.5 3139.7 L1708.5 3139.7 L1710.5 3139.6 L1712.5 3139.6 L1714.5 3139.6 L1716.5 3139.5 L1718.5 3139.5 L1720.5 3139.5 L1722.5 3139.4 L1724.5 3139.4 L1726.5 3139.4 L1728.5 3139.3 L1730.5 3139.3 L1732.5 3139.3 L1734.5 3139.2 L1736.5 3139.2 L1738.5 3139.2 L1740.5 3139.2 L1742.5 3139.1 L1744.5 3139.1 L1746.5 3139.1 L1748.5 3139 L1750.5 3139 L1752.5 3139 L1754.5 3139 L1756.5 3138.9 L1758.5 3138.9 L1760.5 3138.9 L1762.5 3138.9 L1764.5 3138.8 L1766.5 3138.8 L1768.5 3138.8 L1770.5 3138.8 L1772.5 3138.7 L1774.5 3138.7 L1776.5 3138.7 L1778.5 3138.7 L1780.5 3138.6 L1782.5 3138.6 L1784.5 3138.6 L1786.5 3138.6 L1788.5 3138.6 L1790.5 3138.5 L1792.5 3138.5 L1794.5 3138.5 L1796.5 3138.5 L1798.5 3138.5 L1800.5 3138.5 L1802.5 3138.4 L1804.5 3138.4 L1806.5 3138.4 L1808.5 3138.4 L1808.8 3138.4 L1810.5 3138.4 L1812.5 3138.4 L1814.5 3138.4 L1816.5 3138.4 L1818.5 3138.3 L1820.5 3138.3 L1822.5 3138.3 L1824.5 3138.3 L1826.5 3138.3 L1828.5 3138.3 L1830.5 3138.3 L1832.5 3138.3 L1834.5 3138.2 L1836.5 3138.2 L1838.5 3138.2 L1840.5 3138.2 L1842.5 3138.2 L1844.5 3138.2 L1846.5 3138.2 L1848.5 3138.2 L1850.5 3138.2 L1852.5 3138.1 L1854.5 3138.1 L1856.5 3138.1 L1858.5 3138.1 L1860.5 3138.1 L1862.5 3138.1 L1864.5 3138.1 L1866.5 3138.1 L1868.5 3138.1 L1870.5 3138 L1872.5 3138 L1874.5 3138 L1876.5 3138 L1878.5 3138 L1880.5 3138 L1882.5 3138 L1884.5 3138 L1886.5 3138 L1888.5 3138 L1890.5 3137.9 L1892.5 3137.9 L1894.5 3137.9 L1896.5 3137.9 L1898.5 3137.9 L1900.5 3137.9 L1902.5 3137.9 L1904.5 3137.9 L1906.5 3137.9 L1908.5 3137.9 L1910.5 3137.9 L1912.5 3137.8 L1914.5 3137.8 L1916.5 3137.8 L1918.5 3137.8 L1920.5 3137.8 L1922.5 3137.8 L1924.5 3137.8 L1926.5 3137.8 L1928.5 3137.8 L1930.5 3137.8 L1932.5 3137.8 L1934.5 3137.8 L1936.5 3137.8 L1938.5 3137.7 L1940.5 3137.7 L1942.5 3137.7 L1944.5 3137.7 L1946.5 3137.7 L1948.5 3137.7 L1950.5 3137.7 L1952.5 3137.7 L1954.5 3137.7 L1956.5 3137.7 L1958.5 3137.7 L1960.5 3137.7 L1962.5 3137.7 L1964.5 3137.7 L1966.5 3137.7 L1968.5 3137.7 L1970.5 3137.7 L1972.5 3137.6 L1974.5 3137.6 L1976.5 3137.6 L1978.5 3137.6 L1980.5 3137.6 L1982.5 3137.6 L1984.5 3137.6 L1986.5 3137.6 L1988.5 3137.6 L1990.5 3137.6 L1992.5 3137.6 L1994.5 3137.6 L1996.5 3137.6 L1998.5 3137.6 L2000.5 3137.6 L2002.5 3137.6 L2004.5 3137.6 L2006.5 3137.6 L2008.5 3137.6 L2010.5 3137.6 L2012.5 3137.6 L2014.5 3137.6 L2016.5 3137.6 L2017.5 3137.6 L2018.5 3137.6 L2020.5 3137.6 L2022.5 3137.6 L2024.5 3137.6 L2026.5 3137.6 L2028.5 3137.6 L2030.5 3137.6 L2032.5 3137.6 L2034.5 3137.7 L2036.5 3137.7 L2038.5 3137.7 L2040.5 3137.7 L2042.5 3137.7 L2044.5 3137.7 L2046.5 3137.8 L2048.5 3137.8 L2050.5 3137.8 L2052.5 3137.8 L2054.5 3137.8 L2056.5 3137.9 L2058.5 3137.9 L2060.5 3137.9 L2062.5 3138 L2064.5 3138 L2066.5 3138 L2068.5 3138 L2070.5 3138.1 L2072.5 3138.1 L2074.5 3138.1 L2076.5 3138.2 L2078.5 3138.2 L2080.5 3138.3 L2082.5 3138.3 L2084.5 3138.3 L2086.5 3138.4 L2088.5 3138.4 L2090.5 3138.5 L2092.5 3138.5 L2094.5 3138.5 L2096.5 3138.6 L2098.5 3138.6 L2100.5 3138.7 L2102.5 3138.7 L2104.5 3138.8 L2106.5 3138.8 L2108.5 3138.9 L2110.5 3138.9 L2112.5 3139 L2114.5 3139 L2116.5 3139.1 L2118.5 3139.1 L2120.5 3139.2 L2122.5 3139.2 L2124.5 3139.3 L2126.5 3139.3 L2128.5 3139.4 L2130.5 3139.4 L2132.5 3139.5 L2134.5 3139.6 L2136.5 3139.6 L2138.5 3139.7 L2140.5 3139.7 L2142.5 3139.8 L2144.5 3139.8 L2146.5 3139.9 L2148.5 3139.9 L2150.5 3140 L2152.5 3140.1 L2154.5 3140.1 L2156.5 3140.2 L2158.5 3140.2 L2160.5 3140.3 L2162.5 3140.3 L2164.5 3140.4 L2166.5 3140.5 L2167.8 3140.5" stroke="#4472C4" stroke-width="7.5" fill="none" stroke-linejoin="round" stroke-linecap="round"/>
<path d="M514.5 3472.1 L516.5 3471.3 L518.5 3470.9 L520.5 3473.9 L522.5 3471.8 L524.5 3472.5 L526.5 3472.3 L528.5 3472.6 L530.5 3471.6 L532.5 3472.6 L534.5 3470.4 L536.5 3473.2 L538.5 3470.2 L540.5 3470.5 L542.5 3472.1 L544.5 3470.7 L546.5 3470 L548.5 3473.6 L550.5 3470.5 L552.5 3472.2 L554.5 3471.3 L556.5 3470.6 L558.5 3471.1 L560.5 3469 L562.5 3468.5 L564.5 3468.9 L566.5 3470.7 L568.5 3469 L570.5 3468.8 L572.5 3469.1 L574.5 3470.4 L576.5 3467 L578.5 3467.4 L580.5 3468.6 L582.5 3470.9 L584.5 3467.6 L586.5 3467.6 L588.5 3468.7 L590.5 3470 L592.5 3466.2 L594.5 3467.8 L596.5 3466.8 L598.5 3468.6 L600.5 3467.1 L602.5 3470.8 L604.5 3465.4 L606.5 3466.6 L608.5 3467 L609.4 3467.8 L610.5 3467.6 L612.5 3466.3 L614.5 3465.9 L616.5 3466 L618.5 3465.5 L620.5 3466.8 L622.5 3466.8 L624.5 3466.6 L626.5 3467.1 L628.5 3467.1 L630.5 3464.7 L632.5 3465.8 L634.5 3465.4 L636.5 3466.2 L638.5 3468.2 L640.5 3464.6 L642.5 3468.8 L644.5 3465.3 L646.5 3467.3 L648.5 3464.6 L650.5 3466.7 L652.5 3465.7 L654.5 3467.2 L656.5 3467.6 L658.5 3467.2 L660.5 3465.3 L662.5 3464.1 L664.5 3465.2 L666.5 3465.1 L668.5 3464.4 L670.5 3466.1 L672.5 3466 L674.5 3464.9 L676.5 3465.6 L678.5 3466.9 L680.5 3466 L682.5 3466.5 L684.5 3464.9 L686.5 3465.7 L688.5 3463.8 L690.5 3463.8 L692.5 3465.8 L694.5 3465.8 L696.5 3465.1 L698.5 3464.2 L700.5 3464.7 L702.5 3463.4 L704.5 3463.9 L706.5 3464.6 L708.5 3465.8 L710.5 3464.9 L712.5 3465.2 L714.5 3464.5 L716.5 3464.3 L718.5 3465.5 L720.5 3465.6 L722.5 3462.7 L724.5 3463.7 L726.5 3465.7 L728.5 3464.1 L730.5 3463.6 L732.5 3467.6 L734.5 3465.5 L736.5 3464.9 L738.5 3467.5 L740.5 3469.4 L742.5 3471 L744.5 3471.7 L746.5 3475 L748.5 3476.7 L750.5 3477.5 L751.8 3478.3 L752.5 3477.8 L754.5 3478.1 L756.5 3478.5 L758.5 3479.1 L760.5 3476 L762.5 3479.6 L764.5 3476.9 L766.5 3477.6 L768.5 3478 L770.5 3478.4 L772.5 3477.6 L774.5 3476.4 L776.5 3478.3 L778.5 3476.3 L780.5 3477.6 L782.5 3477.7 L784.5 3476.1 L786.5 3479.2 L788.5 3475.5 L790.5 3478.1 L792.5 3473.4 L794.5 3474.9 L796.5 3476.4 L798.5 3474.6 L800.5 3475.4 L802.5 3474.1 L804.5 3475.4 L806.5 3475.5 L808.5 3473.2 L810.5 3473.2 L812.5 3472.3 L814.5 3472.8 L816.5 3471.7 L818.5 3475.2 L820.5 3473.9 L822.5 3471.4 L824.5 3471.9 L825.1 3472.2 L826.5 3471.2 L828.5 3469.4 L830.5 3469.5 L832.5 3470.4 L834.5 3470.7 L836.5 3469.1 L838.5 3468.6 L840.5 3468.9 L842.5 3469.7 L844.5 3466.7 L846.5 3468.2 L848.5 3468.4 L850.5 3467.2 L852.5 3464.9 L854.5 3464.1 L856.5 3462.6 L858.5 3464.1 L860.5 3460 L862.5 3462.5 L864.5 3461.1 L866.5 3460.5 L868.5 3459.4 L870.5 3459.3 L872.5 3458.1 L874.5 3458 L876.5 3456.9 L878.5 3453.1 L880.5 3454 L881.2 3453.5 L882.5 3451.5 L884.5 3447.5 L886.5 3449.2 L888.5 3442.5 L890.5 3438.7 L892.5 3436.9 L894.5 3433.3 L896.5 3429.2 L898.5 3423.5 L900.5 3420.9 L902.5 3416.4 L904.5 3411.6 L906.5 3406.6 L908.5 3401.7 L909.2 3400 L910.5 3396.8 L912.5 3391.8 L914.5 3386.6 L916.5 3381.4 L918.5 3376.2 L920.5 3371.1 L922.5 3366.3 L924.5 3361.9 L926 3358.8 L926.5 3357.8 L928.5 3353.9 L930.5 3349.9 L932.5 3345.9 L934.5 3342.1 L936.5 3338.5 L938.5 3335.1 L940.5 3332.1 L942.5 3329.5 L944.5 3327.3 L946.5 3325.6 L946.8 3325.4 L948.5 3324.3 L950.5 3323.1 L952.5 3321.9 L954.5 3320.8 L956.5 3319.9 L958.5 3319 L960.5 3318.3 L962.5 3317.7 L964.5 3317.3 L966.5 3317 L967.7 3317 L968.5 3317 L970.5 3317.5 L972.5 3318.3 L974.5 3319.3 L976.5 3320.4 L978.5 3321.5 L980.5 3322.4 L982.5 3323.1 L984.4 3323.3 L984.5 3323.3 L986.5 3322.6 L988.5 3320.6 L990.5 3317.8 L992.5 3314.1 L994.5 3309.9 L996.5 3305.4 L996.9 3304.5 L1000 3300.2 L1003.6 3296.7 L1007.2 3292.2 L1010.8 3289.7 L1014.4 3288.2 L1018 3286.4 L1021.6 3283.2 L1025.2 3277.4 L1028.8 3275 L1032.4 3278.4 L1036 3279 L1039.6 3279.9 L1043.2 3283.6 L1046.8 3291.8 L1050.4 3292.3 L1054 3289.9 L1057.6 3293 L1061.2 3280.9 L1064.8 3281.1 L1068.4 3296.3 L1072 3302.3 L1075.6 3297.9 L1079.2 3301.3 L1082.8 3304.1 L1086.4 3305.2 L1090 3309.9 L1093.6 3308.9 L1097.2 3302.1 L1100.8 3296.6 L1104.4 3299 L1108 3297.4 L1111.6 3290.9 L1115.2 3323.6 L1118.8 3296.6 L1122.4 3297.4 L1126 3302.2 L1129.6 3311.8 L1133.2 3316.7 L1136.8 3314.3 L1140.4 3312.6 L1144 3312.8 L1147.6 3317.1 L1151.2 3315 L1154.8 3309.2 L1158.4 3306.9 L1162 3311.8 L1165.6 3307.7 L1169.2 3315.5 L1172.8 3316.8 L1176.4 3314.1 L1180 3312.4 L1183.6 3313.8 L1187.2 3307.5 L1190.8 3303.9 L1194.4 3298.9 L1198 3299.8 L1201.6 3297.1 L1205.2 3298 L1208.8 3310.1 L1212.4 3309.3 L1216 3299.3 L1219.6 3292.1 L1223.2 3299.7 L1226.8 3302.6 L1230.4 3298 L1234 3293.1 L1237.6 3304 L1241.2 3371 L1244.8 3296.3 L1248.4 3289.2 L1252 3292.1 L1255.6 3288.9 L1259.2 3293.4 L1262.8 3296 L1266.4 3294.7 L1270 3301.5 L1273.6 3300.7 L1277.2 3301.5 L1280.8 3303.6 L1284.4 3305 L1288 3305.9 L1291.6 3299.6 L1295.2 3301.7 L1298.8 3299 L1302.4 3295.8 L1306 3295.4 L1309.6 3296.8 L1313.2 3291.6 L1316.8 3289.1 L1320.4 3299.1 L1324 3300.5 L1327.6 3299.1 L1331.2 3299.4 L1334.8 3292.2 L1338.4 3298.1 L1342 3292.1 L1345.6 3294.8 L1349.2 3303.5 L1352.8 3306.4 L1356.4 3402.7 L1360 3300.5 L1363.6 3306.1 L1367.2 3310.1 L1370.8 3300.4 L1374.4 3299.3 L1378 3298.1 L1381.6 3304.3 L1385.2 3307.1 L1388.8 3306.8 L1392.4 3302.6 L1396 3296.1 L1399.6 3294.8 L1403.2 3297.3 L1406.8 3302.3 L1410.4 3300 L1414 3297.9 L1417.6 3297.6 L1421.2 3288.6 L1424.8 3285.6 L1428.4 3294.3 L1432 3305.3 L1435.6 3299 L1439.2 3295.1 L1442.8 3294.7 L1446.4 3283.5 L1450 3288.6 L1453.6 3295.3 L1457.2 3300.2 L1460.8 3297.8 L1464.4 3292.4 L1468 3289.2 L1471.6 3287.1 L1475.2 3285.3 L1478.8 3287.6 L1482.4 3289.9 L1486 3292.3 L1489.6 3298.9 L1493.2 3304.7 L1496.8 3299 L1500.4 3298.2 L1504 3297.5 L1507.6 3291.7 L1511.2 3286.4 L1514.8 3290.6 L1518.4 3299.1 L1522 3291 L1525.6 3280.1 L1529.2 3288.9 L1532.8 3294.5 L1536.4 3291.7 L1540 3287.7 L1543.6 3291.6 L1547.2 3302.9 L1550.8 3306 L1554.4 3302.3 L1558 3298.4 L1561.6 3297.3 L1565.2 3301.2 L1568.8 3301.6 L1572.4 3303.1 L1576 3293.9 L1579.6 3294.1 L1583.2 3294 L1586.8 3291.1 L1590.4 3291.1 L1594 3290.4 L1597.6 3293.5 L1601.2 3289.6 L1604.8 3286 L1608.4 3282.4 L1612 3281.1 L1615.6 3288.9 L1619.2 3289.9 L1622.8 3289.2 L1626.4 3285.4 L1630 3288.4 L1633.6 3289.1 L1637.2 3296.5 L1640.8 3299.4 L1644.4 3297.3 L1648 3293.7 L1651.6 3290.8 L1655.2 3299 L1658.8 3304.5 L1662.4 3298.6 L1666 3295.9 L1669.6 3297.8 L1673.2 3297.8 L1676.8 3299.1 L1680.4 3296.3 L1684 3297 L1687.6 3305.2 L1691.2 3335 L1694.8 3299.8 L1698.4 3296.3 L1702 3302.2 L1705.6 3301 L1709.2 3298.8 L1712.8 3298.4 L1716.4 3332.8 L1720 3295.9 L1723.6 3299.2 L1727.2 3296 L1730.8 3293.2 L1734.4 3295.9 L1738 3301.1 L1741.6 3296.2 L1745.2 3288.1 L1748.8 3289.3 L1752.4 3293.4 L1756 3290.4 L1759.6 3295.3 L1763.2 3293.5 L1766.8 3291.6 L1770.4 3294.3 L1774 3293.5 L1777.6 3284.3 L1781.2 3283.3 L1784.8 3289.6 L1788.4 3292.8 L1792 3296.6 L1795.6 3294.4 L1799.2 3282.6 L1802.8 3274.5 L1806.4 3283.6 L1810 3295.2 L1813.6 3295.7 L1817.2 3286.8 L1820.8 3290.2 L1824.4 3287.6 L1828 3283.2 L1831.6 3278.9 L1835.2 3286.5 L1838.8 3293.5 L1842.4 3292.6 L1846 3287.4 L1849.6 3287.1 L1853.2 3291.4 L1856.8 3291.9 L1860.4 3284.1 L1864 3287.6 L1867.6 3292.4 L1871.2 3287.9 L1874.8 3286.6 L1878.4 3318 L1882 3281.9 L1885.6 3280.7 L1889.2 3288.8 L1892.8 3288.6 L1896.4 3295.8 L1900 3293.2 L1903.6 3278.9 L1907.2 3274.2 L1910.8 3283.9 L1914.4 3284 L1918 3296 L1921.6 3283 L1925.2 3278.9 L1928.8 3283.7 L1932.4 3281.8 L1936 3283.9 L1939.6 3295.3 L1943.2 3298.9 L1946.8 3289.9 L1950.4 3279.5 L1954 3283.6 L1957.6 3285.7 L1961.2 3285.7 L1964.8 3289.6 L1968.4 3283.3 L1972 3273.1 L1975.6 3273.4 L1979.2 3286.8 L1982.8 3292.2 L1986.4 3279.6 L1990 3277.8 L1993.6 3289.5 L1997.2 3286.3 L2000.8 3285.9 L2004.4 3289.8 L2008 3284.6 L2011.6 3277.6 L2015.2 3271.5 L2018.8 3281.7 L2022.4 3283.5 L2026 3290.8 L2029.6 3284.8 L2033.2 3277 L2036.8 3286.1 L2040.4 3285.6 L2044 3290.2 L2047.6 3289 L2051.2 3322 L2054.8 3275.9 L2058.4 3282.4 L2062 3282 L2065.6 3276.4 L2069.2 3278.8 L2072.8 3282.5 L2076.4 3280.3 L2080 3280 L2083.6 3282.1 L2087.2 3277.1 L2090.8 3269.6 L2094.4 3277.9 L2098 3286.5 L2101.6 3285.2 L2105.2 3277.9 L2108.8 3287.4 L2112.4 3298.4 L2116 3328.2 L2119.6 3273.3 L2123.2 3272.8 L2126.8 3278.2 L2130.4 3274.8 L2134 3274.8 L2137.6 3282.1 L2141.2 3285.6 L2144.8 3286.6 L2148.4 3283.6 L2152 3274 L2155.6 3275 L2159.2 3285 L2162.8 3284.8 L2166.4 3281.8" stroke="#ED7D31" stroke-width="7" fill="none" stroke-linejoin="round" stroke-linecap="round"/>
<text x="1386" y="3073.2" font-size="105" font-weight="bold" fill="#5B9BD5">G′</text>
<text x="1386" y="3514.3" font-size="105" font-weight="bold" fill="#FF9900">G″</text>
</svg>
</body></html>
